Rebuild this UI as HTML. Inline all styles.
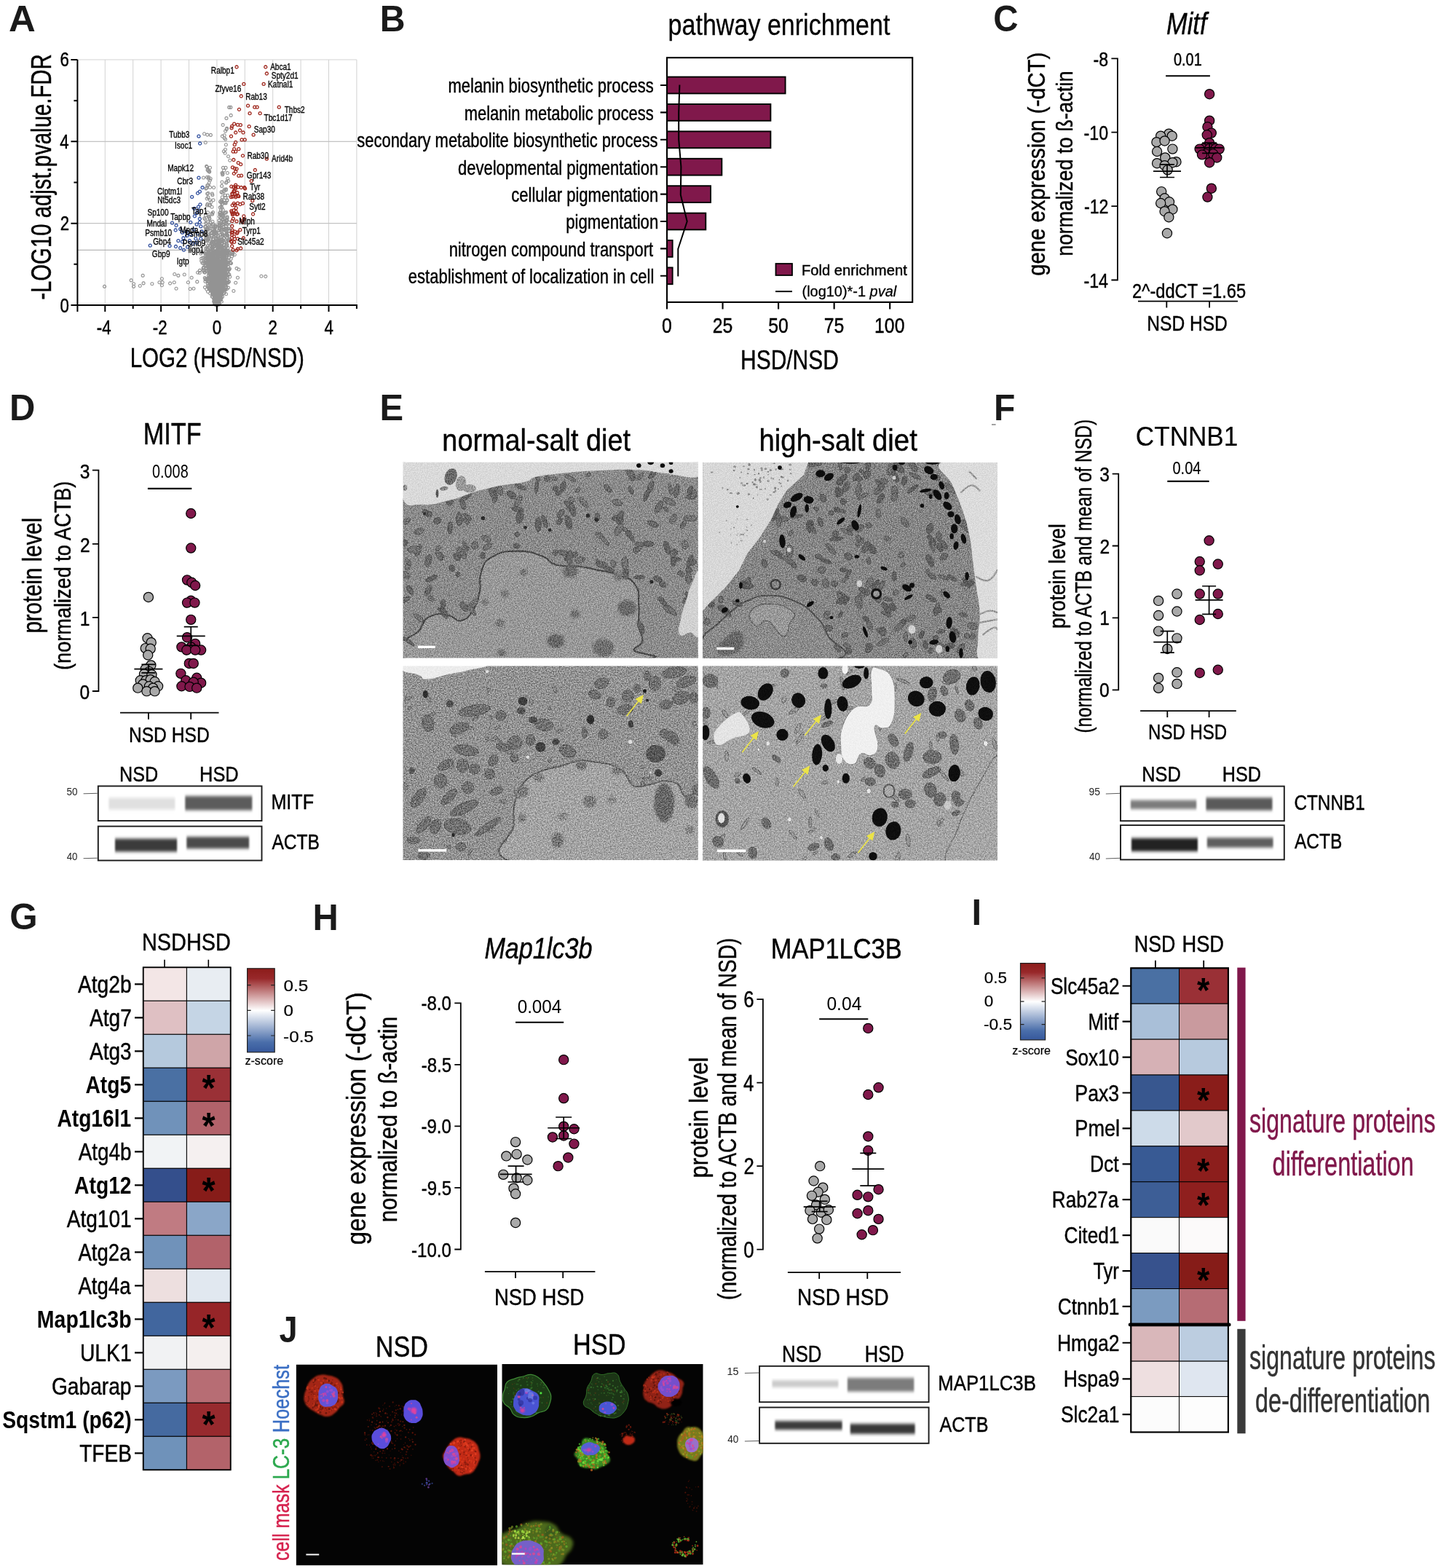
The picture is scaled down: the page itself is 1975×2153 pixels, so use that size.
<!DOCTYPE html>
<html lang="en"><head><meta charset="utf-8"><title>Figure</title>
<style>
html,body{margin:0;padding:0;background:#fff}
svg{display:block}
text{font-family:"Liberation Sans",sans-serif}
</style></head><body>
<svg width="1975" height="2153" viewBox="0 0 1975 2153">
<defs>



<filter id="bl" x="-10%" y="-30%" width="120%" height="160%"><feGaussianBlur stdDeviation="1.2 2.3"/></filter>
<clipPath id="ce1"><rect x="553.5" y="634.7" width="405.3" height="268.9"/></clipPath>
<clipPath id="ce2"><rect x="965.1" y="634.9" width="404.9" height="269"/></clipPath>
<clipPath id="ce3"><rect x="553.5" y="914.4" width="405.3" height="266.5"/></clipPath>
<clipPath id="ce4"><rect x="965.1" y="914.4" width="404.9" height="267.1"/></clipPath>
<filter id="emn1" x="0" y="0" width="100%" height="100%" color-interpolation-filters="sRGB"><feTurbulence type="fractalNoise" baseFrequency="0.7" numOctaves="3" seed="3"/><feColorMatrix type="matrix" values="0.75 0 0 0 0.12  0.75 0 0 0 0.12  0.75 0 0 0 0.12  0 0 0 0 1"/></filter>
<filter id="emn2" x="0" y="0" width="100%" height="100%" color-interpolation-filters="sRGB"><feTurbulence type="fractalNoise" baseFrequency="0.7" numOctaves="3" seed="4"/><feColorMatrix type="matrix" values="0.75 0 0 0 0.12  0.75 0 0 0 0.12  0.75 0 0 0 0.12  0 0 0 0 1"/></filter>
<filter id="emn3" x="0" y="0" width="100%" height="100%" color-interpolation-filters="sRGB"><feTurbulence type="fractalNoise" baseFrequency="0.6" numOctaves="3" seed="5"/><feColorMatrix type="matrix" values="0.85 0 0 0 0.08  0.85 0 0 0 0.08  0.85 0 0 0 0.08  0 0 0 0 1"/></filter>
<filter id="emn4" x="0" y="0" width="100%" height="100%" color-interpolation-filters="sRGB"><feTurbulence type="fractalNoise" baseFrequency="0.6" numOctaves="3" seed="6"/><feColorMatrix type="matrix" values="0.8 0 0 0 0.1  0.8 0 0 0 0.1  0.8 0 0 0 0.1  0 0 0 0 1"/></filter>
<filter id="b6" x="-30%" y="-30%" width="160%" height="160%"><feGaussianBlur stdDeviation="7"/></filter>

<linearGradient id="zg" x1="0" y1="0" x2="0" y2="1"><stop offset="0" stop-color="#8c1c1a"/><stop offset=".12" stop-color="#98282a"/><stop offset=".5" stop-color="#ffffff"/><stop offset=".88" stop-color="#4a6eaa"/><stop offset="1" stop-color="#36589c"/></linearGradient>


<clipPath id="cj1"><rect x="406.6" y="1873.5" width="276.4" height="276.1"/></clipPath>
<clipPath id="cj2"><rect x="689.3" y="1872.9" width="276.4" height="275.7"/></clipPath>
<filter id="jb2" x="-30%" y="-30%" width="160%" height="160%"><feGaussianBlur stdDeviation="2"/></filter>
<filter id="jb4" x="-30%" y="-30%" width="160%" height="160%"><feGaussianBlur stdDeviation="5"/></filter>
<filter id="jb8" x="-30%" y="-30%" width="160%" height="160%"><feGaussianBlur stdDeviation="12"/></filter>
</defs>
<rect width="1975" height="2153" fill="#fff"/>
<g id="pA">
<path d="M144.3 81.98V419M182.7 81.98V419M221.1 81.98V419M259.5 81.98V419M297.9 81.98V419M336.3 81.98V419M374.7 81.98V419M413.1 81.98V419M451.5 81.98V419M489.9 81.98V419M105.9 306.66H489.9M105.9 194.32H489.9M105.9 81.98H489.9" stroke="#d2d2d2" stroke-width="1" fill="none"/>
<path d="M105.9 343.3H489.9" stroke="#a6a6a6" stroke-width="1" fill="none"/>
<path d="M105.9 306.66H489.9 M105.9 194.32H489.9" stroke="#c0c0c0" stroke-width="1" fill="none"/>
<path d="M298.4 421a2 2 0 1 1 .1 0m0.1 0a2 2 0 1 1 .1 0m-0.1 0a2 2 0 1 1 .1 0m-1.5 -0.1a2 2 0 1 1 .1 0m1.2 0a2 2 0 1 1 .1 0m-0.2 0a2 2 0 1 1 .1 0m0.3 0a2 2 0 1 1 .1 0m-2.1 0a2 2 0 1 1 .1 0m0.8 0a2 2 0 1 1 .1 0m-1.3 0a2 2 0 1 1 .1 0m1 0a2 2 0 1 1 .1 0m0.2 -0.1a2 2 0 1 1 .1 0m-0.6 0a2 2 0 1 1 .1 0m2 0a2 2 0 1 1 .1 0m-1 -0.1a2 2 0 1 1 .1 0m-1.3 0a2 2 0 1 1 .1 0m1.4 0a2 2 0 1 1 .1 0m-1.1 0a2 2 0 1 1 .1 0m-0.2 0a2 2 0 1 1 .1 0m1.4 0a2 2 0 1 1 .1 0m-0.6 0a2 2 0 1 1 .1 0m-0.8 -0.1a2 2 0 1 1 .1 0m-1.3 0a2 2 0 1 1 .1 0m2.2 0a2 2 0 1 1 .1 0m-0.2 0a2 2 0 1 1 .1 0m0.1 0a2 2 0 1 1 .1 0m-1 0a2 2 0 1 1 .1 0m0.7 0a2 2 0 1 1 .1 0m-1.1 0a2 2 0 1 1 .1 0m1.1 0a2 2 0 1 1 .1 0m-2.4 0a2 2 0 1 1 .1 0m0.6 0a2 2 0 1 1 .1 0m1.1 -0.1a2 2 0 1 1 .1 0m-0.5 0a2 2 0 1 1 .1 0m0.4 0a2 2 0 1 1 .1 0m0.3 0a2 2 0 1 1 .1 0m0 -0.1a2 2 0 1 1 .1 0m-0.6 0a2 2 0 1 1 .1 0m0 0a2 2 0 1 1 .1 0m-1.9 0a2 2 0 1 1 .1 0m0.4 0a2 2 0 1 1 .1 0m0.1 0a2 2 0 1 1 .1 0m1 0a2 2 0 1 1 .1 0m-2.3 0a2 2 0 1 1 .1 0m0.8 0a2 2 0 1 1 .1 0m0.7 -0.1a2 2 0 1 1 .1 0m-1.1 0a2 2 0 1 1 .1 0m0.5 0a2 2 0 1 1 .1 0m-1.6 0a2 2 0 1 1 .1 0m0.8 0a2 2 0 1 1 .1 0m-0.7 0a2 2 0 1 1 .1 0m0.8 -0.1a2 2 0 1 1 .1 0m1 0a2 2 0 1 1 .1 0m-0.3 0a2 2 0 1 1 .1 0m0.2 0a2 2 0 1 1 .1 0m-0.7 0a2 2 0 1 1 .1 0m0.6 0a2 2 0 1 1 .1 0m-1.8 0a2 2 0 1 1 .1 0m-0.6 0a2 2 0 1 1 .1 0m2.5 -0.1a2 2 0 1 1 .1 0m-2.8 0a2 2 0 1 1 .1 0m1.4 0a2 2 0 1 1 .1 0m0.7 0a2 2 0 1 1 .1 0m-0.5 -0.1a2 2 0 1 1 .1 0m-0.5 0a2 2 0 1 1 .1 0m-2.5 -0.1a2 2 0 1 1 .1 0m2.2 0a2 2 0 1 1 .1 0m-1.1 -0.1a2 2 0 1 1 .1 0m4 0a2 2 0 1 1 .1 0m-4.1 0a2 2 0 1 1 .1 0m1.2 0a2 2 0 1 1 .1 0m0.3 0a2 2 0 1 1 .1 0m-1.4 0a2 2 0 1 1 .1 0m-0.3 -0.1a2 2 0 1 1 .1 0m1.3 0a2 2 0 1 1 .1 0m-1.8 0a2 2 0 1 1 .1 0m-0.2 0a2 2 0 1 1 .1 0m1 0a2 2 0 1 1 .1 0m-2.2 0a2 2 0 1 1 .1 0m0.9 0a2 2 0 1 1 .1 0m1.3 0a2 2 0 1 1 .1 0m0 -0.1a2 2 0 1 1 .1 0m-1.4 0a2 2 0 1 1 .1 0m1.3 0a2 2 0 1 1 .1 0m-0.3 0a2 2 0 1 1 .1 0m0.8 0a2 2 0 1 1 .1 0m-1.2 0a2 2 0 1 1 .1 0m-0.3 0a2 2 0 1 1 .1 0m-0.9 -0.1a2 2 0 1 1 .1 0m2.2 0a2 2 0 1 1 .1 0m-0.2 0a2 2 0 1 1 .1 0m-2.1 0a2 2 0 1 1 .1 0m0.4 0a2 2 0 1 1 .1 0m-2.2 0a2 2 0 1 1 .1 0m3.5 0a2 2 0 1 1 .1 0m-3 -0.1a2 2 0 1 1 .1 0m-0.3 0a2 2 0 1 1 .1 0m3.2 0a2 2 0 1 1 .1 0m-1.5 0a2 2 0 1 1 .1 0m-1.5 -0.1a2 2 0 1 1 .1 0m1.2 0a2 2 0 1 1 .1 0m0.5 0a2 2 0 1 1 .1 0m0 0a2 2 0 1 1 .1 0m-1.4 0a2 2 0 1 1 .1 0m-0.6 0a2 2 0 1 1 .1 0m0.7 0a2 2 0 1 1 .1 0m0.4 0a2 2 0 1 1 .1 0m-0.5 -0.1a2 2 0 1 1 .1 0m1.5 0a2 2 0 1 1 .1 0m-0.6 0a2 2 0 1 1 .1 0m0.2 0a2 2 0 1 1 .1 0m-1.8 0a2 2 0 1 1 .1 0m1.5 0a2 2 0 1 1 .1 0m-2 0a2 2 0 1 1 .1 0m-0.1 -0.1a2 2 0 1 1 .1 0m-1.1 0a2 2 0 1 1 .1 0m0 0a2 2 0 1 1 .1 0m1.2 0a2 2 0 1 1 .1 0m0.7 -0.1a2 2 0 1 1 .1 0m-1 0a2 2 0 1 1 .1 0m-0.8 0a2 2 0 1 1 .1 0m1.2 0a2 2 0 1 1 .1 0m-1 0a2 2 0 1 1 .1 0m1.5 0a2 2 0 1 1 .1 0m-0.5 -0.1a2 2 0 1 1 .1 0m-1.8 0a2 2 0 1 1 .1 0m1.7 0a2 2 0 1 1 .1 0m-2.1 -0.1a2 2 0 1 1 .1 0m-0.3 0a2 2 0 1 1 .1 0m-2 0a2 2 0 1 1 .1 0m4.2 0a2 2 0 1 1 .1 0m-2.5 -0.1a2 2 0 1 1 .1 0m2.8 0a2 2 0 1 1 .1 0m-2.5 0a2 2 0 1 1 .1 0m1.1 0a2 2 0 1 1 .1 0m2.3 0a2 2 0 1 1 .1 0m-3.2 0a2 2 0 1 1 .1 0m0.5 0a2 2 0 1 1 .1 0m-1.1 0a2 2 0 1 1 .1 0m1.1 -0.1a2 2 0 1 1 .1 0m-1.4 0a2 2 0 1 1 .1 0m0.9 0a2 2 0 1 1 .1 0m1.7 0a2 2 0 1 1 .1 0m-0.6 0a2 2 0 1 1 .1 0m-2.3 0a2 2 0 1 1 .1 0m0.8 0a2 2 0 1 1 .1 0m0.1 -0.1a2 2 0 1 1 .1 0m-1.5 0a2 2 0 1 1 .1 0m-0.1 0a2 2 0 1 1 .1 0m1.3 0a2 2 0 1 1 .1 0m1 0a2 2 0 1 1 .1 0m-1.8 0a2 2 0 1 1 .1 0m-0.6 0a2 2 0 1 1 .1 0m-0.6 0a2 2 0 1 1 .1 0m-2 0a2 2 0 1 1 .1 0m4.7 -0.1a2 2 0 1 1 .1 0m-2.4 0a2 2 0 1 1 .1 0m-0.9 -0.1a2 2 0 1 1 .1 0m1.5 0a2 2 0 1 1 .1 0m-1.9 0a2 2 0 1 1 .1 0m-2.3 0a2 2 0 1 1 .1 0m3 0a2 2 0 1 1 .1 0m-0.8 0a2 2 0 1 1 .1 0m1.3 0a2 2 0 1 1 .1 0m-0.6 0a2 2 0 1 1 .1 0m1.3 0a2 2 0 1 1 .1 0m1 0a2 2 0 1 1 .1 0m-0.1 -0.1a2 2 0 1 1 .1 0m-3.6 0a2 2 0 1 1 .1 0m1.1 0a2 2 0 1 1 .1 0m-0.7 0a2 2 0 1 1 .1 0m0.4 0a2 2 0 1 1 .1 0m0.8 0a2 2 0 1 1 .1 0m1.4 0a2 2 0 1 1 .1 0m-1.4 0a2 2 0 1 1 .1 0m1 0a2 2 0 1 1 .1 0m-0.3 -0.1a2 2 0 1 1 .1 0m-2.6 0a2 2 0 1 1 .1 0m1.4 0a2 2 0 1 1 .1 0m-0.8 -0.1a2 2 0 1 1 .1 0m-1.5 0a2 2 0 1 1 .1 0m2.7 0a2 2 0 1 1 .1 0m-0.8 0a2 2 0 1 1 .1 0m1.7 -0.1a2 2 0 1 1 .1 0m-3.7 0a2 2 0 1 1 .1 0m-0.2 -0.1a2 2 0 1 1 .1 0m0.2 0a2 2 0 1 1 .1 0m2.8 0a2 2 0 1 1 .1 0m-2.1 0a2 2 0 1 1 .1 0m-0.8 0a2 2 0 1 1 .1 0m-0.3 -0.1a2 2 0 1 1 .1 0m1.6 0a2 2 0 1 1 .1 0m1.2 0a2 2 0 1 1 .1 0m-1.6 0a2 2 0 1 1 .1 0m-0.1 0a2 2 0 1 1 .1 0m-1.8 0a2 2 0 1 1 .1 0m1.4 0a2 2 0 1 1 .1 0m0.4 -0.1a2 2 0 1 1 .1 0m-2.3 0a2 2 0 1 1 .1 0m1.6 -0.1a2 2 0 1 1 .1 0m1.3 0a2 2 0 1 1 .1 0m-0.9 -0.1a2 2 0 1 1 .1 0m-1.4 0a2 2 0 1 1 .1 0m-1 0a2 2 0 1 1 .1 0m1.5 0a2 2 0 1 1 .1 0m-2.1 0a2 2 0 1 1 .1 0m0.7 -0.1a2 2 0 1 1 .1 0m1.3 0a2 2 0 1 1 .1 0m-1.1 0a2 2 0 1 1 .1 0m2.5 0a2 2 0 1 1 .1 0m-0.6 0a2 2 0 1 1 .1 0m-0.2 0a2 2 0 1 1 .1 0m-2.5 -0.1a2 2 0 1 1 .1 0m2.4 0a2 2 0 1 1 .1 0m-1.7 0a2 2 0 1 1 .1 0m-1.6 0a2 2 0 1 1 .1 0m1.1 0a2 2 0 1 1 .1 0m2.3 0a2 2 0 1 1 .1 0m-0.7 -0.1a2 2 0 1 1 .1 0m-4.7 0a2 2 0 1 1 .1 0m3.7 -0.1a2 2 0 1 1 .1 0m0.7 0a2 2 0 1 1 .1 0m-0.5 0a2 2 0 1 1 .1 0m-2.9 0a2 2 0 1 1 .1 0m3.4 -0.1a2 2 0 1 1 .1 0m-2 0a2 2 0 1 1 .1 0m1.9 0a2 2 0 1 1 .1 0m-3.4 -0.1a2 2 0 1 1 .1 0m1.2 0a2 2 0 1 1 .1 0m1.4 0a2 2 0 1 1 .1 0m1.1 -0.1a2 2 0 1 1 .1 0m-2.3 0a2 2 0 1 1 .1 0m0 -0.1a2 2 0 1 1 .1 0m-2.4 0a2 2 0 1 1 .1 0m0.8 0a2 2 0 1 1 .1 0m-0.1 0a2 2 0 1 1 .1 0m0.9 0a2 2 0 1 1 .1 0m-1.3 -0.1a2 2 0 1 1 .1 0m2.9 0a2 2 0 1 1 .1 0m-1 0a2 2 0 1 1 .1 0m-2.8 0a2 2 0 1 1 .1 0m-0.1 0a2 2 0 1 1 .1 0m0.3 -0.1a2 2 0 1 1 .1 0m3.5 0a2 2 0 1 1 .1 0m-2.4 0a2 2 0 1 1 .1 0m-0.1 0a2 2 0 1 1 .1 0m0.9 0a2 2 0 1 1 .1 0m-0.2 0a2 2 0 1 1 .1 0m1.1 -0.1a2 2 0 1 1 .1 0m-2.7 0a2 2 0 1 1 .1 0m2.4 0a2 2 0 1 1 .1 0m0.2 0a2 2 0 1 1 .1 0m-3.1 0a2 2 0 1 1 .1 0m-1.4 0a2 2 0 1 1 .1 0m2.9 0a2 2 0 1 1 .1 0m-2.2 0a2 2 0 1 1 .1 0m3 0a2 2 0 1 1 .1 0m4.2 0a2 2 0 1 1 .1 0m-4.8 0a2 2 0 1 1 .1 0m-0.4 0a2 2 0 1 1 .1 0m-3.3 0a2 2 0 1 1 .1 0m1.2 -0.1a2 2 0 1 1 .1 0m2.4 0a2 2 0 1 1 .1 0m-2.2 0a2 2 0 1 1 .1 0m-3.8 0a2 2 0 1 1 .1 0m5.3 0a2 2 0 1 1 .1 0m0 0a2 2 0 1 1 .1 0m-3 -0.1a2 2 0 1 1 .1 0m0 0a2 2 0 1 1 .1 0m0.9 0a2 2 0 1 1 .1 0m2.1 0a2 2 0 1 1 .1 0m-4.1 0a2 2 0 1 1 .1 0m3.1 0a2 2 0 1 1 .1 0m-3.1 -0.1a2 2 0 1 1 .1 0m2.5 0a2 2 0 1 1 .1 0m-2.8 0a2 2 0 1 1 .1 0m2.6 0a2 2 0 1 1 .1 0m0.7 -0.1a2 2 0 1 1 .1 0m0.2 0a2 2 0 1 1 .1 0m-3.2 0a2 2 0 1 1 .1 0m2.4 0a2 2 0 1 1 .1 0m-0.8 0a2 2 0 1 1 .1 0m-0.6 0a2 2 0 1 1 .1 0m-0.8 0a2 2 0 1 1 .1 0m0.6 0a2 2 0 1 1 .1 0m-0.5 -0.1a2 2 0 1 1 .1 0m1.9 0a2 2 0 1 1 .1 0m-2.8 0a2 2 0 1 1 .1 0m2.3 -0.1a2 2 0 1 1 .1 0m-4.3 0a2 2 0 1 1 .1 0m-1.7 0a2 2 0 1 1 .1 0m4.1 0a2 2 0 1 1 .1 0m-0.6 0a2 2 0 1 1 .1 0m1.5 0a2 2 0 1 1 .1 0m0.9 -0.1a2 2 0 1 1 .1 0m1 0a2 2 0 1 1 .1 0m-4.5 -0.1a2 2 0 1 1 .1 0m3.1 0a2 2 0 1 1 .1 0m-0.8 0a2 2 0 1 1 .1 0m0.1 0a2 2 0 1 1 .1 0m-1.2 0a2 2 0 1 1 .1 0m1.1 0a2 2 0 1 1 .1 0m-3.4 0a2 2 0 1 1 .1 0m-0.2 -0.1a2 2 0 1 1 .1 0m3.7 0a2 2 0 1 1 .1 0m-3.6 -0.1a2 2 0 1 1 .1 0m-0.4 0a2 2 0 1 1 .1 0m3.1 -0.1a2 2 0 1 1 .1 0m-1.2 0a2 2 0 1 1 .1 0m2.5 0a2 2 0 1 1 .1 0m-2.4 0a2 2 0 1 1 .1 0m-1.1 0a2 2 0 1 1 .1 0m1 0a2 2 0 1 1 .1 0m0.5 -0.1a2 2 0 1 1 .1 0m-3.2 0a2 2 0 1 1 .1 0m-0.1 0a2 2 0 1 1 .1 0m2.1 0a2 2 0 1 1 .1 0m-0.7 -0.1a2 2 0 1 1 .1 0m0.7 0a2 2 0 1 1 .1 0m0.2 0a2 2 0 1 1 .1 0m-2.7 -0.1a2 2 0 1 1 .1 0m4.2 0a2 2 0 1 1 .1 0m-3.8 0a2 2 0 1 1 .1 0m-0.7 0a2 2 0 1 1 .1 0m0.1 0a2 2 0 1 1 .1 0m-0.8 0a2 2 0 1 1 .1 0m-1 0a2 2 0 1 1 .1 0m0.9 -0.1a2 2 0 1 1 .1 0m-0.5 0a2 2 0 1 1 .1 0m5.1 -0.1a2 2 0 1 1 .1 0m-2.5 0a2 2 0 1 1 .1 0m-0.7 0a2 2 0 1 1 .1 0m-0.7 0a2 2 0 1 1 .1 0m1.1 0a2 2 0 1 1 .1 0m-0.3 -0.1a2 2 0 1 1 .1 0m2.4 0a2 2 0 1 1 .1 0m-1.1 0a2 2 0 1 1 .1 0m-2 0a2 2 0 1 1 .1 0m-0.5 0a2 2 0 1 1 .1 0m2.5 -0.1a2 2 0 1 1 .1 0m-2.5 0a2 2 0 1 1 .1 0m4.4 0a2 2 0 1 1 .1 0m-1 0a2 2 0 1 1 .1 0m-2.1 0a2 2 0 1 1 .1 0m-4 0a2 2 0 1 1 .1 0m0.7 0a2 2 0 1 1 .1 0m-0.6 0a2 2 0 1 1 .1 0m5.6 -0.1a2 2 0 1 1 .1 0m-5.3 0a2 2 0 1 1 .1 0m2.3 -0.1a2 2 0 1 1 .1 0m1.1 0a2 2 0 1 1 .1 0m-0.4 0a2 2 0 1 1 .1 0m-3.1 0a2 2 0 1 1 .1 0m4.4 0a2 2 0 1 1 .1 0m-3.4 -0.1a2 2 0 1 1 .1 0m2 0a2 2 0 1 1 .1 0m1.3 0a2 2 0 1 1 .1 0m-4.7 0a2 2 0 1 1 .1 0m4.1 0a2 2 0 1 1 .1 0m-3.7 -0.1a2 2 0 1 1 .1 0m-0.4 0a2 2 0 1 1 .1 0m-1.3 0a2 2 0 1 1 .1 0m0.3 0a2 2 0 1 1 .1 0m4.8 -0.1a2 2 0 1 1 .1 0m-3.4 0a2 2 0 1 1 .1 0m-0.5 0a2 2 0 1 1 .1 0m6.2 0a2 2 0 1 1 .1 0m-6.8 0a2 2 0 1 1 .1 0m2.5 0a2 2 0 1 1 .1 0m-0.2 -0.1a2 2 0 1 1 .1 0m1.2 0a2 2 0 1 1 .1 0m0.3 0a2 2 0 1 1 .1 0m0.3 0a2 2 0 1 1 .1 0m-3.2 0a2 2 0 1 1 .1 0m0.2 0a2 2 0 1 1 .1 0m2 0a2 2 0 1 1 .1 0m-5.1 0a2 2 0 1 1 .1 0m2.4 0a2 2 0 1 1 .1 0m-2.5 -0.1a2 2 0 1 1 .1 0m4.6 0a2 2 0 1 1 .1 0m-3.3 0a2 2 0 1 1 .1 0m3.6 0a2 2 0 1 1 .1 0m-5 0a2 2 0 1 1 .1 0m3.2 0a2 2 0 1 1 .1 0m-1.6 -0.1a2 2 0 1 1 .1 0m-2.3 0a2 2 0 1 1 .1 0m3.5 -0.1a2 2 0 1 1 .1 0m0.8 -0.1a2 2 0 1 1 .1 0m-3.1 0a2 2 0 1 1 .1 0m2.2 0a2 2 0 1 1 .1 0m-0.2 0a2 2 0 1 1 .1 0m0.1 0a2 2 0 1 1 .1 0m-2.7 -0.1a2 2 0 1 1 .1 0m5.3 0a2 2 0 1 1 .1 0m-6.3 0a2 2 0 1 1 .1 0m4 0a2 2 0 1 1 .1 0m1.8 0a2 2 0 1 1 .1 0m-0.9 0a2 2 0 1 1 .1 0m-0.3 -0.1a2 2 0 1 1 .1 0m-5.2 0a2 2 0 1 1 .1 0m5.1 0a2 2 0 1 1 .1 0m-0.6 0a2 2 0 1 1 .1 0m-2.5 0a2 2 0 1 1 .1 0m-1.9 -0.1a2 2 0 1 1 .1 0m3.1 0a2 2 0 1 1 .1 0m-3.3 0a2 2 0 1 1 .1 0m4.7 0a2 2 0 1 1 .1 0m-0.1 0a2 2 0 1 1 .1 0m-1.7 0a2 2 0 1 1 .1 0m-1.1 0a2 2 0 1 1 .1 0m-2.4 -0.1a2 2 0 1 1 .1 0m3.1 0a2 2 0 1 1 .1 0m-4 0a2 2 0 1 1 .1 0m1.2 0a2 2 0 1 1 .1 0m4.8 0a2 2 0 1 1 .1 0m0 -0.1a2 2 0 1 1 .1 0m-0.2 0a2 2 0 1 1 .1 0m-6.4 0a2 2 0 1 1 .1 0m-0.4 0a2 2 0 1 1 .1 0m0.8 0a2 2 0 1 1 .1 0m1.6 0a2 2 0 1 1 .1 0m0.6 -0.1a2 2 0 1 1 .1 0m2.8 0a2 2 0 1 1 .1 0m-1.4 0a2 2 0 1 1 .1 0m-3.3 0a2 2 0 1 1 .1 0m-1.8 0a2 2 0 1 1 .1 0m0.7 -0.1a2 2 0 1 1 .1 0m3.1 0a2 2 0 1 1 .1 0m1.6 0a2 2 0 1 1 .1 0m0.1 -0.1a2 2 0 1 1 .1 0m-5.2 0a2 2 0 1 1 .1 0m2.8 0a2 2 0 1 1 .1 0m-1 0a2 2 0 1 1 .1 0m-0.6 0a2 2 0 1 1 .1 0m3 0a2 2 0 1 1 .1 0m-0.4 0a2 2 0 1 1 .1 0m-3.8 -0.1a2 2 0 1 1 .1 0m-0.2 0a2 2 0 1 1 .1 0m-0.8 -0.1a2 2 0 1 1 .1 0m0.4 0a2 2 0 1 1 .1 0m3.5 -0.1a2 2 0 1 1 .1 0m1.4 0a2 2 0 1 1 .1 0m-4.8 0a2 2 0 1 1 .1 0m0.8 -0.1a2 2 0 1 1 .1 0m1.6 0a2 2 0 1 1 .1 0m2.1 0a2 2 0 1 1 .1 0m-5.3 0a2 2 0 1 1 .1 0m-2.8 -0.1a2 2 0 1 1 .1 0m7 0a2 2 0 1 1 .1 0m-4 0a2 2 0 1 1 .1 0m-2.7 -0.1a2 2 0 1 1 .1 0m4.9 0a2 2 0 1 1 .1 0m-2.9 0a2 2 0 1 1 .1 0m1.1 -0.1a2 2 0 1 1 .1 0m3.8 0a2 2 0 1 1 .1 0m-3.2 0a2 2 0 1 1 .1 0m2.1 0a2 2 0 1 1 .1 0m-5.1 -0.1a2 2 0 1 1 .1 0m4.3 0a2 2 0 1 1 .1 0m-5.6 0a2 2 0 1 1 .1 0m0.7 0a2 2 0 1 1 .1 0m0.6 0a2 2 0 1 1 .1 0m1.6 0a2 2 0 1 1 .1 0m1 -0.1a2 2 0 1 1 .1 0m-0.1 0a2 2 0 1 1 .1 0m-2 0a2 2 0 1 1 .1 0m2.8 0a2 2 0 1 1 .1 0m-5.5 -0.1a2 2 0 1 1 .1 0m9.5 0a2 2 0 1 1 .1 0m-8.5 0a2 2 0 1 1 .1 0m1.5 0a2 2 0 1 1 .1 0m-0.4 0a2 2 0 1 1 .1 0m2 0a2 2 0 1 1 .1 0m-2.9 0a2 2 0 1 1 .1 0m1.4 0a2 2 0 1 1 .1 0m1.4 0a2 2 0 1 1 .1 0m-3.1 0a2 2 0 1 1 .1 0m1.8 -0.1a2 2 0 1 1 .1 0m0 0a2 2 0 1 1 .1 0m4.5 0a2 2 0 1 1 .1 0m0 0a2 2 0 1 1 .1 0m-3 -0.1a2 2 0 1 1 .1 0m-3.8 0a2 2 0 1 1 .1 0m1.2 0a2 2 0 1 1 .1 0m3.6 0a2 2 0 1 1 .1 0m-2.8 0a2 2 0 1 1 .1 0m-2.9 0a2 2 0 1 1 .1 0m1.2 -0.1a2 2 0 1 1 .1 0m0.6 0a2 2 0 1 1 .1 0m-2.1 0a2 2 0 1 1 .1 0m2.6 0a2 2 0 1 1 .1 0m3 -0.1a2 2 0 1 1 .1 0m-4.9 0a2 2 0 1 1 .1 0m7.4 0a2 2 0 1 1 .1 0m-5.1 0a2 2 0 1 1 .1 0m0.6 0a2 2 0 1 1 .1 0m-4.1 0a2 2 0 1 1 .1 0m2.2 0a2 2 0 1 1 .1 0m0.4 0a2 2 0 1 1 .1 0m2.4 0a2 2 0 1 1 .1 0m-1.2 -0.1a2 2 0 1 1 .1 0m-6.2 0a2 2 0 1 1 .1 0m3.9 0a2 2 0 1 1 .1 0m1 -0.1a2 2 0 1 1 .1 0m-4.2 0a2 2 0 1 1 .1 0m6.5 0a2 2 0 1 1 .1 0m-0.3 0a2 2 0 1 1 .1 0m0.6 -0.1a2 2 0 1 1 .1 0m-3.3 0a2 2 0 1 1 .1 0m0.2 0a2 2 0 1 1 .1 0m-1.4 0a2 2 0 1 1 .1 0m0.2 -0.1a2 2 0 1 1 .1 0m-0.1 0a2 2 0 1 1 .1 0m0.9 0a2 2 0 1 1 .1 0m0.3 0a2 2 0 1 1 .1 0m0.2 0a2 2 0 1 1 .1 0m-2.8 0a2 2 0 1 1 .1 0m1.5 -0.1a2 2 0 1 1 .1 0m-2.6 0a2 2 0 1 1 .1 0m2.4 0a2 2 0 1 1 .1 0m-0.8 0a2 2 0 1 1 .1 0m-3 -0.1a2 2 0 1 1 .1 0m7.2 -0.1a2 2 0 1 1 .1 0m-3.3 0a2 2 0 1 1 .1 0m-3.5 -0.1a2 2 0 1 1 .1 0m5.7 0a2 2 0 1 1 .1 0m-4.5 0a2 2 0 1 1 .1 0m4.2 -0.1a2 2 0 1 1 .1 0m1.9 0a2 2 0 1 1 .1 0m-7.4 0a2 2 0 1 1 .1 0m-1.8 0a2 2 0 1 1 .1 0m2.7 0a2 2 0 1 1 .1 0m-2.6 0a2 2 0 1 1 .1 0m6.6 0a2 2 0 1 1 .1 0m-5.2 0a2 2 0 1 1 .1 0m0.1 0a2 2 0 1 1 .1 0m2.1 0a2 2 0 1 1 .1 0m2 -0.1a2 2 0 1 1 .1 0m-3.5 0a2 2 0 1 1 .1 0m-2.6 0a2 2 0 1 1 .1 0m6.3 0a2 2 0 1 1 .1 0m-5.5 0a2 2 0 1 1 .1 0m4.1 0a2 2 0 1 1 .1 0m-0.2 0a2 2 0 1 1 .1 0m-0.3 0a2 2 0 1 1 .1 0m-1.1 0a2 2 0 1 1 .1 0m1.4 -0.1a2 2 0 1 1 .1 0m-2.6 0a2 2 0 1 1 .1 0m-1.7 0a2 2 0 1 1 .1 0m-0.7 0a2 2 0 1 1 .1 0m-1.2 -0.1a2 2 0 1 1 .1 0m7 0a2 2 0 1 1 .1 0m-2.1 0a2 2 0 1 1 .1 0m-3.2 0a2 2 0 1 1 .1 0m3.1 -0.1a2 2 0 1 1 .1 0m-4.6 0a2 2 0 1 1 .1 0m4.7 0a2 2 0 1 1 .1 0m-5.2 0a2 2 0 1 1 .1 0m6.8 0a2 2 0 1 1 .1 0m-10 0a2 2 0 1 1 .1 0m5 0a2 2 0 1 1 .1 0m-1.1 0a2 2 0 1 1 .1 0m4 0a2 2 0 1 1 .1 0m-3.2 0a2 2 0 1 1 .1 0m3.8 -0.1a2 2 0 1 1 .1 0m-2.1 0a2 2 0 1 1 .1 0m2.3 0a2 2 0 1 1 .1 0m-3 0a2 2 0 1 1 .1 0m0.4 0a2 2 0 1 1 .1 0m1.4 0a2 2 0 1 1 .1 0m-0.2 0a2 2 0 1 1 .1 0m1.9 -0.1a2 2 0 1 1 .1 0m-6.6 0a2 2 0 1 1 .1 0m2 0a2 2 0 1 1 .1 0m3.1 0a2 2 0 1 1 .1 0m-3.5 -0.1a2 2 0 1 1 .1 0m3.7 0a2 2 0 1 1 .1 0m-5.2 0a2 2 0 1 1 .1 0m2.3 0a2 2 0 1 1 .1 0m-1.3 -0.1a2 2 0 1 1 .1 0m-2.6 0a2 2 0 1 1 .1 0m-0.7 -0.1a2 2 0 1 1 .1 0m6.6 -0.1a2 2 0 1 1 .1 0m-1.4 0a2 2 0 1 1 .1 0m-1.9 0a2 2 0 1 1 .1 0m-2.5 0a2 2 0 1 1 .1 0m9.4 0a2 2 0 1 1 .1 0m-3.8 0a2 2 0 1 1 .1 0m0.5 0a2 2 0 1 1 .1 0m-2.6 -0.1a2 2 0 1 1 .1 0m-8.8 0a2 2 0 1 1 .1 0m7.6 0a2 2 0 1 1 .1 0m0.4 0a2 2 0 1 1 .1 0m-3.8 0a2 2 0 1 1 .1 0m1.4 0a2 2 0 1 1 .1 0m4.2 0a2 2 0 1 1 .1 0m-4 -0.1a2 2 0 1 1 .1 0m4.1 0a2 2 0 1 1 .1 0m-1 0a2 2 0 1 1 .1 0m-4.8 0a2 2 0 1 1 .1 0m4 0a2 2 0 1 1 .1 0m-2.9 0a2 2 0 1 1 .1 0m0.7 -0.1a2 2 0 1 1 .1 0m1.1 0a2 2 0 1 1 .1 0m-1.3 0a2 2 0 1 1 .1 0m0.5 0a2 2 0 1 1 .1 0m-3.9 0a2 2 0 1 1 .1 0m2 0a2 2 0 1 1 .1 0m-2.1 -0.1a2 2 0 1 1 .1 0m2.4 0a2 2 0 1 1 .1 0m1 0a2 2 0 1 1 .1 0m-4.1 0a2 2 0 1 1 .1 0m0.9 0a2 2 0 1 1 .1 0m2.6 -0.1a2 2 0 1 1 .1 0m-4 -0.1a2 2 0 1 1 .1 0m7.6 0a2 2 0 1 1 .1 0m-6.3 0a2 2 0 1 1 .1 0m-1 -0.1a2 2 0 1 1 .1 0m4.5 0a2 2 0 1 1 .1 0m1.4 0a2 2 0 1 1 .1 0m2 -0.1a2 2 0 1 1 .1 0m-9.2 0a2 2 0 1 1 .1 0m0.6 0a2 2 0 1 1 .1 0m-1.2 0a2 2 0 1 1 .1 0m2.6 0a2 2 0 1 1 .1 0m4.4 -0.1a2 2 0 1 1 .1 0m-6.5 0a2 2 0 1 1 .1 0m7 0a2 2 0 1 1 .1 0m-6.7 0a2 2 0 1 1 .1 0m6.8 0a2 2 0 1 1 .1 0m-2.2 -0.1a2 2 0 1 1 .1 0m-0.4 0a2 2 0 1 1 .1 0m-4.3 -0.1a2 2 0 1 1 .1 0m4.6 0a2 2 0 1 1 .1 0m-5.2 0a2 2 0 1 1 .1 0m0.2 0a2 2 0 1 1 .1 0m-1.1 -0.1a2 2 0 1 1 .1 0m4.4 0a2 2 0 1 1 .1 0m0.1 0a2 2 0 1 1 .1 0m-3.1 0a2 2 0 1 1 .1 0m-1.7 0a2 2 0 1 1 .1 0m4 0a2 2 0 1 1 .1 0m-2.1 -0.1a2 2 0 1 1 .1 0m3.7 0a2 2 0 1 1 .1 0m-2.8 -0.1a2 2 0 1 1 .1 0m1.2 0a2 2 0 1 1 .1 0m-1.1 0a2 2 0 1 1 .1 0m-4.1 0a2 2 0 1 1 .1 0m1.2 0a2 2 0 1 1 .1 0m5.7 -0.1a2 2 0 1 1 .1 0m-3.6 0a2 2 0 1 1 .1 0m2.9 0a2 2 0 1 1 .1 0m-0.1 -0.1a2 2 0 1 1 .1 0m-4.3 0a2 2 0 1 1 .1 0m5.8 0a2 2 0 1 1 .1 0m-0.8 -0.1a2 2 0 1 1 .1 0m-0.6 0a2 2 0 1 1 .1 0m-4.1 0a2 2 0 1 1 .1 0m4.3 0a2 2 0 1 1 .1 0m1 -0.1a2 2 0 1 1 .1 0m-6.1 0a2 2 0 1 1 .1 0m6 0a2 2 0 1 1 .1 0m-6.1 0a2 2 0 1 1 .1 0m4.4 0a2 2 0 1 1 .1 0m-3.4 -0.2a2 2 0 1 1 .1 0m-3.9 0a2 2 0 1 1 .1 0m2.9 0a2 2 0 1 1 .1 0m-1.7 -0.1a2 2 0 1 1 .1 0m-0.8 0a2 2 0 1 1 .1 0m4.7 0a2 2 0 1 1 .1 0m1.5 0a2 2 0 1 1 .1 0m-7.4 0a2 2 0 1 1 .1 0m1.1 0a2 2 0 1 1 .1 0m1.1 -0.1a2 2 0 1 1 .1 0m4.3 0a2 2 0 1 1 .1 0m0.3 -0.1a2 2 0 1 1 .1 0m-6.2 0a2 2 0 1 1 .1 0m9.3 0a2 2 0 1 1 .1 0m-4 0a2 2 0 1 1 .1 0m1.1 0a2 2 0 1 1 .1 0m-1.8 0a2 2 0 1 1 .1 0m-0.2 -0.1a2 2 0 1 1 .1 0m-3.1 0a2 2 0 1 1 .1 0m-2.5 0a2 2 0 1 1 .1 0m5 -0.1a2 2 0 1 1 .1 0m-5 0a2 2 0 1 1 .1 0m0.9 -0.1a2 2 0 1 1 .1 0m-1.7 0a2 2 0 1 1 .1 0m7.3 0a2 2 0 1 1 .1 0m-3.6 0a2 2 0 1 1 .1 0m-5.2 0a2 2 0 1 1 .1 0m6.4 -0.1a2 2 0 1 1 .1 0m-1.8 0a2 2 0 1 1 .1 0m-0.2 0a2 2 0 1 1 .1 0m-0.4 0a2 2 0 1 1 .1 0m3.4 -0.1a2 2 0 1 1 .1 0m-3.6 0a2 2 0 1 1 .1 0m2.4 0a2 2 0 1 1 .1 0m-4.3 0a2 2 0 1 1 .1 0m-1.2 0a2 2 0 1 1 .1 0m2.9 -0.1a2 2 0 1 1 .1 0m-2.2 0a2 2 0 1 1 .1 0m1.8 0a2 2 0 1 1 .1 0m-0.7 0a2 2 0 1 1 .1 0m-2.2 0a2 2 0 1 1 .1 0m2.1 0a2 2 0 1 1 .1 0m-1.4 -0.1a2 2 0 1 1 .1 0m0.6 0a2 2 0 1 1 .1 0m2.9 0a2 2 0 1 1 .1 0m4.7 0a2 2 0 1 1 .1 0m-0.2 0a2 2 0 1 1 .1 0m-3.7 0a2 2 0 1 1 .1 0m0.3 0a2 2 0 1 1 .1 0m-4.5 -0.1a2 2 0 1 1 .1 0m6.9 0a2 2 0 1 1 .1 0m0 0a2 2 0 1 1 .1 0m-4.9 -0.1a2 2 0 1 1 .1 0m-3 -0.1a2 2 0 1 1 .1 0m5.5 -0.1a2 2 0 1 1 .1 0m1.7 0a2 2 0 1 1 .1 0m0 0a2 2 0 1 1 .1 0m-3.4 0a2 2 0 1 1 .1 0m2.5 0a2 2 0 1 1 .1 0m-4.4 0a2 2 0 1 1 .1 0m3.7 0a2 2 0 1 1 .1 0m-0.6 0a2 2 0 1 1 .1 0m-4.1 0a2 2 0 1 1 .1 0m0.4 -0.1a2 2 0 1 1 .1 0m0.1 0a2 2 0 1 1 .1 0m3.3 -0.1a2 2 0 1 1 .1 0m-8.3 0a2 2 0 1 1 .1 0m-0.6 0a2 2 0 1 1 .1 0m17.6 -0.1a2 2 0 1 1 .1 0m-9 0a2 2 0 1 1 .1 0m-6.8 0a2 2 0 1 1 .1 0m5.4 0a2 2 0 1 1 .1 0m-1.4 -0.1a2 2 0 1 1 .1 0m-2.2 0a2 2 0 1 1 .1 0m-1.3 0a2 2 0 1 1 .1 0m4.2 0a2 2 0 1 1 .1 0m3.6 0a2 2 0 1 1 .1 0m-1.1 0a2 2 0 1 1 .1 0m-2.9 -0.1a2 2 0 1 1 .1 0m1.2 -0.1a2 2 0 1 1 .1 0m-2.1 0a2 2 0 1 1 .1 0m-2.9 0a2 2 0 1 1 .1 0m4.9 0a2 2 0 1 1 .1 0m-6.4 -0.1a2 2 0 1 1 .1 0m0.9 0a2 2 0 1 1 .1 0m0.4 0a2 2 0 1 1 .1 0m-5.3 0a2 2 0 1 1 .1 0m2.6 -0.1a2 2 0 1 1 .1 0m3.7 0a2 2 0 1 1 .1 0m6 0a2 2 0 1 1 .1 0m-5 0a2 2 0 1 1 .1 0m7.4 -0.1a2 2 0 1 1 .1 0m-4.2 0a2 2 0 1 1 .1 0m-5.1 0a2 2 0 1 1 .1 0m0.9 -0.1a2 2 0 1 1 .1 0m-3.4 0a2 2 0 1 1 .1 0m-6.7 0a2 2 0 1 1 .1 0m10.7 0a2 2 0 1 1 .1 0m1.8 -0.1a2 2 0 1 1 .1 0m1.5 -0.1a2 2 0 1 1 .1 0m-4.2 0a2 2 0 1 1 .1 0m1.7 0a2 2 0 1 1 .1 0m-8.4 0a2 2 0 1 1 .1 0m3.3 -0.1a2 2 0 1 1 .1 0m5.3 -0.1a2 2 0 1 1 .1 0m-0.2 0a2 2 0 1 1 .1 0m1.4 0a2 2 0 1 1 .1 0m-10.9 -0.1a2 2 0 1 1 .1 0m3.6 0a2 2 0 1 1 .1 0m1 0a2 2 0 1 1 .1 0m-1 0a2 2 0 1 1 .1 0m2.9 0a2 2 0 1 1 .1 0m-2.1 0a2 2 0 1 1 .1 0m-4.4 -0.1a2 2 0 1 1 .1 0m0.2 0a2 2 0 1 1 .1 0m2.6 0a2 2 0 1 1 .1 0m2 0a2 2 0 1 1 .1 0m-3.2 0a2 2 0 1 1 .1 0m4.6 0a2 2 0 1 1 .1 0m-4.2 0a2 2 0 1 1 .1 0m7.2 -0.1a2 2 0 1 1 .1 0m-2 0a2 2 0 1 1 .1 0m-1.7 -0.1a2 2 0 1 1 .1 0m2.1 0a2 2 0 1 1 .1 0m-7 0a2 2 0 1 1 .1 0m13.8 0a2 2 0 1 1 .1 0m-11.6 -0.1a2 2 0 1 1 .1 0m1 0a2 2 0 1 1 .1 0m-4.5 0a2 2 0 1 1 .1 0m4.3 0a2 2 0 1 1 .1 0m3.9 0a2 2 0 1 1 .1 0m-6 0a2 2 0 1 1 .1 0m0.6 -0.1a2 2 0 1 1 .1 0m-2.1 0a2 2 0 1 1 .1 0m0.6 -0.1a2 2 0 1 1 .1 0m6.6 0a2 2 0 1 1 .1 0m2.1 0a2 2 0 1 1 .1 0m-10.8 0a2 2 0 1 1 .1 0m4.9 -0.1a2 2 0 1 1 .1 0m4.9 0a2 2 0 1 1 .1 0m-10.6 0a2 2 0 1 1 .1 0m11.1 -0.1a2 2 0 1 1 .1 0m-4.9 0a2 2 0 1 1 .1 0m-1.4 -0.1a2 2 0 1 1 .1 0m-2.4 0a2 2 0 1 1 .1 0m5.2 0a2 2 0 1 1 .1 0m-2.2 0a2 2 0 1 1 .1 0m3.2 0a2 2 0 1 1 .1 0m2.2 -0.1a2 2 0 1 1 .1 0m-6.8 -0.1a2 2 0 1 1 .1 0m4.4 -0.1a2 2 0 1 1 .1 0m2.8 0a2 2 0 1 1 .1 0m-2.1 -0.1a2 2 0 1 1 .1 0m-8 0a2 2 0 1 1 .1 0m-0.4 0a2 2 0 1 1 .1 0m7.6 0a2 2 0 1 1 .1 0m-0.2 -0.1a2 2 0 1 1 .1 0m-0.4 0a2 2 0 1 1 .1 0m1.4 -0.1a2 2 0 1 1 .1 0m-8.6 0a2 2 0 1 1 .1 0m-1.1 0a2 2 0 1 1 .1 0m0.5 0a2 2 0 1 1 .1 0m0.8 -0.1a2 2 0 1 1 .1 0m7.1 0a2 2 0 1 1 .1 0m1.4 0a2 2 0 1 1 .1 0m-11.2 0a2 2 0 1 1 .1 0m7.2 0a2 2 0 1 1 .1 0m3.2 0a2 2 0 1 1 .1 0m-9.6 0a2 2 0 1 1 .1 0m0.6 0a2 2 0 1 1 .1 0m4.3 -0.1a2 2 0 1 1 .1 0m-0.9 0a2 2 0 1 1 .1 0m1.1 0a2 2 0 1 1 .1 0m-3.6 0a2 2 0 1 1 .1 0m-1.4 -0.1a2 2 0 1 1 .1 0m4.6 0a2 2 0 1 1 .1 0m-5.2 0a2 2 0 1 1 .1 0m-1.5 -0.1a2 2 0 1 1 .1 0m-0.3 0a2 2 0 1 1 .1 0m8.4 0a2 2 0 1 1 .1 0m1.2 0a2 2 0 1 1 .1 0m-4.6 -0.1a2 2 0 1 1 .1 0m-13 0a2 2 0 1 1 .1 0m10.9 0a2 2 0 1 1 .1 0m0.4 0a2 2 0 1 1 .1 0m-0.3 0a2 2 0 1 1 .1 0m4.8 0a2 2 0 1 1 .1 0m-3.4 -0.1a2 2 0 1 1 .1 0m-4 0a2 2 0 1 1 .1 0m0 0a2 2 0 1 1 .1 0m4.9 0a2 2 0 1 1 .1 0m-4.6 0a2 2 0 1 1 .1 0m5.7 0a2 2 0 1 1 .1 0m-7.9 0a2 2 0 1 1 .1 0m5.3 0a2 2 0 1 1 .1 0m4.1 0a2 2 0 1 1 .1 0m0.8 -0.1a2 2 0 1 1 .1 0m-1.1 0a2 2 0 1 1 .1 0m-2.5 0a2 2 0 1 1 .1 0m-9.5 0a2 2 0 1 1 .1 0m5.8 0a2 2 0 1 1 .1 0m-4.6 0a2 2 0 1 1 .1 0m11.7 -0.1a2 2 0 1 1 .1 0m-5.6 0a2 2 0 1 1 .1 0m4.7 0a2 2 0 1 1 .1 0m-0.1 0a2 2 0 1 1 .1 0m-9.3 -0.1a2 2 0 1 1 .1 0m3.8 0a2 2 0 1 1 .1 0m0.4 0a2 2 0 1 1 .1 0m5.2 0a2 2 0 1 1 .1 0m-11.9 0a2 2 0 1 1 .1 0m13.5 -0.1a2 2 0 1 1 .1 0m-3.4 0a2 2 0 1 1 .1 0m-5.8 -0.1a2 2 0 1 1 .1 0m-1.6 -0.1a2 2 0 1 1 .1 0m0 0a2 2 0 1 1 .1 0m1.8 0a2 2 0 1 1 .1 0m-2.9 0a2 2 0 1 1 .1 0m10.6 0a2 2 0 1 1 .1 0m-13.2 -0.1a2 2 0 1 1 .1 0m6.5 0a2 2 0 1 1 .1 0m2.9 0a2 2 0 1 1 .1 0m-4.7 -0.1a2 2 0 1 1 .1 0m1.1 0a2 2 0 1 1 .1 0m-5.2 0a2 2 0 1 1 .1 0m2 0a2 2 0 1 1 .1 0m0.6 -0.1a2 2 0 1 1 .1 0m4.8 0a2 2 0 1 1 .1 0m-7.6 0a2 2 0 1 1 .1 0m3.4 -0.1a2 2 0 1 1 .1 0m3.4 0a2 2 0 1 1 .1 0m-7.4 -0.1a2 2 0 1 1 .1 0m2.9 0a2 2 0 1 1 .1 0m5 0a2 2 0 1 1 .1 0m-7.1 0a2 2 0 1 1 .1 0m8.5 0a2 2 0 1 1 .1 0m0.4 -0.1a2 2 0 1 1 .1 0m-12.6 0a2 2 0 1 1 .1 0m3.2 -0.1a2 2 0 1 1 .1 0m3.2 0a2 2 0 1 1 .1 0m5.7 0a2 2 0 1 1 .1 0m-3.8 -0.1a2 2 0 1 1 .1 0m-2.2 -0.1a2 2 0 1 1 .1 0m2.8 0a2 2 0 1 1 .1 0m2.1 0a2 2 0 1 1 .1 0m-0.3 -0.1a2 2 0 1 1 .1 0m-9.9 0a2 2 0 1 1 .1 0m1.5 0a2 2 0 1 1 .1 0m5.5 0a2 2 0 1 1 .1 0m-5 0a2 2 0 1 1 .1 0m-0.9 0a2 2 0 1 1 .1 0m-0.5 -0.1a2 2 0 1 1 .1 0m4.3 0a2 2 0 1 1 .1 0m1.8 0a2 2 0 1 1 .1 0m-0.8 0a2 2 0 1 1 .1 0m-1.4 0a2 2 0 1 1 .1 0m-6.9 -0.1a2 2 0 1 1 .1 0m10.1 0a2 2 0 1 1 .1 0m-7.8 0a2 2 0 1 1 .1 0m9.8 -0.1a2 2 0 1 1 .1 0m0.6 0a2 2 0 1 1 .1 0m-4.2 0a2 2 0 1 1 .1 0m-5 0a2 2 0 1 1 .1 0m-2 -0.1a2 2 0 1 1 .1 0m4.5 0a2 2 0 1 1 .1 0m-1.8 0a2 2 0 1 1 .1 0m-5.5 -0.1a2 2 0 1 1 .1 0m13.9 0a2 2 0 1 1 .1 0m-1.8 0a2 2 0 1 1 .1 0m-11.5 -0.1a2 2 0 1 1 .1 0m13.5 0a2 2 0 1 1 .1 0m-12.7 0a2 2 0 1 1 .1 0m5.1 -0.1a2 2 0 1 1 .1 0m6.1 0a2 2 0 1 1 .1 0m-2.2 0a2 2 0 1 1 .1 0m-13.3 0a2 2 0 1 1 .1 0m20.9 0a2 2 0 1 1 .1 0m-11 -0.1a2 2 0 1 1 .1 0m-8.4 0a2 2 0 1 1 .1 0m6.3 0a2 2 0 1 1 .1 0m10 0a2 2 0 1 1 .1 0m0.1 0a2 2 0 1 1 .1 0m-6.1 -0.1a2 2 0 1 1 .1 0m3.4 0a2 2 0 1 1 .1 0m-7.3 0a2 2 0 1 1 .1 0m-7.5 -0.1a2 2 0 1 1 .1 0m10.6 0a2 2 0 1 1 .1 0m7.7 -0.1a2 2 0 1 1 .1 0m-16.6 0a2 2 0 1 1 .1 0m7.1 0a2 2 0 1 1 .1 0m-4.4 0a2 2 0 1 1 .1 0m-6.1 0a2 2 0 1 1 .1 0m5.2 0a2 2 0 1 1 .1 0m-2.2 -0.1a2 2 0 1 1 .1 0m8.2 0a2 2 0 1 1 .1 0m-1 -0.1a2 2 0 1 1 .1 0m-4.2 0a2 2 0 1 1 .1 0m7.9 0a2 2 0 1 1 .1 0m-9 0a2 2 0 1 1 .1 0m7.5 0a2 2 0 1 1 .1 0m-8 0a2 2 0 1 1 .1 0m0.5 0a2 2 0 1 1 .1 0m0.3 0a2 2 0 1 1 .1 0m3.6 0a2 2 0 1 1 .1 0m-6.1 0a2 2 0 1 1 .1 0m0.3 0a2 2 0 1 1 .1 0m1.4 -0.1a2 2 0 1 1 .1 0m6.5 0a2 2 0 1 1 .1 0m0.9 -0.1a2 2 0 1 1 .1 0m-1.7 0a2 2 0 1 1 .1 0m-5.5 0a2 2 0 1 1 .1 0m-11.7 0a2 2 0 1 1 .1 0m7.7 -0.1a2 2 0 1 1 .1 0m12.1 0a2 2 0 1 1 .1 0m0.4 0a2 2 0 1 1 .1 0m-4 0a2 2 0 1 1 .1 0m-0.2 0a2 2 0 1 1 .1 0m1.1 0a2 2 0 1 1 .1 0m-0.4 -0.1a2 2 0 1 1 .1 0m-3.8 0a2 2 0 1 1 .1 0m-1.8 -0.1a2 2 0 1 1 .1 0m1.5 0a2 2 0 1 1 .1 0m-1.2 -0.1a2 2 0 1 1 .1 0m0.5 0a2 2 0 1 1 .1 0m2 0a2 2 0 1 1 .1 0m-5.5 0a2 2 0 1 1 .1 0m10.1 0a2 2 0 1 1 .1 0m-7.1 0a2 2 0 1 1 .1 0m2.3 0a2 2 0 1 1 .1 0m-3 -0.1a2 2 0 1 1 .1 0m5.4 0a2 2 0 1 1 .1 0m-3.4 -0.1a2 2 0 1 1 .1 0m13 0a2 2 0 1 1 .1 0m-13.2 0a2 2 0 1 1 .1 0m2.9 0a2 2 0 1 1 .1 0m-10.2 -0.1a2 2 0 1 1 .1 0m1.4 0a2 2 0 1 1 .1 0m1.9 0a2 2 0 1 1 .1 0m11.8 0a2 2 0 1 1 .1 0m-3.1 0a2 2 0 1 1 .1 0m-2.3 -0.1a2 2 0 1 1 .1 0m-6.7 -0.1a2 2 0 1 1 .1 0m-2.8 0a2 2 0 1 1 .1 0m4.7 0a2 2 0 1 1 .1 0m-3.5 0a2 2 0 1 1 .1 0m11.1 -0.1a2 2 0 1 1 .1 0m-5.2 0a2 2 0 1 1 .1 0m-5.3 0a2 2 0 1 1 .1 0m-8 -0.1a2 2 0 1 1 .1 0m7.9 0a2 2 0 1 1 .1 0m8.2 -0.1a2 2 0 1 1 .1 0m-4.9 0a2 2 0 1 1 .1 0m-10.6 0a2 2 0 1 1 .1 0m3.5 -0.1a2 2 0 1 1 .1 0m5 0a2 2 0 1 1 .1 0m2.3 0a2 2 0 1 1 .1 0m-2.7 0a2 2 0 1 1 .1 0m0.5 0a2 2 0 1 1 .1 0m-1.3 0a2 2 0 1 1 .1 0m0.4 0a2 2 0 1 1 .1 0m9.1 -0.1a2 2 0 1 1 .1 0m-11.1 0a2 2 0 1 1 .1 0m6.9 0a2 2 0 1 1 .1 0m-0.2 -0.1a2 2 0 1 1 .1 0m-8.2 0a2 2 0 1 1 .1 0m6 0a2 2 0 1 1 .1 0m-4.1 0a2 2 0 1 1 .1 0m1.8 0a2 2 0 1 1 .1 0m1.6 0a2 2 0 1 1 .1 0m-4.6 -0.1a2 2 0 1 1 .1 0m5.5 0a2 2 0 1 1 .1 0m-4.2 0a2 2 0 1 1 .1 0m-1.4 0a2 2 0 1 1 .1 0m-3.1 0a2 2 0 1 1 .1 0m6.9 0a2 2 0 1 1 .1 0m-2.4 -0.1a2 2 0 1 1 .1 0m8.9 0a2 2 0 1 1 .1 0m-12.6 0a2 2 0 1 1 .1 0m-0.4 0a2 2 0 1 1 .1 0m3.2 0a2 2 0 1 1 .1 0m9.1 0a2 2 0 1 1 .1 0m-6.6 0a2 2 0 1 1 .1 0m5.8 -0.1a2 2 0 1 1 .1 0m-6.1 0a2 2 0 1 1 .1 0m-3.7 0a2 2 0 1 1 .1 0m9.7 0a2 2 0 1 1 .1 0m-5.1 0a2 2 0 1 1 .1 0m-7.3 -0.1a2 2 0 1 1 .1 0m5 0a2 2 0 1 1 .1 0m-2.2 0a2 2 0 1 1 .1 0m-3.3 0a2 2 0 1 1 .1 0m10.7 -0.1a2 2 0 1 1 .1 0m-5.9 -0.2a2 2 0 1 1 .1 0m-2.2 0a2 2 0 1 1 .1 0m-2.6 0a2 2 0 1 1 .1 0m-5.6 0a2 2 0 1 1 .1 0m12.9 0a2 2 0 1 1 .1 0m13.4 0a2 2 0 1 1 .1 0m-9 0a2 2 0 1 1 .1 0m-10.6 0a2 2 0 1 1 .1 0m7.9 -0.1a2 2 0 1 1 .1 0m3.7 0a2 2 0 1 1 .1 0m-12.3 -0.1a2 2 0 1 1 .1 0m1.9 -0.1a2 2 0 1 1 .1 0m0.4 0a2 2 0 1 1 .1 0m3.7 -0.1a2 2 0 1 1 .1 0m-18.7 -0.1a2 2 0 1 1 .1 0m21.8 -0.1a2 2 0 1 1 .1 0m-9.4 0a2 2 0 1 1 .1 0m10.4 -0.1a2 2 0 1 1 .1 0m-3.7 -0.1a2 2 0 1 1 .1 0m-4 -0.1a2 2 0 1 1 .1 0m4 0a2 2 0 1 1 .1 0m-5.8 0a2 2 0 1 1 .1 0m-2.2 0a2 2 0 1 1 .1 0m9.9 -0.1a2 2 0 1 1 .1 0m1.5 0a2 2 0 1 1 .1 0m-19.2 -0.1a2 2 0 1 1 .1 0m15.8 0a2 2 0 1 1 .1 0m-9.7 0a2 2 0 1 1 .1 0m4.5 0a2 2 0 1 1 .1 0m-2.8 0a2 2 0 1 1 .1 0m5.1 0a2 2 0 1 1 .1 0m-7.9 -0.1a2 2 0 1 1 .1 0m12.7 0a2 2 0 1 1 .1 0m-3.5 -0.1a2 2 0 1 1 .1 0m-3.6 -0.1a2 2 0 1 1 .1 0m6.6 0a2 2 0 1 1 .1 0m-4.8 -0.1a2 2 0 1 1 .1 0m-3.4 0a2 2 0 1 1 .1 0m9 -0.1a2 2 0 1 1 .1 0m-8.1 0a2 2 0 1 1 .1 0m3.6 -0.1a2 2 0 1 1 .1 0m-4.2 0a2 2 0 1 1 .1 0m0.4 0a2 2 0 1 1 .1 0m6.5 0a2 2 0 1 1 .1 0m-1 -0.1a2 2 0 1 1 .1 0m7.7 -0.1a2 2 0 1 1 .1 0m-20.4 0a2 2 0 1 1 .1 0m9.6 -0.1a2 2 0 1 1 .1 0m-2.4 0a2 2 0 1 1 .1 0m6.6 0a2 2 0 1 1 .1 0m-4.8 0a2 2 0 1 1 .1 0m-9.1 -0.1a2 2 0 1 1 .1 0m3.8 0a2 2 0 1 1 .1 0m-3.4 0a2 2 0 1 1 .1 0m0.7 -0.1a2 2 0 1 1 .1 0m-0.9 0a2 2 0 1 1 .1 0m15.2 0a2 2 0 1 1 .1 0m-8.7 0a2 2 0 1 1 .1 0m0.6 0a2 2 0 1 1 .1 0m-0.4 0a2 2 0 1 1 .1 0m-7.8 -0.1a2 2 0 1 1 .1 0m13.3 0a2 2 0 1 1 .1 0m-12 -0.1a2 2 0 1 1 .1 0m8.8 0a2 2 0 1 1 .1 0m-4.2 0a2 2 0 1 1 .1 0m8.4 0a2 2 0 1 1 .1 0m-8.5 0a2 2 0 1 1 .1 0m5.5 -0.1a2 2 0 1 1 .1 0m-2.1 0a2 2 0 1 1 .1 0m-3.4 -0.1a2 2 0 1 1 .1 0m3.7 0a2 2 0 1 1 .1 0m-10.8 -0.1a2 2 0 1 1 .1 0m8.1 0a2 2 0 1 1 .1 0m-5.4 0a2 2 0 1 1 .1 0m6.1 0a2 2 0 1 1 .1 0m-4.9 -0.1a2 2 0 1 1 .1 0m-0.3 0a2 2 0 1 1 .1 0m10.1 0a2 2 0 1 1 .1 0m-12.3 -0.1a2 2 0 1 1 .1 0m-2.1 0a2 2 0 1 1 .1 0m-5.1 0a2 2 0 1 1 .1 0m4.5 0a2 2 0 1 1 .1 0m13.3 -0.1a2 2 0 1 1 .1 0m-10.8 0a2 2 0 1 1 .1 0m0.4 0a2 2 0 1 1 .1 0m11.4 0a2 2 0 1 1 .1 0m0.2 -0.1a2 2 0 1 1 .1 0m-3.7 0a2 2 0 1 1 .1 0m-10.1 0a2 2 0 1 1 .1 0m3.6 -0.1a2 2 0 1 1 .1 0m-5.2 0a2 2 0 1 1 .1 0m6.9 0a2 2 0 1 1 .1 0m5.4 -0.1a2 2 0 1 1 .1 0m-5.2 0a2 2 0 1 1 .1 0m-3.8 0a2 2 0 1 1 .1 0m-4.1 -0.1a2 2 0 1 1 .1 0m12 0a2 2 0 1 1 .1 0m-3.7 0a2 2 0 1 1 .1 0m11.4 -0.1a2 2 0 1 1 .1 0m-13.5 0a2 2 0 1 1 .1 0m5.4 0a2 2 0 1 1 .1 0m-11.2 -0.1a2 2 0 1 1 .1 0m11.8 0a2 2 0 1 1 .1 0m-11.9 0a2 2 0 1 1 .1 0m13.8 0a2 2 0 1 1 .1 0m-5.9 0a2 2 0 1 1 .1 0m4.2 0a2 2 0 1 1 .1 0m-0.2 -0.1a2 2 0 1 1 .1 0m-1.5 0a2 2 0 1 1 .1 0m4.1 0a2 2 0 1 1 .1 0m-7.2 -0.1a2 2 0 1 1 .1 0m-3.7 0a2 2 0 1 1 .1 0m-0.9 0a2 2 0 1 1 .1 0m9.6 0a2 2 0 1 1 .1 0m-10.6 -0.1a2 2 0 1 1 .1 0m-1.6 0a2 2 0 1 1 .1 0m1.3 0a2 2 0 1 1 .1 0m15.1 0a2 2 0 1 1 .1 0m-10.1 0a2 2 0 1 1 .1 0m-1.3 0a2 2 0 1 1 .1 0m0.2 0a2 2 0 1 1 .1 0m-1.2 0a2 2 0 1 1 .1 0m4.9 0a2 2 0 1 1 .1 0m-4.7 0a2 2 0 1 1 .1 0m8 -0.1a2 2 0 1 1 .1 0m-11 0a2 2 0 1 1 .1 0m10.1 -0.1a2 2 0 1 1 .1 0m-3 -0.1a2 2 0 1 1 .1 0m1.9 0a2 2 0 1 1 .1 0m-7.2 0a2 2 0 1 1 .1 0m2.2 -0.1a2 2 0 1 1 .1 0m4.6 -0.1a2 2 0 1 1 .1 0m-9 -0.1a2 2 0 1 1 .1 0m-2.7 -0.1a2 2 0 1 1 .1 0m2.2 0a2 2 0 1 1 .1 0m9.6 0a2 2 0 1 1 .1 0m-4.5 0a2 2 0 1 1 .1 0m2.2 -0.1a2 2 0 1 1 .1 0m-9.8 0a2 2 0 1 1 .1 0m2.3 0a2 2 0 1 1 .1 0m1.4 0a2 2 0 1 1 .1 0m5.8 -0.1a2 2 0 1 1 .1 0m2.6 0a2 2 0 1 1 .1 0m-13.5 -0.2a2 2 0 1 1 .1 0m15.6 0a2 2 0 1 1 .1 0m-2.3 0a2 2 0 1 1 .1 0m2.3 0a2 2 0 1 1 .1 0m-10.9 0a2 2 0 1 1 .1 0m3.5 -0.1a2 2 0 1 1 .1 0m-3.4 0a2 2 0 1 1 .1 0m8.3 0a2 2 0 1 1 .1 0m-15.1 0a2 2 0 1 1 .1 0m0.9 0a2 2 0 1 1 .1 0m16.1 0a2 2 0 1 1 .1 0m-10.2 -0.1a2 2 0 1 1 .1 0m-1.2 0a2 2 0 1 1 .1 0m-2.3 0a2 2 0 1 1 .1 0m-5.9 0a2 2 0 1 1 .1 0m-3.1 0a2 2 0 1 1 .1 0m2.8 0a2 2 0 1 1 .1 0m13.8 0a2 2 0 1 1 .1 0m-9.2 -0.1a2 2 0 1 1 .1 0m-0.9 0a2 2 0 1 1 .1 0m2.5 0a2 2 0 1 1 .1 0m4 0a2 2 0 1 1 .1 0m6 -0.1a2 2 0 1 1 .1 0m-3.7 0a2 2 0 1 1 .1 0m-4.5 0a2 2 0 1 1 .1 0m4 0a2 2 0 1 1 .1 0m7.6 0a2 2 0 1 1 .1 0m-16.9 0a2 2 0 1 1 .1 0m-3.5 -0.1a2 2 0 1 1 .1 0m5.2 0a2 2 0 1 1 .1 0m3.1 0a2 2 0 1 1 .1 0m6.9 -0.1a2 2 0 1 1 .1 0m-16.6 0a2 2 0 1 1 .1 0m17.4 -0.1a2 2 0 1 1 .1 0m-12.2 -0.1a2 2 0 1 1 .1 0m3 0a2 2 0 1 1 .1 0m1.7 -0.1a2 2 0 1 1 .1 0m-3.9 0a2 2 0 1 1 .1 0m-0.5 0a2 2 0 1 1 .1 0m5.1 -0.1a2 2 0 1 1 .1 0m11.5 -0.1a2 2 0 1 1 .1 0m-17.7 0a2 2 0 1 1 .1 0m10.7 -0.1a2 2 0 1 1 .1 0m-9.9 0a2 2 0 1 1 .1 0m-3.2 0a2 2 0 1 1 .1 0m3.1 0a2 2 0 1 1 .1 0m3.2 -0.1a2 2 0 1 1 .1 0m0.9 0a2 2 0 1 1 .1 0m-0.6 0a2 2 0 1 1 .1 0m3.6 0a2 2 0 1 1 .1 0m-2.5 -0.2a2 2 0 1 1 .1 0m0.6 0a2 2 0 1 1 .1 0m3.8 -0.1a2 2 0 1 1 .1 0m2.5 -0.1a2 2 0 1 1 .1 0m-1.3 0a2 2 0 1 1 .1 0m-16.4 0a2 2 0 1 1 .1 0m17.1 -0.1a2 2 0 1 1 .1 0m-2.6 0a2 2 0 1 1 .1 0m2.5 0a2 2 0 1 1 .1 0m-9.7 -0.1a2 2 0 1 1 .1 0m16.7 0a2 2 0 1 1 .1 0m-13.1 0a2 2 0 1 1 .1 0m-8.6 -0.1a2 2 0 1 1 .1 0m3.4 0a2 2 0 1 1 .1 0m9.5 -0.1a2 2 0 1 1 .1 0m-8 0a2 2 0 1 1 .1 0m3.4 0a2 2 0 1 1 .1 0m-5.6 -0.1a2 2 0 1 1 .1 0m2.3 -0.1a2 2 0 1 1 .1 0m10 0a2 2 0 1 1 .1 0m-17.4 0a2 2 0 1 1 .1 0m0.1 -0.1a2 2 0 1 1 .1 0m9 0a2 2 0 1 1 .1 0m-1.8 0a2 2 0 1 1 .1 0m4.7 0a2 2 0 1 1 .1 0m0 0a2 2 0 1 1 .1 0m9.7 -0.1a2 2 0 1 1 .1 0m-5.4 0a2 2 0 1 1 .1 0m-16.3 0a2 2 0 1 1 .1 0m-0.2 -0.1a2 2 0 1 1 .1 0m4.1 0a2 2 0 1 1 .1 0m-2.3 0a2 2 0 1 1 .1 0m10.4 0a2 2 0 1 1 .1 0m-13.8 -0.1a2 2 0 1 1 .1 0m21.2 0a2 2 0 1 1 .1 0m-20.8 0a2 2 0 1 1 .1 0m11.1 0a2 2 0 1 1 .1 0m5.3 -0.1a2 2 0 1 1 .1 0m-10.1 0a2 2 0 1 1 .1 0m-2.8 -0.2a2 2 0 1 1 .1 0m6.9 0a2 2 0 1 1 .1 0m-9.5 -0.1a2 2 0 1 1 .1 0m5.7 -0.1a2 2 0 1 1 .1 0m16.6 0a2 2 0 1 1 .1 0m-22.5 0a2 2 0 1 1 .1 0m2.1 0a2 2 0 1 1 .1 0m-3.5 -0.1a2 2 0 1 1 .1 0m0.5 0a2 2 0 1 1 .1 0m1 0a2 2 0 1 1 .1 0m-0.6 0a2 2 0 1 1 .1 0m-5.8 -0.1a2 2 0 1 1 .1 0m1.5 0a2 2 0 1 1 .1 0m12.9 0a2 2 0 1 1 .1 0m-7.7 -0.1a2 2 0 1 1 .1 0m14.2 0a2 2 0 1 1 .1 0m0.1 0a2 2 0 1 1 .1 0m-12.7 0a2 2 0 1 1 .1 0m7.7 0a2 2 0 1 1 .1 0m-6 -0.1a2 2 0 1 1 .1 0m-2.2 0a2 2 0 1 1 .1 0m2.8 0a2 2 0 1 1 .1 0m0.7 -0.1a2 2 0 1 1 .1 0m-16.9 0a2 2 0 1 1 .1 0m4 0a2 2 0 1 1 .1 0m18.7 0a2 2 0 1 1 .1 0m1.4 0a2 2 0 1 1 .1 0m-13 -0.1a2 2 0 1 1 .1 0m-6.4 0a2 2 0 1 1 .1 0m19 0a2 2 0 1 1 .1 0m-6.7 0a2 2 0 1 1 .1 0m-1.4 -0.1a2 2 0 1 1 .1 0m-0.6 0a2 2 0 1 1 .1 0m1.7 -0.1a2 2 0 1 1 .1 0m-1.9 0a2 2 0 1 1 .1 0m5.6 0a2 2 0 1 1 .1 0m2.1 -0.1a2 2 0 1 1 .1 0m-4.5 0a2 2 0 1 1 .1 0m-10.8 -0.1a2 2 0 1 1 .1 0m3 0a2 2 0 1 1 .1 0m7.5 0a2 2 0 1 1 .1 0m-9.3 0a2 2 0 1 1 .1 0m11.7 -0.1a2 2 0 1 1 .1 0m-9.6 0a2 2 0 1 1 .1 0m-3 -0.1a2 2 0 1 1 .1 0m12.1 0a2 2 0 1 1 .1 0m-0.5 0a2 2 0 1 1 .1 0m-11 0a2 2 0 1 1 .1 0m2.7 0a2 2 0 1 1 .1 0m-4.7 0a2 2 0 1 1 .1 0m15.8 -0.1a2 2 0 1 1 .1 0m-13.7 0a2 2 0 1 1 .1 0m14.1 -0.1a2 2 0 1 1 .1 0m-2.4 0a2 2 0 1 1 .1 0m-6.6 0a2 2 0 1 1 .1 0m6.5 -0.1a2 2 0 1 1 .1 0m2.8 -0.1a2 2 0 1 1 .1 0m-16.5 0a2 2 0 1 1 .1 0m3.5 -0.1a2 2 0 1 1 .1 0m-2 0a2 2 0 1 1 .1 0m0.5 0a2 2 0 1 1 .1 0m2.9 0a2 2 0 1 1 .1 0m16 0a2 2 0 1 1 .1 0m-9.3 0a2 2 0 1 1 .1 0m-11.1 0a2 2 0 1 1 .1 0m-2.6 -0.1a2 2 0 1 1 .1 0m11 0a2 2 0 1 1 .1 0m-12 -0.1a2 2 0 1 1 .1 0m0.4 -0.1a2 2 0 1 1 .1 0m14.7 0a2 2 0 1 1 .1 0m-2.9 -0.1a2 2 0 1 1 .1 0m-0.9 0a2 2 0 1 1 .1 0m-5.9 0a2 2 0 1 1 .1 0m2.2 -0.1a2 2 0 1 1 .1 0m3.2 0a2 2 0 1 1 .1 0m-8.2 -0.1a2 2 0 1 1 .1 0m12.9 0a2 2 0 1 1 .1 0m-17.1 0a2 2 0 1 1 .1 0m22.9 -0.1a2 2 0 1 1 .1 0m-0.7 0a2 2 0 1 1 .1 0m-6 0a2 2 0 1 1 .1 0m-4.6 0a2 2 0 1 1 .1 0m-7.8 -0.1a2 2 0 1 1 .1 0m10 0a2 2 0 1 1 .1 0m-9.5 0a2 2 0 1 1 .1 0m-3.9 0a2 2 0 1 1 .1 0m-6.3 0a2 2 0 1 1 .1 0m8.3 0a2 2 0 1 1 .1 0m0.8 -0.1a2 2 0 1 1 .1 0m-3 0a2 2 0 1 1 .1 0m7.1 0a2 2 0 1 1 .1 0m0 0a2 2 0 1 1 .1 0m-4.3 -0.1a2 2 0 1 1 .1 0m-4.4 0a2 2 0 1 1 .1 0m16.1 0a2 2 0 1 1 .1 0m-6.2 0a2 2 0 1 1 .1 0m-3.4 -0.1a2 2 0 1 1 .1 0m2.2 0a2 2 0 1 1 .1 0m6.7 0a2 2 0 1 1 .1 0m-10.1 0a2 2 0 1 1 .1 0m-9.5 -0.1a2 2 0 1 1 .1 0m2.9 -0.1a2 2 0 1 1 .1 0m6.8 0a2 2 0 1 1 .1 0m-8.1 0a2 2 0 1 1 .1 0m13.1 -0.1a2 2 0 1 1 .1 0m4.2 -0.1a2 2 0 1 1 .1 0m-7.3 0a2 2 0 1 1 .1 0m0.4 0a2 2 0 1 1 .1 0m-4.5 -0.1a2 2 0 1 1 .1 0m4.3 -0.1a2 2 0 1 1 .1 0m-11.3 -0.1a2 2 0 1 1 .1 0m-5.1 0a2 2 0 1 1 .1 0m16 0a2 2 0 1 1 .1 0m-4.5 0a2 2 0 1 1 .1 0m4.6 -0.1a2 2 0 1 1 .1 0m-14.6 0a2 2 0 1 1 .1 0m22.9 -0.1a2 2 0 1 1 .1 0m-11.5 0a2 2 0 1 1 .1 0m-1 0a2 2 0 1 1 .1 0m8.9 0a2 2 0 1 1 .1 0m-9.9 -0.1a2 2 0 1 1 .1 0m2 -0.1a2 2 0 1 1 .1 0m1.4 0a2 2 0 1 1 .1 0m-8.1 0a2 2 0 1 1 .1 0m-0.4 0a2 2 0 1 1 .1 0m11.4 0a2 2 0 1 1 .1 0m-4 0a2 2 0 1 1 .1 0m12.9 -0.1a2 2 0 1 1 .1 0m-2.7 0a2 2 0 1 1 .1 0m-7.5 0a2 2 0 1 1 .1 0m-4.8 -0.1a2 2 0 1 1 .1 0m1.1 -0.1a2 2 0 1 1 .1 0m8.7 0a2 2 0 1 1 .1 0m0 0a2 2 0 1 1 .1 0m-15.9 0a2 2 0 1 1 .1 0m-2.8 -0.1a2 2 0 1 1 .1 0m5.6 -0.1a2 2 0 1 1 .1 0m-7.4 0a2 2 0 1 1 .1 0m16.7 -0.1a2 2 0 1 1 .1 0m-8 -0.1a2 2 0 1 1 .1 0m-1.8 0a2 2 0 1 1 .1 0m4.6 0a2 2 0 1 1 .1 0m-2.8 0a2 2 0 1 1 .1 0m4.6 -0.1a2 2 0 1 1 .1 0m2.3 -0.3a2 2 0 1 1 .1 0m1.3 0a2 2 0 1 1 .1 0m-14.7 0a2 2 0 1 1 .1 0m17.3 0a2 2 0 1 1 .1 0m-16.5 -0.1a2 2 0 1 1 .1 0m6.5 0a2 2 0 1 1 .1 0m11 0a2 2 0 1 1 .1 0m-10.6 -0.1a2 2 0 1 1 .1 0m-6.8 0a2 2 0 1 1 .1 0m-3 -0.1a2 2 0 1 1 .1 0m-5.5 0a2 2 0 1 1 .1 0m19.2 0a2 2 0 1 1 .1 0m-5.4 0a2 2 0 1 1 .1 0m6.7 -0.1a2 2 0 1 1 .1 0m-11.5 0a2 2 0 1 1 .1 0m-4.7 0a2 2 0 1 1 .1 0m21.2 -0.1a2 2 0 1 1 .1 0m-2.4 -0.1a2 2 0 1 1 .1 0m-8.9 -0.1a2 2 0 1 1 .1 0m0.1 -0.1a2 2 0 1 1 .1 0m8.6 -0.1a2 2 0 1 1 .1 0m6.8 0a2 2 0 1 1 .1 0m-12.9 0a2 2 0 1 1 .1 0m13.1 -0.1a2 2 0 1 1 .1 0m-11.2 0a2 2 0 1 1 .1 0m-12.7 0a2 2 0 1 1 .1 0m-1.4 -0.1a2 2 0 1 1 .1 0m5.8 0a2 2 0 1 1 .1 0m12.1 0a2 2 0 1 1 .1 0m-12.8 0a2 2 0 1 1 .1 0m-1.2 -0.1a2 2 0 1 1 .1 0m1.4 -0.1a2 2 0 1 1 .1 0m-0.8 -0.1a2 2 0 1 1 .1 0m5.8 -0.1a2 2 0 1 1 .1 0m1.6 0a2 2 0 1 1 .1 0m-2.8 0a2 2 0 1 1 .1 0m7.2 -0.1a2 2 0 1 1 .1 0m5.5 0a2 2 0 1 1 .1 0m-9.3 0a2 2 0 1 1 .1 0m-2.8 0a2 2 0 1 1 .1 0m6.4 -0.1a2 2 0 1 1 .1 0m10.7 -0.1a2 2 0 1 1 .1 0m-25.8 0a2 2 0 1 1 .1 0m13.8 -0.1a2 2 0 1 1 .1 0m-5 0a2 2 0 1 1 .1 0m-3.2 0a2 2 0 1 1 .1 0m7.8 -0.1a2 2 0 1 1 .1 0m-8.8 0a2 2 0 1 1 .1 0m-0.2 0a2 2 0 1 1 .1 0m1.4 -0.1a2 2 0 1 1 .1 0m-2.7 -0.1a2 2 0 1 1 .1 0m6.7 -0.1a2 2 0 1 1 .1 0m-9.3 0a2 2 0 1 1 .1 0m4 -0.1a2 2 0 1 1 .1 0m6.9 0a2 2 0 1 1 .1 0m-2 0a2 2 0 1 1 .1 0m5.8 -0.1a2 2 0 1 1 .1 0m-2.1 -0.1a2 2 0 1 1 .1 0m2 0a2 2 0 1 1 .1 0m-10.2 -0.1a2 2 0 1 1 .1 0m-1.8 -0.1a2 2 0 1 1 .1 0m12.3 -0.2a2 2 0 1 1 .1 0m-16.5 0a2 2 0 1 1 .1 0m12 -0.1a2 2 0 1 1 .1 0m-13.5 0a2 2 0 1 1 .1 0m3.4 0a2 2 0 1 1 .1 0m1.2 0a2 2 0 1 1 .1 0m3.9 0a2 2 0 1 1 .1 0m4 -0.1a2 2 0 1 1 .1 0m-8.8 0a2 2 0 1 1 .1 0m-4.8 -0.1a2 2 0 1 1 .1 0m0.5 0a2 2 0 1 1 .1 0m21.9 0a2 2 0 1 1 .1 0m-14.5 0a2 2 0 1 1 .1 0m4.2 -0.1a2 2 0 1 1 .1 0m-15.2 0a2 2 0 1 1 .1 0m8.9 -0.1a2 2 0 1 1 .1 0m8.2 0a2 2 0 1 1 .1 0m-11.9 0a2 2 0 1 1 .1 0m-1 0a2 2 0 1 1 .1 0m3.2 0a2 2 0 1 1 .1 0m-5.5 -0.1a2 2 0 1 1 .1 0m7.9 0a2 2 0 1 1 .1 0m12.1 -0.2a2 2 0 1 1 .1 0m0.2 0a2 2 0 1 1 .1 0m-23.3 0a2 2 0 1 1 .1 0m18 0a2 2 0 1 1 .1 0m-16.3 0a2 2 0 1 1 .1 0m3 0a2 2 0 1 1 .1 0m6.8 0a2 2 0 1 1 .1 0m-9.7 0a2 2 0 1 1 .1 0m10.3 0a2 2 0 1 1 .1 0m6.4 0a2 2 0 1 1 .1 0m-15.2 -0.1a2 2 0 1 1 .1 0m3.3 0a2 2 0 1 1 .1 0m10.8 0a2 2 0 1 1 .1 0m-14.8 -0.2a2 2 0 1 1 .1 0m12.2 0a2 2 0 1 1 .1 0m-12.8 0a2 2 0 1 1 .1 0m13.9 -0.1a2 2 0 1 1 .1 0m2.9 0a2 2 0 1 1 .1 0m-2.3 -0.1a2 2 0 1 1 .1 0m3.4 0a2 2 0 1 1 .1 0m-15.6 0a2 2 0 1 1 .1 0m16 -0.2a2 2 0 1 1 .1 0m-5.4 0a2 2 0 1 1 .1 0m-7.6 0a2 2 0 1 1 .1 0m-5.9 -0.1a2 2 0 1 1 .1 0m7.1 -0.1a2 2 0 1 1 .1 0m10.7 0a2 2 0 1 1 .1 0m-8.1 -0.1a2 2 0 1 1 .1 0m10.5 0a2 2 0 1 1 .1 0m4.2 0a2 2 0 1 1 .1 0m-18.8 -0.1a2 2 0 1 1 .1 0m12.9 0a2 2 0 1 1 .1 0m-6.7 0a2 2 0 1 1 .1 0m5.1 0a2 2 0 1 1 .1 0m-5.7 -0.1a2 2 0 1 1 .1 0m1.4 -0.1a2 2 0 1 1 .1 0m3.2 0a2 2 0 1 1 .1 0m-13.8 0a2 2 0 1 1 .1 0m-4.6 0a2 2 0 1 1 .1 0m11.2 0a2 2 0 1 1 .1 0m-6.3 0a2 2 0 1 1 .1 0m-1.8 -0.1a2 2 0 1 1 .1 0m-3.6 0a2 2 0 1 1 .1 0m9.2 0a2 2 0 1 1 .1 0m10 0a2 2 0 1 1 .1 0m-12.3 -0.1a2 2 0 1 1 .1 0m-4.1 -0.3a2 2 0 1 1 .1 0m-2.5 -0.1a2 2 0 1 1 .1 0m5.9 0a2 2 0 1 1 .1 0m-2.9 0a2 2 0 1 1 .1 0m5.4 -0.1a2 2 0 1 1 .1 0m-7.8 -0.2a2 2 0 1 1 .1 0m14.1 0a2 2 0 1 1 .1 0m-14.1 -0.1a2 2 0 1 1 .1 0m22.9 -0.1a2 2 0 1 1 .1 0m-14.2 0a2 2 0 1 1 .1 0m-0.4 0a2 2 0 1 1 .1 0m2.6 -0.1a2 2 0 1 1 .1 0m8 0a2 2 0 1 1 .1 0m-7.3 -0.1a2 2 0 1 1 .1 0m-1.5 0a2 2 0 1 1 .1 0m-9.8 -0.2a2 2 0 1 1 .1 0m-2 -0.1a2 2 0 1 1 .1 0m-3.2 -0.1a2 2 0 1 1 .1 0m20.1 0a2 2 0 1 1 .1 0m-5 0a2 2 0 1 1 .1 0m-1.6 0a2 2 0 1 1 .1 0m-5.1 0a2 2 0 1 1 .1 0m-8 -0.1a2 2 0 1 1 .1 0m22.2 0a2 2 0 1 1 .1 0m-10.5 -0.1a2 2 0 1 1 .1 0m-1 0a2 2 0 1 1 .1 0m-3.4 -0.1a2 2 0 1 1 .1 0m-3.2 0a2 2 0 1 1 .1 0m6 0a2 2 0 1 1 .1 0m-2.5 -0.1a2 2 0 1 1 .1 0m11.9 0a2 2 0 1 1 .1 0m-6.7 -0.1a2 2 0 1 1 .1 0m-14 0a2 2 0 1 1 .1 0m16.6 0a2 2 0 1 1 .1 0m-14.7 -0.1a2 2 0 1 1 .1 0m-15.4 0a2 2 0 1 1 .1 0m25.2 0a2 2 0 1 1 .1 0m-6.3 -0.2a2 2 0 1 1 .1 0m-6.5 0a2 2 0 1 1 .1 0m11.7 0a2 2 0 1 1 .1 0m-1.8 -0.1a2 2 0 1 1 .1 0m-15.9 0a2 2 0 1 1 .1 0m10.8 0a2 2 0 1 1 .1 0m10.8 0a2 2 0 1 1 .1 0m-3.9 0a2 2 0 1 1 .1 0m-6.2 0a2 2 0 1 1 .1 0m5 -0.1a2 2 0 1 1 .1 0m3 0a2 2 0 1 1 .1 0m2.2 0a2 2 0 1 1 .1 0m-7.4 0a2 2 0 1 1 .1 0m-2.4 0a2 2 0 1 1 .1 0m13.5 -0.2a2 2 0 1 1 .1 0m-10.5 0a2 2 0 1 1 .1 0m-6.1 0a2 2 0 1 1 .1 0m13.2 0a2 2 0 1 1 .1 0m-16.8 0a2 2 0 1 1 .1 0m-6.3 -0.1a2 2 0 1 1 .1 0m-1.3 0a2 2 0 1 1 .1 0m17.3 -0.1a2 2 0 1 1 .1 0m6 -0.1a2 2 0 1 1 .1 0m-0.3 -0.1a2 2 0 1 1 .1 0m-0.6 -0.1a2 2 0 1 1 .1 0m8.2 0a2 2 0 1 1 .1 0m-7.3 -0.1a2 2 0 1 1 .1 0m-15.4 0a2 2 0 1 1 .1 0m10.8 0a2 2 0 1 1 .1 0m-4.6 -0.1a2 2 0 1 1 .1 0m-7.4 -0.1a2 2 0 1 1 .1 0m20.4 0a2 2 0 1 1 .1 0m-15.5 -0.1a2 2 0 1 1 .1 0m0.7 -0.1a2 2 0 1 1 .1 0m11.1 0a2 2 0 1 1 .1 0m-6.4 -0.1a2 2 0 1 1 .1 0m-11 -0.2a2 2 0 1 1 .1 0m25 0a2 2 0 1 1 .1 0m-11.6 -0.3a2 2 0 1 1 .1 0m-3 0a2 2 0 1 1 .1 0m5.5 -0.1a2 2 0 1 1 .1 0m5.1 0a2 2 0 1 1 .1 0m-6.5 0a2 2 0 1 1 .1 0m5 0a2 2 0 1 1 .1 0m-15.5 -0.1a2 2 0 1 1 .1 0m9.4 -0.1a2 2 0 1 1 .1 0m-12.5 -0.1a2 2 0 1 1 .1 0m4.8 -0.2a2 2 0 1 1 .1 0m-14.1 -0.1a2 2 0 1 1 .1 0m20.8 0a2 2 0 1 1 .1 0m-2 -0.1a2 2 0 1 1 .1 0m-5.6 0a2 2 0 1 1 .1 0m-7.9 -0.1a2 2 0 1 1 .1 0m20.4 0a2 2 0 1 1 .1 0m-27.9 0a2 2 0 1 1 .1 0m14.1 -0.1a2 2 0 1 1 .1 0m4.1 0a2 2 0 1 1 .1 0m10 0a2 2 0 1 1 .1 0m-15.3 -0.1a2 2 0 1 1 .1 0m4.7 0a2 2 0 1 1 .1 0m-4.1 0a2 2 0 1 1 .1 0m8 0a2 2 0 1 1 .1 0m-17.8 -0.1a2 2 0 1 1 .1 0m12.7 0a2 2 0 1 1 .1 0m9.6 -0.1a2 2 0 1 1 .1 0m0.2 0a2 2 0 1 1 .1 0m-11.5 -0.1a2 2 0 1 1 .1 0m12.2 0a2 2 0 1 1 .1 0m-3.2 -0.1a2 2 0 1 1 .1 0m-4.3 -0.1a2 2 0 1 1 .1 0m-5.2 0a2 2 0 1 1 .1 0m-0.1 -0.1a2 2 0 1 1 .1 0m-2.2 -0.1a2 2 0 1 1 .1 0m-0.6 -0.2a2 2 0 1 1 .1 0m20.7 -0.1a2 2 0 1 1 .1 0m1.4 0a2 2 0 1 1 .1 0m-10.6 -0.1a2 2 0 1 1 .1 0m-10 0a2 2 0 1 1 .1 0m-1.6 -0.3a2 2 0 1 1 .1 0m3.2 0a2 2 0 1 1 .1 0m18 0a2 2 0 1 1 .1 0m-6.7 0a2 2 0 1 1 .1 0m-6.4 0a2 2 0 1 1 .1 0m-11.1 -0.2a2 2 0 1 1 .1 0m-1.9 -0.1a2 2 0 1 1 .1 0m15.5 -0.1a2 2 0 1 1 .1 0m1.1 -0.1a2 2 0 1 1 .1 0m-9.3 -0.1a2 2 0 1 1 .1 0m-7.2 0a2 2 0 1 1 .1 0m-6 -0.1a2 2 0 1 1 .1 0m11.5 0a2 2 0 1 1 .1 0m11.8 -0.1a2 2 0 1 1 .1 0m8.7 0a2 2 0 1 1 .1 0m-29.1 0a2 2 0 1 1 .1 0m24.7 0a2 2 0 1 1 .1 0m-2.9 0a2 2 0 1 1 .1 0m-13.4 0a2 2 0 1 1 .1 0m-5.8 0a2 2 0 1 1 .1 0m11.6 -0.1a2 2 0 1 1 .1 0m1.8 0a2 2 0 1 1 .1 0m-2.5 -0.1a2 2 0 1 1 .1 0m8.7 -0.1a2 2 0 1 1 .1 0m1.1 -0.1a2 2 0 1 1 .1 0m-3.8 0a2 2 0 1 1 .1 0m-5.2 -0.1a2 2 0 1 1 .1 0m-8.5 0a2 2 0 1 1 .1 0m3.9 -0.1a2 2 0 1 1 .1 0m8.6 -0.1a2 2 0 1 1 .1 0m-18.6 0a2 2 0 1 1 .1 0m-8.8 -0.1a2 2 0 1 1 .1 0m28.8 0a2 2 0 1 1 .1 0m-28.1 -0.1a2 2 0 1 1 .1 0m29.7 -0.1a2 2 0 1 1 .1 0m-26.4 0a2 2 0 1 1 .1 0m5.3 -0.1a2 2 0 1 1 .1 0m19.6 -0.1a2 2 0 1 1 .1 0m-2.3 0a2 2 0 1 1 .1 0m2.5 -0.1a2 2 0 1 1 .1 0m-9.3 0a2 2 0 1 1 .1 0m6.7 0a2 2 0 1 1 .1 0m-0.9 -0.1a2 2 0 1 1 .1 0m-1.2 -0.1a2 2 0 1 1 .1 0m5 0a2 2 0 1 1 .1 0m-0.7 -0.2a2 2 0 1 1 .1 0m-9.1 -0.1a2 2 0 1 1 .1 0m4.8 0a2 2 0 1 1 .1 0m-13.6 -0.1a2 2 0 1 1 .1 0m7.3 0a2 2 0 1 1 .1 0m-4.8 0a2 2 0 1 1 .1 0m13.5 0a2 2 0 1 1 .1 0m-5.8 0a2 2 0 1 1 .1 0m-3.4 -0.1a2 2 0 1 1 .1 0m-0.4 -0.1a2 2 0 1 1 .1 0m-2.6 0a2 2 0 1 1 .1 0m3.5 -0.1a2 2 0 1 1 .1 0m-12.8 0a2 2 0 1 1 .1 0m-7.1 0a2 2 0 1 1 .1 0m19.1 0a2 2 0 1 1 .1 0m-6.7 0a2 2 0 1 1 .1 0m7 0a2 2 0 1 1 .1 0m-12 -0.2a2 2 0 1 1 .1 0m10.4 0a2 2 0 1 1 .1 0m1.5 -0.1a2 2 0 1 1 .1 0m-12.1 -0.1a2 2 0 1 1 .1 0m25.5 -0.1a2 2 0 1 1 .1 0m-3.9 0a2 2 0 1 1 .1 0m4.1 0a2 2 0 1 1 .1 0m-28.3 -0.1a2 2 0 1 1 .1 0m4.9 0a2 2 0 1 1 .1 0m8.5 -0.1a2 2 0 1 1 .1 0m-4.7 -0.1a2 2 0 1 1 .1 0m9.8 -0.1a2 2 0 1 1 .1 0m-11.6 0a2 2 0 1 1 .1 0m-4.6 0a2 2 0 1 1 .1 0m-4 -0.1a2 2 0 1 1 .1 0m6.8 0a2 2 0 1 1 .1 0m5.2 0a2 2 0 1 1 .1 0m13.1 0a2 2 0 1 1 .1 0m-7.6 -0.1a2 2 0 1 1 .1 0m-12.9 0a2 2 0 1 1 .1 0m9.8 -0.1a2 2 0 1 1 .1 0m-12.7 -0.1a2 2 0 1 1 .1 0m-1.5 0a2 2 0 1 1 .1 0m18.5 -0.1a2 2 0 1 1 .1 0m-17.4 0a2 2 0 1 1 .1 0m9.5 0a2 2 0 1 1 .1 0m-7.4 -0.1a2 2 0 1 1 .1 0m19.5 -0.1a2 2 0 1 1 .1 0m-3.4 -0.1a2 2 0 1 1 .1 0m-9.5 0a2 2 0 1 1 .1 0m-3.2 0a2 2 0 1 1 .1 0m14.3 0a2 2 0 1 1 .1 0m-24.4 -0.1a2 2 0 1 1 .1 0m25 0a2 2 0 1 1 .1 0m-16.5 0a2 2 0 1 1 .1 0m13.5 -0.3a2 2 0 1 1 .1 0m0.2 0a2 2 0 1 1 .1 0m-17.5 0a2 2 0 1 1 .1 0m4.2 -0.2a2 2 0 1 1 .1 0m15.2 0a2 2 0 1 1 .1 0m-15 0a2 2 0 1 1 .1 0m17.6 0a2 2 0 1 1 .1 0m0.3 0a2 2 0 1 1 .1 0m-23.5 0a2 2 0 1 1 .1 0m14.4 -0.2a2 2 0 1 1 .1 0m-19.7 -0.1a2 2 0 1 1 .1 0m25.3 -0.1a2 2 0 1 1 .1 0m-11.7 0a2 2 0 1 1 .1 0m3.4 0a2 2 0 1 1 .1 0m-0.9 -0.1a2 2 0 1 1 .1 0m12.1 0a2 2 0 1 1 .1 0m-17.1 -0.1a2 2 0 1 1 .1 0m16.1 0a2 2 0 1 1 .1 0m-1.1 0a2 2 0 1 1 .1 0m-21.2 -0.1a2 2 0 1 1 .1 0m10.7 0a2 2 0 1 1 .1 0m-6.9 -0.1a2 2 0 1 1 .1 0m7.6 -0.1a2 2 0 1 1 .1 0m1.7 0a2 2 0 1 1 .1 0m-2.8 -0.1a2 2 0 1 1 .1 0m-1.9 -0.1a2 2 0 1 1 .1 0m-2.3 0a2 2 0 1 1 .1 0m-6.9 -0.1a2 2 0 1 1 .1 0m22.1 0a2 2 0 1 1 .1 0m-22.6 0a2 2 0 1 1 .1 0m5.9 -0.2a2 2 0 1 1 .1 0m3.3 0a2 2 0 1 1 .1 0m7.6 0a2 2 0 1 1 .1 0m-15.8 -0.1a2 2 0 1 1 .1 0m17 0a2 2 0 1 1 .1 0m6.6 -0.1a2 2 0 1 1 .1 0m-6.4 -0.1a2 2 0 1 1 .1 0m-17.6 0a2 2 0 1 1 .1 0m23.4 -0.2a2 2 0 1 1 .1 0m-6.9 0a2 2 0 1 1 .1 0m-16.8 -0.1a2 2 0 1 1 .1 0m17.8 -0.1a2 2 0 1 1 .1 0m-14.1 0a2 2 0 1 1 .1 0m6.8 0a2 2 0 1 1 .1 0m-9.6 -0.1a2 2 0 1 1 .1 0m10.5 0a2 2 0 1 1 .1 0m-13.9 0a2 2 0 1 1 .1 0m-0.5 -0.1a2 2 0 1 1 .1 0m14.2 -0.1a2 2 0 1 1 .1 0m-6.8 0a2 2 0 1 1 .1 0m-1.7 0a2 2 0 1 1 .1 0m-9.1 0a2 2 0 1 1 .1 0m20.3 -0.1a2 2 0 1 1 .1 0m5.1 0a2 2 0 1 1 .1 0m-5.2 -0.3a2 2 0 1 1 .1 0m6.5 0a2 2 0 1 1 .1 0m6.1 -0.1a2 2 0 1 1 .1 0m-38.2 0a2 2 0 1 1 .1 0m11 -0.2a2 2 0 1 1 .1 0m-4.2 0a2 2 0 1 1 .1 0m19.2 -0.1a2 2 0 1 1 .1 0m3.3 0a2 2 0 1 1 .1 0m-13.2 -0.2a2 2 0 1 1 .1 0m-12.6 0a2 2 0 1 1 .1 0m7.3 0a2 2 0 1 1 .1 0m3.2 -0.1a2 2 0 1 1 .1 0m4.4 0a2 2 0 1 1 .1 0m-21 0a2 2 0 1 1 .1 0m8 -0.2a2 2 0 1 1 .1 0m-3.2 0a2 2 0 1 1 .1 0m12.2 0a2 2 0 1 1 .1 0m-14 0a2 2 0 1 1 .1 0m24.8 -0.1a2 2 0 1 1 .1 0m6.4 0a2 2 0 1 1 .1 0m4.1 0a2 2 0 1 1 .1 0m-17.8 -0.1a2 2 0 1 1 .1 0m-8.4 0a2 2 0 1 1 .1 0m4.1 -0.1a2 2 0 1 1 .1 0m-3.9 0a2 2 0 1 1 .1 0m11.5 -0.1a2 2 0 1 1 .1 0m13.4 0a2 2 0 1 1 .1 0m-25.9 0a2 2 0 1 1 .1 0m0.3 0a2 2 0 1 1 .1 0m3.8 -0.2a2 2 0 1 1 .1 0m17 0a2 2 0 1 1 .1 0m-22.3 -0.1a2 2 0 1 1 .1 0m-5.7 -0.1a2 2 0 1 1 .1 0m10.5 0a2 2 0 1 1 .1 0m8.9 -0.2a2 2 0 1 1 .1 0m-15.5 -0.3a2 2 0 1 1 .1 0m3.6 -0.1a2 2 0 1 1 .1 0m-3.3 0a2 2 0 1 1 .1 0m16.2 -0.1a2 2 0 1 1 .1 0m2.1 0a2 2 0 1 1 .1 0m1.3 -0.1a2 2 0 1 1 .1 0m-12.2 -0.1a2 2 0 1 1 .1 0m14.3 0a2 2 0 1 1 .1 0m-24.9 0a2 2 0 1 1 .1 0m5.2 -0.1a2 2 0 1 1 .1 0m19.6 0a2 2 0 1 1 .1 0m-13.9 -0.1a2 2 0 1 1 .1 0m-10.5 -0.1a2 2 0 1 1 .1 0m-2.3 -0.1a2 2 0 1 1 .1 0m7.6 -0.2a2 2 0 1 1 .1 0m16.3 -0.2a2 2 0 1 1 .1 0m-32.3 0a2 2 0 1 1 .1 0m27.4 -0.1a2 2 0 1 1 .1 0m-21 -0.1a2 2 0 1 1 .1 0m8.8 -0.2a2 2 0 1 1 .1 0m20.3 -0.2a2 2 0 1 1 .1 0m-23.1 -0.1a2 2 0 1 1 .1 0m5.5 0a2 2 0 1 1 .1 0m15.2 0a2 2 0 1 1 .1 0m-4.7 0a2 2 0 1 1 .1 0m-11.2 -0.1a2 2 0 1 1 .1 0m2.6 0a2 2 0 1 1 .1 0m-15.8 0a2 2 0 1 1 .1 0m26.3 -0.1a2 2 0 1 1 .1 0m-0.5 -0.1a2 2 0 1 1 .1 0m-7.2 0a2 2 0 1 1 .1 0m-18.8 -0.1a2 2 0 1 1 .1 0m11.5 -0.1a2 2 0 1 1 .1 0m5.8 0a2 2 0 1 1 .1 0m-5.6 -0.1a2 2 0 1 1 .1 0m0.8 0a2 2 0 1 1 .1 0m10.9 -0.1a2 2 0 1 1 .1 0m-16.2 -0.1a2 2 0 1 1 .1 0m17.7 -0.2a2 2 0 1 1 .1 0m-7.5 0a2 2 0 1 1 .1 0m4.6 -0.1a2 2 0 1 1 .1 0m-9.8 0a2 2 0 1 1 .1 0m-13.4 -0.3a2 2 0 1 1 .1 0m5.9 0a2 2 0 1 1 .1 0m20.5 -0.1a2 2 0 1 1 .1 0m-22.8 0a2 2 0 1 1 .1 0m24.6 -0.1a2 2 0 1 1 .1 0m-8 -0.3a2 2 0 1 1 .1 0m-8.6 -0.1a2 2 0 1 1 .1 0m7 0a2 2 0 1 1 .1 0m-7.9 -0.1a2 2 0 1 1 .1 0m14.1 0a2 2 0 1 1 .1 0m9.5 -0.1a2 2 0 1 1 .1 0m-21.1 -0.1a2 2 0 1 1 .1 0m11.2 0a2 2 0 1 1 .1 0m-4 -0.1a2 2 0 1 1 .1 0m-13.4 0a2 2 0 1 1 .1 0m18.2 -0.1a2 2 0 1 1 .1 0m-7.3 0a2 2 0 1 1 .1 0m-24.9 -0.1a2 2 0 1 1 .1 0m17.1 -0.1a2 2 0 1 1 .1 0m8.7 0a2 2 0 1 1 .1 0m-8.3 -0.1a2 2 0 1 1 .1 0m-5.6 0a2 2 0 1 1 .1 0m5 -0.1a2 2 0 1 1 .1 0m-4.6 -0.1a2 2 0 1 1 .1 0m0.8 0a2 2 0 1 1 .1 0m-1.5 0a2 2 0 1 1 .1 0m-6.6 0a2 2 0 1 1 .1 0m16.1 -0.2a2 2 0 1 1 .1 0m-12.6 -0.1a2 2 0 1 1 .1 0m10.1 -0.1a2 2 0 1 1 .1 0m-18.1 -0.2a2 2 0 1 1 .1 0m18.3 0a2 2 0 1 1 .1 0m-16.2 0a2 2 0 1 1 .1 0m8.4 0a2 2 0 1 1 .1 0m-1.9 -0.2a2 2 0 1 1 .1 0m3.7 0a2 2 0 1 1 .1 0m-0.6 -0.2a2 2 0 1 1 .1 0m5.6 -0.1a2 2 0 1 1 .1 0m18.3 0a2 2 0 1 1 .1 0m-28.8 0a2 2 0 1 1 .1 0m19 0a2 2 0 1 1 .1 0m-17.8 0a2 2 0 1 1 .1 0m5.4 0a2 2 0 1 1 .1 0m-2.5 -0.1a2 2 0 1 1 .1 0m-1.9 0a2 2 0 1 1 .1 0m19.2 -0.2a2 2 0 1 1 .1 0m-20.9 -0.3a2 2 0 1 1 .1 0m4.1 -0.1a2 2 0 1 1 .1 0m15.5 0a2 2 0 1 1 .1 0m2 0a2 2 0 1 1 .1 0m-18.6 -0.2a2 2 0 1 1 .1 0m20.7 0a2 2 0 1 1 .1 0m-9.5 -0.1a2 2 0 1 1 .1 0m-2.7 0a2 2 0 1 1 .1 0m-17.7 -0.1a2 2 0 1 1 .1 0m24.2 -0.1a2 2 0 1 1 .1 0m12.3 -0.3a2 2 0 1 1 .1 0m-10.1 0a2 2 0 1 1 .1 0m-7.6 0a2 2 0 1 1 .1 0m-16.4 -0.2a2 2 0 1 1 .1 0m14.3 -0.1a2 2 0 1 1 .1 0m-10.2 -0.2a2 2 0 1 1 .1 0m15.9 -0.2a2 2 0 1 1 .1 0m-8.9 -0.2a2 2 0 1 1 .1 0m-5.5 -0.1a2 2 0 1 1 .1 0m19.9 -0.1a2 2 0 1 1 .1 0m-20 0a2 2 0 1 1 .1 0m1.5 0a2 2 0 1 1 .1 0m6.6 0a2 2 0 1 1 .1 0m-10.4 -0.1a2 2 0 1 1 .1 0m-2.7 0a2 2 0 1 1 .1 0m8.9 -0.1a2 2 0 1 1 .1 0m12.6 0a2 2 0 1 1 .1 0m-11.3 0a2 2 0 1 1 .1 0m14.9 -0.1a2 2 0 1 1 .1 0m-26.7 -0.1a2 2 0 1 1 .1 0m10.4 0a2 2 0 1 1 .1 0m8 -0.1a2 2 0 1 1 .1 0m-18.2 -0.1a2 2 0 1 1 .1 0m29.1 -0.2a2 2 0 1 1 .1 0m-25.5 -0.2a2 2 0 1 1 .1 0m1.7 -0.2a2 2 0 1 1 .1 0m-7.1 0a2 2 0 1 1 .1 0m25.4 0a2 2 0 1 1 .1 0m12.3 0a2 2 0 1 1 .1 0m-14.4 -0.1a2 2 0 1 1 .1 0m-4.7 0a2 2 0 1 1 .1 0m-18 -0.1a2 2 0 1 1 .1 0m28.7 0a2 2 0 1 1 .1 0m-16.4 -0.1a2 2 0 1 1 .1 0m-0.5 0a2 2 0 1 1 .1 0m-14.7 -0.1a2 2 0 1 1 .1 0m36.5 0a2 2 0 1 1 .1 0m-28.6 -0.1a2 2 0 1 1 .1 0m-5.3 0a2 2 0 1 1 .1 0m7.9 -0.2a2 2 0 1 1 .1 0m-0.2 0a2 2 0 1 1 .1 0m18.8 0a2 2 0 1 1 .1 0m-13.6 -0.1a2 2 0 1 1 .1 0m13.4 -0.2a2 2 0 1 1 .1 0m-26.3 -0.1a2 2 0 1 1 .1 0m24.5 0a2 2 0 1 1 .1 0m-35.4 -0.3a2 2 0 1 1 .1 0m6.8 0a2 2 0 1 1 .1 0m20.5 -0.1a2 2 0 1 1 .1 0m-18.6 0a2 2 0 1 1 .1 0m20.8 -0.2a2 2 0 1 1 .1 0m-2.6 0a2 2 0 1 1 .1 0m8.8 -0.1a2 2 0 1 1 .1 0m-3.8 -0.1a2 2 0 1 1 .1 0m-27 -0.1a2 2 0 1 1 .1 0m37.9 -0.1a2 2 0 1 1 .1 0m-31.6 -0.1a2 2 0 1 1 .1 0m26.6 -0.1a2 2 0 1 1 .1 0m-23.2 -0.1a2 2 0 1 1 .1 0m10.4 -0.2a2 2 0 1 1 .1 0m-8.1 -0.1a2 2 0 1 1 .1 0m6.4 0a2 2 0 1 1 .1 0m-15.1 -0.1a2 2 0 1 1 .1 0m16.7 0a2 2 0 1 1 .1 0m3.7 -0.2a2 2 0 1 1 .1 0m-29.2 0a2 2 0 1 1 .1 0m42.8 -0.1a2 2 0 1 1 .1 0m-32.8 -0.2a2 2 0 1 1 .1 0m5.2 0a2 2 0 1 1 .1 0m12.5 0a2 2 0 1 1 .1 0m-10.6 0a2 2 0 1 1 .1 0m3 -0.1a2 2 0 1 1 .1 0m20.5 -0.1a2 2 0 1 1 .1 0m-36.2 0a2 2 0 1 1 .1 0m-5.4 -0.2a2 2 0 1 1 .1 0m19.5 0a2 2 0 1 1 .1 0m9 -0.1a2 2 0 1 1 .1 0m6.6 -0.1a2 2 0 1 1 .1 0m-24 0a2 2 0 1 1 .1 0m9.7 -0.2a2 2 0 1 1 .1 0m-9.3 0a2 2 0 1 1 .1 0m-3.1 -0.1a2 2 0 1 1 .1 0m23.1 0a2 2 0 1 1 .1 0m-4.9 -0.1a2 2 0 1 1 .1 0m-14 -0.1a2 2 0 1 1 .1 0m11.6 -0.1a2 2 0 1 1 .1 0m-7.1 0a2 2 0 1 1 .1 0m4.5 0a2 2 0 1 1 .1 0m-2.7 -0.1a2 2 0 1 1 .1 0m-1.5 -0.1a2 2 0 1 1 .1 0m18 -0.1a2 2 0 1 1 .1 0m-27.7 -0.1a2 2 0 1 1 .1 0m4.1 -0.1a2 2 0 1 1 .1 0m-1.3 -0.1a2 2 0 1 1 .1 0m18.9 0a2 2 0 1 1 .1 0m-3 -0.3a2 2 0 1 1 .1 0m-15.7 -0.2a2 2 0 1 1 .1 0m21 0a2 2 0 1 1 .1 0m-2.3 -0.2a2 2 0 1 1 .1 0m4.1 -0.1a2 2 0 1 1 .1 0m-5.2 -0.1a2 2 0 1 1 .1 0m-10.6 0a2 2 0 1 1 .1 0m11.3 -0.3a2 2 0 1 1 .1 0m-1.8 -0.1a2 2 0 1 1 .1 0m-21.3 -0.8a2 2 0 1 1 .1 0m3.4 -0.2a2 2 0 1 1 .1 0m6.6 -0.3a2 2 0 1 1 .1 0m-11.6 0a2 2 0 1 1 .1 0m23.6 -0.5a2 2 0 1 1 .1 0m-25.7 -0.2a2 2 0 1 1 .1 0m9.8 -0.3a2 2 0 1 1 .1 0m2.4 0a2 2 0 1 1 .1 0m9.4 0a2 2 0 1 1 .1 0m-12.9 -0.1a2 2 0 1 1 .1 0m10.6 0a2 2 0 1 1 .1 0m-2.5 0a2 2 0 1 1 .1 0m-9 -0.3a2 2 0 1 1 .1 0m21.9 -0.1a2 2 0 1 1 .1 0m-20.7 -0.2a2 2 0 1 1 .1 0m6.2 -0.2a2 2 0 1 1 .1 0m6.5 -0.1a2 2 0 1 1 .1 0m1.4 0a2 2 0 1 1 .1 0m-2.4 -0.2a2 2 0 1 1 .1 0m-20.8 0a2 2 0 1 1 .1 0m16.2 -0.4a2 2 0 1 1 .1 0m-1.3 -0.2a2 2 0 1 1 .1 0m-5.8 -0.3a2 2 0 1 1 .1 0m-2.2 0a2 2 0 1 1 .1 0m2.6 -0.1a2 2 0 1 1 .1 0m10.3 0a2 2 0 1 1 .1 0m-11 -0.2a2 2 0 1 1 .1 0m7.1 -0.2a2 2 0 1 1 .1 0m3.8 -0.2a2 2 0 1 1 .1 0m-10.3 -0.1a2 2 0 1 1 .1 0m0 -0.2a2 2 0 1 1 .1 0m17.1 0a2 2 0 1 1 .1 0m-1.5 -0.2a2 2 0 1 1 .1 0m0.1 -0.1a2 2 0 1 1 .1 0m-25 -0.1a2 2 0 1 1 .1 0m18.8 -0.1a2 2 0 1 1 .1 0m-15.3 -0.1a2 2 0 1 1 .1 0m11.4 -0.1a2 2 0 1 1 .1 0m-12.6 -0.1a2 2 0 1 1 .1 0m14.7 -0.4a2 2 0 1 1 .1 0m-6.7 -0.1a2 2 0 1 1 .1 0m11.9 -0.2a2 2 0 1 1 .1 0m-6.4 -0.1a2 2 0 1 1 .1 0m-9.4 -0.1a2 2 0 1 1 .1 0m19 0a2 2 0 1 1 .1 0m-9.6 -0.1a2 2 0 1 1 .1 0m1.9 -0.6a2 2 0 1 1 .1 0m-14.1 -0.1a2 2 0 1 1 .1 0m7.4 -0.2a2 2 0 1 1 .1 0m2.7 -0.2a2 2 0 1 1 .1 0m-2.8 -0.1a2 2 0 1 1 .1 0m-15.1 -0.4a2 2 0 1 1 .1 0m28.1 -0.1a2 2 0 1 1 .1 0m-17.3 -0.1a2 2 0 1 1 .1 0m9.9 -0.1a2 2 0 1 1 .1 0m1.7 -0.1a2 2 0 1 1 .1 0m-11.1 0a2 2 0 1 1 .1 0m5 -0.1a2 2 0 1 1 .1 0m-6.4 -0.1a2 2 0 1 1 .1 0m6.8 0a2 2 0 1 1 .1 0m1.2 -0.1a2 2 0 1 1 .1 0m-5.2 0a2 2 0 1 1 .1 0m2.8 -0.5a2 2 0 1 1 .1 0m-7.2 -0.2a2 2 0 1 1 .1 0m3.7 -0.1a2 2 0 1 1 .1 0m-6 0a2 2 0 1 1 .1 0m17.6 -0.1a2 2 0 1 1 .1 0m-15.1 -0.3a2 2 0 1 1 .1 0m-2.5 -0.3a2 2 0 1 1 .1 0m4.7 -0.1a2 2 0 1 1 .1 0m7.1 -0.1a2 2 0 1 1 .1 0m-12 0a2 2 0 1 1 .1 0m8.8 -0.1a2 2 0 1 1 .1 0m-11.8 -0.2a2 2 0 1 1 .1 0m23.2 -0.1a2 2 0 1 1 .1 0m-15.5 0a2 2 0 1 1 .1 0m4.1 0a2 2 0 1 1 .1 0m1.7 -0.1a2 2 0 1 1 .1 0m4.7 -1.2a2 2 0 1 1 .1 0m-23.9 -0.2a2 2 0 1 1 .1 0m31.1 0a2 2 0 1 1 .1 0m-9.5 0a2 2 0 1 1 .1 0m-19.2 -0.3a2 2 0 1 1 .1 0m16.3 -0.1a2 2 0 1 1 .1 0m-17.3 -0.1a2 2 0 1 1 .1 0m27.9 -0.1a2 2 0 1 1 .1 0m-12.3 0a2 2 0 1 1 .1 0m-16.2 -0.1a2 2 0 1 1 .1 0m16.3 0a2 2 0 1 1 .1 0m13.9 -0.2a2 2 0 1 1 .1 0m-9.6 -0.2a2 2 0 1 1 .1 0m-12.2 -0.1a2 2 0 1 1 .1 0m3.9 -0.3a2 2 0 1 1 .1 0m1.9 0a2 2 0 1 1 .1 0m-7.2 -0.5a2 2 0 1 1 .1 0m12.2 0a2 2 0 1 1 .1 0m-7.3 -0.1a2 2 0 1 1 .1 0m16.9 -0.1a2 2 0 1 1 .1 0m-27.8 -0.1a2 2 0 1 1 .1 0m6.1 0a2 2 0 1 1 .1 0m-6.4 -0.3a2 2 0 1 1 .1 0m11.1 0a2 2 0 1 1 .1 0m-13.8 -0.1a2 2 0 1 1 .1 0m-1.7 -0.1a2 2 0 1 1 .1 0m29.9 -0.3a2 2 0 1 1 .1 0m-4.5 0a2 2 0 1 1 .1 0m-0.7 -0.1a2 2 0 1 1 .1 0m-23 0a2 2 0 1 1 .1 0m16.1 -0.1a2 2 0 1 1 .1 0m-4.3 -0.1a2 2 0 1 1 .1 0m6.3 -0.5a2 2 0 1 1 .1 0m-18.7 -0.1a2 2 0 1 1 .1 0m3 -0.4a2 2 0 1 1 .1 0m12.4 -0.8a2 2 0 1 1 .1 0m9.4 -0.5a2 2 0 1 1 .1 0m-19 -0.2a2 2 0 1 1 .1 0m-3.9 -0.1a2 2 0 1 1 .1 0m-1.9 -0.2a2 2 0 1 1 .1 0m-0.7 -0.1a2 2 0 1 1 .1 0m28.5 -0.3a2 2 0 1 1 .1 0m-13.4 -0.1a2 2 0 1 1 .1 0m-4.2 -0.1a2 2 0 1 1 .1 0m-4.7 -0.5a2 2 0 1 1 .1 0m20.7 0a2 2 0 1 1 .1 0m-4.4 -0.2a2 2 0 1 1 .1 0m-10.7 -0.4a2 2 0 1 1 .1 0m-3.3 0a2 2 0 1 1 .1 0m11.8 -0.1a2 2 0 1 1 .1 0m-2.7 -0.1a2 2 0 1 1 .1 0m-22.2 0a2 2 0 1 1 .1 0m4.3 -0.2a2 2 0 1 1 .1 0m25.9 -0.1a2 2 0 1 1 .1 0m-0.6 0a2 2 0 1 1 .1 0m-17.5 -0.4a2 2 0 1 1 .1 0m11.8 -0.4a2 2 0 1 1 .1 0m-10.6 -0.4a2 2 0 1 1 .1 0m16.5 -0.2a2 2 0 1 1 .1 0m-14.8 0a2 2 0 1 1 .1 0m-15.9 0a2 2 0 1 1 .1 0m9 -0.2a2 2 0 1 1 .1 0m-7.8 0a2 2 0 1 1 .1 0m11.5 -0.3a2 2 0 1 1 .1 0m-3.1 -0.1a2 2 0 1 1 .1 0m10 -0.5a2 2 0 1 1 .1 0m-10.5 -0.1a2 2 0 1 1 .1 0m2.8 -0.6a2 2 0 1 1 .1 0m2.2 0a2 2 0 1 1 .1 0m-7.1 -1a2 2 0 1 1 .1 0m26.1 -0.3a2 2 0 1 1 .1 0m-21.3 -0.4a2 2 0 1 1 .1 0m6.5 -0.1a2 2 0 1 1 .1 0m9.7 0a2 2 0 1 1 .1 0m-15.5 -0.2a2 2 0 1 1 .1 0m19.7 -0.1a2 2 0 1 1 .1 0m-9.8 -0.1a2 2 0 1 1 .1 0m3.9 -0.1a2 2 0 1 1 .1 0m-25.3 -0.3a2 2 0 1 1 .1 0m10.8 -0.1a2 2 0 1 1 .1 0m12.9 -0.1a2 2 0 1 1 .1 0m-3.8 -0.7a2 2 0 1 1 .1 0m-11.2 -0.1a2 2 0 1 1 .1 0m-10.1 -0.2a2 2 0 1 1 .1 0m18.8 -0.1a2 2 0 1 1 .1 0m9.8 0a2 2 0 1 1 .1 0m-3.9 -0.1a2 2 0 1 1 .1 0m-22.9 0a2 2 0 1 1 .1 0m22.9 -0.1a2 2 0 1 1 .1 0m-16.8 -0.1a2 2 0 1 1 .1 0m23.1 -0.1a2 2 0 1 1 .1 0m-1.3 -0.1a2 2 0 1 1 .1 0m-11.9 -0.1a2 2 0 1 1 .1 0m-15.7 -0.1a2 2 0 1 1 .1 0m18.3 -0.1a2 2 0 1 1 .1 0m-20.4 0a2 2 0 1 1 .1 0m25.5 -0.2a2 2 0 1 1 .1 0m-24.7 -0.6a2 2 0 1 1 .1 0m16 -0.1a2 2 0 1 1 .1 0m-5.6 -0.4a2 2 0 1 1 .1 0m11.3 -0.8a2 2 0 1 1 .1 0m-20.4 0a2 2 0 1 1 .1 0m16.5 -0.3a2 2 0 1 1 .1 0m-20.6 0a2 2 0 1 1 .1 0m-1.3 -0.1a2 2 0 1 1 .1 0m14.1 -0.3a2 2 0 1 1 .1 0m18.9 -0.4a2 2 0 1 1 .1 0m-25.1 -0.1a2 2 0 1 1 .1 0m20.3 -0.1a2 2 0 1 1 .1 0m-9.3 0a2 2 0 1 1 .1 0m-5.5 -0.1a2 2 0 1 1 .1 0m6.3 -0.1a2 2 0 1 1 .1 0m-5.7 0a2 2 0 1 1 .1 0m-1.1 -0.3a2 2 0 1 1 .1 0m8.4 -0.1a2 2 0 1 1 .1 0m-12.2 -0.4a2 2 0 1 1 .1 0m13.7 -0.4a2 2 0 1 1 .1 0m-17.3 0a2 2 0 1 1 .1 0m19 -0.7a2 2 0 1 1 .1 0m-2.2 -0.1a2 2 0 1 1 .1 0m-4.3 0a2 2 0 1 1 .1 0m10.3 -0.5a2 2 0 1 1 .1 0m-2.3 -0.3a2 2 0 1 1 .1 0m-16.7 0a2 2 0 1 1 .1 0m-9.6 -0.4a2 2 0 1 1 .1 0m19.7 -0.2a2 2 0 1 1 .1 0m6.4 -0.1a2 2 0 1 1 .1 0m-26.8 -0.5a2 2 0 1 1 .1 0m28 0a2 2 0 1 1 .1 0m-9.8 -0.4a2 2 0 1 1 .1 0m-12.7 -0.3a2 2 0 1 1 .1 0m18 -0.1a2 2 0 1 1 .1 0m7.7 -0.1a2 2 0 1 1 .1 0m-6.5 -0.4a2 2 0 1 1 .1 0m-22.2 -0.4a2 2 0 1 1 .1 0m5.8 -0.4a2 2 0 1 1 .1 0m15 -0.3a2 2 0 1 1 .1 0m-2.6 -0.2a2 2 0 1 1 .1 0m6.8 -0.8a2 2 0 1 1 .1 0m-10.7 0a2 2 0 1 1 .1 0m4.7 -0.8a2 2 0 1 1 .1 0m6 -0.4a2 2 0 1 1 .1 0m-1 0a2 2 0 1 1 .1 0m-29.2 -0.4a2 2 0 1 1 .1 0m27.5 -0.6a2 2 0 1 1 .1 0m-3.6 0a2 2 0 1 1 .1 0m-18.1 -0.1a2 2 0 1 1 .1 0m-7.3 -0.7a2 2 0 1 1 .1 0m31.3 -0.3a2 2 0 1 1 .1 0m-24.5 -0.1a2 2 0 1 1 .1 0m15.5 -0.7a2 2 0 1 1 .1 0m-16.8 -0.7a2 2 0 1 1 .1 0m25.4 -0.2a2 2 0 1 1 .1 0m-10.8 -0.4a2 2 0 1 1 .1 0m-14.1 -0.5a2 2 0 1 1 .1 0m19.5 -0.7a2 2 0 1 1 .1 0m-2 -0.1a2 2 0 1 1 .1 0m0.6 0a2 2 0 1 1 .1 0m-2.5 -0.3a2 2 0 1 1 .1 0m-21 -0.3a2 2 0 1 1 .1 0m22 -1a2 2 0 1 1 .1 0m-2.7 -0.1a2 2 0 1 1 .1 0m-10.4 -0.3a2 2 0 1 1 .1 0m13.5 -0.4a2 2 0 1 1 .1 0m-0.7 -0.4a2 2 0 1 1 .1 0m-13.7 -0.3a2 2 0 1 1 .1 0m10.6 -0.7a2 2 0 1 1 .1 0m7.7 -0.1a2 2 0 1 1 .1 0m-0.8 -0.1a2 2 0 1 1 .1 0m-23.5 -0.4a2 2 0 1 1 .1 0m7 -0.2a2 2 0 1 1 .1 0m10 0a2 2 0 1 1 .1 0m8 -0.1a2 2 0 1 1 .1 0m-7.6 -2.6a2 2 0 1 1 .1 0m-0.1 -0.2a2 2 0 1 1 .1 0m2.9 -0.5a2 2 0 1 1 .1 0m-1.4 -3a2 2 0 1 1 .1 0m-2.9 -0.4a2 2 0 1 1 .1 0m-11.2 -0.6a2 2 0 1 1 .1 0m12.6 -0.5a2 2 0 1 1 .1 0m-19.5 -1.7a2 2 0 1 1 .1 0m3 -0.1a2 2 0 1 1 .1 0m0 -0.1a2 2 0 1 1 .1 0m1 -0.3a2 2 0 1 1 .1 0m16.2 -1.1a2 2 0 1 1 .1 0m-20.1 0a2 2 0 1 1 .1 0m20.7 -0.7a2 2 0 1 1 .1 0m4.3 -0.8a2 2 0 1 1 .1 0m-1.5 -0.1a2 2 0 1 1 .1 0m-0.7 -0.5a2 2 0 1 1 .1 0m-4.3 -0.4a2 2 0 1 1 .1 0m-14.1 -0.7a2 2 0 1 1 .1 0m12.4 -0.1a2 2 0 1 1 .1 0m1.6 -0.3a2 2 0 1 1 .1 0m7.6 -1.3a2 2 0 1 1 .1 0m-7.9 -0.4a2 2 0 1 1 .1 0m4.4 -0.1a2 2 0 1 1 .1 0m-20.1 0a2 2 0 1 1 .1 0m4.3 -0.3a2 2 0 1 1 .1 0m18.8 -0.1a2 2 0 1 1 .1 0m-27.8 -1.9a2 2 0 1 1 .1 0m25.5 -1.2a2 2 0 1 1 .1 0m-24 -0.6a2 2 0 1 1 .1 0m19.3 -0.1a2 2 0 1 1 .1 0m7.3 -2.5a2 2 0 1 1 .1 0m-3.3 0a2 2 0 1 1 .1 0m-17.7 -0.6a2 2 0 1 1 .1 0m-7.3 -1.6a2 2 0 1 1 .1 0m6.6 -0.1a2 2 0 1 1 .1 0m-5.6 -0.7a2 2 0 1 1 .1 0m19.8 -0.3a2 2 0 1 1 .1 0m-1.8 -1.1a2 2 0 1 1 .1 0m0 -0.3a2 2 0 1 1 .1 0m3.4 -1.2a2 2 0 1 1 .1 0m2.6 -1.3a2 2 0 1 1 .1 0m-2.3 -0.8a2 2 0 1 1 .1 0m2.3 -0.6a2 2 0 1 1 .1 0m-26.6 -1.7a2 2 0 1 1 .1 0m4.3 -0.7a2 2 0 1 1 .1 0m16 -1.9a2 2 0 1 1 .1 0m-18.6 -1.3a2 2 0 1 1 .1 0m24.4 -2.9a2 2 0 1 1 .1 0m-5.7 -1.2a2 2 0 1 1 .1 0m6 -0.3a2 2 0 1 1 .1 0m2.5 -1.1a2 2 0 1 1 .1 0m-27.4 -3a2 2 0 1 1 .1 0m26.2 -0.4a2 2 0 1 1 .1 0m-23.6 0a2 2 0 1 1 .1 0m-4.8 -1.9a2 2 0 1 1 .1 0m21.1 -3.3a2 2 0 1 1 .1 0m0.3 -1.4a2 2 0 1 1 .1 0m-1.2 -1a2 2 0 1 1 .1 0m7.3 -0.1a2 2 0 1 1 .1 0m-24.8 -1.4a2 2 0 1 1 .1 0m-1 -0.6a2 2 0 1 1 .1 0m-1.1 -1a2 2 0 1 1 .1 0m21.8 -0.4a2 2 0 1 1 .1 0m-1.3 -3.7a2 2 0 1 1 .1 0m3.5 0a2 2 0 1 1 .1 0m-26.5 -2a2 2 0 1 1 .1 0m32 -8.1a2 2 0 1 1 .1 0m-2.3 -5.5a2 2 0 1 1 .1 0m-4.6 -4.5a2 2 0 1 1 .1 0m-1.8 -2.6a2 2 0 1 1 .1 0m2 -2.5a2 2 0 1 1 .1 0m0.8 -6.5a2 2 0 1 1 .1 0m-2.2 -8.9a2 2 0 1 1 .1 0m2.8 -12.2a2 2 0 1 1 .1 0m-167.7 215.8a2 2 0 1 1 .1 0m36.5 -8.5a2 2 0 1 1 .1 0m3.3 4.8a2 2 0 1 1 .1 0m-0.1 3.7a2 2 0 1 1 .1 0m8.6 -0.9a2 2 0 1 1 .1 0m3.8 -14.1a2 2 0 1 1 .1 0m0.8 10.5a2 2 0 1 1 .1 0m11.7 0.8a2 2 0 1 1 .1 0m10 -2a2 2 0 1 1 .1 0m3.3 -5a2 2 0 1 1 .1 0m0.7 5a2 2 0 1 1 .1 0m-0.9 4a2 2 0 1 1 .1 0m11.1 -2.6a2 2 0 1 1 .1 0m5.6 -1.4a2 2 0 1 1 .1 0m0.4 -11.2a2 2 0 1 1 .1 0m2.2 19.7a2 2 0 1 1 .1 0m2.7 -17.8a2 2 0 1 1 .1 0m8.3 -1.4a2 2 0 1 1 .1 0m5 10.7a2 2 0 1 1 .1 0m4.7 -6.4a2 2 0 1 1 .1 0m-2.1 15.4a2 2 0 1 1 .1 0m4.7 -0.5a2 2 0 1 1 .1 0m4.7 -9.3a2 2 0 1 1 .1 0m0.7 -12.7a2 2 0 1 1 .1 0m2.7 -2.8a2 2 0 1 1 .1 0m84.4 7.9a2 2 0 1 1 .1 0m5.8 0.3a2 2 0 1 1 .1 0m-39.8 -11a2 2 0 1 1 .1 0m2.7 1.4a2 2 0 1 1 .1 0m-1.5 11.3a2 2 0 1 1 .1 0m-2.9 7a2 2 0 1 1 .1 0m-2.9 11.2a2 2 0 1 1 .1 0m-6.3 -252.1a2 2 0 1 1 .1 0m2.1 0a2 2 0 1 1 .1 0m0.2 11a2 2 0 1 1 .1 0m-6.3 4a2 2 0 1 1 .1 0m-4.9 9.2a2 2 0 1 1 .1 0m5.3 4.8a2 2 0 1 1 .1 0m-31.1 7.3a2 2 0 1 1 .1 0m4.1 1.4a2 2 0 1 1 .1 0m4.5 0.3a2 2 0 1 1 .1 0m-7.2 10.4a2 2 0 1 1 .1 0m27.2 -15.7a2 2 0 1 1 .1 0m-1.5 5.6a2 2 0 1 1 .1 0m-2.9 1.4a2 2 0 1 1 .1 0m4.1 4.2a2 2 0 1 1 .1 0m-25.4 38a2 2 0 1 1 .1 0m4.1 0.9a2 2 0 1 1 .1 0m-3.5 3.3a2 2 0 1 1 .1 0m2.5 1.7a2 2 0 1 1 .1 0m-8.3 8.8a2 2 0 1 1 .1 0m6.9 -0.6a2 2 0 1 1 .1 0m1.9 4.2a2 2 0 1 1 .1 0m-1.5 3.7a2 2 0 1 1 .1 0m-2.4 3.3a2 2 0 1 1 .1 0m8.7 2.9a2 2 0 1 1 .1 0m-10.8 1.4a2 2 0 1 1 .1 0" fill="none" stroke="#939393" stroke-width="1.1"/>
<path d="M272.9 189.1a2 2 0 1 1 .1 0m1.6 9.9a2 2 0 1 1 .1 0m-1.8 47.2a2 2 0 1 1 .1 0m5 13.3a2 2 0 1 1 .1 0m-6.6 7.8a2 2 0 1 1 .1 0m2.7 -2.2a2 2 0 1 1 .1 0m-10.8 7.3a2 2 0 1 1 .1 0m11.2 10.4a2 2 0 1 1 .1 0m-2.6 3.4a2 2 0 1 1 .1 0m-5.8 2.2a2 2 0 1 1 .1 0m6.1 3.4a2 2 0 1 1 .1 0m-2.9 2.8a2 2 0 1 1 .1 0m-2.9 4.2a2 2 0 1 1 .1 0m6.9 3.7a2 2 0 1 1 .1 0m-38 5.6a2 2 0 1 1 .1 0m25.2 -0.8a2 2 0 1 1 .1 0m12.5 0a2 2 0 1 1 .1 0m-32.4 4.2a2 2 0 1 1 .1 0m28 -1.4a2 2 0 1 1 .1 0m5.5 2.8a2 2 0 1 1 .1 0m-28.2 3.7a2 2 0 1 1 .1 0m-6.6 1.4a2 2 0 1 1 .1 0m14.8 2a2 2 0 1 1 .1 0m-5.7 1.4a2 2 0 1 1 .1 0m6.1 4.2a2 2 0 1 1 .1 0m-4.9 3.4a2 2 0 1 1 .1 0m16.8 0.8a2 2 0 1 1 .1 0m6.9 0a2 2 0 1 1 .1 0m-31 2.8a2 2 0 1 1 .1 0m5.5 1.4a2 2 0 1 1 .1 0m-44.3 5.1a2 2 0 1 1 .1 0m26.7 0.5a2 2 0 1 1 .1 0m8.3 0.9a2 2 0 1 1 .1 0m6.1 2a2 2 0 1 1 .1 0m4.7 2.8a2 2 0 1 1 .1 0m5 -4.2a2 2 0 1 1 .1 0m4.1 -16.9a2 2 0 1 1 .1 0m4.1 -7.1a2 2 0 1 1 .1 0m5.5 5.7a2 2 0 1 1 .1 0m5.6 -2.8a2 2 0 1 1 .1 0m-17 12.6a2 2 0 1 1 .1 0m4.1 4.2a2 2 0 1 1 .1 0m5.5 -1.4a2 2 0 1 1 .1 0" fill="none" stroke="#3553a0" stroke-width="1.3"/>
<path d="M325 94a2 2 0 1 1 .1 0m39.6 0a2 2 0 1 1 .1 0m1.5 9a2 2 0 1 1 .1 0m-31.6 14.4a2 2 0 1 1 .1 0m27.2 0a2 2 0 1 1 .1 0m-31 16.6a2 2 0 1 1 .1 0m9.2 13.2a2 2 0 1 1 .1 0m9.1 2a2 2 0 1 1 .1 0m3.3 0a2 2 0 1 1 .1 0m30 0a2 2 0 1 1 .1 0m-54.9 3.1a2 2 0 1 1 .1 0m14.5 5.3a2 2 0 1 1 .1 0m14 0a2 2 0 1 1 .1 0m-35.6 14.6a2 2 0 1 1 .1 0m4.7 1.2a2 2 0 1 1 .1 0m3.8 0.2a2 2 0 1 1 .1 0m-11.9 1.7a2 2 0 1 1 .1 0m-0.6 2.6a2 2 0 1 1 .1 0m24 -2.3a2 2 0 1 1 .1 0m-12.7 5.4a2 2 0 1 1 .1 0m-6 3a2 2 0 1 1 .1 0m10.3 0a2 2 0 1 1 .1 0m14 3.1a2 2 0 1 1 .1 0m-30.8 2a2 2 0 1 1 .1 0m14.5 4.8a2 2 0 1 1 .1 0m4.1 0a2 2 0 1 1 .1 0m-12.7 3.4a2 2 0 1 1 .1 0m-1.5 3.3a2 2 0 1 1 .1 0m-0.7 6a2 2 0 1 1 .1 0m6.1 0a2 2 0 1 1 .1 0m-7.7 3.6a2 2 0 1 1 .1 0m3.3 0a2 2 0 1 1 .1 0m9.7 5.6a2 2 0 1 1 .1 0m32.8 4.3a2 2 0 1 1 .1 0m-45.6 1.4a2 2 0 1 1 .1 0m6.3 4.2a2 2 0 1 1 .1 0m3.3 2a2 2 0 1 1 .1 0m-11.3 4.2a2 2 0 1 1 .1 0m2.7 1.4a2 2 0 1 1 .1 0m2.7 0.6a2 2 0 1 1 .1 0m25.2 1.6a2 2 0 1 1 .1 0m-29.1 4.8a2 2 0 1 1 .1 0m2.2 -2.5a2 2 0 1 1 .1 0m4.1 5.6a2 2 0 1 1 .1 0m3.6 -0.3a2 2 0 1 1 .1 0m13.6 7.4a2 2 0 1 1 .1 0m-21.7 5.6a2 2 0 1 1 .1 0m-0.1 2.5a2 2 0 1 1 .1 0m3.3 0.3a2 2 0 1 1 .1 0m4.1 0.6a2 2 0 1 1 .1 0m4.4 0a2 2 0 1 1 .1 0m0.7 1.4a2 2 0 1 1 .1 0m-17.8 7a2 2 0 1 1 .1 0m6.9 -1.4a2 2 0 1 1 .1 0m-6.5 5.6a2 2 0 1 1 .1 0m8.3 -0.5a2 2 0 1 1 .1 0m18.8 6.1a2 2 0 1 1 .1 0m-20.4 3.4a2 2 0 1 1 .1 0m6.9 0a2 2 0 1 1 .1 0m-3.7 1.4a2 2 0 1 1 .1 0m17.6 13.5a2 2 0 1 1 .1 0m-21.2 0a2 2 0 1 1 .1 0m8.3 2.8a2 2 0 1 1 .1 0m-0.1 4.3a2 2 0 1 1 .1 0m-9.9 2.8a2 2 0 1 1 .1 0m8.3 1.4a2 2 0 1 1 .1 0m-3.7 10.4a2 2 0 1 1 .1 0m4.4 11.3a2 2 0 1 1 .1 0m-8 0.8a2 2 0 1 1 .1 0m4.1 13.2a2 2 0 1 1 .1 0m-5.7 2.8a2 2 0 1 1 .1 0m-3.7 -19.2a2 2 0 1 1 .1 0m-3.2 -32.9a2 2 0 1 1 .1 0m-0.6 -2a2 2 0 1 1 .1 0m-0.5 -19a2 2 0 1 1 .1 0m1.1 52a2 2 0 1 1 .1 0m13.5 -19a2 2 0 1 1 .1 0m-8.7 -32.9a2 2 0 1 1 .1 0m-5.6 61.6a2 2 0 1 1 .1 0m2.7 -43.5a2 2 0 1 1 .1 0m0.2 -9.5a2 2 0 1 1 .1 0m2.9 6.2a2 2 0 1 1 .1 0m-4.2 7.3a2 2 0 1 1 .1 0m6 26a2 2 0 1 1 .1 0m-7.4 -15.4a2 2 0 1 1 .1 0m3.4 -22.1a2 2 0 1 1 .1 0m-0.4 -18.2a2 2 0 1 1 .1 0m-3.5 47.3a2 2 0 1 1 .1 0m3 -48.6a2 2 0 1 1 .1 0m-2.8 5.1a2 2 0 1 1 .1 0m-0.7 59.5a2 2 0 1 1 .1 0m4.5 -67.3a2 2 0 1 1 .1 0m-3.6 59.7a2 2 0 1 1 .1 0m0.6 -18.5a2 2 0 1 1 .1 0m-0.5 -7a2 2 0 1 1 .1 0m2.8 0.1a2 2 0 1 1 .1 0m-1.9 -31a2 2 0 1 1 .1 0m2.9 6.5a2 2 0 1 1 .1 0m-6.6 62.3a2 2 0 1 1 .1 0m9.2 -62.7a2 2 0 1 1 .1 0m-7.6 26.2a2 2 0 1 1 .1 0m-0.2 -13a2 2 0 1 1 .1 0m6.2 12.6a2 2 0 1 1 .1 0m-0.2 26a2 2 0 1 1 .1 0m-4.9 -63.4a2 2 0 1 1 .1 0m-2.1 81a2 2 0 1 1 .1 0m2.9 -5.6a2 2 0 1 1 .1 0m-3.5 -12.8a2 2 0 1 1 .1 0m8.1 22.4a2 2 0 1 1 .1 0m-2.4 -51.3a2 2 0 1 1 .1 0m-5.1 25.5a2 2 0 1 1 .1 0m3.3 -49.4a2 2 0 1 1 .1 0m-4.8 -10.6a2 2 0 1 1 .1 0m4.7 61.9a2 2 0 1 1 .1 0m-2.7 25.1a2 2 0 1 1 .1 0m2.3 -15a2 2 0 1 1 .1 0" fill="none" stroke="#a02a20" stroke-width="1.3"/>
<path d="M106.4 82V419H490.9M106.4 419v9M144.3 419v9M182.7 419v5M221.1 419v9M259.5 419v5M297.9 419v9M336.3 419v5M374.7 419v9M413.1 419v5M451.5 419v9M489.9 419v5M106.4 419h-9M106.4 362.83h-5M106.4 306.66h-9M106.4 250.49h-5M106.4 194.32h-9M106.4 138.15h-5M106.4 81.98h-9" stroke="#000" stroke-width="2" fill="none"/>
<text transform="translate(132.73 458.8) scale(0.8077 1)" font-size="27.56" stroke="#000" stroke-width="0.45">-4</text>
<text transform="translate(209.75 458.8) scale(0.8077 1)" font-size="27.56" stroke="#000" stroke-width="0.45">-2</text>
<text transform="translate(291.67 458.8) scale(0.8077 1)" font-size="27.56" stroke="#000" stroke-width="0.45">0</text>
<text transform="translate(368.52 458.8) scale(0.8077 1)" font-size="27.56" stroke="#000" stroke-width="0.45">2</text>
<text transform="translate(445.43 458.8) scale(0.8077 1)" font-size="27.56" stroke="#000" stroke-width="0.45">4</text>
<text transform="translate(82.42 428.5) scale(0.8077 1)" font-size="27.56" stroke="#000" stroke-width="0.45">0</text>
<text transform="translate(82.76 316.16) scale(0.8077 1)" font-size="27.56" stroke="#000" stroke-width="0.45">2</text>
<text transform="translate(82.31 203.82) scale(0.8077 1)" font-size="27.56" stroke="#000" stroke-width="0.45">4</text>
<text transform="translate(82.54 91.48) scale(0.8077 1)" font-size="27.56" stroke="#000" stroke-width="0.45">6</text>
<text transform="translate(178.64 504.2) scale(0.8100 1)" font-size="36.4" stroke="#000" stroke-width="0.45">LOG2 (HSD/NSD)</text>
<text transform="translate(69.8 411.82) rotate(-90) scale(0.7426 1)" font-size="39.52" stroke="#000" stroke-width="0.45">-LOG10 adjst.pvalue.FDR</text>
<text transform="translate(289.87 101.25) scale(0.7692 1)" font-size="13.1" stroke="#000" stroke-width="0.35">Ralbp1</text>
<text transform="translate(371.15 96.47) scale(0.7692 1)" font-size="13.1" stroke="#000" stroke-width="0.35">Abca1</text>
<text transform="translate(372.67 108) scale(0.7692 1)" font-size="13.1" stroke="#000" stroke-width="0.35">Spty2d1</text>
<text transform="translate(368.09 119.82) scale(0.7692 1)" font-size="13.1" stroke="#000" stroke-width="0.35">Katnal1</text>
<text transform="translate(295.44 126.29) scale(0.7692 1)" font-size="13.1" stroke="#000" stroke-width="0.35">Zfyve16</text>
<text transform="translate(337.14 137.27) scale(0.7692 1)" font-size="13.1" stroke="#000" stroke-width="0.35">Rab13</text>
<text transform="translate(390.64 154.71) scale(0.7692 1)" font-size="13.1" stroke="#000" stroke-width="0.35">Thbs2</text>
<text transform="translate(362.51 165.97) scale(0.7692 1)" font-size="13.1" stroke="#000" stroke-width="0.35">Tbc1d17</text>
<text transform="translate(348.75 182.29) scale(0.7692 1)" font-size="13.1" stroke="#000" stroke-width="0.35">Sap30</text>
<text transform="translate(232.23 189.32) scale(0.7692 1)" font-size="13.1" stroke="#000" stroke-width="0.35">Tubb3</text>
<text transform="translate(239.97 204.23) scale(0.7692 1)" font-size="13.1" stroke="#000" stroke-width="0.35">Isoc1</text>
<text transform="translate(339.39 218.3) scale(0.7692 1)" font-size="13.1" stroke="#000" stroke-width="0.35">Rab30</text>
<text transform="translate(373.12 222.24) scale(0.7692 1)" font-size="13.1" stroke="#000" stroke-width="0.35">Arid4b</text>
<text transform="translate(230.22 235.18) scale(0.7692 1)" font-size="13.1" stroke="#000" stroke-width="0.35">Mapk12</text>
<text transform="translate(338.85 245.03) scale(0.7692 1)" font-size="13.1" stroke="#000" stroke-width="0.35">Gpr143</text>
<text transform="translate(243.18 253.19) scale(0.7692 1)" font-size="13.1" stroke="#000" stroke-width="0.35">Cbr3</text>
<text transform="translate(343.37 261.35) scale(0.7692 1)" font-size="13.1" stroke="#000" stroke-width="0.35">Tyr</text>
<text transform="translate(215.89 267.26) scale(0.7692 1)" font-size="13.1" stroke="#000" stroke-width="0.35">Clptm1l</text>
<text transform="translate(333.48 273.73) scale(0.7692 1)" font-size="13.1" stroke="#000" stroke-width="0.35">Rab38</text>
<text transform="translate(216.15 279.36) scale(0.7692 1)" font-size="13.1" stroke="#000" stroke-width="0.35">Nt5dc3</text>
<text transform="translate(342.28 287.8) scale(0.7692 1)" font-size="13.1" stroke="#000" stroke-width="0.35">Sytl2</text>
<text transform="translate(202.44 295.68) scale(0.7692 1)" font-size="13.1" stroke="#000" stroke-width="0.35">Sp100</text>
<text transform="translate(263.18 294.27) scale(0.7692 1)" font-size="13.1" stroke="#000" stroke-width="0.35">Tap1</text>
<text transform="translate(234.2 301.87) scale(0.7692 1)" font-size="13.1" stroke="#000" stroke-width="0.35">Tapbp</text>
<text transform="translate(328.14 307.5) scale(0.7692 1)" font-size="13.1" stroke="#000" stroke-width="0.35">Mlph</text>
<text transform="translate(201.52 311.15) scale(0.7692 1)" font-size="13.1" stroke="#000" stroke-width="0.35">Mndal</text>
<text transform="translate(332.68 321) scale(0.7692 1)" font-size="13.1" stroke="#000" stroke-width="0.35">Tyrp1</text>
<text transform="translate(247.1 319.6) scale(0.7692 1)" font-size="13.1" stroke="#000" stroke-width="0.35">Mnda</text>
<text transform="translate(199.27 324.38) scale(0.7692 1)" font-size="13.1" stroke="#000" stroke-width="0.35">Psmb10</text>
<text transform="translate(254.14 324.94) scale(0.7692 1)" font-size="13.1" stroke="#000" stroke-width="0.35">Psmb8</text>
<text transform="translate(210.26 335.63) scale(0.7692 1)" font-size="13.1" stroke="#000" stroke-width="0.35">Gbp4</text>
<text transform="translate(326.24 335.63) scale(0.7692 1)" font-size="13.1" stroke="#000" stroke-width="0.35">Slc45a2</text>
<text transform="translate(250.76 338.45) scale(0.7692 1)" font-size="13.1" stroke="#000" stroke-width="0.35">Psmb9</text>
<text transform="translate(258.26 346.89) scale(0.7692 1)" font-size="13.1" stroke="#000" stroke-width="0.35">Iigp1</text>
<text transform="translate(208.86 352.52) scale(0.7692 1)" font-size="13.1" stroke="#000" stroke-width="0.35">Gbp9</text>
<text transform="translate(242.78 363.21) scale(0.7692 1)" font-size="13.1" stroke="#000" stroke-width="0.35">Igtp</text>
<text transform="translate(12.03 43.4) scale(1.0132 1)" font-size="50.23" font-weight="700" fill="#1a1a1a">A</text>
</g>
<g id="pB">
<rect x="916" y="105.6" width="162.59" height="22.8" fill="#80184b" stroke="#000" stroke-width="1.9"/>
<text transform="translate(615.47 127.3) scale(0.7772 1)" font-size="28.29" stroke="#000" stroke-width="0.45">melanin biosynthetic process</text>
<rect x="916" y="143" width="142.38" height="22.8" fill="#80184b" stroke="#000" stroke-width="1.9"/>
<text transform="translate(637.67 164.7) scale(0.7766 1)" font-size="28.29" stroke="#000" stroke-width="0.45">melanin metabolic process</text>
<rect x="916" y="180.4" width="142.38" height="22.8" fill="#80184b" stroke="#000" stroke-width="1.9"/>
<text transform="translate(490.34 202.1) scale(0.7759 1)" font-size="28.29" stroke="#000" stroke-width="0.45">secondary metabolite biosynthetic process</text>
<rect x="916" y="217.8" width="75.33" height="22.8" fill="#80184b" stroke="#000" stroke-width="1.9"/>
<text transform="translate(629.02 239.5) scale(0.7780 1)" font-size="28.29" stroke="#000" stroke-width="0.45">developmental pigmentation</text>
<rect x="916" y="255.2" width="60.02" height="22.8" fill="#80184b" stroke="#000" stroke-width="1.9"/>
<text transform="translate(702.32 276.9) scale(0.7788 1)" font-size="28.29" stroke="#000" stroke-width="0.45">cellular pigmentation</text>
<rect x="916" y="292.6" width="53.28" height="22.8" fill="#80184b" stroke="#000" stroke-width="1.9"/>
<text transform="translate(777.26 314.3) scale(0.7847 1)" font-size="28.29" stroke="#000" stroke-width="0.45">pigmentation</text>
<rect x="916" y="330" width="7.65" height="22.8" fill="#80184b" stroke="#000" stroke-width="1.9"/>
<text transform="translate(616.67 351.7) scale(0.7757 1)" font-size="28.29" stroke="#000" stroke-width="0.45">nitrogen compound transport</text>
<rect x="916" y="367.4" width="7.65" height="22.8" fill="#80184b" stroke="#000" stroke-width="1.9"/>
<text transform="translate(560.82 389.1) scale(0.7782 1)" font-size="28.29" stroke="#000" stroke-width="0.45">establishment of localization in cell</text>
<path d="M933.4 116.5L932.2 154.3L932.2 191.7L935.4 229L934.8 267.6L943.7 304L931.3 341.7L931.3 379.4" stroke="#000" stroke-width="2" fill="none" stroke-linejoin="round"/>
<rect x="916" y="79.2" width="337.2" height="335.7" fill="none" stroke="#000" stroke-width="2.1"/>
<path d="M907 117h9M907 154.4h9M907 191.8h9M907 229.2h9M907 266.6h9M907 304h9M907 341.4h9M907 378.8h9M916 414.9v9.5M992.55 414.9v9.5M1069.1 414.9v9.5M1145.65 414.9v9.5M1222.2 414.9v9.5" stroke="#000" stroke-width="2.1" fill="none"/>
<text transform="translate(909.06 456.5) scale(0.8269 1)" font-size="29.95" stroke="#000" stroke-width="0.45">0</text>
<text transform="translate(978.68 456.5) scale(0.8269 1)" font-size="29.95" stroke="#000" stroke-width="0.45">25</text>
<text transform="translate(1055.29 456.5) scale(0.8269 1)" font-size="29.95" stroke="#000" stroke-width="0.45">50</text>
<text transform="translate(1131.78 456.5) scale(0.8269 1)" font-size="29.95" stroke="#000" stroke-width="0.45">75</text>
<text transform="translate(1201.09 456.5) scale(0.8269 1)" font-size="29.95" stroke="#000" stroke-width="0.45">100</text>
<text transform="translate(1017.1 507.2) scale(0.7998 1)" font-size="37.44" stroke="#000" stroke-width="0.45">HSD/NSD</text>
<text transform="translate(917.59 47.8) scale(0.8554 1)" font-size="39.83" stroke="#000" stroke-width="0.3">pathway enrichment</text>
<rect x="1065.5" y="362" width="22.5" height="16" fill="#80184b" stroke="#000" stroke-width="1.8"/>
<text transform="translate(1100.88 377.6) scale(0.9621 1)" font-size="21.01" stroke="#000" stroke-width="0.45">Fold enrichment</text>
<path d="M1065 400.2L1088 400.2" stroke="#000" stroke-width="1.9"/>
<text transform="translate(1101.5 407.2) scale(0.95 1)" font-size="21" stroke="#000" stroke-width=".3">(log10)*-1 <tspan font-style="italic">pval</tspan></text>
<text transform="translate(521.67 42.9) scale(0.9595 1)" font-size="50.23" font-weight="700" fill="#1a1a1a">B</text>
</g>
<g id="pC">
<g fill="#a9a9a9" stroke="#000" stroke-width="1.2"><circle cx="1605.33" cy="183.63" r="6.6"/><circle cx="1594.17" cy="186.68" r="6.6"/><circle cx="1609.72" cy="186.68" r="6.6"/><circle cx="1588.42" cy="195.13" r="6.6"/><circle cx="1599.58" cy="193.44" r="6.6"/><circle cx="1610.4" cy="204.6" r="6.6"/><circle cx="1589.09" cy="207.98" r="6.6"/><circle cx="1600.25" cy="216.44" r="6.6"/><circle cx="1615.47" cy="222.18" r="6.6"/><circle cx="1589.09" cy="224.21" r="6.6"/><circle cx="1610.4" cy="223.2" r="6.6"/><circle cx="1599.58" cy="227.26" r="6.6"/><circle cx="1603.64" cy="233.34" r="6.6"/><circle cx="1595.18" cy="263.1" r="6.6"/><circle cx="1599.58" cy="272.24" r="6.6"/><circle cx="1606" cy="277.31" r="6.6"/><circle cx="1594.17" cy="279" r="6.6"/><circle cx="1610.4" cy="287.45" r="6.6"/><circle cx="1599.58" cy="290.16" r="6.6"/><circle cx="1605.33" cy="298.28" r="6.6"/><circle cx="1602.96" cy="320.26" r="6.6"/></g>
<g fill="#80184b" stroke="#000" stroke-width="1.2"><circle cx="1661.13" cy="129.18" r="6.6"/><circle cx="1661.13" cy="165.71" r="6.6"/><circle cx="1658.42" cy="174.16" r="6.6"/><circle cx="1663.83" cy="182.62" r="6.6"/><circle cx="1657.74" cy="185.32" r="6.6"/><circle cx="1661.13" cy="196.14" r="6.6"/><circle cx="1652.67" cy="203.92" r="6.6"/><circle cx="1661.13" cy="203.92" r="6.6"/><circle cx="1669.58" cy="203.92" r="6.6"/><circle cx="1674.65" cy="204.6" r="6.6"/><circle cx="1647.6" cy="204.6" r="6.6"/><circle cx="1656.05" cy="211.36" r="6.6"/><circle cx="1666.2" cy="211.36" r="6.6"/><circle cx="1650.98" cy="212.38" r="6.6"/><circle cx="1671.27" cy="216.44" r="6.6"/><circle cx="1661.13" cy="223.2" r="6.6"/><circle cx="1663.83" cy="258.71" r="6.6"/><circle cx="1658.42" cy="270.54" r="6.6"/></g>
<path d="M1584 235.04H1622M1603 225.9V243.49M1593 225.9H1613 M1593 243.49H1613" stroke="#000" stroke-width="1.7" fill="none"/>
<path d="M1642.1 202.91H1680.1M1661.1 196.14V210.35M1651.1 196.14H1671.1 M1651.1 210.35H1671.1" stroke="#000" stroke-width="1.7" fill="none"/>
<path d="M1534.9 79.4V385.4M1534.9 80.3h-8.5M1534.9 181.7h-8.5M1534.9 283.1h-8.5M1534.9 384.5h-8.5" stroke="#000" stroke-width="1.8" fill="none"/>
<text transform="translate(1501.59 90.6) scale(0.8413 1)" font-size="27.56" stroke="#000" stroke-width="0.45">-8</text>
<text transform="translate(1488.61 192) scale(0.8413 1)" font-size="27.56" stroke="#000" stroke-width="0.45">-10</text>
<text transform="translate(1488.95 293.4) scale(0.8413 1)" font-size="27.56" stroke="#000" stroke-width="0.45">-12</text>
<text transform="translate(1488.49 394.8) scale(0.8413 1)" font-size="27.56" stroke="#000" stroke-width="0.45">-14</text>
<path d="M1563 413.6H1700M1602.3 413.6v9M1661.1 413.6v9" stroke="#000" stroke-width="1.8" fill="none"/>
<path d="M1601.1 104.2L1661.9 104.2" stroke="#000" stroke-width="2"/>
<text transform="translate(1612 90) scale(0.8071 1)" font-size="24.65" stroke="#000" stroke-width="0.45">0.01</text>
<text transform="translate(1602.07 47.3) scale(0.8100 1)" font-size="42.43" font-style="italic" stroke="#000" stroke-width="0.45">Mitf</text>
<text transform="translate(1555.12 408.5) scale(0.8302 1)" font-size="28.5" stroke="#000" stroke-width="0.45">2^-ddCT =1.65</text>
<text transform="translate(1575.33 453.8) scale(0.8560 1)" font-size="28.7" stroke="#000" stroke-width="0.45">NSD HSD</text>
<text transform="translate(1435.4 378.67) rotate(-90) scale(0.8648 1)" font-size="33.8" stroke="#000" stroke-width="0.45">gene expression (-dCT)</text>
<text transform="translate(1473.4 351.77) rotate(-90) scale(0.8565 1)" font-size="31.82" stroke="#000" stroke-width="0.45">normalized to ß-actin</text>
<text transform="translate(1364.3 42.9) scale(0.9452 1)" font-size="50.23" font-weight="700" fill="#1a1a1a">C</text>
</g>
<g id="pD">
<g fill="#a9a9a9" stroke="#000" stroke-width="1.2"><circle cx="203.89" cy="819.96" r="6.6"/><circle cx="202.5" cy="876.23" r="6.6"/><circle cx="207.71" cy="882.13" r="6.6"/><circle cx="199.72" cy="890.12" r="6.6"/><circle cx="206.67" cy="890.82" r="6.6"/><circle cx="203.2" cy="899.5" r="6.6"/><circle cx="207.36" cy="913.39" r="6.6"/><circle cx="199.72" cy="918.6" r="6.6"/><circle cx="204.93" cy="922.08" r="6.6"/><circle cx="197.99" cy="925.55" r="6.6"/><circle cx="208.41" cy="926.25" r="6.6"/><circle cx="192.78" cy="934.23" r="6.6"/><circle cx="200.42" cy="934.23" r="6.6"/><circle cx="206.67" cy="933.19" r="6.6"/><circle cx="212.57" cy="935.97" r="6.6"/><circle cx="196.25" cy="939.44" r="6.6"/><circle cx="204.93" cy="942.22" r="6.6"/><circle cx="217.09" cy="942.22" r="6.6"/><circle cx="189.3" cy="944.65" r="6.6"/><circle cx="210.14" cy="944.65" r="6.6"/><circle cx="201.46" cy="949.17" r="6.6"/><circle cx="212.57" cy="949.17" r="6.6"/></g>
<g fill="#80184b" stroke="#000" stroke-width="1.2"><circle cx="262.24" cy="704.99" r="6.6"/><circle cx="262.24" cy="752.57" r="6.6"/><circle cx="257.03" cy="796.34" r="6.6"/><circle cx="263.29" cy="799.81" r="6.6"/><circle cx="268.15" cy="803.98" r="6.6"/><circle cx="262.24" cy="824.82" r="6.6"/><circle cx="257.03" cy="827.6" r="6.6"/><circle cx="267.45" cy="827.6" r="6.6"/><circle cx="262.24" cy="850.87" r="6.6"/><circle cx="257.03" cy="875.19" r="6.6"/><circle cx="268.15" cy="883.87" r="6.6"/><circle cx="249.39" cy="888.38" r="6.6"/><circle cx="262.24" cy="888.38" r="6.6"/><circle cx="256.34" cy="892.55" r="6.6"/><circle cx="276.14" cy="892.55" r="6.6"/><circle cx="268.15" cy="892.55" r="6.6"/><circle cx="259.81" cy="910.96" r="6.6"/><circle cx="265.72" cy="910.96" r="6.6"/><circle cx="248.35" cy="924.86" r="6.6"/><circle cx="270.23" cy="930.76" r="6.6"/><circle cx="255.3" cy="934.23" r="6.6"/><circle cx="276.14" cy="937.71" r="6.6"/><circle cx="265.72" cy="936.67" r="6.6"/><circle cx="249.39" cy="942.22" r="6.6"/><circle cx="260.51" cy="942.92" r="6.6"/><circle cx="270.23" cy="944.65" r="6.6"/></g>
<path d="M184.39 918.6H223.39M203.89 912.35V923.81M194.39 912.35H213.39 M194.39 923.81H213.39" stroke="#000" stroke-width="1.7" fill="none"/>
<path d="M242.74 873.45H281.74M262.24 860.6V886.3M252.74 860.6H271.74 M252.74 886.3H271.74" stroke="#000" stroke-width="1.7" fill="none"/>
<path d="M135.4 644.8V949.9M135.4 949h-8.5M135.4 847.9h-8.5M135.4 746.8h-8.5M135.4 645.7h-8.5" stroke="#000" stroke-width="1.8" fill="none"/>
<text transform="translate(109.52 960) scale(0.8654 1)" font-size="28.39" stroke="#000" stroke-width="0.45">0</text>
<text transform="translate(109.77 858.9) scale(0.8654 1)" font-size="28.39" stroke="#000" stroke-width="0.45">1</text>
<text transform="translate(109.89 757.8) scale(0.8654 1)" font-size="28.39" stroke="#000" stroke-width="0.45">2</text>
<text transform="translate(109.65 656.7) scale(0.8654 1)" font-size="28.39" stroke="#000" stroke-width="0.45">3</text>
<path d="M165 978.7H300.5M203.9 978.7v9M262.2 978.7v9" stroke="#000" stroke-width="1.8" fill="none"/>
<path d="M202.9 670.9L263.3 670.9" stroke="#000" stroke-width="2.1"/>
<text transform="translate(209.11 655.8) scale(0.7643 1)" font-size="25.9">0.008</text>
<text transform="translate(196.66 610.4) scale(0.8044 1)" font-size="42.64" stroke="#000" stroke-width="0.45">MITF</text>
<text transform="translate(176.93 1018.6) scale(0.8454 1)" font-size="29.12" stroke="#000" stroke-width="0.45">NSD HSD</text>
<text transform="translate(57.2 869.62) rotate(-90) scale(0.8032 1)" font-size="36.71" stroke="#000" stroke-width="0.45">protein level</text>
<text transform="translate(97.4 919.93) rotate(-90) scale(0.8582 1)" font-size="31.62" stroke="#000" stroke-width="0.45">(normalized to ACTB)</text>
<rect x="149.4" y="1095.5" width="91" height="16" fill="#e0e0e0" filter="url(#bl)"/>
<rect x="254.3" y="1093" width="92" height="19.5" fill="#5c5c5c" filter="url(#bl)"/>
<rect x="158" y="1151.6" width="85.1" height="17.8" fill="#3a3a3a" filter="url(#bl)"/>
<rect x="256.3" y="1149" width="85.8" height="16.2" fill="#4c4c4c" filter="url(#bl)"/>
<rect x="134.8" y="1079.4" width="224.7" height="47.6" fill="none" stroke="#1a1a1a" stroke-width="1.9"/>
<rect x="134.8" y="1134.6" width="224.7" height="46.9" fill="none" stroke="#1a1a1a" stroke-width="1.9"/>
<text transform="translate(163.98 1073.2) scale(0.8650 1)" font-size="29.12" stroke="#000" stroke-width="0.45">NSD</text>
<text transform="translate(274.07 1073.2) scale(0.8719 1)" font-size="29.12" stroke="#000" stroke-width="0.45">HSD</text>
<text transform="translate(372.39 1111.4) scale(0.8640 1)" font-size="29.12" stroke="#000" stroke-width="0.45">MITF</text>
<text transform="translate(373.4 1165.9) scale(0.8444 1)" font-size="29.12" stroke="#000" stroke-width="0.45">ACTB</text>
<text transform="translate(91.46 1092.3) scale(0.8970 1)" font-size="15.08" fill="#222">50</text>
<text transform="translate(91.73 1180.9) scale(0.8800 1)" font-size="15.08" fill="#222">40</text>
<path d="M114.6 1089.8L133.7 1089.3" stroke="#333" stroke-width="0.8"/>
<path d="M114.6 1178.7L133.7 1178.2" stroke="#333" stroke-width="0.8"/>
<text transform="translate(13.02 577.4) scale(0.9743 1)" font-size="50.23" font-weight="700" fill="#1a1a1a">D</text>
</g>
<g id="pE">
<g clip-path="url(#ce1)"><rect x="553.5" y="634.7" width="405.3" height="268.9" fill="#8c8c8c"/><g transform="translate(540 580) scale(0.23268)"><path d="M100 1400C-211 1355 127 1285 160 1220C193 1155 187 1160 230 1140C273 1120 287 1132 330 1140C373 1148 365 1178 400 1170C435 1162 442 1153 470 1110C498 1067 497 1058 510 1000C523 942 500 933 520 880C540 827 535 820 590 790C645 760 667 760 740 760C813 760 825 770 880 790C935 810 905 825 960 840C1015 855 1040 842 1100 850C1160 858 1142 857 1200 870C1258 883 1272 877 1330 900C1388 923 1400 915 1430 960C1460 1005 1445 1020 1450 1080C1455 1140 1445 1147 1450 1200C1455 1253 1478 1255 1470 1290C1462 1325 1438 1312 1420 1340C1402 1368 1731 1385 1400 1400C1069 1415 411 1445 100 1400Z" fill="#999999" stroke="#484848" stroke-width="9"/><ellipse cx="1045" cy="880" rx="45" ry="38" fill="#6c6c6c" filter="url(#b6)"/><ellipse cx="1380" cy="1095" rx="55" ry="47" fill="#6a6a6a" filter="url(#b6)"/><ellipse cx="960" cy="1290" rx="50" ry="42" fill="#666" filter="url(#b6)"/><ellipse cx="1240" cy="1330" rx="62" ry="53" fill="#707070" filter="url(#b6)"/><ellipse cx="770" cy="885" rx="24" ry="20" fill="#747474" filter="url(#b6)"/><ellipse cx="660" cy="1010" rx="24" ry="20" fill="#747474" filter="url(#b6)"/><ellipse cx="1075" cy="1130" rx="28" ry="24" fill="#707070" filter="url(#b6)"/><ellipse cx="630" cy="1185" rx="28" ry="24" fill="#777" filter="url(#b6)"/><ellipse cx="540" cy="1060" rx="22" ry="19" fill="#777" filter="url(#b6)"/><ellipse cx="1330" cy="910" rx="30" ry="26" fill="#777" filter="url(#b6)"/><ellipse cx="640" cy="1360" rx="25" ry="21" fill="#6e6e6e" filter="url(#b6)"/><ellipse cx="1668" cy="808" rx="30" ry="12" transform="rotate(1 1668 808)" fill="#606060" stroke="#4a4a4a" stroke-width="3.5" opacity="0.9"/><ellipse cx="384" cy="787" rx="29" ry="19" transform="rotate(-64 384 787)" fill="#606060" stroke="#4a4a4a" stroke-width="3.5" opacity="0.9"/><ellipse cx="1739" cy="1013" rx="18" ry="10" transform="rotate(21 1739 1013)" fill="#606060" stroke="#4a4a4a" stroke-width="3.5" opacity="0.9"/><ellipse cx="1590" cy="954" rx="23" ry="16" transform="rotate(50 1590 954)" fill="#686868" stroke="#4a4a4a" stroke-width="3.5" opacity="0.9"/><ellipse cx="856" cy="603" rx="42" ry="18" transform="rotate(90 856 603)" fill="#606060" stroke="#4a4a4a" stroke-width="3.5" opacity="0.9"/><ellipse cx="952" cy="332" rx="17" ry="11" transform="rotate(11 952 332)" fill="#727272" stroke="#4a4a4a" stroke-width="3.5" opacity="0.9"/><ellipse cx="1534" cy="301" rx="39" ry="15" transform="rotate(-52 1534 301)" fill="#606060" stroke="#4a4a4a" stroke-width="3.5" opacity="0.9"/><ellipse cx="752" cy="380" rx="36" ry="13" transform="rotate(23 752 380)" fill="#686868" stroke="#4a4a4a" stroke-width="3.5" opacity="0.9"/><ellipse cx="294" cy="1071" rx="27" ry="15" transform="rotate(-88 294 1071)" fill="#606060" stroke="#4a4a4a" stroke-width="3.5" opacity="0.9"/><ellipse cx="1033" cy="788" rx="34" ry="11" transform="rotate(-56 1033 788)" fill="#606060" stroke="#4a4a4a" stroke-width="3.5" opacity="0.9"/><ellipse cx="728" cy="730" rx="14" ry="19" transform="rotate(88 728 730)" fill="#606060" stroke="#4a4a4a" stroke-width="3.5" opacity="0.9"/><ellipse cx="427" cy="730" rx="32" ry="11" transform="rotate(64 427 730)" fill="#686868" stroke="#4a4a4a" stroke-width="3.5" opacity="0.9"/><ellipse cx="431" cy="582" rx="23" ry="13" transform="rotate(49 431 582)" fill="#686868" stroke="#4a4a4a" stroke-width="3.5" opacity="0.9"/><ellipse cx="189" cy="528" rx="14" ry="14" transform="rotate(25 189 528)" fill="#606060" stroke="#4a4a4a" stroke-width="3.5" opacity="0.9"/><ellipse cx="1568" cy="499" rx="39" ry="18" transform="rotate(-62 1568 499)" fill="#686868" stroke="#4a4a4a" stroke-width="3.5" opacity="0.9"/><ellipse cx="1322" cy="473" rx="30" ry="17" transform="rotate(23 1322 473)" fill="#727272" stroke="#4a4a4a" stroke-width="3.5" opacity="0.9"/><ellipse cx="1595" cy="958" rx="17" ry="10" transform="rotate(-14 1595 958)" fill="#727272" stroke="#4a4a4a" stroke-width="3.5" opacity="0.9"/><ellipse cx="475" cy="1068" rx="37" ry="16" transform="rotate(-44 475 1068)" fill="#727272" stroke="#4a4a4a" stroke-width="3.5" opacity="0.9"/><ellipse cx="1760" cy="438" rx="32" ry="16" transform="rotate(-4 1760 438)" fill="#686868" stroke="#4a4a4a" stroke-width="3.5" opacity="0.9"/><ellipse cx="528" cy="786" rx="19" ry="14" transform="rotate(-79 528 786)" fill="#606060" stroke="#4a4a4a" stroke-width="3.5" opacity="0.9"/><ellipse cx="1753" cy="400" rx="27" ry="13" transform="rotate(-65 1753 400)" fill="#606060" stroke="#4a4a4a" stroke-width="3.5" opacity="0.9"/><ellipse cx="91" cy="1292" rx="41" ry="10" transform="rotate(36 91 1292)" fill="#606060" stroke="#4a4a4a" stroke-width="3.5" opacity="0.9"/><ellipse cx="601" cy="449" rx="27" ry="14" transform="rotate(-77 601 449)" fill="#686868" stroke="#4a4a4a" stroke-width="3.5" opacity="0.9"/><ellipse cx="1626" cy="1103" rx="36" ry="19" transform="rotate(37 1626 1103)" fill="#727272" stroke="#4a4a4a" stroke-width="3.5" opacity="0.9"/><ellipse cx="208" cy="816" rx="38" ry="19" transform="rotate(-76 208 816)" fill="#686868" stroke="#4a4a4a" stroke-width="3.5" opacity="0.9"/><ellipse cx="1562" cy="924" rx="25" ry="16" transform="rotate(22 1562 924)" fill="#606060" stroke="#4a4a4a" stroke-width="3.5" opacity="0.9"/><ellipse cx="261" cy="580" rx="23" ry="19" transform="rotate(-15 261 580)" fill="#606060" stroke="#4a4a4a" stroke-width="3.5" opacity="0.9"/><ellipse cx="1071" cy="780" rx="16" ry="18" transform="rotate(61 1071 780)" fill="#686868" stroke="#4a4a4a" stroke-width="3.5" opacity="0.9"/><ellipse cx="600" cy="396" rx="41" ry="11" transform="rotate(-86 600 396)" fill="#606060" stroke="#4a4a4a" stroke-width="3.5" opacity="0.9"/><ellipse cx="1209" cy="830" rx="24" ry="11" transform="rotate(71 1209 830)" fill="#606060" stroke="#4a4a4a" stroke-width="3.5" opacity="0.9"/><ellipse cx="412" cy="485" rx="32" ry="14" transform="rotate(73 412 485)" fill="#686868" stroke="#4a4a4a" stroke-width="3.5" opacity="0.9"/><ellipse cx="405" cy="770" rx="40" ry="19" transform="rotate(55 405 770)" fill="#727272" stroke="#4a4a4a" stroke-width="3.5" opacity="0.9"/><ellipse cx="425" cy="447" rx="39" ry="10" transform="rotate(-27 425 447)" fill="#686868" stroke="#4a4a4a" stroke-width="3.5" opacity="0.9"/><ellipse cx="1713" cy="602" rx="27" ry="13" transform="rotate(-60 1713 602)" fill="#686868" stroke="#4a4a4a" stroke-width="3.5" opacity="0.9"/><ellipse cx="1506" cy="717" rx="33" ry="17" transform="rotate(4 1506 717)" fill="#606060" stroke="#4a4a4a" stroke-width="3.5" opacity="0.9"/><ellipse cx="847" cy="381" rx="38" ry="10" transform="rotate(-84 847 381)" fill="#606060" stroke="#4a4a4a" stroke-width="3.5" opacity="0.9"/><ellipse cx="549" cy="686" rx="30" ry="16" transform="rotate(27 549 686)" fill="#727272" stroke="#4a4a4a" stroke-width="3.5" opacity="0.9"/><ellipse cx="851" cy="327" rx="21" ry="11" transform="rotate(59 851 327)" fill="#686868" stroke="#4a4a4a" stroke-width="3.5" opacity="0.9"/><ellipse cx="1772" cy="426" rx="29" ry="16" transform="rotate(-70 1772 426)" fill="#727272" stroke="#4a4a4a" stroke-width="3.5" opacity="0.9"/><ellipse cx="1728" cy="1046" rx="27" ry="12" transform="rotate(-54 1728 1046)" fill="#686868" stroke="#4a4a4a" stroke-width="3.5" opacity="0.9"/><ellipse cx="1374" cy="883" rx="20" ry="18" transform="rotate(-83 1374 883)" fill="#606060" stroke="#4a4a4a" stroke-width="3.5" opacity="0.9"/><ellipse cx="1273" cy="867" rx="35" ry="14" transform="rotate(21 1273 867)" fill="#606060" stroke="#4a4a4a" stroke-width="3.5" opacity="0.9"/><ellipse cx="1637" cy="395" rx="34" ry="11" transform="rotate(78 1637 395)" fill="#727272" stroke="#4a4a4a" stroke-width="3.5" opacity="0.9"/><ellipse cx="72" cy="900" rx="28" ry="18" transform="rotate(27 72 900)" fill="#727272" stroke="#4a4a4a" stroke-width="3.5" opacity="0.9"/><ellipse cx="417" cy="1087" rx="32" ry="17" transform="rotate(57 417 1087)" fill="#686868" stroke="#4a4a4a" stroke-width="3.5" opacity="0.9"/><ellipse cx="482" cy="725" rx="23" ry="20" transform="rotate(-74 482 725)" fill="#727272" stroke="#4a4a4a" stroke-width="3.5" opacity="0.9"/><ellipse cx="87" cy="850" rx="24" ry="14" transform="rotate(-83 87 850)" fill="#727272" stroke="#4a4a4a" stroke-width="3.5" opacity="0.9"/><ellipse cx="908" cy="331" rx="16" ry="18" transform="rotate(56 908 331)" fill="#686868" stroke="#4a4a4a" stroke-width="3.5" opacity="0.9"/><ellipse cx="1654" cy="813" rx="39" ry="15" transform="rotate(90 1654 813)" fill="#606060" stroke="#4a4a4a" stroke-width="3.5" opacity="0.9"/><ellipse cx="210" cy="541" rx="22" ry="17" transform="rotate(5 210 541)" fill="#606060" stroke="#4a4a4a" stroke-width="3.5" opacity="0.9"/><ellipse cx="346" cy="860" rx="21" ry="17" transform="rotate(73 346 860)" fill="#606060" stroke="#4a4a4a" stroke-width="3.5" opacity="0.9"/><ellipse cx="1745" cy="871" rx="20" ry="15" transform="rotate(13 1745 871)" fill="#606060" stroke="#4a4a4a" stroke-width="3.5" opacity="0.9"/><ellipse cx="69" cy="711" rx="15" ry="19" transform="rotate(7 69 711)" fill="#606060" stroke="#4a4a4a" stroke-width="3.5" opacity="0.9"/><ellipse cx="1454" cy="914" rx="33" ry="11" transform="rotate(-2 1454 914)" fill="#606060" stroke="#4a4a4a" stroke-width="3.5" opacity="0.9"/><ellipse cx="1453" cy="741" rx="28" ry="13" transform="rotate(-46 1453 741)" fill="#727272" stroke="#4a4a4a" stroke-width="3.5" opacity="0.9"/><ellipse cx="973" cy="418" rx="15" ry="13" transform="rotate(-14 973 418)" fill="#606060" stroke="#4a4a4a" stroke-width="3.5" opacity="0.9"/><ellipse cx="1416" cy="325" rx="20" ry="17" transform="rotate(-55 1416 325)" fill="#727272" stroke="#4a4a4a" stroke-width="3.5" opacity="0.9"/><ellipse cx="1319" cy="566" rx="28" ry="16" transform="rotate(0 1319 566)" fill="#606060" stroke="#4a4a4a" stroke-width="3.5" opacity="0.9"/><ellipse cx="100" cy="990" rx="31" ry="15" transform="rotate(59 100 990)" fill="#606060" stroke="#4a4a4a" stroke-width="3.5" opacity="0.9"/><ellipse cx="989" cy="538" rx="29" ry="16" transform="rotate(-51 989 538)" fill="#686868" stroke="#4a4a4a" stroke-width="3.5" opacity="0.9"/><ellipse cx="465" cy="1107" rx="39" ry="13" transform="rotate(56 465 1107)" fill="#727272" stroke="#4a4a4a" stroke-width="3.5" opacity="0.9"/><ellipse cx="1610" cy="512" rx="19" ry="11" transform="rotate(50 1610 512)" fill="#686868" stroke="#4a4a4a" stroke-width="3.5" opacity="0.9"/><ellipse cx="1698" cy="892" rx="20" ry="16" transform="rotate(37 1698 892)" fill="#686868" stroke="#4a4a4a" stroke-width="3.5" opacity="0.9"/><ellipse cx="227" cy="921" rx="37" ry="14" transform="rotate(-26 227 921)" fill="#606060" stroke="#4a4a4a" stroke-width="3.5" opacity="0.9"/><ellipse cx="1050" cy="460" rx="20" ry="18" transform="rotate(-57 1050 460)" fill="#727272" stroke="#4a4a4a" stroke-width="3.5" opacity="0.9"/><ellipse cx="1673" cy="404" rx="41" ry="15" transform="rotate(-79 1673 404)" fill="#686868" stroke="#4a4a4a" stroke-width="3.5" opacity="0.9"/><ellipse cx="957" cy="769" rx="14" ry="17" transform="rotate(18 957 769)" fill="#686868" stroke="#4a4a4a" stroke-width="3.5" opacity="0.9"/><ellipse cx="375" cy="795" rx="25" ry="12" transform="rotate(43 375 795)" fill="#686868" stroke="#4a4a4a" stroke-width="3.5" opacity="0.9"/><ellipse cx="623" cy="392" rx="39" ry="19" transform="rotate(62 623 392)" fill="#727272" stroke="#4a4a4a" stroke-width="3.5" opacity="0.9"/><ellipse cx="1051" cy="508" rx="24" ry="18" transform="rotate(15 1051 508)" fill="#727272" stroke="#4a4a4a" stroke-width="3.5" opacity="0.9"/><ellipse cx="1646" cy="1111" rx="37" ry="14" transform="rotate(50 1646 1111)" fill="#727272" stroke="#4a4a4a" stroke-width="3.5" opacity="0.9"/><ellipse cx="1591" cy="1057" rx="35" ry="14" transform="rotate(48 1591 1057)" fill="#606060" stroke="#4a4a4a" stroke-width="3.5" opacity="0.9"/><ellipse cx="585" cy="410" rx="42" ry="19" transform="rotate(70 585 410)" fill="#686868" stroke="#4a4a4a" stroke-width="3.5" opacity="0.9"/><ellipse cx="1219" cy="668" rx="30" ry="15" transform="rotate(29 1219 668)" fill="#727272" stroke="#4a4a4a" stroke-width="3.5" opacity="0.9"/><ellipse cx="431" cy="430" rx="30" ry="11" transform="rotate(-19 431 430)" fill="#686868" stroke="#4a4a4a" stroke-width="3.5" opacity="0.9"/><ellipse cx="1346" cy="580" rx="15" ry="12" transform="rotate(-18 1346 580)" fill="#727272" stroke="#4a4a4a" stroke-width="3.5" opacity="0.9"/><ellipse cx="79" cy="582" rx="24" ry="15" transform="rotate(-40 79 582)" fill="#727272" stroke="#4a4a4a" stroke-width="3.5" opacity="0.9"/><ellipse cx="1743" cy="919" rx="32" ry="18" transform="rotate(89 1743 919)" fill="#686868" stroke="#4a4a4a" stroke-width="3.5" opacity="0.9"/><ellipse cx="1722" cy="721" rx="25" ry="20" transform="rotate(79 1722 721)" fill="#727272" stroke="#4a4a4a" stroke-width="3.5" opacity="0.9"/><ellipse cx="555" cy="734" rx="29" ry="15" transform="rotate(-34 555 734)" fill="#727272" stroke="#4a4a4a" stroke-width="3.5" opacity="0.9"/><ellipse cx="1036" cy="609" rx="22" ry="10" transform="rotate(39 1036 609)" fill="#686868" stroke="#4a4a4a" stroke-width="3.5" opacity="0.9"/><ellipse cx="152" cy="644" rx="30" ry="17" transform="rotate(-18 152 644)" fill="#727272" stroke="#4a4a4a" stroke-width="3.5" opacity="0.9"/><ellipse cx="1753" cy="566" rx="40" ry="17" transform="rotate(4 1753 566)" fill="#727272" stroke="#4a4a4a" stroke-width="3.5" opacity="0.9"/><ellipse cx="148" cy="755" rx="38" ry="14" transform="rotate(-69 148 755)" fill="#686868" stroke="#4a4a4a" stroke-width="3.5" opacity="0.9"/><ellipse cx="276" cy="783" rx="27" ry="13" transform="rotate(30 276 783)" fill="#606060" stroke="#4a4a4a" stroke-width="3.5" opacity="0.9"/><ellipse cx="1247" cy="697" rx="37" ry="11" transform="rotate(44 1247 697)" fill="#727272" stroke="#4a4a4a" stroke-width="3.5" opacity="0.9"/><ellipse cx="1338" cy="560" rx="39" ry="18" transform="rotate(-70 1338 560)" fill="#606060" stroke="#4a4a4a" stroke-width="3.5" opacity="0.9"/><ellipse cx="1533" cy="599" rx="34" ry="17" transform="rotate(20 1533 599)" fill="#686868" stroke="#4a4a4a" stroke-width="3.5" opacity="0.9"/><ellipse cx="390" cy="571" rx="40" ry="19" transform="rotate(86 390 571)" fill="#686868" stroke="#4a4a4a" stroke-width="3.5" opacity="0.9"/><ellipse cx="1153" cy="310" rx="15" ry="10" transform="rotate(-43 1153 310)" fill="#686868" stroke="#4a4a4a" stroke-width="3.5" opacity="0.9"/><ellipse cx="1002" cy="379" rx="33" ry="16" transform="rotate(-74 1002 379)" fill="#606060" stroke="#4a4a4a" stroke-width="3.5" opacity="0.9"/><ellipse cx="1768" cy="828" rx="23" ry="15" transform="rotate(-26 1768 828)" fill="#686868" stroke="#4a4a4a" stroke-width="3.5" opacity="0.9"/><ellipse cx="1519" cy="381" rx="37" ry="16" transform="rotate(-68 1519 381)" fill="#686868" stroke="#4a4a4a" stroke-width="3.5" opacity="0.9"/><ellipse cx="739" cy="464" rx="37" ry="16" transform="rotate(-62 739 464)" fill="#727272" stroke="#4a4a4a" stroke-width="3.5" opacity="0.9"/><ellipse cx="1662" cy="766" rx="17" ry="19" transform="rotate(-24 1662 766)" fill="#686868" stroke="#4a4a4a" stroke-width="3.5" opacity="0.9"/><ellipse cx="1006" cy="771" rx="37" ry="15" transform="rotate(12 1006 771)" fill="#686868" stroke="#4a4a4a" stroke-width="3.5" opacity="0.9"/><ellipse cx="192" cy="532" rx="16" ry="13" transform="rotate(29 192 532)" fill="#606060" stroke="#4a4a4a" stroke-width="3.5" opacity="0.9"/><ellipse cx="1390" cy="657" rx="20" ry="17" transform="rotate(69 1390 657)" fill="#727272" stroke="#4a4a4a" stroke-width="3.5" opacity="0.9"/><ellipse cx="698" cy="428" rx="30" ry="19" transform="rotate(38 698 428)" fill="#606060" stroke="#4a4a4a" stroke-width="3.5" opacity="0.9"/><ellipse cx="1649" cy="777" rx="23" ry="13" transform="rotate(55 1649 777)" fill="#727272" stroke="#4a4a4a" stroke-width="3.5" opacity="0.9"/><ellipse cx="958" cy="392" rx="15" ry="17" transform="rotate(59 958 392)" fill="#606060" stroke="#4a4a4a" stroke-width="3.5" opacity="0.9"/><ellipse cx="734" cy="513" rx="36" ry="15" transform="rotate(11 734 513)" fill="#606060" stroke="#4a4a4a" stroke-width="3.5" opacity="0.9"/><ellipse cx="1039" cy="492" rx="39" ry="13" transform="rotate(47 1039 492)" fill="#686868" stroke="#4a4a4a" stroke-width="3.5" opacity="0.9"/><ellipse cx="336" cy="623" rx="38" ry="14" transform="rotate(-86 336 623)" fill="#606060" stroke="#4a4a4a" stroke-width="3.5" opacity="0.9"/><ellipse cx="207" cy="991" rx="35" ry="16" transform="rotate(-64 207 991)" fill="#686868" stroke="#4a4a4a" stroke-width="3.5" opacity="0.9"/><ellipse cx="1299" cy="833" rx="23" ry="15" transform="rotate(73 1299 833)" fill="#727272" stroke="#4a4a4a" stroke-width="3.5" opacity="0.9"/><ellipse cx="1230" cy="838" rx="34" ry="17" transform="rotate(7 1230 838)" fill="#686868" stroke="#4a4a4a" stroke-width="3.5" opacity="0.9"/><ellipse cx="1462" cy="1209" rx="41" ry="16" transform="rotate(70 1462 1209)" fill="#606060" stroke="#4a4a4a" stroke-width="3.5" opacity="0.9"/><ellipse cx="1653" cy="568" rx="32" ry="17" transform="rotate(-61 1653 568)" fill="#727272" stroke="#4a4a4a" stroke-width="3.5" opacity="0.9"/><ellipse cx="416" cy="763" rx="41" ry="11" transform="rotate(-37 416 763)" fill="#727272" stroke="#4a4a4a" stroke-width="3.5" opacity="0.9"/><ellipse cx="1332" cy="631" rx="40" ry="19" transform="rotate(-62 1332 631)" fill="#727272" stroke="#4a4a4a" stroke-width="3.5" opacity="0.9"/><ellipse cx="90" cy="824" rx="23" ry="12" transform="rotate(54 90 824)" fill="#727272" stroke="#4a4a4a" stroke-width="3.5" opacity="0.9"/><ellipse cx="438" cy="557" rx="31" ry="12" transform="rotate(39 438 557)" fill="#686868" stroke="#4a4a4a" stroke-width="3.5" opacity="0.9"/><ellipse cx="1616" cy="739" rx="40" ry="16" transform="rotate(74 1616 739)" fill="#606060" stroke="#4a4a4a" stroke-width="3.5" opacity="0.9"/><ellipse cx="894" cy="584" rx="40" ry="13" transform="rotate(70 894 584)" fill="#606060" stroke="#4a4a4a" stroke-width="3.5" opacity="0.9"/><ellipse cx="1403" cy="401" rx="25" ry="12" transform="rotate(65 1403 401)" fill="#686868" stroke="#4a4a4a" stroke-width="3.5" opacity="0.9"/><ellipse cx="1454" cy="720" rx="28" ry="13" transform="rotate(5 1454 720)" fill="#686868" stroke="#4a4a4a" stroke-width="3.5" opacity="0.9"/><ellipse cx="1204" cy="559" rx="27" ry="14" transform="rotate(-88 1204 559)" fill="#686868" stroke="#4a4a4a" stroke-width="3.5" opacity="0.9"/><ellipse cx="334" cy="471" rx="21" ry="19" transform="rotate(-32 334 471)" fill="#606060" stroke="#4a4a4a" stroke-width="3.5" opacity="0.9"/><ellipse cx="288" cy="1108" rx="28" ry="11" transform="rotate(22 288 1108)" fill="#606060" stroke="#4a4a4a" stroke-width="3.5" opacity="0.9"/><ellipse cx="1400" cy="301" rx="38" ry="18" transform="rotate(58 1400 301)" fill="#686868" stroke="#4a4a4a" stroke-width="3.5" opacity="0.9"/><ellipse cx="1267" cy="390" rx="29" ry="15" transform="rotate(45 1267 390)" fill="#686868" stroke="#4a4a4a" stroke-width="3.5" opacity="0.9"/><ellipse cx="1433" cy="754" rx="17" ry="18" transform="rotate(75 1433 754)" fill="#686868" stroke="#4a4a4a" stroke-width="3.5" opacity="0.9"/><ellipse cx="125" cy="750" rx="41" ry="20" transform="rotate(-1 125 750)" fill="#727272" stroke="#4a4a4a" stroke-width="3.5" opacity="0.9"/><ellipse cx="601" cy="383" rx="27" ry="17" transform="rotate(-35 601 383)" fill="#727272" stroke="#4a4a4a" stroke-width="3.5" opacity="0.9"/><ellipse cx="272" cy="785" rx="34" ry="15" transform="rotate(65 272 785)" fill="#727272" stroke="#4a4a4a" stroke-width="3.5" opacity="0.9"/><ellipse cx="1042" cy="799" rx="42" ry="18" transform="rotate(-88 1042 799)" fill="#686868" stroke="#4a4a4a" stroke-width="3.5" opacity="0.9"/><ellipse cx="1629" cy="466" rx="40" ry="17" transform="rotate(23 1629 466)" fill="#727272" stroke="#4a4a4a" stroke-width="3.5" opacity="0.9"/><ellipse cx="1374" cy="906" rx="19" ry="14" transform="rotate(-74 1374 906)" fill="#686868" stroke="#4a4a4a" stroke-width="3.5" opacity="0.9"/><ellipse cx="224" cy="1039" rx="19" ry="14" transform="rotate(37 224 1039)" fill="#727272" stroke="#4a4a4a" stroke-width="3.5" opacity="0.9"/><ellipse cx="1091" cy="398" rx="18" ry="11" transform="rotate(-49 1091 398)" fill="#727272" stroke="#4a4a4a" stroke-width="3.5" opacity="0.9"/><ellipse cx="1402" cy="672" rx="40" ry="11" transform="rotate(58 1402 672)" fill="#686868" stroke="#4a4a4a" stroke-width="3.5" opacity="0.9"/><ellipse cx="732" cy="661" rx="14" ry="14" transform="rotate(-16 732 661)" fill="#606060" stroke="#4a4a4a" stroke-width="3.5" opacity="0.9"/><ellipse cx="982" cy="584" rx="23" ry="14" transform="rotate(-56 982 584)" fill="#606060" stroke="#4a4a4a" stroke-width="3.5" opacity="0.9"/><ellipse cx="1124" cy="473" rx="39" ry="15" transform="rotate(48 1124 473)" fill="#727272" stroke="#4a4a4a" stroke-width="3.5" opacity="0.9"/><ellipse cx="1059" cy="516" rx="42" ry="17" transform="rotate(78 1059 516)" fill="#686868" stroke="#4a4a4a" stroke-width="3.5" opacity="0.9"/><ellipse cx="1047" cy="329" rx="36" ry="11" transform="rotate(29 1047 329)" fill="#727272" stroke="#4a4a4a" stroke-width="3.5" opacity="0.9"/><ellipse cx="1035" cy="588" rx="42" ry="18" transform="rotate(74 1035 588)" fill="#606060" stroke="#4a4a4a" stroke-width="3.5" opacity="0.9"/><ellipse cx="67" cy="1047" rx="35" ry="14" transform="rotate(-25 67 1047)" fill="#686868" stroke="#4a4a4a" stroke-width="3.5" opacity="0.9"/><ellipse cx="383" cy="897" rx="15" ry="12" transform="rotate(-76 383 897)" fill="#606060" stroke="#4a4a4a" stroke-width="3.5" opacity="0.9"/><ellipse cx="301" cy="1124" rx="39" ry="16" transform="rotate(63 301 1124)" fill="#606060" stroke="#4a4a4a" stroke-width="3.5" opacity="0.9"/><ellipse cx="1459" cy="318" rx="27" ry="11" transform="rotate(-54 1459 318)" fill="#727272" stroke="#4a4a4a" stroke-width="3.5" opacity="0.9"/><ellipse cx="266" cy="742" rx="18" ry="12" transform="rotate(-29 266 742)" fill="#727272" stroke="#4a4a4a" stroke-width="3.5" opacity="0.9"/><ellipse cx="153" cy="1155" rx="36" ry="14" transform="rotate(40 153 1155)" fill="#727272" stroke="#4a4a4a" stroke-width="3.5" opacity="0.9"/><ellipse cx="1104" cy="812" rx="31" ry="17" transform="rotate(-16 1104 812)" fill="#727272" stroke="#4a4a4a" stroke-width="3.5" opacity="0.9"/><ellipse cx="1368" cy="830" rx="37" ry="19" transform="rotate(89 1368 830)" fill="#727272" stroke="#4a4a4a" stroke-width="3.5" opacity="0.9"/><ellipse cx="1496" cy="428" rx="40" ry="13" transform="rotate(-69 1496 428)" fill="#606060" stroke="#4a4a4a" stroke-width="3.5" opacity="0.9"/><ellipse cx="1368" cy="632" rx="16" ry="11" transform="rotate(17 1368 632)" fill="#727272" stroke="#4a4a4a" stroke-width="3.5" opacity="0.9"/><ellipse cx="1752" cy="819" rx="39" ry="15" transform="rotate(-71 1752 819)" fill="#606060" stroke="#4a4a4a" stroke-width="3.5" opacity="0.9"/><ellipse cx="748" cy="557" rx="40" ry="20" transform="rotate(-78 748 557)" fill="#606060" stroke="#4a4a4a" stroke-width="3.5" opacity="0.9"/><path d="M58 235C495 181 1363 214 1800 235C2237 256 1850 304 1800 320C1750 336 1690 310 1600 300C1510 290 1540 284 1440 280C1340 276 1310 280 1200 285C1090 290 1088 291 1000 300C912 309 905 307 850 320C795 333 830 337 780 350C730 363 705 360 650 370C595 380 603 380 560 390C517 400 538 392 480 410C422 428 408 441 330 460C252 479 238 488 170 485C102 482 86 513 58 450C30 387 -379 289 58 235Z" fill="#dadada"/><path d="M1810 900C1797 832 1780 922 1760 960C1740 998 1745 1002 1730 1050C1715 1098 1710 1100 1700 1150C1690 1200 1677 1227 1690 1250C1703 1273 1720 1245 1750 1240C1780 1235 1795 1315 1810 1230C1825 1145 1823 968 1810 900Z" fill="#d2d2d2"/><ellipse cx="340" cy="320" rx="35" ry="50" transform="rotate(20 340 320)" fill="#6a6a6a"/><ellipse cx="300" cy="390" rx="25" ry="12" transform="rotate(-10 300 390)" fill="#888"/><ellipse cx="400" cy="360" rx="30" ry="45" transform="rotate(10 400 360)" fill="#999"/><ellipse cx="450" cy="390" rx="40" ry="25" fill="#999"/><ellipse cx="260" cy="420" rx="8" ry="25" fill="#555"/><ellipse cx="70" cy="385" rx="12" ry="18" fill="#888"/><ellipse cx="1520" cy="232" rx="20" ry="18" fill="#0c0c0c"/><ellipse cx="1590" cy="255" rx="14" ry="13" fill="#0c0c0c"/><ellipse cx="1640" cy="288" rx="13" ry="12" fill="#0c0c0c"/><ellipse cx="1640" cy="238" rx="12" ry="11" fill="#0c0c0c"/><ellipse cx="1450" cy="255" rx="14" ry="13" fill="#0c0c0c"/><ellipse cx="1525" cy="940" rx="11" ry="11" fill="#2a2a2a"/><ellipse cx="185" cy="540" rx="8" ry="8" fill="#2a2a2a"/><ellipse cx="530" cy="565" rx="12" ry="12" fill="#2a2a2a"/><ellipse cx="1200" cy="575" rx="12" ry="12" fill="#2a2a2a"/><ellipse cx="925" cy="635" rx="10" ry="10" fill="#2a2a2a"/><ellipse cx="1150" cy="550" rx="12" ry="12" fill="#2a2a2a"/><ellipse cx="780" cy="620" rx="10" ry="10" fill="#2a2a2a"/></g><rect x="553.5" y="634.7" width="405.3" height="268.9" filter="url(#emn1)" style="mix-blend-mode:overlay"/><g transform="translate(540 580) scale(0.23268)"><rect x="145" y="1318" width="103" height="14" fill="#fff"/></g></g>
<g clip-path="url(#ce2)"><rect x="965.1" y="634.9" width="404.9" height="269" fill="#878787"/><g transform="translate(950 620) scale(0.23268)"><path d="M60 1110C83 1057 102 1065 150 1020C198 975 205 965 250 930C295 895 280 900 330 880C380 860 382 850 450 850C518 850 532 852 600 880C668 908 670 910 720 960C770 1010 772 1012 800 1080C828 1148 1015 1192 830 1230C645 1268 253 1260 60 1230C-133 1200 37 1163 60 1110Z" fill="#8c8c8c" stroke="#525252" stroke-width="9"/><path d="M200 1100C233 1070 255 1047 280 1060C305 1073 315 1115 300 1150C285 1185 258 1192 220 1200C182 1208 155 1205 150 1180C145 1155 167 1130 200 1100Z" fill="#686868" filter="url(#b6)"/><path d="M350 940C375 907 417 897 480 900C543 903 575 922 600 950C625 978 595 975 580 1010C565 1045 573 1093 540 1090C507 1087 490 1015 450 1000C410 985 405 1045 380 1030C355 1015 325 973 350 940Z" fill="#9a9a9a" stroke="#666" stroke-width="6"/><ellipse cx="1149" cy="922" rx="40" ry="17" transform="rotate(53 1149 922)" fill="#5c5c5c" stroke="#4a4a4a" stroke-width="3.5" opacity="0.9"/><ellipse cx="881" cy="350" rx="30" ry="10" transform="rotate(8 881 350)" fill="#646464" stroke="#4a4a4a" stroke-width="3.5" opacity="0.9"/><ellipse cx="775" cy="275" rx="25" ry="18" transform="rotate(66 775 275)" fill="#646464" stroke="#4a4a4a" stroke-width="3.5" opacity="0.9"/><ellipse cx="306" cy="778" rx="14" ry="19" transform="rotate(-67 306 778)" fill="#646464" stroke="#4a4a4a" stroke-width="3.5" opacity="0.9"/><ellipse cx="1411" cy="1174" rx="19" ry="13" transform="rotate(-60 1411 1174)" fill="#646464" stroke="#4a4a4a" stroke-width="3.5" opacity="0.9"/><ellipse cx="1003" cy="848" rx="40" ry="17" transform="rotate(-53 1003 848)" fill="#6e6e6e" stroke="#4a4a4a" stroke-width="3.5" opacity="0.9"/><ellipse cx="585" cy="482" rx="18" ry="11" transform="rotate(-60 585 482)" fill="#6e6e6e" stroke="#4a4a4a" stroke-width="3.5" opacity="0.9"/><ellipse cx="1487" cy="742" rx="34" ry="11" transform="rotate(17 1487 742)" fill="#6e6e6e" stroke="#4a4a4a" stroke-width="3.5" opacity="0.9"/><ellipse cx="1489" cy="620" rx="27" ry="17" transform="rotate(-33 1489 620)" fill="#646464" stroke="#4a4a4a" stroke-width="3.5" opacity="0.9"/><ellipse cx="768" cy="699" rx="25" ry="18" transform="rotate(-15 768 699)" fill="#6e6e6e" stroke="#4a4a4a" stroke-width="3.5" opacity="0.9"/><ellipse cx="1380" cy="1139" rx="24" ry="14" transform="rotate(80 1380 1139)" fill="#5c5c5c" stroke="#4a4a4a" stroke-width="3.5" opacity="0.9"/><ellipse cx="502" cy="600" rx="36" ry="14" transform="rotate(16 502 600)" fill="#6e6e6e" stroke="#4a4a4a" stroke-width="3.5" opacity="0.9"/><ellipse cx="1128" cy="1125" rx="40" ry="15" transform="rotate(-29 1128 1125)" fill="#6e6e6e" stroke="#4a4a4a" stroke-width="3.5" opacity="0.9"/><ellipse cx="1259" cy="419" rx="32" ry="17" transform="rotate(54 1259 419)" fill="#6e6e6e" stroke="#4a4a4a" stroke-width="3.5" opacity="0.9"/><ellipse cx="993" cy="534" rx="31" ry="18" transform="rotate(-47 993 534)" fill="#6e6e6e" stroke="#4a4a4a" stroke-width="3.5" opacity="0.9"/><ellipse cx="1198" cy="233" rx="32" ry="18" transform="rotate(86 1198 233)" fill="#6e6e6e" stroke="#4a4a4a" stroke-width="3.5" opacity="0.9"/><ellipse cx="1524" cy="216" rx="41" ry="16" transform="rotate(42 1524 216)" fill="#6e6e6e" stroke="#4a4a4a" stroke-width="3.5" opacity="0.9"/><ellipse cx="578" cy="588" rx="38" ry="20" transform="rotate(90 578 588)" fill="#6e6e6e" stroke="#4a4a4a" stroke-width="3.5" opacity="0.9"/><ellipse cx="618" cy="382" rx="39" ry="11" transform="rotate(-5 618 382)" fill="#5c5c5c" stroke="#4a4a4a" stroke-width="3.5" opacity="0.9"/><ellipse cx="934" cy="456" rx="22" ry="18" transform="rotate(-74 934 456)" fill="#5c5c5c" stroke="#4a4a4a" stroke-width="3.5" opacity="0.9"/><ellipse cx="1413" cy="867" rx="35" ry="14" transform="rotate(30 1413 867)" fill="#5c5c5c" stroke="#4a4a4a" stroke-width="3.5" opacity="0.9"/><ellipse cx="1228" cy="1030" rx="41" ry="17" transform="rotate(-42 1228 1030)" fill="#6e6e6e" stroke="#4a4a4a" stroke-width="3.5" opacity="0.9"/><ellipse cx="1195" cy="736" rx="29" ry="13" transform="rotate(-88 1195 736)" fill="#5c5c5c" stroke="#4a4a4a" stroke-width="3.5" opacity="0.9"/><ellipse cx="541" cy="399" rx="33" ry="14" transform="rotate(0 541 399)" fill="#6e6e6e" stroke="#4a4a4a" stroke-width="3.5" opacity="0.9"/><ellipse cx="1186" cy="917" rx="24" ry="18" transform="rotate(59 1186 917)" fill="#5c5c5c" stroke="#4a4a4a" stroke-width="3.5" opacity="0.9"/><ellipse cx="848" cy="486" rx="18" ry="20" transform="rotate(-30 848 486)" fill="#646464" stroke="#4a4a4a" stroke-width="3.5" opacity="0.9"/><ellipse cx="1521" cy="1148" rx="33" ry="17" transform="rotate(-4 1521 1148)" fill="#5c5c5c" stroke="#4a4a4a" stroke-width="3.5" opacity="0.9"/><ellipse cx="790" cy="777" rx="28" ry="19" transform="rotate(79 790 777)" fill="#6e6e6e" stroke="#4a4a4a" stroke-width="3.5" opacity="0.9"/><ellipse cx="1150" cy="960" rx="34" ry="10" transform="rotate(25 1150 960)" fill="#646464" stroke="#4a4a4a" stroke-width="3.5" opacity="0.9"/><ellipse cx="1085" cy="786" rx="35" ry="12" transform="rotate(-57 1085 786)" fill="#5c5c5c" stroke="#4a4a4a" stroke-width="3.5" opacity="0.9"/><ellipse cx="727" cy="772" rx="21" ry="19" transform="rotate(16 727 772)" fill="#646464" stroke="#4a4a4a" stroke-width="3.5" opacity="0.9"/><ellipse cx="1554" cy="1066" rx="29" ry="20" transform="rotate(34 1554 1066)" fill="#5c5c5c" stroke="#4a4a4a" stroke-width="3.5" opacity="0.9"/><ellipse cx="1133" cy="175" rx="24" ry="16" transform="rotate(8 1133 175)" fill="#6e6e6e" stroke="#4a4a4a" stroke-width="3.5" opacity="0.9"/><ellipse cx="1489" cy="549" rx="32" ry="14" transform="rotate(56 1489 549)" fill="#646464" stroke="#4a4a4a" stroke-width="3.5" opacity="0.9"/><ellipse cx="895" cy="295" rx="17" ry="18" transform="rotate(-66 895 295)" fill="#5c5c5c" stroke="#4a4a4a" stroke-width="3.5" opacity="0.9"/><ellipse cx="1050" cy="776" rx="32" ry="19" transform="rotate(-65 1050 776)" fill="#6e6e6e" stroke="#4a4a4a" stroke-width="3.5" opacity="0.9"/><ellipse cx="924" cy="619" rx="25" ry="19" transform="rotate(37 924 619)" fill="#646464" stroke="#4a4a4a" stroke-width="3.5" opacity="0.9"/><ellipse cx="1102" cy="365" rx="28" ry="14" transform="rotate(87 1102 365)" fill="#6e6e6e" stroke="#4a4a4a" stroke-width="3.5" opacity="0.9"/><ellipse cx="748" cy="620" rx="21" ry="15" transform="rotate(11 748 620)" fill="#646464" stroke="#4a4a4a" stroke-width="3.5" opacity="0.9"/><ellipse cx="492" cy="374" rx="42" ry="13" transform="rotate(-62 492 374)" fill="#5c5c5c" stroke="#4a4a4a" stroke-width="3.5" opacity="0.9"/><ellipse cx="1567" cy="1082" rx="14" ry="11" transform="rotate(71 1567 1082)" fill="#6e6e6e" stroke="#4a4a4a" stroke-width="3.5" opacity="0.9"/><ellipse cx="993" cy="453" rx="29" ry="15" transform="rotate(-37 993 453)" fill="#6e6e6e" stroke="#4a4a4a" stroke-width="3.5" opacity="0.9"/><ellipse cx="1251" cy="1004" rx="14" ry="16" transform="rotate(-66 1251 1004)" fill="#5c5c5c" stroke="#4a4a4a" stroke-width="3.5" opacity="0.9"/><ellipse cx="1660" cy="1091" rx="14" ry="18" transform="rotate(8 1660 1091)" fill="#6e6e6e" stroke="#4a4a4a" stroke-width="3.5" opacity="0.9"/><ellipse cx="1100" cy="861" rx="32" ry="19" transform="rotate(82 1100 861)" fill="#6e6e6e" stroke="#4a4a4a" stroke-width="3.5" opacity="0.9"/><ellipse cx="893" cy="853" rx="39" ry="15" transform="rotate(40 893 853)" fill="#646464" stroke="#4a4a4a" stroke-width="3.5" opacity="0.9"/><ellipse cx="1420" cy="737" rx="27" ry="13" transform="rotate(27 1420 737)" fill="#646464" stroke="#4a4a4a" stroke-width="3.5" opacity="0.9"/><ellipse cx="897" cy="699" rx="23" ry="12" transform="rotate(0 897 699)" fill="#5c5c5c" stroke="#4a4a4a" stroke-width="3.5" opacity="0.9"/><ellipse cx="1007" cy="121" rx="21" ry="11" transform="rotate(42 1007 121)" fill="#646464" stroke="#4a4a4a" stroke-width="3.5" opacity="0.9"/><ellipse cx="1220" cy="95" rx="41" ry="20" transform="rotate(40 1220 95)" fill="#5c5c5c" stroke="#4a4a4a" stroke-width="3.5" opacity="0.9"/><ellipse cx="912" cy="207" rx="31" ry="18" transform="rotate(-68 912 207)" fill="#646464" stroke="#4a4a4a" stroke-width="3.5" opacity="0.9"/><ellipse cx="1305" cy="220" rx="40" ry="11" transform="rotate(-37 1305 220)" fill="#5c5c5c" stroke="#4a4a4a" stroke-width="3.5" opacity="0.9"/><ellipse cx="1032" cy="828" rx="22" ry="16" transform="rotate(44 1032 828)" fill="#646464" stroke="#4a4a4a" stroke-width="3.5" opacity="0.9"/><ellipse cx="1357" cy="1080" rx="26" ry="13" transform="rotate(-66 1357 1080)" fill="#5c5c5c" stroke="#4a4a4a" stroke-width="3.5" opacity="0.9"/><ellipse cx="917" cy="473" rx="40" ry="11" transform="rotate(28 917 473)" fill="#6e6e6e" stroke="#4a4a4a" stroke-width="3.5" opacity="0.9"/><ellipse cx="328" cy="794" rx="39" ry="16" transform="rotate(1 328 794)" fill="#5c5c5c" stroke="#4a4a4a" stroke-width="3.5" opacity="0.9"/><ellipse cx="1471" cy="1062" rx="25" ry="11" transform="rotate(-8 1471 1062)" fill="#646464" stroke="#4a4a4a" stroke-width="3.5" opacity="0.9"/><ellipse cx="1205" cy="163" rx="17" ry="11" transform="rotate(30 1205 163)" fill="#5c5c5c" stroke="#4a4a4a" stroke-width="3.5" opacity="0.9"/><ellipse cx="854" cy="515" rx="41" ry="11" transform="rotate(-7 854 515)" fill="#5c5c5c" stroke="#4a4a4a" stroke-width="3.5" opacity="0.9"/><ellipse cx="116" cy="902" rx="18" ry="20" transform="rotate(-80 116 902)" fill="#5c5c5c" stroke="#4a4a4a" stroke-width="3.5" opacity="0.9"/><ellipse cx="1447" cy="931" rx="40" ry="15" transform="rotate(-75 1447 931)" fill="#646464" stroke="#4a4a4a" stroke-width="3.5" opacity="0.9"/><ellipse cx="308" cy="787" rx="21" ry="13" transform="rotate(-26 308 787)" fill="#5c5c5c" stroke="#4a4a4a" stroke-width="3.5" opacity="0.9"/><ellipse cx="1292" cy="984" rx="34" ry="14" transform="rotate(-22 1292 984)" fill="#6e6e6e" stroke="#4a4a4a" stroke-width="3.5" opacity="0.9"/><ellipse cx="1465" cy="566" rx="28" ry="16" transform="rotate(63 1465 566)" fill="#5c5c5c" stroke="#4a4a4a" stroke-width="3.5" opacity="0.9"/><ellipse cx="918" cy="1147" rx="24" ry="14" transform="rotate(29 918 1147)" fill="#6e6e6e" stroke="#4a4a4a" stroke-width="3.5" opacity="0.9"/><ellipse cx="1613" cy="780" rx="27" ry="11" transform="rotate(-13 1613 780)" fill="#646464" stroke="#4a4a4a" stroke-width="3.5" opacity="0.9"/><ellipse cx="1202" cy="147" rx="38" ry="15" transform="rotate(66 1202 147)" fill="#5c5c5c" stroke="#4a4a4a" stroke-width="3.5" opacity="0.9"/><ellipse cx="507" cy="385" rx="22" ry="12" transform="rotate(-61 507 385)" fill="#6e6e6e" stroke="#4a4a4a" stroke-width="3.5" opacity="0.9"/><ellipse cx="1625" cy="463" rx="23" ry="11" transform="rotate(45 1625 463)" fill="#646464" stroke="#4a4a4a" stroke-width="3.5" opacity="0.9"/><ellipse cx="1237" cy="610" rx="17" ry="17" transform="rotate(80 1237 610)" fill="#6e6e6e" stroke="#4a4a4a" stroke-width="3.5" opacity="0.9"/><ellipse cx="855" cy="342" rx="15" ry="17" transform="rotate(89 855 342)" fill="#5c5c5c" stroke="#4a4a4a" stroke-width="3.5" opacity="0.9"/><ellipse cx="699" cy="425" rx="22" ry="17" transform="rotate(-6 699 425)" fill="#5c5c5c" stroke="#4a4a4a" stroke-width="3.5" opacity="0.9"/><ellipse cx="879" cy="961" rx="20" ry="10" transform="rotate(-58 879 961)" fill="#5c5c5c" stroke="#4a4a4a" stroke-width="3.5" opacity="0.9"/><ellipse cx="1421" cy="539" rx="29" ry="20" transform="rotate(-82 1421 539)" fill="#5c5c5c" stroke="#4a4a4a" stroke-width="3.5" opacity="0.9"/><ellipse cx="1048" cy="1150" rx="21" ry="18" transform="rotate(39 1048 1150)" fill="#646464" stroke="#4a4a4a" stroke-width="3.5" opacity="0.9"/><ellipse cx="756" cy="134" rx="25" ry="13" transform="rotate(-44 756 134)" fill="#646464" stroke="#4a4a4a" stroke-width="3.5" opacity="0.9"/><ellipse cx="1588" cy="1162" rx="33" ry="16" transform="rotate(-55 1588 1162)" fill="#646464" stroke="#4a4a4a" stroke-width="3.5" opacity="0.9"/><ellipse cx="989" cy="162" rx="17" ry="15" transform="rotate(-34 989 162)" fill="#646464" stroke="#4a4a4a" stroke-width="3.5" opacity="0.9"/><ellipse cx="1106" cy="1055" rx="14" ry="15" transform="rotate(-51 1106 1055)" fill="#6e6e6e" stroke="#4a4a4a" stroke-width="3.5" opacity="0.9"/><ellipse cx="801" cy="952" rx="18" ry="10" transform="rotate(4 801 952)" fill="#6e6e6e" stroke="#4a4a4a" stroke-width="3.5" opacity="0.9"/><ellipse cx="1263" cy="1095" rx="30" ry="11" transform="rotate(90 1263 1095)" fill="#6e6e6e" stroke="#4a4a4a" stroke-width="3.5" opacity="0.9"/><ellipse cx="217" cy="957" rx="23" ry="11" transform="rotate(57 217 957)" fill="#646464" stroke="#4a4a4a" stroke-width="3.5" opacity="0.9"/><ellipse cx="886" cy="870" rx="41" ry="17" transform="rotate(54 886 870)" fill="#6e6e6e" stroke="#4a4a4a" stroke-width="3.5" opacity="0.9"/><ellipse cx="172" cy="874" rx="20" ry="13" transform="rotate(-81 172 874)" fill="#6e6e6e" stroke="#4a4a4a" stroke-width="3.5" opacity="0.9"/><ellipse cx="1404" cy="504" rx="14" ry="13" transform="rotate(48 1404 504)" fill="#646464" stroke="#4a4a4a" stroke-width="3.5" opacity="0.9"/><ellipse cx="1065" cy="576" rx="32" ry="20" transform="rotate(57 1065 576)" fill="#5c5c5c" stroke="#4a4a4a" stroke-width="3.5" opacity="0.9"/><ellipse cx="1043" cy="436" rx="18" ry="15" transform="rotate(-35 1043 436)" fill="#6e6e6e" stroke="#4a4a4a" stroke-width="3.5" opacity="0.9"/><ellipse cx="1394" cy="709" rx="15" ry="11" transform="rotate(-85 1394 709)" fill="#6e6e6e" stroke="#4a4a4a" stroke-width="3.5" opacity="0.9"/><ellipse cx="824" cy="363" rx="14" ry="15" transform="rotate(81 824 363)" fill="#646464" stroke="#4a4a4a" stroke-width="3.5" opacity="0.9"/><ellipse cx="696" cy="447" rx="30" ry="18" transform="rotate(-88 696 447)" fill="#5c5c5c" stroke="#4a4a4a" stroke-width="3.5" opacity="0.9"/><ellipse cx="1119" cy="793" rx="35" ry="14" transform="rotate(-64 1119 793)" fill="#6e6e6e" stroke="#4a4a4a" stroke-width="3.5" opacity="0.9"/><ellipse cx="820" cy="575" rx="40" ry="15" transform="rotate(48 820 575)" fill="#6e6e6e" stroke="#4a4a4a" stroke-width="3.5" opacity="0.9"/><ellipse cx="1102" cy="185" rx="26" ry="11" transform="rotate(57 1102 185)" fill="#646464" stroke="#4a4a4a" stroke-width="3.5" opacity="0.9"/><ellipse cx="904" cy="1083" rx="20" ry="13" transform="rotate(-19 904 1083)" fill="#646464" stroke="#4a4a4a" stroke-width="3.5" opacity="0.9"/><ellipse cx="593" cy="661" rx="36" ry="14" transform="rotate(48 593 661)" fill="#646464" stroke="#4a4a4a" stroke-width="3.5" opacity="0.9"/><ellipse cx="1482" cy="831" rx="16" ry="15" transform="rotate(74 1482 831)" fill="#6e6e6e" stroke="#4a4a4a" stroke-width="3.5" opacity="0.9"/><ellipse cx="918" cy="109" rx="17" ry="17" transform="rotate(-59 918 109)" fill="#646464" stroke="#4a4a4a" stroke-width="3.5" opacity="0.9"/><ellipse cx="1451" cy="937" rx="27" ry="15" transform="rotate(-4 1451 937)" fill="#646464" stroke="#4a4a4a" stroke-width="3.5" opacity="0.9"/><ellipse cx="1458" cy="500" rx="28" ry="16" transform="rotate(-88 1458 500)" fill="#646464" stroke="#4a4a4a" stroke-width="3.5" opacity="0.9"/><ellipse cx="1480" cy="91" rx="31" ry="15" transform="rotate(32 1480 91)" fill="#5c5c5c" stroke="#4a4a4a" stroke-width="3.5" opacity="0.9"/><ellipse cx="893" cy="877" rx="42" ry="18" transform="rotate(-18 893 877)" fill="#5c5c5c" stroke="#4a4a4a" stroke-width="3.5" opacity="0.9"/><ellipse cx="1035" cy="136" rx="26" ry="20" transform="rotate(-64 1035 136)" fill="#646464" stroke="#4a4a4a" stroke-width="3.5" opacity="0.9"/><ellipse cx="1247" cy="668" rx="16" ry="11" transform="rotate(-39 1247 668)" fill="#6e6e6e" stroke="#4a4a4a" stroke-width="3.5" opacity="0.9"/><ellipse cx="1128" cy="1062" rx="26" ry="20" transform="rotate(79 1128 1062)" fill="#646464" stroke="#4a4a4a" stroke-width="3.5" opacity="0.9"/><ellipse cx="190" cy="935" rx="41" ry="19" transform="rotate(31 190 935)" fill="#5c5c5c" stroke="#4a4a4a" stroke-width="3.5" opacity="0.9"/><ellipse cx="1459" cy="1142" rx="30" ry="15" transform="rotate(19 1459 1142)" fill="#646464" stroke="#4a4a4a" stroke-width="3.5" opacity="0.9"/><ellipse cx="750" cy="68" rx="19" ry="17" transform="rotate(-20 750 68)" fill="#646464" stroke="#4a4a4a" stroke-width="3.5" opacity="0.9"/><ellipse cx="1649" cy="774" rx="17" ry="17" transform="rotate(-20 1649 774)" fill="#5c5c5c" stroke="#4a4a4a" stroke-width="3.5" opacity="0.9"/><ellipse cx="1263" cy="1201" rx="17" ry="13" transform="rotate(-45 1263 1201)" fill="#6e6e6e" stroke="#4a4a4a" stroke-width="3.5" opacity="0.9"/><ellipse cx="1452" cy="155" rx="16" ry="14" transform="rotate(81 1452 155)" fill="#646464" stroke="#4a4a4a" stroke-width="3.5" opacity="0.9"/><ellipse cx="1050" cy="1024" rx="34" ry="14" transform="rotate(68 1050 1024)" fill="#6e6e6e" stroke="#4a4a4a" stroke-width="3.5" opacity="0.9"/><ellipse cx="906" cy="754" rx="26" ry="11" transform="rotate(-46 906 754)" fill="#6e6e6e" stroke="#4a4a4a" stroke-width="3.5" opacity="0.9"/><ellipse cx="1115" cy="277" rx="31" ry="16" transform="rotate(-56 1115 277)" fill="#5c5c5c" stroke="#4a4a4a" stroke-width="3.5" opacity="0.9"/><ellipse cx="969" cy="149" rx="27" ry="14" transform="rotate(-56 969 149)" fill="#646464" stroke="#4a4a4a" stroke-width="3.5" opacity="0.9"/><ellipse cx="1620" cy="776" rx="38" ry="10" transform="rotate(54 1620 776)" fill="#5c5c5c" stroke="#4a4a4a" stroke-width="3.5" opacity="0.9"/><ellipse cx="329" cy="776" rx="35" ry="17" transform="rotate(-71 329 776)" fill="#646464" stroke="#4a4a4a" stroke-width="3.5" opacity="0.9"/><ellipse cx="1306" cy="1132" rx="32" ry="20" transform="rotate(82 1306 1132)" fill="#646464" stroke="#4a4a4a" stroke-width="3.5" opacity="0.9"/><ellipse cx="876" cy="71" rx="41" ry="11" transform="rotate(86 876 71)" fill="#646464" stroke="#4a4a4a" stroke-width="3.5" opacity="0.9"/><ellipse cx="927" cy="1177" rx="16" ry="18" transform="rotate(80 927 1177)" fill="#5c5c5c" stroke="#4a4a4a" stroke-width="3.5" opacity="0.9"/><ellipse cx="1304" cy="83" rx="42" ry="18" transform="rotate(56 1304 83)" fill="#646464" stroke="#4a4a4a" stroke-width="3.5" opacity="0.9"/><ellipse cx="571" cy="641" rx="36" ry="16" transform="rotate(35 571 641)" fill="#6e6e6e" stroke="#4a4a4a" stroke-width="3.5" opacity="0.9"/><ellipse cx="1028" cy="564" rx="38" ry="19" transform="rotate(-58 1028 564)" fill="#646464" stroke="#4a4a4a" stroke-width="3.5" opacity="0.9"/><ellipse cx="1476" cy="71" rx="24" ry="10" transform="rotate(48 1476 71)" fill="#6e6e6e" stroke="#4a4a4a" stroke-width="3.5" opacity="0.9"/><ellipse cx="1043" cy="1170" rx="16" ry="20" transform="rotate(66 1043 1170)" fill="#646464" stroke="#4a4a4a" stroke-width="3.5" opacity="0.9"/><ellipse cx="886" cy="164" rx="41" ry="17" transform="rotate(-40 886 164)" fill="#5c5c5c" stroke="#4a4a4a" stroke-width="3.5" opacity="0.9"/><ellipse cx="1406" cy="643" rx="40" ry="17" transform="rotate(65 1406 643)" fill="#5c5c5c" stroke="#4a4a4a" stroke-width="3.5" opacity="0.9"/><ellipse cx="1171" cy="107" rx="36" ry="14" transform="rotate(-86 1171 107)" fill="#6e6e6e" stroke="#4a4a4a" stroke-width="3.5" opacity="0.9"/><ellipse cx="1424" cy="553" rx="42" ry="12" transform="rotate(85 1424 553)" fill="#6e6e6e" stroke="#4a4a4a" stroke-width="3.5" opacity="0.9"/><ellipse cx="697" cy="68" rx="36" ry="18" transform="rotate(24 697 68)" fill="#646464" stroke="#4a4a4a" stroke-width="3.5" opacity="0.9"/><ellipse cx="1626" cy="1088" rx="15" ry="18" transform="rotate(-55 1626 1088)" fill="#6e6e6e" stroke="#4a4a4a" stroke-width="3.5" opacity="0.9"/><ellipse cx="1107" cy="222" rx="40" ry="19" transform="rotate(-47 1107 222)" fill="#646464" stroke="#4a4a4a" stroke-width="3.5" opacity="0.9"/><ellipse cx="90" cy="1003" rx="18" ry="17" transform="rotate(-75 90 1003)" fill="#6e6e6e" stroke="#4a4a4a" stroke-width="3.5" opacity="0.9"/><ellipse cx="1414" cy="241" rx="41" ry="17" transform="rotate(3 1414 241)" fill="#646464" stroke="#4a4a4a" stroke-width="3.5" opacity="0.9"/><ellipse cx="760" cy="416" rx="29" ry="14" transform="rotate(73 760 416)" fill="#646464" stroke="#4a4a4a" stroke-width="3.5" opacity="0.9"/><ellipse cx="735" cy="339" rx="16" ry="10" transform="rotate(30 735 339)" fill="#646464" stroke="#4a4a4a" stroke-width="3.5" opacity="0.9"/><ellipse cx="794" cy="647" rx="36" ry="11" transform="rotate(20 794 647)" fill="#5c5c5c" stroke="#4a4a4a" stroke-width="3.5" opacity="0.9"/><ellipse cx="1603" cy="962" rx="26" ry="11" transform="rotate(10 1603 962)" fill="#646464" stroke="#4a4a4a" stroke-width="3.5" opacity="0.9"/><ellipse cx="987" cy="889" rx="41" ry="20" transform="rotate(79 987 889)" fill="#6e6e6e" stroke="#4a4a4a" stroke-width="3.5" opacity="0.9"/><ellipse cx="1538" cy="747" rx="32" ry="11" transform="rotate(33 1538 747)" fill="#646464" stroke="#4a4a4a" stroke-width="3.5" opacity="0.9"/><ellipse cx="985" cy="514" rx="22" ry="16" transform="rotate(76 985 514)" fill="#6e6e6e" stroke="#4a4a4a" stroke-width="3.5" opacity="0.9"/><ellipse cx="925" cy="719" rx="27" ry="11" transform="rotate(-53 925 719)" fill="#646464" stroke="#4a4a4a" stroke-width="3.5" opacity="0.9"/><ellipse cx="716" cy="459" rx="28" ry="11" transform="rotate(57 716 459)" fill="#646464" stroke="#4a4a4a" stroke-width="3.5" opacity="0.9"/><ellipse cx="1154" cy="514" rx="21" ry="13" transform="rotate(23 1154 514)" fill="#6e6e6e" stroke="#4a4a4a" stroke-width="3.5" opacity="0.9"/><ellipse cx="1657" cy="1031" rx="30" ry="19" transform="rotate(17 1657 1031)" fill="#6e6e6e" stroke="#4a4a4a" stroke-width="3.5" opacity="0.9"/><ellipse cx="1042" cy="76" rx="37" ry="15" transform="rotate(-82 1042 76)" fill="#5c5c5c" stroke="#4a4a4a" stroke-width="3.5" opacity="0.9"/><ellipse cx="269" cy="898" rx="31" ry="12" transform="rotate(20 269 898)" fill="#5c5c5c" stroke="#4a4a4a" stroke-width="3.5" opacity="0.9"/><ellipse cx="1255" cy="172" rx="27" ry="16" transform="rotate(-78 1255 172)" fill="#5c5c5c" stroke="#4a4a4a" stroke-width="3.5" opacity="0.9"/><ellipse cx="1319" cy="145" rx="38" ry="11" transform="rotate(26 1319 145)" fill="#6e6e6e" stroke="#4a4a4a" stroke-width="3.5" opacity="0.9"/><ellipse cx="515" cy="410" rx="35" ry="15" transform="rotate(-90 515 410)" fill="#6e6e6e" stroke="#4a4a4a" stroke-width="3.5" opacity="0.9"/><ellipse cx="875" cy="245" rx="21" ry="19" transform="rotate(-51 875 245)" fill="#646464" stroke="#4a4a4a" stroke-width="3.5" opacity="0.9"/><ellipse cx="861" cy="238" rx="32" ry="14" transform="rotate(89 861 238)" fill="#5c5c5c" stroke="#4a4a4a" stroke-width="3.5" opacity="0.9"/><ellipse cx="1197" cy="267" rx="28" ry="17" transform="rotate(-65 1197 267)" fill="#6e6e6e" stroke="#4a4a4a" stroke-width="3.5" opacity="0.9"/><ellipse cx="1045" cy="646" rx="20" ry="12" transform="rotate(81 1045 646)" fill="#646464" stroke="#4a4a4a" stroke-width="3.5" opacity="0.9"/><ellipse cx="795" cy="971" rx="22" ry="11" transform="rotate(60 795 971)" fill="#6e6e6e" stroke="#4a4a4a" stroke-width="3.5" opacity="0.9"/><ellipse cx="805" cy="1042" rx="28" ry="17" transform="rotate(3 805 1042)" fill="#646464" stroke="#4a4a4a" stroke-width="3.5" opacity="0.9"/><ellipse cx="1405" cy="454" rx="32" ry="18" transform="rotate(-71 1405 454)" fill="#5c5c5c" stroke="#4a4a4a" stroke-width="3.5" opacity="0.9"/><ellipse cx="1010" cy="264" rx="35" ry="11" transform="rotate(-30 1010 264)" fill="#6e6e6e" stroke="#4a4a4a" stroke-width="3.5" opacity="0.9"/><ellipse cx="1601" cy="425" rx="23" ry="20" transform="rotate(-37 1601 425)" fill="#6e6e6e" stroke="#4a4a4a" stroke-width="3.5" opacity="0.9"/><ellipse cx="1441" cy="1100" rx="17" ry="14" transform="rotate(1 1441 1100)" fill="#646464" stroke="#4a4a4a" stroke-width="3.5" opacity="0.9"/><ellipse cx="1007" cy="818" rx="23" ry="14" transform="rotate(33 1007 818)" fill="#646464" stroke="#4a4a4a" stroke-width="3.5" opacity="0.9"/><ellipse cx="876" cy="184" rx="17" ry="15" transform="rotate(48 876 184)" fill="#646464" stroke="#4a4a4a" stroke-width="3.5" opacity="0.9"/><ellipse cx="1204" cy="832" rx="17" ry="13" transform="rotate(-21 1204 832)" fill="#6e6e6e" stroke="#4a4a4a" stroke-width="3.5" opacity="0.9"/><ellipse cx="429" cy="659" rx="25" ry="16" transform="rotate(75 429 659)" fill="#646464" stroke="#4a4a4a" stroke-width="3.5" opacity="0.9"/><ellipse cx="985" cy="226" rx="40" ry="15" transform="rotate(-80 985 226)" fill="#6e6e6e" stroke="#4a4a4a" stroke-width="3.5" opacity="0.9"/><ellipse cx="1027" cy="987" rx="21" ry="12" transform="rotate(24 1027 987)" fill="#5c5c5c" stroke="#4a4a4a" stroke-width="3.5" opacity="0.9"/><ellipse cx="511" cy="608" rx="31" ry="11" transform="rotate(47 511 608)" fill="#646464" stroke="#4a4a4a" stroke-width="3.5" opacity="0.9"/><ellipse cx="860" cy="1162" rx="26" ry="12" transform="rotate(48 860 1162)" fill="#646464" stroke="#4a4a4a" stroke-width="3.5" opacity="0.9"/><ellipse cx="842" cy="781" rx="19" ry="17" transform="rotate(64 842 781)" fill="#646464" stroke="#4a4a4a" stroke-width="3.5" opacity="0.9"/><ellipse cx="1157" cy="871" rx="30" ry="12" transform="rotate(8 1157 871)" fill="#646464" stroke="#4a4a4a" stroke-width="3.5" opacity="0.9"/><ellipse cx="650" cy="748" rx="28" ry="19" transform="rotate(25 650 748)" fill="#5c5c5c" stroke="#4a4a4a" stroke-width="3.5" opacity="0.9"/><path d="M65 60L690 60L660 140L560 230L510 310L470 400L400 510L330 600L280 700L200 800L100 900L65 940Z" fill="#d8d8d8"/><path d="M1480 60C1548 25 1727 -233 1810 60C1893 353 1838 937 1810 1230C1782 1523 1730 1263 1700 1230C1670 1197 1690 1170 1690 1100C1690 1030 1703 1025 1700 950C1697 875 1690 875 1680 800C1670 725 1670 725 1660 650C1650 575 1655 575 1640 500C1625 425 1625 425 1600 350C1575 275 1570 273 1540 200C1510 127 1412 95 1480 60Z" fill="#dcdcdc"/><ellipse cx="407" cy="223" rx="8" ry="4" fill="#8a8a8a"/><ellipse cx="312" cy="200" rx="9" ry="4" fill="#8a8a8a"/><ellipse cx="307" cy="87" rx="7" ry="3" fill="#8a8a8a"/><ellipse cx="536" cy="152" rx="8" ry="6" fill="#8a8a8a"/><ellipse cx="212" cy="225" rx="7" ry="5" fill="#8a8a8a"/><ellipse cx="412" cy="99" rx="7" ry="6" fill="#8a8a8a"/><ellipse cx="452" cy="136" rx="6" ry="3" fill="#8a8a8a"/><ellipse cx="487" cy="70" rx="8" ry="3" fill="#8a8a8a"/><ellipse cx="285" cy="155" rx="4" ry="4" fill="#8a8a8a"/><ellipse cx="448" cy="282" rx="7" ry="5" fill="#8a8a8a"/><ellipse cx="372" cy="136" rx="5" ry="3" fill="#8a8a8a"/><ellipse cx="335" cy="104" rx="7" ry="6" fill="#8a8a8a"/><ellipse cx="328" cy="190" rx="7" ry="5" fill="#8a8a8a"/><ellipse cx="250" cy="112" rx="6" ry="6" fill="#8a8a8a"/><ellipse cx="524" cy="188" rx="8" ry="4" fill="#8a8a8a"/><ellipse cx="451" cy="174" rx="8" ry="4" fill="#8a8a8a"/><ellipse cx="295" cy="187" rx="8" ry="5" fill="#8a8a8a"/><ellipse cx="401" cy="168" rx="8" ry="7" fill="#8a8a8a"/><ellipse cx="254" cy="90" rx="7" ry="7" fill="#8a8a8a"/><ellipse cx="537" cy="103" rx="3" ry="7" fill="#8a8a8a"/><ellipse cx="517" cy="167" rx="3" ry="5" fill="#8a8a8a"/><ellipse cx="531" cy="204" rx="4" ry="4" fill="#8a8a8a"/><ellipse cx="568" cy="171" rx="5" ry="7" fill="#8a8a8a"/><ellipse cx="370" cy="193" rx="9" ry="7" fill="#8a8a8a"/><ellipse cx="396" cy="131" rx="5" ry="5" fill="#8a8a8a"/><ellipse cx="405" cy="178" rx="6" ry="7" fill="#8a8a8a"/><ellipse cx="340" cy="77" rx="8" ry="8" fill="#8a8a8a"/><ellipse cx="466" cy="110" rx="7" ry="6" fill="#8a8a8a"/><ellipse cx="582" cy="106" rx="6" ry="4" fill="#8a8a8a"/><ellipse cx="384" cy="210" rx="7" ry="7" fill="#8a8a8a"/><ellipse cx="487" cy="239" rx="8" ry="5" fill="#8a8a8a"/><ellipse cx="383" cy="195" rx="5" ry="3" fill="#8a8a8a"/><ellipse cx="511" cy="221" rx="4" ry="3" fill="#8a8a8a"/><ellipse cx="119" cy="123" rx="8" ry="5" fill="#8a8a8a"/><ellipse cx="477" cy="159" rx="4" ry="3" fill="#8a8a8a"/><ellipse cx="436" cy="102" rx="8" ry="5" fill="#8a8a8a"/><ellipse cx="585" cy="130" rx="6" ry="4" fill="#8a8a8a"/><ellipse cx="305" cy="199" rx="8" ry="4" fill="#8a8a8a"/><ellipse cx="364" cy="276" rx="3" ry="6" fill="#8a8a8a"/><ellipse cx="466" cy="257" rx="7" ry="3" fill="#8a8a8a"/><ellipse cx="414" cy="109" rx="5" ry="7" fill="#8a8a8a"/><ellipse cx="450" cy="119" rx="7" ry="4" fill="#8a8a8a"/><ellipse cx="376" cy="167" rx="7" ry="8" fill="#8a8a8a"/><ellipse cx="405" cy="157" rx="6" ry="5" fill="#8a8a8a"/><ellipse cx="360" cy="182" rx="5" ry="5" fill="#8a8a8a"/><ellipse cx="434" cy="220" rx="4" ry="5" fill="#8a8a8a"/><ellipse cx="528" cy="149" rx="4" ry="5" fill="#8a8a8a"/><ellipse cx="482" cy="161" rx="5" ry="4" fill="#8a8a8a"/><ellipse cx="370" cy="109" rx="4" ry="7" fill="#8a8a8a"/><ellipse cx="337" cy="251" rx="6" ry="7" fill="#8a8a8a"/><ellipse cx="517" cy="185" rx="5" ry="4" fill="#8a8a8a"/><ellipse cx="497" cy="106" rx="5" ry="6" fill="#8a8a8a"/><ellipse cx="526" cy="106" rx="6" ry="6" fill="#8a8a8a"/><ellipse cx="331" cy="130" rx="6" ry="4" fill="#8a8a8a"/><ellipse cx="182" cy="216" rx="5" ry="5" fill="#8a8a8a"/><ellipse cx="292" cy="122" rx="4" ry="5" fill="#8a8a8a"/><ellipse cx="426" cy="153" rx="4" ry="7" fill="#8a8a8a"/><ellipse cx="470" cy="157" rx="3" ry="6" fill="#8a8a8a"/><ellipse cx="389" cy="256" rx="3" ry="5" fill="#8a8a8a"/><ellipse cx="492" cy="216" rx="7" ry="6" fill="#8a8a8a"/><ellipse cx="581" cy="78" rx="7" ry="7" fill="#8a8a8a"/><ellipse cx="495" cy="231" rx="5" ry="6" fill="#8a8a8a"/><ellipse cx="274" cy="246" rx="9" ry="8" fill="#8a8a8a"/><ellipse cx="232" cy="245" rx="9" ry="4" fill="#8a8a8a"/><ellipse cx="269" cy="399" rx="4" ry="3" fill="#999"/><ellipse cx="294" cy="526" rx="7" ry="4" fill="#999"/><ellipse cx="268" cy="549" rx="4" ry="4" fill="#999"/><ellipse cx="231" cy="492" rx="2" ry="5" fill="#999"/><ellipse cx="250" cy="449" rx="4" ry="4" fill="#999"/><ellipse cx="163" cy="478" rx="6" ry="3" fill="#999"/><ellipse cx="234" cy="538" rx="3" ry="6" fill="#999"/><ellipse cx="326" cy="497" rx="3" ry="4" fill="#999"/><ellipse cx="304" cy="490" rx="7" ry="5" fill="#999"/><ellipse cx="280" cy="534" rx="2" ry="2" fill="#999"/><ellipse cx="321" cy="615" rx="4" ry="3" fill="#999"/><ellipse cx="292" cy="490" rx="7" ry="5" fill="#999"/><ellipse cx="353" cy="434" rx="6" ry="3" fill="#999"/><ellipse cx="289" cy="515" rx="2" ry="3" fill="#999"/><ellipse cx="259" cy="423" rx="2" ry="3" fill="#999"/><ellipse cx="327" cy="401" rx="6" ry="5" fill="#999"/><ellipse cx="324" cy="446" rx="4" ry="4" fill="#999"/><ellipse cx="267" cy="493" rx="3" ry="4" fill="#999"/><ellipse cx="285" cy="494" rx="3" ry="3" fill="#999"/><ellipse cx="326" cy="465" rx="6" ry="5" fill="#999"/><ellipse cx="233" cy="456" rx="4" ry="3" fill="#999"/><ellipse cx="205" cy="407" rx="6" ry="3" fill="#999"/><ellipse cx="274" cy="485" rx="5" ry="3" fill="#999"/><ellipse cx="312" cy="481" rx="3" ry="3" fill="#999"/><ellipse cx="236" cy="423" rx="3" ry="5" fill="#999"/><path d="M1590 240C1605 230 1622 203 1650 200C1678 197 1687 222 1700 230" fill="none" stroke="#9a9a9a" stroke-width="10" stroke-linecap="round"/><path d="M1680 740C1698 745 1719 770 1750 760C1781 750 1791 715 1805 700" fill="none" stroke="#9a9a9a" stroke-width="10" stroke-linecap="round"/><path d="M1700 960C1715 955 1734 943 1760 940C1786 937 1794 947 1805 950" fill="none" stroke="#9a9a9a" stroke-width="10" stroke-linecap="round"/><path d="M1720 1080C1735 1070 1759 1048 1780 1040C1801 1032 1799 1047 1805 1050" fill="none" stroke="#9a9a9a" stroke-width="10" stroke-linecap="round"/><path d="M1640 120L1680 160" fill="none" stroke="#9a9a9a" stroke-width="10" stroke-linecap="round"/><path d="M1700 1010L1805 990" fill="none" stroke="#9a9a9a" stroke-width="10" stroke-linecap="round"/><ellipse cx="760" cy="130" rx="28" ry="22" fill="#0d0d0d"/><ellipse cx="810" cy="150" rx="30" ry="20" transform="rotate(-30 810 150)" fill="#0d0d0d"/><ellipse cx="620" cy="270" rx="40" ry="20" transform="rotate(-30 620 270)" fill="#0d0d0d"/><ellipse cx="690" cy="285" rx="30" ry="22" transform="rotate(10 690 285)" fill="#0d0d0d"/><ellipse cx="565" cy="315" rx="25" ry="18" transform="rotate(-20 565 315)" fill="#0d0d0d"/><ellipse cx="600" cy="355" rx="18" ry="35" transform="rotate(15 600 355)" fill="#0d0d0d"/><ellipse cx="680" cy="335" rx="12" ry="25" fill="#0d0d0d"/><ellipse cx="535" cy="530" rx="18" ry="40" transform="rotate(-5 535 530)" fill="#0d0d0d"/><ellipse cx="965" cy="435" rx="20" ry="32" transform="rotate(-25 965 435)" fill="#0d0d0d"/><ellipse cx="880" cy="410" rx="30" ry="12" transform="rotate(-40 880 410)" fill="#0d0d0d"/><ellipse cx="990" cy="350" rx="10" ry="40" transform="rotate(10 990 350)" fill="#0d0d0d"/><ellipse cx="1400" cy="110" rx="30" ry="22" transform="rotate(30 1400 110)" fill="#0d0d0d"/><ellipse cx="1430" cy="150" rx="22" ry="18" fill="#0d0d0d"/><ellipse cx="1380" cy="230" rx="35" ry="10" transform="rotate(-10 1380 230)" fill="#0d0d0d"/><ellipse cx="1450" cy="255" rx="20" ry="35" transform="rotate(-35 1450 255)" fill="#0d0d0d"/><ellipse cx="1475" cy="200" rx="15" ry="25" transform="rotate(-20 1475 200)" fill="#0d0d0d"/><ellipse cx="1505" cy="260" rx="15" ry="22" fill="#0d0d0d"/><ellipse cx="1510" cy="320" rx="30" ry="20" transform="rotate(40 1510 320)" fill="#0d0d0d"/><ellipse cx="1530" cy="370" rx="20" ry="18" fill="#0d0d0d"/><ellipse cx="1570" cy="400" rx="18" ry="30" transform="rotate(-15 1570 400)" fill="#0d0d0d"/><ellipse cx="1550" cy="455" rx="20" ry="28" fill="#0d0d0d"/><ellipse cx="1605" cy="515" rx="15" ry="30" transform="rotate(-15 1605 515)" fill="#0d0d0d"/><ellipse cx="1560" cy="555" rx="15" ry="25" transform="rotate(10 1560 555)" fill="#0d0d0d"/><ellipse cx="1535" cy="500" rx="12" ry="18" fill="#0d0d0d"/><ellipse cx="1625" cy="735" rx="12" ry="25" fill="#0d0d0d"/><ellipse cx="1270" cy="805" rx="30" ry="18" transform="rotate(30 1270 805)" fill="#0d0d0d"/><ellipse cx="1300" cy="790" rx="15" ry="15" fill="#0d0d0d"/><ellipse cx="1280" cy="860" rx="28" ry="10" transform="rotate(-30 1280 860)" fill="#0d0d0d"/><ellipse cx="1505" cy="845" rx="25" ry="15" transform="rotate(45 1505 845)" fill="#0d0d0d"/><ellipse cx="1135" cy="690" rx="20" ry="10" transform="rotate(20 1135 690)" fill="#0d0d0d"/><ellipse cx="975" cy="620" rx="14" ry="10" fill="#0d0d0d"/><ellipse cx="1520" cy="1010" rx="18" ry="35" transform="rotate(5 1520 1010)" fill="#0d0d0d"/><ellipse cx="1540" cy="1095" rx="20" ry="35" transform="rotate(-10 1540 1095)" fill="#0d0d0d"/><ellipse cx="1430" cy="1125" rx="28" ry="14" transform="rotate(-10 1430 1125)" fill="#0d0d0d"/><ellipse cx="1510" cy="1165" rx="12" ry="18" fill="#0d0d0d"/><ellipse cx="1590" cy="1190" rx="12" ry="30" fill="#0d0d0d"/><ellipse cx="1290" cy="1125" rx="12" ry="12" fill="#0d0d0d"/><ellipse cx="1025" cy="1065" rx="10" ry="35" transform="rotate(-20 1025 1065)" fill="#0d0d0d"/><ellipse cx="700" cy="900" rx="25" ry="12" transform="rotate(-35 700 900)" fill="#0d0d0d"/><ellipse cx="290" cy="790" rx="10" ry="20" fill="#0d0d0d"/><ellipse cx="195" cy="935" rx="20" ry="14" transform="rotate(-30 195 935)" fill="#0d0d0d"/><ellipse cx="270" cy="880" rx="12" ry="10" fill="#0d0d0d"/><ellipse cx="650" cy="625" rx="25" ry="12" transform="rotate(40 650 625)" fill="#0d0d0d"/><ellipse cx="520" cy="95" rx="12" ry="12" fill="#0d0d0d"/><ellipse cx="270" cy="325" rx="8" ry="8" fill="#0d0d0d"/><ellipse cx="825" cy="980" rx="10" ry="10" fill="#0d0d0d"/><ellipse cx="1240" cy="60" rx="20" ry="20" fill="#0d0d0d"/><ellipse cx="1200" cy="95" rx="14" ry="18" fill="#0d0d0d"/><ellipse cx="940" cy="60" rx="60" ry="12" fill="#0d0d0d"/><ellipse cx="1420" cy="65" rx="40" ry="12" fill="#0d0d0d"/><ellipse cx="1360" cy="320" rx="12" ry="12" fill="#0d0d0d"/><ellipse cx="1410" cy="265" rx="10" ry="14" fill="#0d0d0d"/><ellipse cx="1090" cy="840" rx="26" ry="26" fill="#9a9a9a" stroke="#151515" stroke-width="14"/><ellipse cx="495" cy="785" rx="28" ry="28" fill="#888" stroke="#3a3a3a" stroke-width="10"/><ellipse cx="1300" cy="1050" rx="22" ry="26" fill="#d0d0d0"/><ellipse cx="990" cy="780" rx="16" ry="19" fill="#d0d0d0"/><ellipse cx="1460" cy="1165" rx="20" ry="24" fill="#d0d0d0"/><ellipse cx="575" cy="580" rx="12" ry="14" fill="#d0d0d0"/><ellipse cx="430" cy="530" rx="8" ry="10" fill="#d0d0d0"/><ellipse cx="1195" cy="155" rx="10" ry="12" fill="#d0d0d0"/></g><rect x="965.1" y="634.9" width="404.9" height="269" filter="url(#emn2)" style="mix-blend-mode:overlay"/><g transform="translate(950 620) scale(0.23268)"><rect x="148" y="1155" width="102" height="15" fill="#fff"/></g></g>
<g clip-path="url(#ce3)"><rect x="553.5" y="914.4" width="405.3" height="266.5" fill="#919191"/><g transform="translate(540 900) scale(0.23268)"><path d="M725 1220C505 1176 713 1074 712 1000C711 926 708 902 722 850C736 798 748 774 780 740C812 706 836 698 880 680C924 662 956 662 1000 650C1044 638 1060 624 1100 620C1140 616 1160 624 1200 630C1240 636 1266 636 1300 650C1334 664 1346 676 1370 700C1394 724 1390 758 1420 770C1450 782 1484 766 1520 760C1556 754 1568 740 1600 740C1632 740 1656 742 1680 760C1704 778 1694 812 1720 830C1746 848 1792 772 1810 850C1828 928 2028 1146 1810 1220C1592 1294 945 1264 725 1220Z" fill="#a2a2a2" stroke="#5e5e5e" stroke-width="9"/><ellipse cx="1600" cy="870" rx="60" ry="115" fill="#666" filter="url(#b6)"/><ellipse cx="1160" cy="860" rx="38" ry="38" fill="#777" filter="url(#b6)"/><ellipse cx="970" cy="1090" rx="35" ry="45" fill="#727272" filter="url(#b6)"/><ellipse cx="770" cy="800" rx="30" ry="35" fill="#777" filter="url(#b6)"/><ellipse cx="1110" cy="650" rx="35" ry="25" fill="#707070" filter="url(#b6)"/><ellipse cx="1760" cy="860" rx="40" ry="40" fill="#6e6e6e" filter="url(#b6)"/><ellipse cx="1000" cy="950" rx="30" ry="25" fill="#888" filter="url(#b6)"/><ellipse cx="1290" cy="850" rx="25" ry="22" fill="#848484" filter="url(#b6)"/><ellipse cx="1320" cy="680" rx="30" ry="25" fill="#777" filter="url(#b6)"/><ellipse cx="760" cy="960" rx="25" ry="25" fill="#7c7c7c" filter="url(#b6)"/><ellipse cx="1750" cy="1030" rx="25" ry="25" fill="#808080" filter="url(#b6)"/><ellipse cx="860" cy="720" rx="30" ry="25" fill="#7a7a7a" filter="url(#b6)"/><ellipse cx="205" cy="400" rx="35" ry="50" transform="rotate(-10 205 400)" fill="#6c6c6c" stroke="#4e4e4e" stroke-width="3.5" opacity=".9"/><ellipse cx="480" cy="325" rx="95" ry="32" transform="rotate(-10 480 325)" fill="#6c6c6c" stroke="#4e4e4e" stroke-width="3.5" opacity=".9"/><ellipse cx="390" cy="430" rx="60" ry="30" transform="rotate(-20 390 430)" fill="#6c6c6c" stroke="#4e4e4e" stroke-width="3.5" opacity=".9"/><ellipse cx="635" cy="355" rx="32" ry="30" fill="#6c6c6c" stroke="#4e4e4e" stroke-width="3.5" opacity=".9"/><ellipse cx="720" cy="515" rx="42" ry="40" fill="#6c6c6c" stroke="#4e4e4e" stroke-width="3.5" opacity=".9"/><ellipse cx="890" cy="410" rx="55" ry="35" transform="rotate(10 890 410)" fill="#6c6c6c" stroke="#4e4e4e" stroke-width="3.5" opacity=".9"/><ellipse cx="1030" cy="565" rx="50" ry="35" transform="rotate(25 1030 565)" fill="#6c6c6c" stroke="#4e4e4e" stroke-width="3.5" opacity=".9"/><ellipse cx="430" cy="560" rx="75" ry="30" transform="rotate(10 430 560)" fill="#6c6c6c" stroke="#4e4e4e" stroke-width="3.5" opacity=".9"/><ellipse cx="410" cy="650" rx="35" ry="40" fill="#6c6c6c" stroke="#4e4e4e" stroke-width="3.5" opacity=".9"/><ellipse cx="480" cy="670" rx="32" ry="30" fill="#6c6c6c" stroke="#4e4e4e" stroke-width="3.5" opacity=".9"/><ellipse cx="570" cy="700" rx="30" ry="30" fill="#6c6c6c" stroke="#4e4e4e" stroke-width="3.5" opacity=".9"/><ellipse cx="280" cy="740" rx="38" ry="42" fill="#6c6c6c" stroke="#4e4e4e" stroke-width="3.5" opacity=".9"/><ellipse cx="440" cy="780" rx="35" ry="35" fill="#6c6c6c" stroke="#4e4e4e" stroke-width="3.5" opacity=".9"/><ellipse cx="330" cy="835" rx="62" ry="25" transform="rotate(-45 330 835)" fill="#6c6c6c" stroke="#4e4e4e" stroke-width="3.5" opacity=".9"/><ellipse cx="150" cy="840" rx="65" ry="30" transform="rotate(-55 150 840)" fill="#6c6c6c" stroke="#4e4e4e" stroke-width="3.5" opacity=".9"/><ellipse cx="1385" cy="240" rx="35" ry="35" fill="#6c6c6c" stroke="#4e4e4e" stroke-width="3.5" opacity=".9"/><ellipse cx="1190" cy="230" rx="38" ry="25" transform="rotate(20 1190 230)" fill="#6c6c6c" stroke="#4e4e4e" stroke-width="3.5" opacity=".9"/><ellipse cx="1230" cy="165" rx="42" ry="30" transform="rotate(-20 1230 165)" fill="#6c6c6c" stroke="#4e4e4e" stroke-width="3.5" opacity=".9"/><ellipse cx="1545" cy="165" rx="36" ry="42" fill="#6c6c6c" stroke="#4e4e4e" stroke-width="3.5" opacity=".9"/><ellipse cx="1660" cy="100" rx="75" ry="30" transform="rotate(-10 1660 100)" fill="#6c6c6c" stroke="#4e4e4e" stroke-width="3.5" opacity=".9"/><ellipse cx="1700" cy="250" rx="52" ry="36" transform="rotate(-20 1700 250)" fill="#6c6c6c" stroke="#4e4e4e" stroke-width="3.5" opacity=".9"/><ellipse cx="1775" cy="250" rx="25" ry="32" fill="#6c6c6c" stroke="#4e4e4e" stroke-width="3.5" opacity=".9"/><ellipse cx="1370" cy="320" rx="48" ry="30" transform="rotate(-10 1370 320)" fill="#6c6c6c" stroke="#4e4e4e" stroke-width="3.5" opacity=".9"/><ellipse cx="1285" cy="275" rx="25" ry="30" fill="#6c6c6c" stroke="#4e4e4e" stroke-width="3.5" opacity=".9"/><ellipse cx="1240" cy="465" rx="28" ry="28" fill="#6c6c6c" stroke="#4e4e4e" stroke-width="3.5" opacity=".9"/><ellipse cx="1130" cy="455" rx="16" ry="32" fill="#6c6c6c" stroke="#4e4e4e" stroke-width="3.5" opacity=".9"/><ellipse cx="810" cy="500" rx="26" ry="32" transform="rotate(10 810 500)" fill="#6c6c6c" stroke="#4e4e4e" stroke-width="3.5" opacity=".9"/><ellipse cx="715" cy="605" rx="25" ry="25" fill="#6c6c6c" stroke="#4e4e4e" stroke-width="3.5" opacity=".9"/><ellipse cx="1730" cy="155" rx="60" ry="30" transform="rotate(-20 1730 155)" fill="#6c6c6c" stroke="#4e4e4e" stroke-width="3.5" opacity=".9"/><ellipse cx="1440" cy="195" rx="20" ry="25" fill="#6c6c6c" stroke="#4e4e4e" stroke-width="3.5" opacity=".9"/><ellipse cx="1610" cy="290" rx="40" ry="25" transform="rotate(-10 1610 290)" fill="#6c6c6c" stroke="#4e4e4e" stroke-width="3.5" opacity=".9"/><ellipse cx="310" cy="645" rx="50" ry="25" transform="rotate(-30 310 645)" fill="#6c6c6c" stroke="#4e4e4e" stroke-width="3.5" opacity=".9"/><ellipse cx="650" cy="540" rx="45" ry="22" transform="rotate(10 650 540)" fill="#6c6c6c" stroke="#4e4e4e" stroke-width="3.5" opacity=".9"/><ellipse cx="590" cy="620" rx="25" ry="35" transform="rotate(30 590 620)" fill="#6c6c6c" stroke="#4e4e4e" stroke-width="3.5" opacity=".9"/><ellipse cx="180" cy="1000" rx="60" ry="25" transform="rotate(-50 180 1000)" fill="#6c6c6c" stroke="#4e4e4e" stroke-width="3.5" opacity=".9"/><ellipse cx="250" cy="1010" rx="30" ry="45" transform="rotate(20 250 1010)" fill="#6c6c6c" stroke="#4e4e4e" stroke-width="3.5" opacity=".9"/><ellipse cx="420" cy="900" rx="90" ry="30" transform="rotate(-25 420 900)" fill="#6c6c6c" stroke="#4e4e4e" stroke-width="3.5" opacity=".9"/><ellipse cx="380" cy="1010" rx="80" ry="45" transform="rotate(10 380 1010)" fill="#6c6c6c" stroke="#4e4e4e" stroke-width="3.5" opacity=".9"/><ellipse cx="560" cy="1010" rx="90" ry="20" transform="rotate(-35 560 1010)" fill="#6c6c6c" stroke="#4e4e4e" stroke-width="3.5" opacity=".9"/><ellipse cx="1790" cy="790" rx="25" ry="30" fill="#6c6c6c" stroke="#4e4e4e" stroke-width="3.5" opacity=".9"/><ellipse cx="1500" cy="120" rx="20" ry="30" fill="#6c6c6c" stroke="#4e4e4e" stroke-width="3.5" opacity=".9"/><ellipse cx="1640" cy="480" rx="45" ry="30" transform="rotate(30 1640 480)" fill="#6c6c6c" stroke="#4e4e4e" stroke-width="3.5" opacity=".9"/><ellipse cx="1600" cy="460" rx="25" ry="25" fill="#6c6c6c" stroke="#4e4e4e" stroke-width="3.5" opacity=".9"/><ellipse cx="120" cy="1090" rx="40" ry="20" fill="#6c6c6c" stroke="#4e4e4e" stroke-width="3.5" opacity=".9"/><ellipse cx="180" cy="1180" rx="35" ry="25" fill="#6c6c6c" stroke="#4e4e4e" stroke-width="3.5" opacity=".9"/><ellipse cx="400" cy="1130" rx="30" ry="25" fill="#6c6c6c" stroke="#4e4e4e" stroke-width="3.5" opacity=".9"/><ellipse cx="610" cy="800" rx="40" ry="20" transform="rotate(-20 610 800)" fill="#6c6c6c" stroke="#4e4e4e" stroke-width="3.5" opacity=".9"/><ellipse cx="454" cy="1159" rx="24" ry="7" transform="rotate(-67 454 1159)" fill="#7a7a7a" stroke="#4a4a4a" stroke-width="3.5" opacity="0.7"/><ellipse cx="1472" cy="657" rx="11" ry="9" transform="rotate(-18 1472 657)" fill="#808080" stroke="#4a4a4a" stroke-width="3.5" opacity="0.7"/><ellipse cx="921" cy="311" rx="12" ry="7" transform="rotate(59 921 311)" fill="#7a7a7a" stroke="#4a4a4a" stroke-width="3.5" opacity="0.7"/><ellipse cx="229" cy="996" rx="27" ry="7" transform="rotate(-20 229 996)" fill="#7a7a7a" stroke="#4a4a4a" stroke-width="3.5" opacity="0.7"/><ellipse cx="649" cy="860" rx="23" ry="11" transform="rotate(0 649 860)" fill="#7a7a7a" stroke="#4a4a4a" stroke-width="3.5" opacity="0.7"/><ellipse cx="125" cy="872" rx="27" ry="9" transform="rotate(-63 125 872)" fill="#808080" stroke="#4a4a4a" stroke-width="3.5" opacity="0.7"/><ellipse cx="557" cy="492" rx="13" ry="11" transform="rotate(68 557 492)" fill="#7a7a7a" stroke="#4a4a4a" stroke-width="3.5" opacity="0.7"/><ellipse cx="985" cy="445" rx="23" ry="9" transform="rotate(-26 985 445)" fill="#7a7a7a" stroke="#4a4a4a" stroke-width="3.5" opacity="0.7"/><ellipse cx="597" cy="491" rx="23" ry="11" transform="rotate(-39 597 491)" fill="#7a7a7a" stroke="#4a4a4a" stroke-width="3.5" opacity="0.7"/><ellipse cx="659" cy="1099" rx="14" ry="6" transform="rotate(-37 659 1099)" fill="#808080" stroke="#4a4a4a" stroke-width="3.5" opacity="0.7"/><ellipse cx="1611" cy="293" rx="13" ry="10" transform="rotate(-19 1611 293)" fill="#7a7a7a" stroke="#4a4a4a" stroke-width="3.5" opacity="0.7"/><ellipse cx="411" cy="943" rx="10" ry="11" transform="rotate(-36 411 943)" fill="#808080" stroke="#4a4a4a" stroke-width="3.5" opacity="0.7"/><ellipse cx="1515" cy="726" rx="13" ry="9" transform="rotate(73 1515 726)" fill="#808080" stroke="#4a4a4a" stroke-width="3.5" opacity="0.7"/><ellipse cx="562" cy="205" rx="12" ry="9" transform="rotate(-75 562 205)" fill="#808080" stroke="#4a4a4a" stroke-width="3.5" opacity="0.7"/><ellipse cx="327" cy="1130" rx="13" ry="10" transform="rotate(-2 327 1130)" fill="#7a7a7a" stroke="#4a4a4a" stroke-width="3.5" opacity="0.7"/><ellipse cx="89" cy="254" rx="21" ry="10" transform="rotate(-20 89 254)" fill="#808080" stroke="#4a4a4a" stroke-width="3.5" opacity="0.7"/><ellipse cx="626" cy="503" rx="20" ry="6" transform="rotate(26 626 503)" fill="#7a7a7a" stroke="#4a4a4a" stroke-width="3.5" opacity="0.7"/><ellipse cx="359" cy="471" rx="12" ry="7" transform="rotate(-12 359 471)" fill="#7a7a7a" stroke="#4a4a4a" stroke-width="3.5" opacity="0.7"/><ellipse cx="925" cy="621" rx="12" ry="9" transform="rotate(-62 925 621)" fill="#808080" stroke="#4a4a4a" stroke-width="3.5" opacity="0.7"/><ellipse cx="955" cy="199" rx="21" ry="11" transform="rotate(77 955 199)" fill="#808080" stroke="#4a4a4a" stroke-width="3.5" opacity="0.7"/><ellipse cx="452" cy="317" rx="12" ry="10" transform="rotate(-10 452 317)" fill="#7a7a7a" stroke="#4a4a4a" stroke-width="3.5" opacity="0.7"/><ellipse cx="1486" cy="726" rx="16" ry="8" transform="rotate(0 1486 726)" fill="#7a7a7a" stroke="#4a4a4a" stroke-width="3.5" opacity="0.7"/><ellipse cx="72" cy="774" rx="25" ry="12" transform="rotate(74 72 774)" fill="#808080" stroke="#4a4a4a" stroke-width="3.5" opacity="0.7"/><ellipse cx="449" cy="426" rx="30" ry="8" transform="rotate(9 449 426)" fill="#808080" stroke="#4a4a4a" stroke-width="3.5" opacity="0.7"/><ellipse cx="575" cy="1030" rx="17" ry="12" transform="rotate(-55 575 1030)" fill="#808080" stroke="#4a4a4a" stroke-width="3.5" opacity="0.7"/><ellipse cx="417" cy="537" rx="28" ry="9" transform="rotate(-21 417 537)" fill="#808080" stroke="#4a4a4a" stroke-width="3.5" opacity="0.7"/><ellipse cx="690" cy="570" rx="21" ry="11" transform="rotate(-2 690 570)" fill="#808080" stroke="#4a4a4a" stroke-width="3.5" opacity="0.7"/><ellipse cx="344" cy="648" rx="30" ry="11" transform="rotate(66 344 648)" fill="#808080" stroke="#4a4a4a" stroke-width="3.5" opacity="0.7"/><ellipse cx="1777" cy="402" rx="15" ry="12" transform="rotate(59 1777 402)" fill="#808080" stroke="#4a4a4a" stroke-width="3.5" opacity="0.7"/><ellipse cx="485" cy="370" rx="20" ry="9" transform="rotate(-45 485 370)" fill="#7a7a7a" stroke="#4a4a4a" stroke-width="3.5" opacity="0.7"/><ellipse cx="1475" cy="756" rx="17" ry="11" transform="rotate(59 1475 756)" fill="#7a7a7a" stroke="#4a4a4a" stroke-width="3.5" opacity="0.7"/><ellipse cx="735" cy="820" rx="30" ry="12" transform="rotate(50 735 820)" fill="#7a7a7a" stroke="#4a4a4a" stroke-width="3.5" opacity="0.7"/><ellipse cx="98" cy="310" rx="12" ry="9" transform="rotate(-42 98 310)" fill="#808080" stroke="#4a4a4a" stroke-width="3.5" opacity="0.7"/><ellipse cx="1670" cy="202" rx="27" ry="10" transform="rotate(19 1670 202)" fill="#808080" stroke="#4a4a4a" stroke-width="3.5" opacity="0.7"/><ellipse cx="206" cy="251" rx="30" ry="6" transform="rotate(55 206 251)" fill="#7a7a7a" stroke="#4a4a4a" stroke-width="3.5" opacity="0.7"/><ellipse cx="616" cy="426" rx="17" ry="9" transform="rotate(-26 616 426)" fill="#7a7a7a" stroke="#4a4a4a" stroke-width="3.5" opacity="0.7"/><ellipse cx="816" cy="273" rx="13" ry="10" transform="rotate(71 816 273)" fill="#7a7a7a" stroke="#4a4a4a" stroke-width="3.5" opacity="0.7"/><ellipse cx="234" cy="345" rx="14" ry="10" transform="rotate(-37 234 345)" fill="#7a7a7a" stroke="#4a4a4a" stroke-width="3.5" opacity="0.7"/><ellipse cx="1705" cy="163" rx="14" ry="7" transform="rotate(52 1705 163)" fill="#808080" stroke="#4a4a4a" stroke-width="3.5" opacity="0.7"/><ellipse cx="574" cy="366" rx="12" ry="10" transform="rotate(0 574 366)" fill="#7a7a7a" stroke="#4a4a4a" stroke-width="3.5" opacity="0.7"/><ellipse cx="765" cy="270" rx="27" ry="26" fill="#3c3c3c"/><ellipse cx="755" cy="327" rx="26" ry="20" fill="#505050"/><ellipse cx="1165" cy="378" rx="22" ry="28" fill="#2e2e2e"/><ellipse cx="1550" cy="580" rx="58" ry="52" fill="#555"/><ellipse cx="870" cy="540" rx="30" ry="30" fill="#404040"/><ellipse cx="190" cy="228" rx="16" ry="22" fill="#2c2c2c"/><ellipse cx="335" cy="285" rx="22" ry="22" fill="#505050"/><ellipse cx="1565" cy="693" rx="22" ry="22" fill="#3e3e3e"/><ellipse cx="1403" cy="405" rx="16" ry="22" fill="#404040"/><ellipse cx="825" cy="380" rx="26" ry="20" fill="#4c4c4c"/><ellipse cx="1485" cy="210" rx="11" ry="11" fill="#1c1c1c"/><ellipse cx="1500" cy="265" rx="8" ry="8" fill="#222"/><ellipse cx="960" cy="510" rx="22" ry="18" fill="#444"/><ellipse cx="1660" cy="500" rx="30" ry="30" fill="#666"/><ellipse cx="110" cy="680" rx="18" ry="18" fill="#555"/><ellipse cx="355" cy="1060" rx="10" ry="10" fill="#222"/><ellipse cx="1400" cy="510" rx="12" ry="12" fill="#ddd"/><ellipse cx="795" cy="600" rx="10" ry="10" fill="#ddd"/><ellipse cx="555" cy="95" rx="10" ry="10" fill="#ddd"/><ellipse cx="1520" cy="690" rx="6" ry="6" fill="#ddd"/><path d="M58 55C174 46 427 46 520 55C613 64 478 76 430 90C382 104 388 97 330 110C272 123 245 139 200 140C155 141 186 128 150 115C114 102 81 105 58 90C35 75 -58 64 58 55Z" fill="#ececec"/></g><rect x="553.5" y="914.4" width="405.3" height="266.5" filter="url(#emn3)" style="mix-blend-mode:overlay"/><g transform="translate(540 900) scale(0.23268)"><rect x="148" y="1143" width="167" height="15" fill="#fff"/><path d="M1380.74 360.18L1449.66 273.34L1464.93 285.46L1478 232L1428.9 256.87L1444.18 268.99L1375.26 355.82Z" fill="#ebe347"/></g></g>
<g clip-path="url(#ce4)"><rect x="965.1" y="914.4" width="404.9" height="267.1" fill="#a4a4a4"/><g transform="translate(950 900) scale(0.23268)"><path d="M1815 610C1798 539 1729 706 1700 750C1671 794 1641 855 1620 900C1599 945 1577 1002 1560 1050C1543 1098 1467 1194 1505 1220C1543 1246 1768 1312 1815 1220C1862 1128 1832 681 1815 610Z" fill="#a6a6a6" stroke="#7a7a7a" stroke-width="7"/><ellipse cx="476" cy="180" rx="20" ry="6" transform="rotate(-19 476 180)" fill="#8c8c8c" stroke="#4a4a4a" stroke-width="3.5" opacity="0.8"/><ellipse cx="1021" cy="394" rx="17" ry="9" transform="rotate(88 1021 394)" fill="#8c8c8c" stroke="#4a4a4a" stroke-width="3.5" opacity="0.8"/><ellipse cx="546" cy="260" rx="21" ry="12" transform="rotate(-71 546 260)" fill="#989898" stroke="#4a4a4a" stroke-width="3.5" opacity="0.8"/><ellipse cx="1469" cy="981" rx="24" ry="10" transform="rotate(-55 1469 981)" fill="#989898" stroke="#4a4a4a" stroke-width="3.5" opacity="0.8"/><ellipse cx="713" cy="1032" rx="27" ry="7" transform="rotate(-29 713 1032)" fill="#929292" stroke="#4a4a4a" stroke-width="3.5" opacity="0.8"/><ellipse cx="889" cy="165" rx="41" ry="9" transform="rotate(78 889 165)" fill="#8c8c8c" stroke="#4a4a4a" stroke-width="3.5" opacity="0.8"/><ellipse cx="78" cy="397" rx="24" ry="11" transform="rotate(37 78 397)" fill="#929292" stroke="#4a4a4a" stroke-width="3.5" opacity="0.8"/><ellipse cx="785" cy="750" rx="20" ry="8" transform="rotate(-12 785 750)" fill="#929292" stroke="#4a4a4a" stroke-width="3.5" opacity="0.8"/><ellipse cx="206" cy="593" rx="31" ry="10" transform="rotate(90 206 593)" fill="#989898" stroke="#4a4a4a" stroke-width="3.5" opacity="0.8"/><ellipse cx="662" cy="1207" rx="27" ry="7" transform="rotate(-55 662 1207)" fill="#989898" stroke="#4a4a4a" stroke-width="3.5" opacity="0.8"/><ellipse cx="833" cy="273" rx="33" ry="10" transform="rotate(-12 833 273)" fill="#929292" stroke="#4a4a4a" stroke-width="3.5" opacity="0.8"/><ellipse cx="1639" cy="178" rx="22" ry="11" transform="rotate(-79 1639 178)" fill="#989898" stroke="#4a4a4a" stroke-width="3.5" opacity="0.8"/><ellipse cx="1565" cy="202" rx="24" ry="6" transform="rotate(78 1565 202)" fill="#8c8c8c" stroke="#4a4a4a" stroke-width="3.5" opacity="0.8"/><ellipse cx="1278" cy="1091" rx="37" ry="12" transform="rotate(82 1278 1091)" fill="#929292" stroke="#4a4a4a" stroke-width="3.5" opacity="0.8"/><ellipse cx="627" cy="431" rx="35" ry="11" transform="rotate(-62 627 431)" fill="#989898" stroke="#4a4a4a" stroke-width="3.5" opacity="0.8"/><ellipse cx="1248" cy="151" rx="42" ry="8" transform="rotate(21 1248 151)" fill="#8c8c8c" stroke="#4a4a4a" stroke-width="3.5" opacity="0.8"/><ellipse cx="729" cy="1166" rx="15" ry="6" transform="rotate(-30 729 1166)" fill="#929292" stroke="#4a4a4a" stroke-width="3.5" opacity="0.8"/><ellipse cx="700" cy="985" rx="32" ry="9" transform="rotate(89 700 985)" fill="#929292" stroke="#4a4a4a" stroke-width="3.5" opacity="0.8"/><ellipse cx="803" cy="301" rx="17" ry="7" transform="rotate(-79 803 301)" fill="#989898" stroke="#4a4a4a" stroke-width="3.5" opacity="0.8"/><ellipse cx="1015" cy="731" rx="16" ry="11" transform="rotate(-32 1015 731)" fill="#8c8c8c" stroke="#4a4a4a" stroke-width="3.5" opacity="0.8"/><ellipse cx="1411" cy="532" rx="29" ry="7" transform="rotate(88 1411 532)" fill="#8c8c8c" stroke="#4a4a4a" stroke-width="3.5" opacity="0.8"/><ellipse cx="921" cy="313" rx="34" ry="9" transform="rotate(-10 921 313)" fill="#929292" stroke="#4a4a4a" stroke-width="3.5" opacity="0.8"/><ellipse cx="933" cy="98" rx="22" ry="7" transform="rotate(-44 933 98)" fill="#929292" stroke="#4a4a4a" stroke-width="3.5" opacity="0.8"/><ellipse cx="791" cy="362" rx="42" ry="8" transform="rotate(-31 791 362)" fill="#929292" stroke="#4a4a4a" stroke-width="3.5" opacity="0.8"/><ellipse cx="1789" cy="525" rx="35" ry="11" transform="rotate(72 1789 525)" fill="#989898" stroke="#4a4a4a" stroke-width="3.5" opacity="0.8"/><ellipse cx="135" cy="507" rx="43" ry="9" transform="rotate(-13 135 507)" fill="#929292" stroke="#4a4a4a" stroke-width="3.5" opacity="0.8"/><ellipse cx="651" cy="816" rx="34" ry="11" transform="rotate(54 651 816)" fill="#989898" stroke="#4a4a4a" stroke-width="3.5" opacity="0.8"/><ellipse cx="440" cy="982" rx="25" ry="8" transform="rotate(54 440 982)" fill="#8c8c8c" stroke="#4a4a4a" stroke-width="3.5" opacity="0.8"/><ellipse cx="194" cy="1177" rx="35" ry="6" transform="rotate(83 194 1177)" fill="#989898" stroke="#4a4a4a" stroke-width="3.5" opacity="0.8"/><ellipse cx="287" cy="1174" rx="17" ry="7" transform="rotate(30 287 1174)" fill="#989898" stroke="#4a4a4a" stroke-width="3.5" opacity="0.8"/><ellipse cx="873" cy="604" rx="27" ry="11" transform="rotate(-17 873 604)" fill="#929292" stroke="#4a4a4a" stroke-width="3.5" opacity="0.8"/><ellipse cx="1670" cy="77" rx="18" ry="11" transform="rotate(68 1670 77)" fill="#8c8c8c" stroke="#4a4a4a" stroke-width="3.5" opacity="0.8"/><ellipse cx="1593" cy="694" rx="21" ry="10" transform="rotate(68 1593 694)" fill="#8c8c8c" stroke="#4a4a4a" stroke-width="3.5" opacity="0.8"/><ellipse cx="1489" cy="708" rx="42" ry="9" transform="rotate(51 1489 708)" fill="#929292" stroke="#4a4a4a" stroke-width="3.5" opacity="0.8"/><ellipse cx="124" cy="744" rx="41" ry="10" transform="rotate(-2 124 744)" fill="#929292" stroke="#4a4a4a" stroke-width="3.5" opacity="0.8"/><ellipse cx="137" cy="153" rx="42" ry="8" transform="rotate(68 137 153)" fill="#8c8c8c" stroke="#4a4a4a" stroke-width="3.5" opacity="0.8"/><ellipse cx="1505" cy="160" rx="26" ry="11" transform="rotate(8 1505 160)" fill="#8c8c8c" stroke="#4a4a4a" stroke-width="3.5" opacity="0.8"/><ellipse cx="741" cy="933" rx="27" ry="6" transform="rotate(64 741 933)" fill="#989898" stroke="#4a4a4a" stroke-width="3.5" opacity="0.8"/><ellipse cx="1454" cy="482" rx="27" ry="10" transform="rotate(90 1454 482)" fill="#8c8c8c" stroke="#4a4a4a" stroke-width="3.5" opacity="0.8"/><ellipse cx="181" cy="1074" rx="24" ry="11" transform="rotate(-55 181 1074)" fill="#8c8c8c" stroke="#4a4a4a" stroke-width="3.5" opacity="0.8"/><ellipse cx="271" cy="703" rx="20" ry="10" transform="rotate(-23 271 703)" fill="#8c8c8c" stroke="#4a4a4a" stroke-width="3.5" opacity="0.8"/><ellipse cx="925" cy="451" rx="42" ry="10" transform="rotate(8 925 451)" fill="#929292" stroke="#4a4a4a" stroke-width="3.5" opacity="0.8"/><ellipse cx="1193" cy="201" rx="39" ry="10" transform="rotate(-70 1193 201)" fill="#989898" stroke="#4a4a4a" stroke-width="3.5" opacity="0.8"/><ellipse cx="197" cy="344" rx="26" ry="11" transform="rotate(63 197 344)" fill="#989898" stroke="#4a4a4a" stroke-width="3.5" opacity="0.8"/><ellipse cx="68" cy="123" rx="31" ry="11" transform="rotate(73 68 123)" fill="#989898" stroke="#4a4a4a" stroke-width="3.5" opacity="0.8"/><ellipse cx="597" cy="1058" rx="33" ry="9" transform="rotate(52 597 1058)" fill="#929292" stroke="#4a4a4a" stroke-width="3.5" opacity="0.8"/><ellipse cx="503" cy="747" rx="25" ry="9" transform="rotate(87 503 747)" fill="#989898" stroke="#4a4a4a" stroke-width="3.5" opacity="0.8"/><ellipse cx="315" cy="991" rx="42" ry="8" transform="rotate(-58 315 991)" fill="#989898" stroke="#4a4a4a" stroke-width="3.5" opacity="0.8"/><ellipse cx="1446" cy="837" rx="17" ry="10" transform="rotate(69 1446 837)" fill="#929292" stroke="#4a4a4a" stroke-width="3.5" opacity="0.8"/><ellipse cx="639" cy="489" rx="41" ry="10" transform="rotate(-59 639 489)" fill="#989898" stroke="#4a4a4a" stroke-width="3.5" opacity="0.8"/><ellipse cx="1459" cy="989" rx="20" ry="10" transform="rotate(82 1459 989)" fill="#8c8c8c" stroke="#4a4a4a" stroke-width="3.5" opacity="0.8"/><ellipse cx="1215" cy="1201" rx="43" ry="12" transform="rotate(-76 1215 1201)" fill="#929292" stroke="#4a4a4a" stroke-width="3.5" opacity="0.8"/><ellipse cx="1199" cy="837" rx="34" ry="11" transform="rotate(44 1199 837)" fill="#8c8c8c" stroke="#4a4a4a" stroke-width="3.5" opacity="0.8"/><ellipse cx="1549" cy="852" rx="22" ry="9" transform="rotate(69 1549 852)" fill="#929292" stroke="#4a4a4a" stroke-width="3.5" opacity="0.8"/><ellipse cx="604" cy="326" rx="34" ry="12" transform="rotate(-31 604 326)" fill="#8c8c8c" stroke="#4a4a4a" stroke-width="3.5" opacity="0.8"/><ellipse cx="946" cy="1175" rx="28" ry="10" transform="rotate(-34 946 1175)" fill="#8c8c8c" stroke="#4a4a4a" stroke-width="3.5" opacity="0.8"/><ellipse cx="385" cy="682" rx="33" ry="8" transform="rotate(35 385 682)" fill="#8c8c8c" stroke="#4a4a4a" stroke-width="3.5" opacity="0.8"/><ellipse cx="1149" cy="241" rx="44" ry="12" transform="rotate(-78 1149 241)" fill="#8c8c8c" stroke="#4a4a4a" stroke-width="3.5" opacity="0.8"/><ellipse cx="1116" cy="420" rx="23" ry="7" transform="rotate(-74 1116 420)" fill="#8c8c8c" stroke="#4a4a4a" stroke-width="3.5" opacity="0.8"/><ellipse cx="324" cy="336" rx="43" ry="7" transform="rotate(-36 324 336)" fill="#989898" stroke="#4a4a4a" stroke-width="3.5" opacity="0.8"/><path d="M1060 90C1069 62 1073 66 1100 75C1127 84 1157 84 1180 130C1203 176 1200 219 1200 280C1200 341 1196 366 1180 400C1164 434 1153 425 1130 430C1107 435 1087 395 1080 420C1073 445 1105 502 1100 540C1095 578 1083 581 1060 590C1037 599 1023 569 1000 580C977 591 983 631 960 640C937 649 918 643 900 620C882 597 882 585 880 540C878 495 872 472 890 420C908 368 924 339 960 310C996 281 1027 315 1050 290C1073 265 1058 245 1060 200C1062 155 1051 118 1060 90Z" fill="#f0f0f0" stroke="#8a8a8a" stroke-width="4"/><path d="M250 345C278 331 282 329 300 350C318 371 352 422 340 450C328 478 276 474 240 490C204 506 182 532 160 530C138 528 130 502 130 480C130 458 136 447 160 420C184 393 222 359 250 345Z" fill="#e4e4e4"/><ellipse cx="905" cy="80" rx="18" ry="30" fill="#f4f4f4"/><ellipse cx="870" cy="610" rx="20" ry="30" fill="#e8e8e8"/><ellipse cx="115" cy="720" rx="32" ry="72" transform="rotate(-30 115 720)" fill="#686868" stroke="#505050" stroke-width="3" opacity=".92"/><ellipse cx="1535" cy="125" rx="52" ry="40" transform="rotate(-20 1535 125)" fill="#686868" stroke="#505050" stroke-width="3" opacity=".92"/><ellipse cx="1420" cy="230" rx="25" ry="45" transform="rotate(10 1420 230)" fill="#686868" stroke="#505050" stroke-width="3" opacity=".92"/><ellipse cx="1490" cy="210" rx="20" ry="30" transform="rotate(-20 1490 210)" fill="#686868" stroke="#505050" stroke-width="3" opacity=".92"/><ellipse cx="1585" cy="355" rx="30" ry="40" transform="rotate(-20 1585 355)" fill="#686868" stroke="#505050" stroke-width="3" opacity=".92"/><ellipse cx="1640" cy="295" rx="25" ry="35" transform="rotate(-20 1640 295)" fill="#686868" stroke="#505050" stroke-width="3" opacity=".92"/><ellipse cx="1690" cy="400" rx="25" ry="35" transform="rotate(-20 1690 400)" fill="#686868" stroke="#505050" stroke-width="3" opacity=".92"/><ellipse cx="1550" cy="525" rx="25" ry="60" transform="rotate(-5 1550 525)" fill="#686868" stroke="#505050" stroke-width="3" opacity=".92"/><ellipse cx="1420" cy="600" rx="55" ry="40" fill="#686868" stroke="#505050" stroke-width="3" opacity=".92"/><ellipse cx="1415" cy="690" rx="58" ry="25" transform="rotate(-25 1415 690)" fill="#686868" stroke="#505050" stroke-width="3" opacity=".92"/><ellipse cx="1410" cy="795" rx="35" ry="45" transform="rotate(-20 1410 795)" fill="#686868" stroke="#505050" stroke-width="3" opacity=".92"/><ellipse cx="1465" cy="850" rx="35" ry="40" transform="rotate(20 1465 850)" fill="#686868" stroke="#505050" stroke-width="3" opacity=".92"/><ellipse cx="1260" cy="820" rx="40" ry="30" fill="#686868" stroke="#505050" stroke-width="3" opacity=".92"/><ellipse cx="1290" cy="875" rx="30" ry="25" fill="#686868" stroke="#505050" stroke-width="3" opacity=".92"/><ellipse cx="1185" cy="620" rx="40" ry="50" transform="rotate(-20 1185 620)" fill="#686868" stroke="#505050" stroke-width="3" opacity=".92"/><ellipse cx="1110" cy="680" rx="30" ry="40" transform="rotate(-20 1110 680)" fill="#686868" stroke="#505050" stroke-width="3" opacity=".92"/><ellipse cx="1050" cy="635" rx="35" ry="30" transform="rotate(30 1050 635)" fill="#686868" stroke="#505050" stroke-width="3" opacity=".92"/><ellipse cx="1055" cy="745" rx="30" ry="25" fill="#686868" stroke="#505050" stroke-width="3" opacity=".92"/><ellipse cx="1280" cy="570" rx="25" ry="60" transform="rotate(15 1280 570)" fill="#686868" stroke="#505050" stroke-width="3" opacity=".92"/><ellipse cx="1190" cy="500" rx="25" ry="40" transform="rotate(-30 1190 500)" fill="#686868" stroke="#505050" stroke-width="3" opacity=".92"/><ellipse cx="550" cy="105" rx="25" ry="25" fill="#686868" stroke="#505050" stroke-width="3" opacity=".92"/><ellipse cx="155" cy="1100" rx="30" ry="35" transform="rotate(-40 155 1100)" fill="#686868" stroke="#505050" stroke-width="3" opacity=".92"/><ellipse cx="360" cy="1165" rx="25" ry="35" fill="#686868" stroke="#505050" stroke-width="3" opacity=".92"/><ellipse cx="810" cy="1115" rx="25" ry="40" transform="rotate(-20 810 1115)" fill="#686868" stroke="#505050" stroke-width="3" opacity=".92"/><ellipse cx="720" cy="1130" rx="35" ry="20" transform="rotate(-20 720 1130)" fill="#686868" stroke="#505050" stroke-width="3" opacity=".92"/><ellipse cx="440" cy="990" rx="25" ry="35" transform="rotate(-30 440 990)" fill="#686868" stroke="#505050" stroke-width="3" opacity=".92"/><ellipse cx="110" cy="150" rx="45" ry="40" fill="#686868" stroke="#505050" stroke-width="3" opacity=".92"/><ellipse cx="85" cy="340" rx="25" ry="35" fill="#686868" stroke="#505050" stroke-width="3" opacity=".92"/><ellipse cx="1560" cy="830" rx="25" ry="30" fill="#686868" stroke="#505050" stroke-width="3" opacity=".92"/><ellipse cx="1580" cy="870" rx="28" ry="18" transform="rotate(-20 1580 870)" fill="#686868" stroke="#505050" stroke-width="3" opacity=".92"/><ellipse cx="1480" cy="470" rx="25" ry="20" fill="#686868" stroke="#505050" stroke-width="3" opacity=".92"/><ellipse cx="1200" cy="880" rx="22" ry="18" fill="#686868" stroke="#505050" stroke-width="3" opacity=".92"/><ellipse cx="270" cy="740" rx="15" ry="15" fill="#686868" stroke="#505050" stroke-width="3" opacity=".92"/><ellipse cx="500" cy="610" rx="30" ry="15" transform="rotate(40 500 610)" fill="#686868" stroke="#505050" stroke-width="3" opacity=".92"/><ellipse cx="780" cy="180" rx="20" ry="12" fill="#686868" stroke="#505050" stroke-width="3" opacity=".92"/><ellipse cx="800" cy="405" rx="35" ry="15" transform="rotate(-20 800 405)" fill="#686868" stroke="#505050" stroke-width="3" opacity=".92"/><ellipse cx="30" cy="230" rx="30" ry="30" fill="#686868" stroke="#505050" stroke-width="3" opacity=".92"/><ellipse cx="850" cy="1190" rx="25" ry="20" fill="#686868" stroke="#505050" stroke-width="3" opacity=".92"/><ellipse cx="1560" cy="930" rx="25" ry="15" transform="rotate(-20 1560 930)" fill="#686868" stroke="#505050" stroke-width="3" opacity=".92"/><ellipse cx="1165" cy="800" rx="32" ry="38" fill="#aaa" stroke="#555" stroke-width="9"/><ellipse cx="1510" cy="885" rx="22" ry="25" fill="#c8c8c8"/><ellipse cx="1735" cy="520" rx="14" ry="17" fill="#e8e8e8" stroke="#777" stroke-width="3"/><ellipse cx="450" cy="520" rx="12" ry="14" fill="#e8e8e8" stroke="#777" stroke-width="3"/><ellipse cx="578" cy="968" rx="12" ry="14" fill="#e8e8e8" stroke="#777" stroke-width="3"/><ellipse cx="1045" cy="800" rx="13" ry="16" fill="#e8e8e8" stroke="#777" stroke-width="3"/><ellipse cx="765" cy="1075" rx="10" ry="12" fill="#e8e8e8" stroke="#777" stroke-width="3"/><ellipse cx="395" cy="555" rx="8" ry="10" fill="#e8e8e8" stroke="#777" stroke-width="3"/><ellipse cx="865" cy="745" rx="10" ry="12" fill="#e8e8e8" stroke="#777" stroke-width="3"/><ellipse cx="435" cy="215" rx="40" ry="55" transform="rotate(35 435 215)" fill="#0e0e0e"/><ellipse cx="345" cy="280" rx="55" ry="40" transform="rotate(10 345 280)" fill="#0e0e0e"/><ellipse cx="420" cy="380" rx="70" ry="45" transform="rotate(20 420 380)" fill="#0e0e0e"/><ellipse cx="630" cy="265" rx="40" ry="45" transform="rotate(-20 630 265)" fill="#0e0e0e"/><ellipse cx="535" cy="468" rx="35" ry="35" fill="#0e0e0e"/><ellipse cx="80" cy="455" rx="25" ry="45" fill="#0e0e0e"/><ellipse cx="805" cy="315" rx="22" ry="60" fill="#0e0e0e"/><ellipse cx="775" cy="105" rx="30" ry="35" fill="#0e0e0e"/><ellipse cx="890" cy="285" rx="32" ry="45" transform="rotate(-10 890 285)" fill="#0e0e0e"/><ellipse cx="945" cy="155" rx="60" ry="35" transform="rotate(-25 945 155)" fill="#0e0e0e"/><ellipse cx="1030" cy="105" rx="15" ry="35" fill="#0e0e0e"/><ellipse cx="805" cy="518" rx="35" ry="55" transform="rotate(-30 805 518)" fill="#0e0e0e"/><ellipse cx="740" cy="585" rx="30" ry="62" transform="rotate(5 740 585)" fill="#0e0e0e"/><ellipse cx="790" cy="665" rx="18" ry="20" fill="#0e0e0e"/><ellipse cx="910" cy="725" rx="22" ry="30" fill="#0e0e0e"/><ellipse cx="325" cy="725" rx="22" ry="30" transform="rotate(-20 325 725)" fill="#0e0e0e"/><ellipse cx="1325" cy="255" rx="50" ry="45" transform="rotate(30 1325 255)" fill="#0e0e0e"/><ellipse cx="1385" cy="160" rx="40" ry="35" fill="#0e0e0e"/><ellipse cx="1450" cy="315" rx="50" ry="45" fill="#0e0e0e"/><ellipse cx="1660" cy="180" rx="40" ry="55" transform="rotate(10 1660 180)" fill="#0e0e0e"/><ellipse cx="1750" cy="155" rx="45" ry="65" transform="rotate(-10 1750 155)" fill="#0e0e0e"/><ellipse cx="1735" cy="345" rx="45" ry="40" transform="rotate(20 1735 345)" fill="#0e0e0e"/><ellipse cx="1550" cy="695" rx="35" ry="50" transform="rotate(5 1550 695)" fill="#0e0e0e"/><ellipse cx="1110" cy="955" rx="45" ry="55" transform="rotate(10 1110 955)" fill="#0e0e0e"/><ellipse cx="1190" cy="1035" rx="45" ry="55" transform="rotate(10 1190 1035)" fill="#0e0e0e"/><ellipse cx="1070" cy="1185" rx="25" ry="25" fill="#0e0e0e"/><ellipse cx="990" cy="65" rx="30" ry="12" fill="#0e0e0e"/><ellipse cx="180" cy="965" rx="40" ry="50" fill="#555"/><ellipse cx="175" cy="960" rx="20" ry="30" fill="#e0e0e0"/></g><rect x="965.1" y="914.4" width="404.9" height="267.1" filter="url(#emn4)" style="mix-blend-mode:overlay"/><g transform="translate(950 900) scale(0.23268)"><rect x="150" y="1145" width="170" height="15" fill="#fff"/><path d="M300.77 574.15L367.11 488.65L382.52 500.6L395 447L346.18 472.4L361.58 484.36L295.23 569.85Z" fill="#ebe347"/><path d="M670.74 474.18L736.62 391.32L751.89 403.45L765 350L715.88 374.82L731.14 386.96L665.26 469.82Z" fill="#ebe347"/><path d="M602.75 777.16L669.91 691.51L685.25 703.54L698 650L649.05 675.16L664.4 687.19L597.25 772.84Z" fill="#ebe347"/><path d="M1260.76 464.16L1326.95 379.54L1342.31 391.55L1355 338L1306.08 363.21L1321.44 375.23L1255.24 459.84Z" fill="#ebe347"/><path d="M984.75 1167.16L1051.91 1081.51L1067.25 1093.54L1080 1040L1031.05 1065.16L1046.4 1077.19L979.25 1162.84Z" fill="#ebe347"/></g></g>
<text transform="translate(607.34 619.1) scale(0.8875 1)" font-size="42.64" stroke="#000" stroke-width="0.45">normal-salt diet</text>
<text transform="translate(1042.52 619.1) scale(0.8991 1)" font-size="42.64" stroke="#000" stroke-width="0.45">high-salt diet</text>
<text transform="translate(521.62 577.1) scale(0.9725 1)" font-size="50.23" font-weight="700" fill="#1a1a1a">E</text>
<text transform="translate(1364.98 577.3) scale(0.9623 1)" font-size="49.92" font-weight="700" fill="#1a1a1a">F</text>
<path d="M1362 583L1367.6 583" stroke="#444" stroke-width="1"/>
</g>
<g id="pF">
<g fill="#a9a9a9" stroke="#000" stroke-width="1.2"><circle cx="1591.1" cy="824.92" r="6.6"/><circle cx="1616.47" cy="815.54" r="6.6"/><circle cx="1591.1" cy="845.07" r="6.6"/><circle cx="1616.47" cy="839.51" r="6.6"/><circle cx="1591.1" cy="866.62" r="6.6"/><circle cx="1616.47" cy="876.34" r="6.6"/><circle cx="1603.27" cy="890.94" r="6.6"/><circle cx="1616.47" cy="923.25" r="6.6"/><circle cx="1591.1" cy="930.9" r="6.6"/><circle cx="1616.47" cy="938.89" r="6.6"/><circle cx="1591.1" cy="944.79" r="6.6"/></g>
<g fill="#80184b" stroke="#000" stroke-width="1.2"><circle cx="1660.6" cy="742.22" r="6.6"/><circle cx="1647.74" cy="771.06" r="6.6"/><circle cx="1672.76" cy="774.54" r="6.6"/><circle cx="1647.74" cy="783.22" r="6.6"/><circle cx="1647.74" cy="815.54" r="6.6"/><circle cx="1672.76" cy="815.54" r="6.6"/><circle cx="1672.76" cy="842.99" r="6.6"/><circle cx="1647.74" cy="850.98" r="6.6"/><circle cx="1672.76" cy="919.78" r="6.6"/><circle cx="1647.74" cy="923.95" r="6.6"/></g>
<path d="M1584.27 881.56H1622.27M1603.27 866.62V896.15M1593.77 866.62H1612.77 M1593.77 896.15H1612.77" stroke="#000" stroke-width="1.7" fill="none"/>
<path d="M1641.6 823.88H1679.6M1660.6 804.77V843.34M1651.1 804.77H1670.1 M1651.1 843.34H1670.1" stroke="#000" stroke-width="1.7" fill="none"/>
<path d="M1536.2 649.7V948.2M1536.2 947.3h-8.5M1536.2 848.4h-8.5M1536.2 749.5h-8.5M1536.2 650.6h-8.5" stroke="#000" stroke-width="1.8" fill="none"/>
<text transform="translate(1510.02 957.3) scale(0.8654 1)" font-size="28.39" stroke="#000" stroke-width="0.45">0</text>
<text transform="translate(1510.27 858.4) scale(0.8654 1)" font-size="28.39" stroke="#000" stroke-width="0.45">1</text>
<text transform="translate(1510.39 759.5) scale(0.8654 1)" font-size="28.39" stroke="#000" stroke-width="0.45">2</text>
<text transform="translate(1510.15 660.6) scale(0.8654 1)" font-size="28.39" stroke="#000" stroke-width="0.45">3</text>
<path d="M1566.1 976.1H1697.8M1603.3 976.1v9M1660.6 976.1v9" stroke="#000" stroke-width="1.8" fill="none"/>
<path d="M1603.3 660.9L1660.6 660.9" stroke="#000" stroke-width="2.1"/>
<text transform="translate(1610.5 650.5) scale(0.8183 1)" font-size="24.44" stroke="#000" stroke-width="0.15">0.04</text>
<text transform="translate(1559.84 612.3) scale(0.9516 1)" font-size="36.92" stroke="#000" stroke-width="0.2">CTNNB1</text>
<text transform="translate(1577.08 1015.3) scale(0.8257 1)" font-size="29.12" stroke="#000" stroke-width="0.45">NSD HSD</text>
<text transform="translate(1462.8 863.03) rotate(-90) scale(0.8700 1)" font-size="30.68" stroke="#000" stroke-width="0.45">protein level</text>
<text transform="translate(1499.3 1006.55) rotate(-90) scale(0.7689 1)" font-size="31.51" stroke="#000" stroke-width="0.45">(normalized to ACTB and mean of NSD)</text>
<rect x="1552.88" y="1098.72" width="90.34" height="12.16" fill="#7c7c7c" filter="url(#bl)"/>
<rect x="1656.43" y="1095.25" width="91.04" height="17.37" fill="#5a5a5a" filter="url(#bl)"/>
<rect x="1553.93" y="1150.84" width="91.04" height="18.07" fill="#222" filter="url(#bl)"/>
<rect x="1657.82" y="1150.15" width="90.69" height="13.55" fill="#5e5e5e" filter="url(#bl)"/>
<rect x="1539" y="1079.6" width="224.8" height="47.6" fill="none" stroke="#1a1a1a" stroke-width="1.9"/>
<rect x="1539" y="1133.1" width="224.8" height="47.3" fill="none" stroke="#1a1a1a" stroke-width="1.9"/>
<text transform="translate(1568.27 1073.4) scale(0.8702 1)" font-size="29.12" stroke="#000" stroke-width="0.45">NSD</text>
<text transform="translate(1678.78 1073.4) scale(0.8650 1)" font-size="29.12" stroke="#000" stroke-width="0.45">HSD</text>
<text transform="translate(1777.48 1111.6) scale(0.8346 1)" font-size="29.12" stroke="#000" stroke-width="0.45">CTNNB1</text>
<text transform="translate(1778 1165.4) scale(0.8405 1)" font-size="29.12" stroke="#000" stroke-width="0.45">ACTB</text>
<text transform="translate(1495.57 1092.47) scale(0.9251 1)" font-size="15.08" fill="#222">95</text>
<text transform="translate(1495.93 1181.07) scale(0.8988 1)" font-size="15.08" fill="#222">40</text>
<path d="M1518.83 1090.03L1538.29 1089.34" stroke="#333" stroke-width="0.8"/>
<path d="M1518.83 1178.99L1538.29 1178.29" stroke="#333" stroke-width="0.8"/>
</g>
<g id="pG">
<rect x="196.7" y="1328.3" width="59.7" height="46" fill="#f3e6e6" stroke="#000" stroke-width="1"/>
<rect x="256.4" y="1328.3" width="60.3" height="46" fill="#e8edf2" stroke="#000" stroke-width="1"/>
<rect x="196.7" y="1374.3" width="59.7" height="46" fill="#dfc0c3" stroke="#000" stroke-width="1"/>
<rect x="256.4" y="1374.3" width="60.3" height="46" fill="#c5d5e5" stroke="#000" stroke-width="1"/>
<rect x="196.7" y="1420.3" width="59.7" height="46" fill="#b5c9dd" stroke="#000" stroke-width="1"/>
<rect x="256.4" y="1420.3" width="60.3" height="46" fill="#cfa5a8" stroke="#000" stroke-width="1"/>
<rect x="196.7" y="1466.3" width="59.7" height="46" fill="#4a70a3" stroke="#000" stroke-width="1"/>
<rect x="256.4" y="1466.3" width="60.3" height="46" fill="#9a3036" stroke="#000" stroke-width="1"/>
<rect x="196.7" y="1512.3" width="59.7" height="46" fill="#7092ba" stroke="#000" stroke-width="1"/>
<rect x="256.4" y="1512.3" width="60.3" height="46" fill="#b2626a" stroke="#000" stroke-width="1"/>
<rect x="196.7" y="1558.3" width="59.7" height="46" fill="#f1f3f5" stroke="#000" stroke-width="1"/>
<rect x="256.4" y="1558.3" width="60.3" height="46" fill="#f5f0f0" stroke="#000" stroke-width="1"/>
<rect x="196.7" y="1604.3" width="59.7" height="46" fill="#344f8c" stroke="#000" stroke-width="1"/>
<rect x="256.4" y="1604.3" width="60.3" height="46" fill="#871c19" stroke="#000" stroke-width="1"/>
<rect x="196.7" y="1650.3" width="59.7" height="46" fill="#c07b82" stroke="#000" stroke-width="1"/>
<rect x="256.4" y="1650.3" width="60.3" height="46" fill="#8aa6c8" stroke="#000" stroke-width="1"/>
<rect x="196.7" y="1696.3" width="59.7" height="46" fill="#7092ba" stroke="#000" stroke-width="1"/>
<rect x="256.4" y="1696.3" width="60.3" height="46" fill="#b2626a" stroke="#000" stroke-width="1"/>
<rect x="196.7" y="1742.3" width="59.7" height="46" fill="#eddfdf" stroke="#000" stroke-width="1"/>
<rect x="256.4" y="1742.3" width="60.3" height="46" fill="#e1e8f0" stroke="#000" stroke-width="1"/>
<rect x="196.7" y="1788.3" width="59.7" height="46" fill="#41669e" stroke="#000" stroke-width="1"/>
<rect x="256.4" y="1788.3" width="60.3" height="46" fill="#962528" stroke="#000" stroke-width="1"/>
<rect x="196.7" y="1834.3" width="59.7" height="46" fill="#f1f2f3" stroke="#000" stroke-width="1"/>
<rect x="256.4" y="1834.3" width="60.3" height="46" fill="#f4efee" stroke="#000" stroke-width="1"/>
<rect x="196.7" y="1880.3" width="59.7" height="46" fill="#7b9ac0" stroke="#000" stroke-width="1"/>
<rect x="256.4" y="1880.3" width="60.3" height="46" fill="#b76d74" stroke="#000" stroke-width="1"/>
<rect x="196.7" y="1926.3" width="59.7" height="46" fill="#456aa0" stroke="#000" stroke-width="1"/>
<rect x="256.4" y="1926.3" width="60.3" height="46" fill="#972a2e" stroke="#000" stroke-width="1"/>
<rect x="196.7" y="1972.3" width="59.7" height="46" fill="#6f92ba" stroke="#000" stroke-width="1"/>
<rect x="256.4" y="1972.3" width="60.3" height="46" fill="#b3636a" stroke="#000" stroke-width="1"/>
<rect x="196.7" y="1328.3" width="120" height="690" fill="none" stroke="#000" stroke-width="1.8"/>
<text transform="translate(107 1362.9) scale(0.8465 1)" font-size="33.28" stroke="#000" stroke-width="0.45">Atg2b</text>
<text transform="translate(123.1 1408.9) scale(0.8437 1)" font-size="33.28" stroke="#000" stroke-width="0.45">Atg7</text>
<text transform="translate(123.1 1454.9) scale(0.8396 1)" font-size="33.28" stroke="#000" stroke-width="0.45">Atg3</text>
<text transform="translate(117.39 1500.9) scale(0.8488 1)" font-size="33.28" font-weight="700">Atg5</text>
<text transform="translate(277.42 1512.03) scale(0.9135 1)" font-size="50.96" font-weight="700">*</text>
<text transform="translate(78.5 1546.9) scale(0.8457 1)" font-size="33.28" font-weight="700">Atg16l1</text>
<text transform="translate(277.42 1563.53) scale(0.9135 1)" font-size="50.96" font-weight="700">*</text>
<text transform="translate(107.8 1592.9) scale(0.8371 1)" font-size="33.28" stroke="#000" stroke-width="0.45">Atg4b</text>
<text transform="translate(102.09 1638.9) scale(0.8493 1)" font-size="33.28" font-weight="700">Atg12</text>
<text transform="translate(277.42 1652.53) scale(0.9135 1)" font-size="50.96" font-weight="700">*</text>
<text transform="translate(91.7 1684.9) scale(0.8433 1)" font-size="33.28" stroke="#000" stroke-width="0.45">Atg101</text>
<text transform="translate(107.5 1730.9) scale(0.8278 1)" font-size="33.28" stroke="#000" stroke-width="0.45">Atg2a</text>
<text transform="translate(107.5 1776.9) scale(0.8278 1)" font-size="33.28" stroke="#000" stroke-width="0.45">Atg4a</text>
<text transform="translate(50.85 1822.9) scale(0.8555 1)" font-size="33.28" font-weight="700">Map1lc3b</text>
<text transform="translate(277.42 1841.03) scale(0.9135 1)" font-size="50.96" font-weight="700">*</text>
<text transform="translate(109.88 1868.9) scale(0.8509 1)" font-size="33.28" stroke="#000" stroke-width="0.45">ULK1</text>
<text transform="translate(70.89 1914.9) scale(0.8469 1)" font-size="33.28" stroke="#000" stroke-width="0.45">Gabarap</text>
<text transform="translate(3.25 1960.9) scale(0.8496 1)" font-size="33.28" font-weight="700">Sqstm1 (p62)</text>
<text transform="translate(277.42 1974.03) scale(0.9135 1)" font-size="50.96" font-weight="700">*</text>
<text transform="translate(109.24 2006.9) scale(0.8416 1)" font-size="33.28" stroke="#000" stroke-width="0.45">TFEB</text>
<path d="M185 1351.3H196.7M185 1397.3H196.7M185 1443.3H196.7M185 1489.3H196.7M185 1535.3H196.7M185 1581.3H196.7M185 1627.3H196.7M185 1673.3H196.7M185 1719.3H196.7M185 1765.3H196.7M185 1811.3H196.7M185 1857.3H196.7M185 1903.3H196.7M185 1949.3H196.7M185 1995.3H196.7" stroke="#000" stroke-width="2.2" fill="none"/>
<path d="M226 1317.8V1328.3M286.3 1317.8V1328.3" stroke="#000" stroke-width="1.6" fill="none"/>
<text transform="translate(194.99 1304.5) scale(0.8728 1)" font-size="33.07" stroke="#000" stroke-width="0.45">NSDHSD</text>
<rect x="339.6" y="1329.8" width="37.6" height="115" fill="url(#zg)" stroke="#222" stroke-width="1.2"/>
<path d="M339.6 1352.6h5 M377.2 1352.6h-5M339.6 1387.3h5 M377.2 1387.3h-5M339.6 1422h5 M377.2 1422h-5" stroke="#222" stroke-width="1.2" fill="none"/>
<text transform="translate(389.43 1361) scale(1.1115 1)" font-size="21.84" stroke="#000" stroke-width="0.2">0.5</text>
<text transform="translate(389.43 1395.1) scale(1.1065 1)" font-size="21.84" stroke="#000" stroke-width="0.2">0</text>
<text transform="translate(389.11 1430.7) scale(1.1090 1)" font-size="21.84" stroke="#000" stroke-width="0.2">-0.5</text>
<text transform="translate(336.46 1461.8) scale(0.9683 1)" font-size="16.64" stroke="#000" stroke-width="0.2">z-score</text>
<text transform="translate(13.33 1276.1) scale(0.9821 1)" font-size="50.23" font-weight="700" fill="#1a1a1a">G</text>
</g>
<g id="pH">
<g fill="#a9a9a9" stroke="#000" stroke-width="1.2"><circle cx="708.08" cy="1568.08" r="6.6"/><circle cx="695.36" cy="1587.41" r="6.6"/><circle cx="709.6" cy="1584.86" r="6.6"/><circle cx="724.35" cy="1592.49" r="6.6"/><circle cx="691.29" cy="1612.84" r="6.6"/><circle cx="709.6" cy="1617.42" r="6.6"/><circle cx="724.35" cy="1620.47" r="6.6"/><circle cx="705.53" cy="1631.66" r="6.6"/><circle cx="708.08" cy="1639.29" r="6.6"/><circle cx="708.08" cy="1678.96" r="6.6"/></g>
<g fill="#80184b" stroke="#000" stroke-width="1.2"><circle cx="774.2" cy="1455.16" r="6.6"/><circle cx="774.2" cy="1508.06" r="6.6"/><circle cx="774.2" cy="1546.71" r="6.6"/><circle cx="758.94" cy="1561.46" r="6.6"/><circle cx="788.44" cy="1550.27" r="6.6"/><circle cx="788.44" cy="1570.62" r="6.6"/><circle cx="774.2" cy="1559.43" r="6.6"/><circle cx="780.31" cy="1589.44" r="6.6"/><circle cx="766.57" cy="1601.14" r="6.6"/></g>
<path d="M686.59 1612.33H730.59M708.59 1601.14V1623.01M697.59 1601.14H719.59 M697.59 1623.01H719.59" stroke="#000" stroke-width="1.7" fill="none"/>
<path d="M752.2 1548.75H796.2M774.2 1534V1563.5M763.2 1534H785.2 M763.2 1563.5H785.2" stroke="#000" stroke-width="1.7" fill="none"/>
<path d="M632.8 1376.4V1716.4M632.8 1377.3h-8.5M632.8 1461.85h-8.5M632.8 1546.4h-8.5M632.8 1630.95h-8.5M632.8 1715.5h-8.5" stroke="#000" stroke-width="1.8" fill="none"/>
<text transform="translate(578.52 1387.3) scale(0.8462 1)" font-size="28.39" stroke="#000" stroke-width="0.45">-8.0</text>
<text transform="translate(578.64 1471.85) scale(0.8462 1)" font-size="28.39" stroke="#000" stroke-width="0.45">-8.5</text>
<text transform="translate(578.52 1556.4) scale(0.8462 1)" font-size="28.39" stroke="#000" stroke-width="0.45">-9.0</text>
<text transform="translate(578.64 1640.95) scale(0.8462 1)" font-size="28.39" stroke="#000" stroke-width="0.45">-9.5</text>
<text transform="translate(565.07 1725.5) scale(0.8462 1)" font-size="28.39" stroke="#000" stroke-width="0.45">-10.0</text>
<path d="M665.9 1746.1H817.4M708 1746.1v9M773.2 1746.1v9" stroke="#000" stroke-width="1.8" fill="none"/>
<path d="M708 1403.8L774.2 1403.8" stroke="#000" stroke-width="2.1"/>
<text transform="translate(710.63 1391.1) scale(0.9338 1)" font-size="26">0.004</text>
<text transform="translate(665.38 1316.3) scale(0.8420 1)" font-size="40.56" font-style="italic" stroke="#000" stroke-width="0.45">Map1lc3b</text>
<text transform="translate(678.9 1791.9) scale(0.8515 1)" font-size="32.24" stroke="#000" stroke-width="0.45">NSD HSD</text>
<text transform="translate(502 1709.32) rotate(-90) scale(0.9071 1)" font-size="36.4" stroke="#000" stroke-width="0.45">gene expression (-dCT)</text>
<text transform="translate(545.3 1678.37) rotate(-90) scale(0.8822 1)" font-size="34.32" stroke="#000" stroke-width="0.45">normalized to ß-actin</text>
<g fill="#a9a9a9" stroke="#000" stroke-width="1.2"><circle cx="1126.19" cy="1601.14" r="6.6"/><circle cx="1117.54" cy="1621.49" r="6.6"/><circle cx="1130.25" cy="1630.64" r="6.6"/><circle cx="1123.64" cy="1636.74" r="6.6"/><circle cx="1114.99" cy="1641.83" r="6.6"/><circle cx="1132.8" cy="1646.92" r="6.6"/><circle cx="1121.1" cy="1654.55" r="6.6"/><circle cx="1112.45" cy="1662.18" r="6.6"/><circle cx="1127.71" cy="1664.72" r="6.6"/><circle cx="1137.88" cy="1661.16" r="6.6"/><circle cx="1116.01" cy="1673.88" r="6.6"/><circle cx="1135.34" cy="1674.89" r="6.6"/><circle cx="1125.17" cy="1687.61" r="6.6"/><circle cx="1122.62" cy="1700.33" r="6.6"/></g>
<g fill="#80184b" stroke="#000" stroke-width="1.2"><circle cx="1192.31" cy="1411.92" r="6.6"/><circle cx="1206.55" cy="1493.31" r="6.6"/><circle cx="1192.31" cy="1502.97" r="6.6"/><circle cx="1192.31" cy="1560.45" r="6.6"/><circle cx="1192.31" cy="1579.78" r="6.6"/><circle cx="1177.56" cy="1640.81" r="6.6"/><circle cx="1206.55" cy="1633.18" r="6.6"/><circle cx="1192.31" cy="1643.36" r="6.6"/><circle cx="1177.56" cy="1666.25" r="6.6"/><circle cx="1192.31" cy="1662.18" r="6.6"/><circle cx="1206.55" cy="1673.88" r="6.6"/><circle cx="1198.92" cy="1689.14" r="6.6"/><circle cx="1183.66" cy="1695.24" r="6.6"/></g>
<path d="M1103.68 1657.09H1147.68M1125.68 1649.46V1663.7M1114.68 1649.46H1136.68 M1114.68 1663.7H1136.68" stroke="#000" stroke-width="1.7" fill="none"/>
<path d="M1170.31 1605.21H1214.31M1192.31 1583.34V1628.1M1181.31 1583.34H1203.31 M1181.31 1628.1H1203.31" stroke="#000" stroke-width="1.7" fill="none"/>
<path d="M1047.9 1371.32V1716.5M1047.9 1715.6h-8.5M1047.9 1601.14h-8.5M1047.9 1486.68h-8.5M1047.9 1372.22h-8.5" stroke="#000" stroke-width="1.8" fill="none"/>
<text transform="translate(1021.18 1726.6) scale(0.8269 1)" font-size="31.2" stroke="#000" stroke-width="0.45">0</text>
<text transform="translate(1021.57 1612.14) scale(0.8269 1)" font-size="31.2" stroke="#000" stroke-width="0.45">2</text>
<text transform="translate(1021.05 1497.68) scale(0.8269 1)" font-size="31.2" stroke="#000" stroke-width="0.45">4</text>
<text transform="translate(1021.31 1383.22) scale(0.8269 1)" font-size="31.2" stroke="#000" stroke-width="0.45">6</text>
<path d="M1081.9 1747.1H1237.1M1125.2 1747.1v9M1191.3 1747.1v9" stroke="#000" stroke-width="1.8" fill="none"/>
<path d="M1125.2 1399.2L1192.3 1399.2" stroke="#000" stroke-width="2.1"/>
<text transform="translate(1135.41 1386.5) scale(0.9477 1)" font-size="26">0.04</text>
<text transform="translate(1058.84 1316.3) scale(0.8716 1)" font-size="39.52" stroke="#000" stroke-width="0.45">MAP1LC3B</text>
<text transform="translate(1094.97 1791.9) scale(0.8657 1)" font-size="32.24" stroke="#000" stroke-width="0.45">NSD HSD</text>
<text transform="translate(971.5 1617.4) rotate(-90) scale(0.8699 1)" font-size="35.36" stroke="#000" stroke-width="0.45">protein level</text>
<text transform="translate(1010.7 1784.88) rotate(-90) scale(0.7907 1)" font-size="35.36" stroke="#000" stroke-width="0.45">(normalized to ACTB and mean of NSD)</text>
<rect x="1060.52" y="1895.32" width="90.91" height="9.35" fill="#cacaca" filter="url(#bl)"/>
<rect x="1163.9" y="1891.95" width="91.43" height="18.7" fill="#7c7c7c" filter="url(#bl)"/>
<rect x="1064.42" y="1951.17" width="92.21" height="11.95" fill="#3a3a3a" filter="url(#bl)"/>
<rect x="1167.79" y="1955.06" width="88.83" height="13.77" fill="#383838" filter="url(#bl)"/>
<rect x="1043.1" y="1875.8" width="232.5" height="49.4" fill="none" stroke="#1a1a1a" stroke-width="1.9"/>
<rect x="1043.1" y="1932.5" width="232.5" height="49.3" fill="none" stroke="#1a1a1a" stroke-width="1.9"/>
<text transform="translate(1074.04 1869.6) scale(0.8267 1)" font-size="31.2" stroke="#000" stroke-width="0.45">NSD</text>
<text transform="translate(1187.86 1869.6) scale(0.8170 1)" font-size="31.2" stroke="#000" stroke-width="0.45">HSD</text>
<text transform="translate(1288.34 1909.1) scale(0.8538 1)" font-size="30.16" stroke="#000" stroke-width="0.45">MAP1LC3B</text>
<text transform="translate(1290.4 1965.7) scale(0.8330 1)" font-size="30.16" stroke="#000" stroke-width="0.45">ACTB</text>
<text transform="translate(998.42 1888.3) scale(0.9530 1)" font-size="15.08" fill="#222">15</text>
<text transform="translate(999.23 1980.5) scale(0.8988 1)" font-size="15.08" fill="#222">40</text>
<path d="M1022.86 1885.45L1043.12 1884.94" stroke="#333" stroke-width="0.8"/>
<path d="M1022.86 1978.96L1043.12 1978.44" stroke="#333" stroke-width="0.8"/>
<text transform="translate(429.43 1276.8) scale(0.9881 1)" font-size="49.4" font-weight="700" fill="#1a1a1a">H</text>
</g>
<g id="pI">
<rect x="1553.3" y="1329.3" width="66.2" height="48.91" fill="#4a70a3" stroke="#000" stroke-width="1"/>
<rect x="1619.5" y="1329.3" width="67.4" height="48.91" fill="#9a3036" stroke="#000" stroke-width="1"/>
<rect x="1553.3" y="1378.21" width="66.2" height="48.91" fill="#a9bfd8" stroke="#000" stroke-width="1"/>
<rect x="1619.5" y="1378.21" width="67.4" height="48.91" fill="#c99a9e" stroke="#000" stroke-width="1"/>
<rect x="1553.3" y="1427.12" width="66.2" height="48.91" fill="#d6b1b5" stroke="#000" stroke-width="1"/>
<rect x="1619.5" y="1427.12" width="67.4" height="48.91" fill="#b7cade" stroke="#000" stroke-width="1"/>
<rect x="1553.3" y="1476.03" width="66.2" height="48.91" fill="#38578f" stroke="#000" stroke-width="1"/>
<rect x="1619.5" y="1476.03" width="67.4" height="48.91" fill="#8a1d1a" stroke="#000" stroke-width="1"/>
<rect x="1553.3" y="1524.94" width="66.2" height="48.91" fill="#cddbe9" stroke="#000" stroke-width="1"/>
<rect x="1619.5" y="1524.94" width="67.4" height="48.91" fill="#e2c9cb" stroke="#000" stroke-width="1"/>
<rect x="1553.3" y="1573.85" width="66.2" height="48.91" fill="#385a94" stroke="#000" stroke-width="1"/>
<rect x="1619.5" y="1573.85" width="67.4" height="48.91" fill="#8c1e1c" stroke="#000" stroke-width="1"/>
<rect x="1553.3" y="1622.76" width="66.2" height="48.91" fill="#3d5e96" stroke="#000" stroke-width="1"/>
<rect x="1619.5" y="1622.76" width="67.4" height="48.91" fill="#8f1f1e" stroke="#000" stroke-width="1"/>
<rect x="1553.3" y="1671.67" width="66.2" height="48.91" fill="#fafafa" stroke="#000" stroke-width="1"/>
<rect x="1619.5" y="1671.67" width="67.4" height="48.91" fill="#fcfafa" stroke="#000" stroke-width="1"/>
<rect x="1553.3" y="1720.58" width="66.2" height="48.91" fill="#37528d" stroke="#000" stroke-width="1"/>
<rect x="1619.5" y="1720.58" width="67.4" height="48.91" fill="#861c18" stroke="#000" stroke-width="1"/>
<rect x="1553.3" y="1769.49" width="66.2" height="48.91" fill="#7b9bc0" stroke="#000" stroke-width="1"/>
<rect x="1619.5" y="1769.49" width="67.4" height="48.91" fill="#b66c74" stroke="#000" stroke-width="1"/>
<rect x="1553.3" y="1818.4" width="66.2" height="50.7" fill="#d9b7ba" stroke="#000" stroke-width="1"/>
<rect x="1619.5" y="1818.4" width="67.4" height="50.7" fill="#bccde0" stroke="#000" stroke-width="1"/>
<rect x="1553.3" y="1869.1" width="66.2" height="48.5" fill="#eedfe0" stroke="#000" stroke-width="1"/>
<rect x="1619.5" y="1869.1" width="67.4" height="48.5" fill="#dfe6f0" stroke="#000" stroke-width="1"/>
<rect x="1553.3" y="1917.6" width="66.2" height="48.9" fill="#fcfcfc" stroke="#000" stroke-width="1"/>
<rect x="1619.5" y="1917.6" width="67.4" height="48.9" fill="#fdfdfd" stroke="#000" stroke-width="1"/>
<rect x="1553.3" y="1329.3" width="133.6" height="637.2" fill="none" stroke="#000" stroke-width="2.2"/>
<text transform="translate(1442.92 1364.86) scale(0.8471 1)" font-size="30.89" stroke="#000" stroke-width="0.45">Slc45a2</text>
<text transform="translate(1643.99 1376.44) scale(0.9135 1)" font-size="48.88" font-weight="700">*</text>
<text transform="translate(1494.43 1413.76) scale(0.8373 1)" font-size="30.89" stroke="#000" stroke-width="0.45">Mitf</text>
<text transform="translate(1463.13 1462.67) scale(0.8449 1)" font-size="30.89" stroke="#000" stroke-width="0.45">Sox10</text>
<text transform="translate(1476.36 1511.59) scale(0.8648 1)" font-size="30.89" stroke="#000" stroke-width="0.45">Pax3</text>
<text transform="translate(1643.99 1526.67) scale(0.9135 1)" font-size="48.88" font-weight="700">*</text>
<text transform="translate(1476.33 1560.49) scale(0.8770 1)" font-size="30.89" stroke="#000" stroke-width="0.45">Pmel</text>
<text transform="translate(1496.89 1609.4) scale(0.8541 1)" font-size="30.89" stroke="#000" stroke-width="0.45">Dct</text>
<text transform="translate(1643.99 1624.49) scale(0.9135 1)" font-size="48.88" font-weight="700">*</text>
<text transform="translate(1444.81 1658.32) scale(0.8453 1)" font-size="30.89" stroke="#000" stroke-width="0.45">Rab27a</text>
<text transform="translate(1643.99 1670.6) scale(0.9135 1)" font-size="48.88" font-weight="700">*</text>
<text transform="translate(1461.59 1707.22) scale(0.8490 1)" font-size="30.89" stroke="#000" stroke-width="0.45">Cited1</text>
<text transform="translate(1501.39 1756.13) scale(0.8226 1)" font-size="30.89" stroke="#000" stroke-width="0.45">Tyr</text>
<text transform="translate(1643.99 1773.72) scale(0.9135 1)" font-size="48.88" font-weight="700">*</text>
<text transform="translate(1452.69 1805.04) scale(0.8502 1)" font-size="30.89" stroke="#000" stroke-width="0.45">Ctnnb1</text>
<text transform="translate(1451.88 1854.85) scale(0.8598 1)" font-size="30.89" stroke="#000" stroke-width="0.45">Hmga2</text>
<text transform="translate(1460.78 1904.45) scale(0.8583 1)" font-size="30.89" stroke="#000" stroke-width="0.45">Hspa9</text>
<text transform="translate(1457.02 1953.15) scale(0.8517 1)" font-size="30.89" stroke="#000" stroke-width="0.45">Slc2a1</text>
<path d="M1541.6 1353.76H1553.3M1541.6 1402.66H1553.3M1541.6 1451.57H1553.3M1541.6 1500.49H1553.3M1541.6 1549.39H1553.3M1541.6 1598.3H1553.3M1541.6 1647.22H1553.3M1541.6 1696.12H1553.3M1541.6 1745.03H1553.3M1541.6 1793.94H1553.3M1541.6 1843.75H1553.3M1541.6 1893.35H1553.3M1541.6 1942.05H1553.3" stroke="#000" stroke-width="2.2" fill="none"/>
<path d="M1552 1818.9L1688.3 1818.9" stroke="#000" stroke-width="4.6" stroke-linecap="round"/>
<path d="M1586.9 1318.7V1329.3M1653.2 1318.7V1329.3" stroke="#000" stroke-width="1.8" fill="none"/>
<text transform="translate(1557.86 1306.6) scale(0.8313 1)" font-size="32.24" stroke="#000" stroke-width="0.45">NSD</text>
<text transform="translate(1623.42 1306.6) scale(0.8469 1)" font-size="32.24" stroke="#000" stroke-width="0.45">HSD</text>
<rect x="1401.5" y="1322.6" width="34.1" height="105.3" fill="url(#zg)" stroke="#222" stroke-width="1.2"/>
<path d="M1401.5 1342.8h5 M1435.6 1342.8h-5M1401.5 1375.1h5 M1435.6 1375.1h-5M1401.5 1406.6h5 M1435.6 1406.6h-5" stroke="#222" stroke-width="1.2" fill="none"/>
<text transform="translate(1351.7 1349.9) scale(1.0527 1)" font-size="21.32" stroke="#000" stroke-width="0.2">0.5</text>
<text transform="translate(1351.7 1381.8) scale(1.0553 1)" font-size="21.32" stroke="#000" stroke-width="0.2">0</text>
<text transform="translate(1350.88 1413.7) scale(1.0672 1)" font-size="21.32" stroke="#000" stroke-width="0.2">-0.5</text>
<text transform="translate(1390.26 1448.4) scale(0.9683 1)" font-size="16.64" stroke="#000" stroke-width="0.2">z-score</text>
<rect x="1699.3" y="1328.6" width="11.3" height="485.2" fill="#80184b"/>
<rect x="1699.3" y="1824.8" width="11.3" height="143.5" fill="#3a3a3a"/>
<text transform="translate(1716.04 1554.8) scale(0.6870 1)" font-size="46.8" fill="#80184b" stroke="#80184b" stroke-width="0.45">signature proteins</text>
<text transform="translate(1747.6 1614) scale(0.6930 1)" font-size="46.8" fill="#80184b" stroke="#80184b" stroke-width="0.45">differentiation</text>
<text transform="translate(1716.04 1880.4) scale(0.6870 1)" font-size="46.8" fill="#333" stroke="#333" stroke-width="0.45">signature proteins</text>
<text transform="translate(1723.91 1938.9) scale(0.6916 1)" font-size="46.8" fill="#333" stroke="#333" stroke-width="0.45">de-differentiation</text>
<text transform="translate(1334.52 1270.1) scale(0.9748 1)" font-size="50.23" font-weight="700" fill="#1a1a1a">I</text>
</g>
<g id="pJ">
<g clip-path="url(#cj1)"><rect x="406.6" y="1873.5" width="276.4" height="276.1" fill="#040404"/><g transform="translate(370 1800) scale(0.17857)" style="mix-blend-mode:normal"><path d="M1015 1146h0m108 -118h0m-140 -73h0m-93 -72h0m149 -78h0m-147 -17h0m146 91h0m-206 75h0m-13 108h0m32 -288h0m-15 352h0m4 -236h0m124 242h0m84 -161h0m-141 89h0m196 -53h0m-246 -55h0m-60 72h0m140 -100h0m-28 -105h0m97 -66h0m-272 185h0m56 -83h0m228 207h0m-167 -205h0m83 22h0m-101 159h0m205 11h0m-193 -166h0m178 183h0" stroke="#a02410" stroke-width="13" stroke-linecap="round" fill="none" opacity="0.6"/><path d="M838 976h0m64 -48h0m-95 -33h0m-19 222h0m218 39h0m19 -12h0m-159 -17h0m42 -212h0m103 70h0m-155 -99h0m31 208h0m-107 -47h0m268 86h0m-83 -103h0m-26 -19h0m1 150h0m24 -16h0m23 -276h0m-33 312h0m-23 -380h0m32 370h0m-71 -237h0m56 -104h0m-149 302h0m205 57h0m-125 -157h0m93 -151h0m-1 68h0m-174 165h0m187 47h0m-133 -80h0m256 -185h0m-59 264h0" stroke="#5a1006" stroke-width="10" stroke-linecap="round" fill="none" opacity="0.6"/><path d="M989 1133h0m-164 -29h0m207 50h0m-37 -288h0m-228 86h0m143 -33h0m-125 143h0m224 26h0m-191 -307h0m-61 172h0m50 -153h0m161 111h0m51 -179h0m-165 173h0m237 205h0m-291 -286h0m54 255h0m-79 -161h0m275 136h0m-111 -38h0m83 111h0m-140 -233h0m20 -47h0m-42 -34h0m-43 93h0m124 98h0m-16 -117h0m-51 136h0m100 -188h0m-37 165h0m-82 152h0m100 41h0m-71 -477h0m99 267h0m10 150h0m23 -333h0m7 126h0m-184 234h0m61 -410h0m89 50h0" stroke="#7a1808" stroke-width="7" stroke-linecap="round" fill="none" opacity="0.6"/><path d="M956 839h0m-44 357h0m8 -88h0m87 71h0m14 -66h0m-155 -133h0m20 98h0m212 -229h0m-215 308h0m47 -81h0m24 61h0m-126 -125h0m137 -279h0m74 26h0m-229 109h0m236 -114h0m-173 -29h0m-84 406h0m243 -104h0m-12 -235h0m-280 189h0m322 -131h0m-207 -40h0m-54 168h0m278 -163h0m-67 141h0m-244 -123h0" stroke="#5a1006" stroke-width="7" stroke-linecap="round" fill="none" opacity="0.6"/><path d="M862 961h0m-48 -60h0m28 224h0m245 -316h0m15 128h0m-366 56h0m33 -150h0m310 201h0m-77 -120h0m-253 106h0m306 -118h0m-155 218h0m-73 -286h0m259 193h0m-183 -61h0m85 -218h0m-116 10h0m208 226h0m-116 41h0m-1 -252h0m-3 105h0" stroke="#7a1808" stroke-width="10" stroke-linecap="round" fill="none" opacity="0.6"/><path d="M788 1016h0m239 -164h0m-210 107h0m148 98h0m114 -145h0m-35 -89h0m-222 49h0m145 -69h0m-54 56h0m77 -21h0m-115 237h0m2 -168h0m-6 -53h0m94 -36h0m-45 121h0m-3 257h0m-84 -104h0m-13 -127h0m211 -227h0m-65 199h0m-176 -143h0m55 6h0m166 121h0m-21 244h0m-187 -380h0m61 112h0m9 -12h0m-113 5h0" stroke="#a02410" stroke-width="10" stroke-linecap="round" fill="none" opacity="0.6"/><path d="M844 971h0m44 -263h0m83 292h0m-223 -15h0m46 -163h0m51 39h0m33 -105h0m193 226h0m-176 -199h0m50 279h0m-192 -222h0m292 174h0m-276 17h0m104 122h0m38 -197h0m-119 54h0m232 -121h0m-28 187h0m-178 73h0m158 -424h0m-71 66h0m23 158h0m-144 -72h0m319 187h0m-298 20h0" stroke="#a02410" stroke-width="7" stroke-linecap="round" fill="none" opacity="0.6"/><path d="M847 753h0m-34 359h0m114 103h0m-3 -481h0m-41 208h0m-148 10h0m89 -143h0m43 390h0m136 -325h0m-122 50h0m67 95h0m-155 -99h0m173 264h0m-172 -365h0m238 354h0m-35 -293h0m-127 214h0m194 37h0m35 -142h0m-268 157h0m197 -376h0m-94 361h0m96 -1h0m40 -195h0m-247 109h0m156 -124h0m-115 19h0m-35 -43h0m-5 -104h0m117 61h0m110 251h0" stroke="#5a1006" stroke-width="13" stroke-linecap="round" fill="none" opacity="0.6"/><path d="M1070 1046h0m-242 -150h0m-45 213h0m44 -178h0m51 91h0m-98 87h0m196 -321h0m-19 418h0m103 -169h0m-64 -309h0m-154 19h0m279 204h0m-20 -13h0m-46 146h0m-203 -157h0m96 -87h0m-57 126h0m118 -117h0m-36 -85h0m66 136h0m-89 -197h0m-153 301h0m266 61h0m-116 -289h0m-60 211h0" stroke="#7a1808" stroke-width="13" stroke-linecap="round" fill="none" opacity="0.6"/><path d="M565 650C567 676 582 680 575 704C569 727 557 724 539 745C521 765 525 770 503 786C481 803 478 809 450 812C422 815 419 808 392 798C366 789 368 787 345 773C322 760 321 762 302 744C284 726 280 725 272 701C263 678 265 675 268 650C271 625 275 626 283 603C292 579 288 577 301 556C315 534 316 532 339 516C361 500 363 498 391 493C418 488 420 490 449 495C478 499 480 497 505 510C530 523 533 525 548 548C564 570 562 574 566 600C570 625 563 624 565 650Z" fill="#a42812" filter="url(#jb4)"/><path d="M398 624h0m160 78h0m-83 -103h0m-32 -32h0m115 102h0m-130 -16h0m-49 -123h0m-6 129h0m-20 8h0m193 -77h0m-21 148h0m-97 -47h0m17 -15h0m-151 -91h0m218 33h0" stroke="#d83818" stroke-width="17" stroke-linecap="round" fill="none" opacity="0.6"/><path d="M424 722h0m12 63h0m-89 -249h0m7 178h0m97 -147h0m78 63h0m-72 -93h0m-65 154h0m43 -170h0m57 142h0m-100 73h0m133 -42h0m-111 -94h0m46 153h0m13 -22h0m-134 -3h0m84 -42h0m-31 94h0m16 -34h0m-43 -20h0m58 -209h0m-70 11h0m2 197h0" stroke="#4a1008" stroke-width="17" stroke-linecap="round" fill="none" opacity="0.6"/><path d="M356 706h0m112 60h0m-55 0h0m-34 -33h0m-25 -155h0m121 5h0m52 -8h0m27 28h0m-111 -11h0m-62 41h0m-74 102h0m67 -117h0m62 62h0m32 -56h0m-89 0h0" stroke="#d83818" stroke-width="9" stroke-linecap="round" fill="none" opacity="0.6"/><path d="M334 745h0m148 -138h0m76 29h0m-132 45h0m-87 -131h0m114 23h0m-154 126h0m217 -76h0m-14 -17h0m-16 73h0" stroke="#4a1008" stroke-width="13" stroke-linecap="round" fill="none" opacity="0.6"/><path d="M538 668h0m-250 -73h0m56 121h0m205 -112h0m-103 -67h0m-65 203h0m131 19h0m-12 -35h0m-125 56h0m-83 -181h0m273 27h0m-53 72h0m-161 -122h0m96 129h0m73 -41h0m-114 44h0m159 -80h0m-86 131h0" stroke="#e04020" stroke-width="13" stroke-linecap="round" fill="none" opacity="0.6"/><path d="M362 767h0m174 -179h0m-80 24h0m-164 105h0m157 -121h0m-102 84h0m-7 -147h0m204 142h0m-215 -82h0m28 168h0m57 -225h0" stroke="#d83818" stroke-width="13" stroke-linecap="round" fill="none" opacity="0.6"/><path d="M336 715h0m141 44h0m9 -228h0m-151 102h0m9 26h0m134 107h0m-177 -101h0m140 96h0m50 -61h0m-186 -70h0m155 148h0m16 -230h0m-169 80h0m16 15h0m88 64h0m104 -155h0m-144 166h0m3 -200h0m-8 249h0m131 -108h0m43 -70h0m-192 14h0m31 -7h0" stroke="#6a140a" stroke-width="9" stroke-linecap="round" fill="none" opacity="0.6"/><path d="M278 658h0m251 8h0m-115 63h0m84 1h0m-131 -124h0m2 -18h0m7 164h0m-33 -42h0m47 -87h0m108 113h0m-104 -185h0m-54 -9h0m70 117h0m-68 6h0m101 -6h0m35 -5h0m-42 -31h0m75 71h0m-59 -29h0m-149 40h0m96 -97h0m33 -44h0m99 121h0m-227 10h0m183 -107h0" stroke="#e04020" stroke-width="9" stroke-linecap="round" fill="none" opacity="0.6"/><path d="M428 633h0m102 51h0m-161 8h0m134 44h0m-176 -115h0m17 25h0m124 66h0m-77 43h0m112 -183h0m-180 51h0m158 -68h0" stroke="#6a140a" stroke-width="17" stroke-linecap="round" fill="none" opacity="0.6"/><path d="M370 758h0m-18 -143h0m126 17h0m40 -75h0m-14 198h0m-103 -201h0m2 84h0m33 -65h0m-24 138h0m47 16h0m-78 3h0m-35 -79h0m119 63h0m-9 -59h0m-118 72h0m42 -112h0" stroke="#e04020" stroke-width="17" stroke-linecap="round" fill="none" opacity="0.6"/><path d="M470 562h0m-51 57h0m-29 58h0m-33 25h0m-65 12h0m-10 -10h0m138 -103h0m66 100h0m-27 -43h0m-45 -95h0m2 -9h0m45 178h0m39 -120h0m-168 66h0" stroke="#4a1008" stroke-width="9" stroke-linecap="round" fill="none" opacity="0.6"/><path d="M301 660h0m44 -90h0m143 176h0m-15 -184h0m-169 114h0m222 22h0m-216 -93h0m123 143h0m-50 -95h0m-36 84h0m31 27h0m137 -58h0m-139 -64h0m138 38h0m-214 10h0m218 52h0m-31 -81h0m-28 42h0m-57 55h0" stroke="#6a140a" stroke-width="13" stroke-linecap="round" fill="none" opacity="0.6"/><path d="M527 650C527 674 528 677 519 697C509 717 505 718 488 728C471 738 469 736 450 737C431 738 427 741 410 731C393 721 391 717 383 696C374 676 377 673 377 650C378 627 376 626 384 605C393 585 394 580 410 569C427 557 431 557 450 559C469 561 469 565 486 576C503 587 508 584 519 603C529 622 527 626 527 650Z" fill="#6452d6" filter="url(#jb2)"/><path d="M447 620h0m31 -9h0m-33 96h0" stroke="#9a50d0" stroke-width="23" stroke-linecap="round" fill="none" opacity="0.8"/><path d="M496 654h0m-52 35h0m46 -49h0" stroke="#e04890" stroke-width="23" stroke-linecap="round" fill="none" opacity="0.8"/><path d="M498 628h0m-84 10h0m22 -53h0" stroke="#e04890" stroke-width="17" stroke-linecap="round" fill="none" opacity="0.8"/><path d="M472 660h0m-34 -10h0" stroke="#c040b0" stroke-width="11" stroke-linecap="round" fill="none" opacity="0.8"/><path d="M496 623h0m-96 43h0m64 -78h0m3 22h0" stroke="#9a50d0" stroke-width="17" stroke-linecap="round" fill="none" opacity="0.8"/><path d="M430 643h0m-11 7h0m60 -17h0" stroke="#9a50d0" stroke-width="11" stroke-linecap="round" fill="none" opacity="0.8"/><path d="M416 689h0m12 -52h0" stroke="#c040b0" stroke-width="23" stroke-linecap="round" fill="none" opacity="0.8"/><path d="M398 642h0m17 12h0" stroke="#e04890" stroke-width="11" stroke-linecap="round" fill="none" opacity="0.8"/><path d="M1621 1120C1620 1143 1616 1143 1607 1166C1599 1188 1600 1188 1587 1208C1573 1228 1574 1234 1554 1246C1533 1258 1530 1252 1505 1257C1479 1262 1477 1272 1454 1267C1431 1261 1432 1249 1413 1234C1394 1218 1392 1222 1378 1204C1364 1187 1368 1185 1358 1164C1347 1143 1337 1142 1335 1120C1334 1098 1342 1096 1353 1074C1364 1053 1364 1054 1378 1035C1391 1016 1389 1013 1408 998C1428 982 1430 978 1454 973C1478 969 1480 974 1505 979C1531 983 1533 980 1555 992C1578 1003 1580 1005 1595 1025C1609 1045 1606 1049 1612 1073C1619 1096 1622 1097 1621 1120Z" fill="#c22c16" filter="url(#jb4)"/><path d="M1502 1232h0m-47 -9h0m20 -92h0m-74 71h0m165 -97h0m-151 0h0m64 56h0m-2 76h0m-78 -166h0m132 -30h0m-131 145h0m64 -101h0m35 -81h0m-57 169h0m133 10h0m-138 -113h0m-53 -17h0m30 109h0m-1 33h0m33 -17h0m33 60h0m-53 -169h0" stroke="#f04828" stroke-width="9" stroke-linecap="round" fill="none" opacity="0.6"/><path d="M1552 1154h0m-4 7h0m-33 -69h0m-17 -71h0m64 91h0m-111 -111h0m92 209h0m33 -7h0m-15 -133h0m-45 126h0m-125 3h0m94 -40h0m52 48h0m-5 -96h0m41 17h0m-108 19h0m112 12h0" stroke="#e03c1c" stroke-width="17" stroke-linecap="round" fill="none" opacity="0.6"/><path d="M1424 1058h0m-3 133h0m141 -170h0m-109 102h0m-58 -13h0m-8 -23h0m135 134h0m-86 16h0m105 -69h0m-74 -61h0m-45 1h0m75 -3h0m-1 78h0m-43 -168h0m42 85h0m48 59h0m-57 67h0m-94 -70h0m87 56h0m104 -64h0" stroke="#8a1c0c" stroke-width="9" stroke-linecap="round" fill="none" opacity="0.6"/><path d="M1527 1209h0m-62 -208h0m58 128h0m9 -110h0m13 -5h0m-73 1h0m-80 34h0m137 97h0m-100 -142h0m-55 91h0m131 125h0m-83 -148h0m88 126h0m-85 -56h0" stroke="#8a1c0c" stroke-width="13" stroke-linecap="round" fill="none" opacity="0.6"/><path d="M1372 1090h0m15 95h0m25 -78h0m51 -74h0m-29 110h0m23 67h0m128 -132h0m-200 35h0m86 -78h0m80 74h0m-51 -110h0m-93 95h0m100 -51h0m81 118h0m-83 5h0m21 16h0" stroke="#6a140a" stroke-width="17" stroke-linecap="round" fill="none" opacity="0.6"/><path d="M1564 1028h0m22 72h0m-191 -78h0m70 156h0m17 21h0m76 -125h0m-150 109h0m168 -14h0m-61 -145h0m-66 -19h0m-94 113h0m167 -84h0m-66 22h0m120 -2h0m-216 25h0m91 42h0m-68 -49h0m129 143h0m32 17h0m-123 -219h0m131 212h0m-48 -233h0" stroke="#f04828" stroke-width="17" stroke-linecap="round" fill="none" opacity="0.6"/><path d="M1489 1000h0m49 150h0m-51 49h0m-5 -123h0m-12 -63h0m19 -12h0m75 55h0m-4 59h0m-57 -40h0m-84 -54h0m88 -7h0m-130 55h0m151 -13h0m-31 -23h0" stroke="#f04828" stroke-width="13" stroke-linecap="round" fill="none" opacity="0.6"/><path d="M1459 1164h0m81 -90h0m-68 166h0m32 -166h0m78 56h0m-105 58h0m63 -123h0m-56 180h0m-109 -113h0m180 -87h0m-86 57h0m46 7h0m-55 67h0m12 -162h0m110 158h0m-199 30h0m114 -115h0m12 95h0m-110 34h0m96 -210h0m-82 208h0" stroke="#6a140a" stroke-width="13" stroke-linecap="round" fill="none" opacity="0.6"/><path d="M1496 1223h0m0 16h0m10 -169h0m59 -14h0m-50 46h0m0 21h0m-48 9h0m27 7h0m48 -61h0m-78 -45h0m-89 37h0m214 2h0m-155 119h0m-2 -121h0m160 74h0m-149 60h0m62 -137h0m-138 54h0" stroke="#e03c1c" stroke-width="13" stroke-linecap="round" fill="none" opacity="0.6"/><path d="M1489 1194h0m90 9h0m-46 -126h0m-150 -3h0m77 -8h0m34 170h0m57 -123h0m-45 41h0m-109 -26h0m188 -48h0m-163 6h0" stroke="#6a140a" stroke-width="9" stroke-linecap="round" fill="none" opacity="0.6"/><path d="M1464 1218h0m116 -127h0m-18 117h0m-121 -55h0m36 -47h0m37 -94h0m-58 33h0m-86 126h0m154 -3h0m-108 -103h0m-7 -49h0m60 19h0m127 129h0m-83 -120h0m-106 181h0" stroke="#e03c1c" stroke-width="9" stroke-linecap="round" fill="none" opacity="0.6"/><path d="M1436 1172h0m-65 15h0m100 30h0m3 -222h0m25 240h0m-142 -85h0m70 -93h0m66 159h0m-96 -125h0m120 82h0" stroke="#8a1c0c" stroke-width="17" stroke-linecap="round" fill="none" opacity="0.6"/><path d="M1459 1122C1460 1143 1464 1149 1457 1167C1450 1185 1445 1184 1431 1194C1417 1203 1416 1205 1402 1205C1388 1204 1387 1201 1374 1192C1360 1183 1356 1185 1347 1167C1339 1150 1339 1144 1341 1122C1342 1100 1344 1100 1352 1081C1360 1061 1359 1057 1371 1045C1384 1034 1387 1035 1402 1036C1417 1037 1420 1037 1432 1048C1444 1059 1444 1063 1451 1082C1458 1100 1458 1101 1459 1122Z" fill="#8050cc" filter="url(#jb2)"/><path d="M1439 1136h0m-33 25h0m0 -90h0m20 92h0" stroke="#e04890" stroke-width="23" stroke-linecap="round" fill="none" opacity="0.8"/><path d="M1421 1098h0m-9 2h0m18 13h0m-39 -33h0m28 30h0" stroke="#e04890" stroke-width="17" stroke-linecap="round" fill="none" opacity="0.8"/><path d="M1374 1142h0m58 25h0" stroke="#c040b0" stroke-width="17" stroke-linecap="round" fill="none" opacity="0.8"/><path d="M1432 1165h0m-67 -10h0m55 -18h0m-27 11h0" stroke="#9a50d0" stroke-width="11" stroke-linecap="round" fill="none" opacity="0.8"/><path d="M1404 1117h0" stroke="#9a50d0" stroke-width="17" stroke-linecap="round" fill="none" opacity="0.8"/><path d="M1416 1163h0m-49 -74h0m13 4h0m-6 52h0" stroke="#e04890" stroke-width="11" stroke-linecap="round" fill="none" opacity="0.8"/><path d="M1406 1172h0m-1 -97h0" stroke="#c040b0" stroke-width="23" stroke-linecap="round" fill="none" opacity="0.8"/><path d="M1440 1097h0m-81 35h0" stroke="#9a50d0" stroke-width="23" stroke-linecap="round" fill="none" opacity="0.8"/><path d="M1431 1112h0m-12 1h0" stroke="#c040b0" stroke-width="11" stroke-linecap="round" fill="none" opacity="0.8"/><path d="M1179 775C1180 796 1182 800 1173 819C1164 839 1162 842 1145 853C1128 864 1125 863 1105 862C1085 862 1083 862 1066 851C1050 840 1047 837 1038 819C1030 800 1033 797 1033 775C1033 753 1030 751 1038 731C1046 711 1048 708 1065 696C1082 685 1085 685 1105 685C1125 685 1129 685 1145 697C1161 709 1159 714 1168 734C1176 754 1178 754 1179 775Z" fill="#5a4edc" filter="url(#jb2)"/><path d="M1092 712h0" stroke="#e04890" stroke-width="11" stroke-linecap="round" fill="none" opacity="0.8"/><path d="M1091 837h0m-7 -85h0m-5 12h0m24 14h0" stroke="#c040b0" stroke-width="11" stroke-linecap="round" fill="none" opacity="0.8"/><path d="M1132 819h0" stroke="#e04890" stroke-width="17" stroke-linecap="round" fill="none" opacity="0.8"/><path d="M1073 753h0" stroke="#c040b0" stroke-width="23" stroke-linecap="round" fill="none" opacity="0.8"/><path d="M1119 784h0" stroke="#e04890" stroke-width="23" stroke-linecap="round" fill="none" opacity="0.8"/><ellipse cx="1110" cy="765" rx="22" ry="22" fill="#e040a0" filter="url(#jb4)"/><path d="M936 978C936 997 932 998 923 1016C914 1033 915 1037 900 1048C884 1059 880 1061 862 1060C844 1058 843 1053 827 1042C812 1031 811 1032 801 1016C791 999 789 998 787 978C786 958 787 954 797 938C806 921 810 922 827 912C843 903 844 900 862 900C880 900 882 902 898 912C913 922 915 923 924 940C934 956 936 959 936 978Z" fill="#5a4edc" filter="url(#jb2)"/><path d="M883 940h0" stroke="#c040b0" stroke-width="23" stroke-linecap="round" fill="none" opacity="0.8"/><path d="M857 968h0" stroke="#e04890" stroke-width="17" stroke-linecap="round" fill="none" opacity="0.8"/><path d="M901 1003h0" stroke="#9a50d0" stroke-width="23" stroke-linecap="round" fill="none" opacity="0.8"/><path d="M902 988h0" stroke="#e04890" stroke-width="23" stroke-linecap="round" fill="none" opacity="0.8"/><path d="M837 1025h0" stroke="#9a50d0" stroke-width="11" stroke-linecap="round" fill="none" opacity="0.8"/><path d="M906 993h0m-14 -41h0" stroke="#9a50d0" stroke-width="17" stroke-linecap="round" fill="none" opacity="0.8"/><path d="M866 978h0" stroke="#e04890" stroke-width="11" stroke-linecap="round" fill="none" opacity="0.8"/><ellipse cx="880" cy="955" rx="16" ry="16" fill="#e8409a" filter="url(#jb4)"/><path d="M1223 1356h0m-15 -65h0" stroke="#7040a0" stroke-width="15" stroke-linecap="round" fill="none" opacity="0.8"/><path d="M1209 1337h0" stroke="#7040a0" stroke-width="9" stroke-linecap="round" fill="none" opacity="0.8"/><path d="M1231 1331h0m-17 3h0" stroke="#3a4a9a" stroke-width="9" stroke-linecap="round" fill="none" opacity="0.8"/><path d="M1210 1323h0" stroke="#5050c0" stroke-width="15" stroke-linecap="round" fill="none" opacity="0.8"/><path d="M1227 1308h0m-16 -6h0" stroke="#5050c0" stroke-width="12" stroke-linecap="round" fill="none" opacity="0.8"/><path d="M1235 1331h0m-42 11h0m-18 -11h0m77 -5h0" stroke="#3a4a9a" stroke-width="12" stroke-linecap="round" fill="none" opacity="0.8"/><path d="M1227 1338h0" stroke="#7040a0" stroke-width="12" stroke-linecap="round" fill="none" opacity="0.8"/><path d="M1210 1321h0" stroke="#3a4a9a" stroke-width="15" stroke-linecap="round" fill="none" opacity="0.8"/></g><g transform="translate(370 1800) scale(0.17857)"><rect x="282" y="1868" width="100" height="11" fill="#fff"/></g></g>
<g clip-path="url(#cj2)"><rect x="689.3" y="1872.9" width="276.4" height="275.7" fill="#040404"/><g transform="translate(680 1800) scale(0.17857)" style="mix-blend-mode:normal"><path d="M430 655C432 681 430 683 421 709C411 736 415 742 393 761C371 779 361 770 332 783C303 796 308 803 278 812C247 821 244 823 211 820C178 817 171 818 147 800C122 782 134 771 114 748C95 726 83 733 69 710C55 686 57 682 59 655C60 628 65 629 74 602C82 575 73 567 93 546C113 526 123 531 153 520C184 509 182 512 214 504C245 496 248 486 279 489C311 492 314 499 338 517C363 535 361 538 379 559C397 581 397 580 409 604C422 628 427 629 430 655Z" fill="#1c3a16" stroke="#3f8a35" stroke-width="7" filter="url(#jb2)"/><path d="M206 656h0m-17 28h0m-39 -32h0m9 -19h0m62 65h0m19 -183h0m-37 180h0m195 13h0" stroke="#5a3a18" stroke-width="13" stroke-linecap="round" fill="none" opacity="0.6"/><path d="M177 538h0m100 9h0m-49 109h0m6 134h0m22 -277h0m-103 143h0m131 -103h0m-7 45h0m-83 182h0m79 -161h0m20 81h0m-76 -185h0m44 230h0m100 -38h0m-200 61h0m94 -65h0" stroke="#3f8a35" stroke-width="10" stroke-linecap="round" fill="none" opacity="0.6"/><path d="M113 614h0m64 165h0m66 -232h0m85 135h0m-32 -4h0m-46 -155h0m83 187h0m-141 -109h0m31 69h0m20 10h0m-51 33h0m79 -48h0m35 -20h0m-124 98h0" stroke="#2f6a28" stroke-width="7" stroke-linecap="round" fill="none" opacity="0.6"/><path d="M245 604h0m-69 -40h0m104 131h0m88 -106h0m-17 78h0m59 -6h0m-157 42h0m37 -167h0m-157 201h0m94 44h0m54 -218h0m-113 163h0m-1 51h0m121 -262h0m-18 80h0m-3 77h0m-147 46h0m128 -148h0m101 -3h0m-71 5h0m-6 31h0" stroke="#2f6a28" stroke-width="10" stroke-linecap="round" fill="none" opacity="0.6"/><path d="M149 648h0m35 -119h0m186 136h0m-118 34h0m80 -4h0m-187 -12h0m134 -128h0m-5 160h0m-60 61h0m144 -223h0m-225 11h0m10 31h0m200 105h0m-127 30h0m-21 -122h0m63 66h0" stroke="#5a3a18" stroke-width="10" stroke-linecap="round" fill="none" opacity="0.6"/><path d="M198 574h0m-11 -46h0m-49 149h0m165 16h0m31 -73h0m-241 -30h0m186 37h0m-154 72h0m157 -108h0m-73 192h0m108 0h0m-131 -97h0m-32 -30h0m84 -26h0" stroke="#3f8a35" stroke-width="13" stroke-linecap="round" fill="none" opacity="0.6"/><path d="M250 568h0m-69 212h0m-1 -179h0m65 -57h0m79 18h0m-36 81h0m-146 -5h0m-17 63h0m40 -89h0m190 -60h0m-212 75h0m23 -63h0m208 7h0m-92 121h0" stroke="#2f6a28" stroke-width="13" stroke-linecap="round" fill="none" opacity="0.6"/><path d="M378 590h0m-275 46h0m225 -59h0m-85 158h0m27 -122h0m-42 51h0" stroke="#3f8a35" stroke-width="7" stroke-linecap="round" fill="none" opacity="0.6"/><path d="M269 660h0m-18 84h0m-3 -134h0m130 119h0m-94 -208h0m-132 82h0m-2 -45h0m62 -34h0m112 77h0m-72 -84h0m1 91h0" stroke="#5a3a18" stroke-width="7" stroke-linecap="round" fill="none" opacity="0.6"/><path d="M337 700C336 727 340 729 329 752C318 775 314 779 292 792C270 805 265 804 240 803C215 802 213 800 190 788C168 775 163 775 151 753C138 731 139 726 141 700C142 674 144 673 156 650C168 627 167 622 188 609C209 595 215 594 240 596C265 597 265 602 288 615C311 628 319 625 332 646C344 667 338 673 337 700Z" fill="#4a52d2" filter="url(#jb2)"/><path d="M183 660h0" stroke="#e04890" stroke-width="23" stroke-linecap="round" fill="none" opacity="0.8"/><path d="M194 744h0" stroke="#9a50d0" stroke-width="11" stroke-linecap="round" fill="none" opacity="0.8"/><path d="M288 648h0" stroke="#e04890" stroke-width="17" stroke-linecap="round" fill="none" opacity="0.8"/><path d="M198 742h0" stroke="#e04890" stroke-width="11" stroke-linecap="round" fill="none" opacity="0.8"/><path d="M224 744h0" stroke="#c040b0" stroke-width="11" stroke-linecap="round" fill="none" opacity="0.8"/><path d="M241 627h0" stroke="#c040b0" stroke-width="23" stroke-linecap="round" fill="none" opacity="0.8"/><path d="M194 725h0m-11 -45h0m68 -8h0" stroke="#2a2a90" stroke-width="22" stroke-linecap="round" fill="none" opacity="0.6"/><path d="M275 644h0m-3 19h0" stroke="#7a8ae8" stroke-width="42" stroke-linecap="round" fill="none" opacity="0.6"/><path d="M203 631h0m2 -12h0m-7 88h0" stroke="#2a2a90" stroke-width="42" stroke-linecap="round" fill="none" opacity="0.6"/><path d="M261 614h0m32 95h0" stroke="#7a8ae8" stroke-width="22" stroke-linecap="round" fill="none" opacity="0.6"/><path d="M309 669h0m-124 -31h0m84 48h0" stroke="#2a2a90" stroke-width="32" stroke-linecap="round" fill="none" opacity="0.6"/><path d="M243 613h0" stroke="#7a8ae8" stroke-width="32" stroke-linecap="round" fill="none" opacity="0.6"/><ellipse cx="210" cy="765" rx="18" ry="18" fill="#d040a0" filter="url(#jb4)"/><ellipse cx="352" cy="632" rx="9" ry="9" fill="#50e040"/><path d="M1023 650C1030 681 1028 685 1020 717C1011 749 1010 753 990 778C969 803 966 806 938 817C910 828 906 823 878 821C849 819 850 816 824 809C799 801 799 803 776 790C753 777 756 776 733 757C709 739 689 744 681 717C673 690 693 681 700 650C707 619 699 620 708 593C716 567 722 572 735 545C749 518 740 499 763 485C785 471 795 491 824 490C853 489 849 481 877 480C906 479 916 468 937 485C959 502 949 520 963 547C976 574 977 568 992 594C1007 619 1016 619 1023 650Z" fill="#1c3616" stroke="#357a2c" stroke-width="5" filter="url(#jb2)"/><path d="M749 570h0m223 -6h0m-119 39h0m68 41h0m12 -116h0m-150 6h0m142 198h0m9 -109h0m-142 98h0m6 -78h0m-81 70h0m156 -65h0" stroke="#2f6a28" stroke-width="7" stroke-linecap="round" fill="none" opacity="0.6"/><path d="M908 769h0m17 -177h0m-20 145h0m0 45h0m-167 -195h0m106 221h0m119 -181h0m5 28h0m-72 103h0m-80 -174h0m76 23h0m-123 71h0m113 -114h0" stroke="#4a9a3a" stroke-width="13" stroke-linecap="round" fill="none" opacity="0.6"/><path d="M821 763h0m-1 -203h0m-23 -15h0m131 162h0m-51 -96h0m-123 64h0m181 -70h0m-72 -7h0m122 78h0m-84 92h0m-125 -1h0m139 8h0m-99 -193h0" stroke="#4a9a3a" stroke-width="7" stroke-linecap="round" fill="none" opacity="0.6"/><path d="M760 688h0m110 25h0m-2 -167h0m114 158h0m-200 -184h0m-65 92h0m200 6h0m-146 14h0m-51 -26h0m184 3h0m-129 -49h0" stroke="#5a3a18" stroke-width="13" stroke-linecap="round" fill="none" opacity="0.6"/><path d="M720 593h0m36 -3h0m112 39h0m-151 1h0m10 52h0m172 2h0m-94 26h0m163 -134h0m-51 216h0m31 -34h0m-23 -27h0m-112 5h0" stroke="#2f6a28" stroke-width="13" stroke-linecap="round" fill="none" opacity="0.6"/><path d="M845 591h0m15 -8h0m16 136h0m-87 -203h0m183 100h0m-81 156h0m-37 -199h0m52 3h0m1 -39h0m-27 266h0m94 -177h0m-163 182h0m135 -80h0" stroke="#3f8a35" stroke-width="13" stroke-linecap="round" fill="none" opacity="0.6"/><path d="M990 674h0m-78 -29h0m-71 -140h0m-49 101h0m-82 78h0m116 -122h0m-8 70h0m-11 155h0m-56 -16h0m-13 -64h0m199 43h0m-80 -99h0m136 -35h0m-6 98h0m-256 -78h0m31 10h0m29 -63h0m85 8h0m-133 -30h0m-13 70h0m164 4h0m-35 -41h0m-134 -18h0" stroke="#2f6a28" stroke-width="10" stroke-linecap="round" fill="none" opacity="0.6"/><path d="M973 656h0m-138 89h0m-83 -71h0m85 13h0m34 83h0m-35 33h0m46 -56h0m-84 -101h0m65 45h0m63 95h0m-107 -244h0m40 109h0m-63 32h0m-17 37h0m-75 -81h0" stroke="#5a3a18" stroke-width="7" stroke-linecap="round" fill="none" opacity="0.6"/><path d="M897 628h0m96 14h0m-55 -21h0m20 141h0m-152 -238h0m-60 193h0m246 -112h0m0 74h0m-66 55h0m-52 -3h0" stroke="#3f8a35" stroke-width="7" stroke-linecap="round" fill="none" opacity="0.6"/><path d="M921 701h0m-44 -94h0m-38 25h0m2 112h0m27 -146h0m-82 -18h0m142 205h0m-70 -253h0m78 82h0m-104 171h0m39 16h0m11 -169h0" stroke="#4a9a3a" stroke-width="10" stroke-linecap="round" fill="none" opacity="0.6"/><path d="M908 638h0m33 -29h0m-35 56h0m11 123h0m26 -205h0m-171 154h0m28 -28h0m-2 95h0" stroke="#3f8a35" stroke-width="10" stroke-linecap="round" fill="none" opacity="0.6"/><path d="M990 693h0m-155 -125h0m2 8h0m-77 173h0m-23 -103h0m98 -34h0m-36 97h0m74 -144h0" stroke="#5a3a18" stroke-width="10" stroke-linecap="round" fill="none" opacity="0.6"/><path d="M935 747C934 760 930 761 921 771C911 782 911 782 897 789C883 795 881 797 865 796C849 796 849 794 834 788C819 782 814 783 805 773C797 763 799 760 799 747C800 734 799 732 807 722C815 711 817 710 832 704C847 698 849 697 865 697C881 697 883 698 898 704C912 710 915 710 924 721C933 732 935 734 935 747Z" fill="#4a56d4" filter="url(#jb2)"/><path d="M899 720h0" stroke="#9a50d0" stroke-width="23" stroke-linecap="round" fill="none" opacity="0.8"/><path d="M829 753h0" stroke="#e04890" stroke-width="17" stroke-linecap="round" fill="none" opacity="0.8"/><path d="M912 745h0" stroke="#c040b0" stroke-width="17" stroke-linecap="round" fill="none" opacity="0.8"/><path d="M845 780h0" stroke="#9a50d0" stroke-width="17" stroke-linecap="round" fill="none" opacity="0.8"/><path d="M913 751h0" stroke="#c040b0" stroke-width="11" stroke-linecap="round" fill="none" opacity="0.8"/><path d="M852 713h0" stroke="#9a50d0" stroke-width="11" stroke-linecap="round" fill="none" opacity="0.8"/><path d="M1442 600C1438 625 1443 625 1433 647C1423 669 1420 668 1404 686C1387 704 1388 703 1366 719C1345 735 1345 743 1319 750C1293 756 1287 754 1262 745C1236 736 1241 727 1217 714C1193 701 1186 710 1167 693C1147 677 1146 673 1140 649C1134 626 1140 624 1143 600C1145 576 1140 575 1149 554C1158 533 1164 535 1180 517C1196 498 1193 495 1213 480C1234 465 1236 459 1262 456C1288 452 1290 459 1316 466C1342 473 1343 471 1365 483C1386 495 1381 499 1403 515C1424 531 1440 526 1449 548C1459 569 1446 575 1442 600Z" fill="#902212" filter="url(#jb4)"/><path d="M1435 705C1434 714 1436 716 1429 722C1422 729 1419 729 1407 732C1396 735 1394 736 1382 733C1370 731 1367 731 1359 724C1351 716 1350 714 1350 705C1350 696 1353 695 1360 687C1368 679 1369 676 1381 674C1393 672 1395 674 1407 678C1420 681 1423 680 1430 687C1437 694 1435 696 1435 705Z" fill="#040404" filter="url(#jb4)"/><path d="M1232 637h0m28 -95h0m-22 -57h0m104 150h0m-109 30h0m-14 3h0m-14 -9h0m-5 -39h0m17 -30h0m52 -9h0m9 123h0m96 -162h0m-183 60h0m181 -94h0m43 110h0" stroke="#4a1008" stroke-width="12" stroke-linecap="round" fill="none" opacity="0.6"/><path d="M1310 685h0m-117 -53h0m129 -112h0m41 169h0m-103 -123h0m-33 55h0m152 -7h0m2 24h0m-153 -156h0m37 185h0m68 -190h0m38 192h0m-92 -23h0m-40 -17h0m-52 35h0m109 -94h0m-64 68h0m12 -33h0m156 42h0m-132 -109h0m-109 83h0" stroke="#c03018" stroke-width="9" stroke-linecap="round" fill="none" opacity="0.6"/><path d="M1250 486h0m-9 150h0m-55 -12h0m-12 -37h0m188 -57h0m-141 73h0m151 -69h0m-113 -60h0m-103 127h0m131 -87h0m-61 29h0m-63 30h0m216 73h0m-114 -140h0m135 130h0" stroke="#4a1008" stroke-width="9" stroke-linecap="round" fill="none" opacity="0.6"/><path d="M1198 660h0m31 -47h0m95 -95h0m-100 -12h0m56 88h0m97 -75h0m-167 -8h0m150 121h0m0 -25h0m39 -43h0m-197 -31h0m144 100h0m-52 27h0m-144 -61h0m156 -60h0" stroke="#d83c20" stroke-width="15" stroke-linecap="round" fill="none" opacity="0.6"/><path d="M1216 599h0m84 -80h0m-101 27h0m77 53h0m72 81h0m4 -130h0m-79 153h0m-46 -45h0m-11 -141h0m34 81h0m-17 -39h0m-35 32h0m-38 54h0m212 -130h0m-83 160h0m85 -60h0" stroke="#d83c20" stroke-width="9" stroke-linecap="round" fill="none" opacity="0.6"/><path d="M1360 565h0m-101 147h0m83 -10h0m-72 -117h0m-12 -64h0m60 -8h0m-54 155h0m87 9h0m9 15h0m-55 -106h0m-59 57h0m-89 -20h0" stroke="#5a120a" stroke-width="15" stroke-linecap="round" fill="none" opacity="0.6"/><path d="M1347 615h0m-129 10h0m29 -5h0m-49 -16h0m143 -69h0m-134 -21h0m107 34h0m-95 -41h0m-61 69h0m98 113h0m90 -106h0m-72 102h0m-36 -152h0m-40 147h0m172 -62h0m-19 -91h0m-101 97h0m-96 -7h0m159 -64h0" stroke="#d83c20" stroke-width="12" stroke-linecap="round" fill="none" opacity="0.6"/><path d="M1233 664h0m-82 -64h0m75 -27h0m140 94h0m-121 -82h0m123 -47h0m-96 158h0m-45 -10h0m66 -40h0m107 1h0m-180 -95h0m16 -64h0m-47 116h0m137 -120h0m-154 143h0" stroke="#4a1008" stroke-width="15" stroke-linecap="round" fill="none" opacity="0.6"/><path d="M1278 593h0m-21 -32h0m-37 -62h0m117 51h0m-85 -32h0m-34 9h0m157 57h0m5 65h0m-41 -81h0m-74 -96h0m-15 47h0m68 50h0" stroke="#5a120a" stroke-width="12" stroke-linecap="round" fill="none" opacity="0.6"/><path d="M1316 565h0m-107 -62h0m104 117h0m-114 -24h0m31 -60h0m53 69h0m-139 4h0m142 10h0m-75 9h0m114 -156h0m-143 40h0m228 60h0m-187 51h0m114 -83h0m-11 -22h0m-42 6h0m58 -10h0m28 172h0m-45 -12h0m-106 -7h0" stroke="#c03018" stroke-width="12" stroke-linecap="round" fill="none" opacity="0.6"/><path d="M1262 571h0m67 130h0m57 -64h0m-118 -64h0m94 90h0m-41 -25h0m20 -51h0m7 62h0m-105 -151h0m-51 139h0m94 -86h0m-96 104h0m15 -1h0m54 -63h0m-90 36h0m4 -98h0m221 73h0m-190 8h0m77 52h0" stroke="#5a120a" stroke-width="9" stroke-linecap="round" fill="none" opacity="0.6"/><path d="M1146 571h0m205 52h0m-29 -27h0m-24 -111h0m-64 147h0m42 -141h0m11 178h0m-117 -143h0m204 138h0m-31 -172h0m-125 5h0m108 33h0m-76 167h0m147 -97h0m3 -69h0m-69 165h0m-42 -169h0m-19 49h0m14 82h0m69 -124h0m-209 40h0" stroke="#c03018" stroke-width="15" stroke-linecap="round" fill="none" opacity="0.6"/><path d="M1420 578C1420 598 1421 600 1411 617C1402 635 1400 638 1382 648C1363 659 1360 661 1338 661C1316 661 1313 660 1294 649C1275 638 1274 636 1264 618C1253 600 1252 598 1252 578C1253 558 1256 557 1267 540C1278 522 1277 519 1295 508C1312 497 1316 498 1338 498C1360 497 1365 495 1383 505C1402 515 1403 520 1412 538C1421 557 1420 558 1420 578Z" fill="#7450cc" filter="url(#jb2)"/><path d="M1288 606h0m90 -30h0m-33 -38h0" stroke="#9a50d0" stroke-width="23" stroke-linecap="round" fill="none" opacity="0.8"/><path d="M1295 546h0m48 -26h0m-17 36h0" stroke="#c040b0" stroke-width="23" stroke-linecap="round" fill="none" opacity="0.8"/><path d="M1385 578h0m-38 43h0m-24 -20h0m6 -82h0m19 55h0m-33 -36h0" stroke="#e04890" stroke-width="11" stroke-linecap="round" fill="none" opacity="0.8"/><path d="M1304 544h0m-27 53h0m1 -12h0" stroke="#9a50d0" stroke-width="17" stroke-linecap="round" fill="none" opacity="0.8"/><path d="M1377 589h0m22 -1h0" stroke="#e04890" stroke-width="23" stroke-linecap="round" fill="none" opacity="0.8"/><path d="M1368 599h0m-43 2h0m-26 -61h0m91 58h0m-67 21h0" stroke="#c040b0" stroke-width="11" stroke-linecap="round" fill="none" opacity="0.8"/><path d="M1339 602h0m-20 -65h0" stroke="#c040b0" stroke-width="17" stroke-linecap="round" fill="none" opacity="0.8"/><path d="M1295 559h0m3 11h0" stroke="#e04890" stroke-width="17" stroke-linecap="round" fill="none" opacity="0.8"/><path d="M1373 818h0m-29 13h0m21 35h0m-71 -16h0m39 22h0m31 -45h0" stroke="#8a2010" stroke-width="7" stroke-linecap="round" fill="none" opacity="0.7"/><path d="M1347 845h0m52 -35h0m-24 -20h0m-70 21h0m0 41h0m48 -41h0" stroke="#5a1408" stroke-width="13" stroke-linecap="round" fill="none" opacity="0.7"/><path d="M1435 821h0m-28 16h0m-16 -12h0m-1 19h0m7 7h0m-46 -12h0m8 -46h0" stroke="#3a5a20" stroke-width="13" stroke-linecap="round" fill="none" opacity="0.7"/><path d="M1306 812h0m98 -17h0m8 68h0" stroke="#a03018" stroke-width="7" stroke-linecap="round" fill="none" opacity="0.7"/><path d="M1390 870h0m-35 -66h0m78 15h0m-16 38h0m17 -4h0m-17 -45h0m-51 1h0m-38 -10h0m46 21h0m-60 23h0m59 12h0" stroke="#5a1408" stroke-width="7" stroke-linecap="round" fill="none" opacity="0.7"/><path d="M1378 816h0m36 -17h0m-75 57h0m7 -14h0m59 -10h0m20 0h0" stroke="#5a1408" stroke-width="10" stroke-linecap="round" fill="none" opacity="0.7"/><path d="M1371 876h0m-49 -58h0m64 11h0m-39 -29h0m11 77h0m-29 -79h0m101 11h0" stroke="#3a5a20" stroke-width="7" stroke-linecap="round" fill="none" opacity="0.7"/><path d="M1324 803h0m25 28h0m8 -5h0m-47 -1h0m69 -31h0m29 66h0m-34 -69h0m-31 46h0m48 38h0m18 -65h0" stroke="#3a5a20" stroke-width="10" stroke-linecap="round" fill="none" opacity="0.7"/><path d="M1387 858h0m34 -20h0m-66 2h0" stroke="#8a2010" stroke-width="10" stroke-linecap="round" fill="none" opacity="0.7"/><path d="M1322 791h0m83 8h0m-51 22h0m41 39h0" stroke="#a03018" stroke-width="13" stroke-linecap="round" fill="none" opacity="0.7"/><path d="M1310 820h0m22 -23h0m85 31h0" stroke="#a03018" stroke-width="10" stroke-linecap="round" fill="none" opacity="0.7"/><path d="M1412 801h0m-46 50h0m-64 5h0m-10 1h0" stroke="#8a2010" stroke-width="13" stroke-linecap="round" fill="none" opacity="0.7"/><path d="M993 937h0m-16 5h0m19 59h0m79 -66h0m-35 13h0m-17 75h0m-10 -140h0" stroke="#5a1408" stroke-width="13" stroke-linecap="round" fill="none" opacity="0.7"/><path d="M997 1003h0m61 -57h0m-75 66h0m-11 -15h0m83 -71h0" stroke="#8a2010" stroke-width="7" stroke-linecap="round" fill="none" opacity="0.7"/><path d="M1028 912h0m-26 95h0m-24 -47h0m79 36h0m-15 -104h0m-53 91h0m61 -11h0m-68 -27h0m47 -67h0m-12 140h0m1 -35h0m-41 -37h0" stroke="#8a2010" stroke-width="13" stroke-linecap="round" fill="none" opacity="0.7"/><path d="M1016 993h0m35 -36h0m-45 -21h0m46 16h0m-20 57h0m5 17h0m32 -94h0m-25 -35h0m-31 74h0" stroke="#5a1408" stroke-width="10" stroke-linecap="round" fill="none" opacity="0.7"/><path d="M1032 972h0m-26 1h0m52 -10h0m-44 -74h0m-4 7h0m0 53h0m26 33h0" stroke="#8a2010" stroke-width="10" stroke-linecap="round" fill="none" opacity="0.7"/><path d="M1053 930h0m-90 22h0m36 -20h0m41 1h0m-68 34h0m33 -78h0m26 126h0m15 -3h0m3 -89h0m-10 -21h0" stroke="#5a1408" stroke-width="7" stroke-linecap="round" fill="none" opacity="0.7"/><path d="M1074 995C1073 1006 1071 1008 1062 1016C1053 1024 1051 1024 1039 1028C1026 1031 1023 1032 1011 1028C999 1025 999 1022 991 1014C984 1006 982 1005 982 995C982 985 984 985 991 976C998 966 998 961 1010 958C1021 955 1023 962 1038 965C1052 968 1057 964 1067 972C1076 979 1075 984 1074 995Z" fill="#c02c18" filter="url(#jb4)"/><path d="M1613 1020C1613 1047 1618 1050 1611 1073C1603 1096 1596 1092 1582 1111C1567 1130 1570 1140 1552 1149C1534 1158 1530 1153 1510 1148C1490 1144 1492 1141 1474 1132C1456 1123 1453 1127 1438 1112C1422 1097 1421 1095 1411 1072C1402 1049 1401 1046 1401 1020C1401 994 1401 990 1411 968C1421 946 1426 949 1441 932C1455 914 1453 906 1470 897C1487 888 1490 895 1510 894C1530 893 1531 888 1551 895C1570 902 1572 904 1587 922C1602 940 1604 942 1611 967C1617 991 1613 993 1613 1020Z" fill="#7a7a1e" filter="url(#jb4)"/><path d="M1512 917h0m-50 158h0m2 -40h0m93 15h0m-40 -84h0m-23 -28h0m39 -34h0m-46 140h0m-28 57h0m13 -179h0m129 121h0" stroke="#b85a20" stroke-width="9" stroke-linecap="round" fill="none" opacity="0.7"/><path d="M1426 1000h0m102 -35h0m67 61h0m-146 33h0m44 -142h0m99 97h0m-156 -63h0m39 157h0m-27 -7h0m41 -192h0m36 67h0m-108 48h0m79 -61h0m-1 -16h0m54 80h0m20 53h0m-92 -153h0" stroke="#a0a028" stroke-width="17" stroke-linecap="round" fill="none" opacity="0.7"/><path d="M1572 1038h0m19 -75h0m-29 41h0m-42 6h0m12 58h0m58 -106h0m-63 -26h0m62 81h0m-35 41h0m-82 -79h0m66 81h0m-20 56h0m61 -18h0m-10 -161h0m-33 -31h0m64 141h0m-138 41h0m25 -52h0" stroke="#c08020" stroke-width="13" stroke-linecap="round" fill="none" opacity="0.7"/><path d="M1516 907h0m-43 68h0m68 94h0m42 -16h0m-58 3h0m53 -89h0m-64 124h0m34 14h0m-79 -43h0m29 -122h0m8 152h0m-58 -58h0m126 -92h0" stroke="#a0a028" stroke-width="13" stroke-linecap="round" fill="none" opacity="0.7"/><path d="M1565 1068h0m13 32h0m-29 -95h0m-85 14h0m48 -31h0m-30 43h0m-2 -35h0m53 118h0m-18 7h0m-28 -144h0m18 7h0m24 -67h0m-29 197h0" stroke="#5a9a28" stroke-width="17" stroke-linecap="round" fill="none" opacity="0.7"/><path d="M1469 966h0m76 142h0m0 -86h0m-122 10h0m67 -99h0m55 6h0m37 98h0m-148 -80h0m135 7h0m19 123h0m-62 -13h0" stroke="#c08020" stroke-width="9" stroke-linecap="round" fill="none" opacity="0.7"/><path d="M1595 972h0m-156 71h0m71 -131h0m-36 212h0m56 -156h0m36 36h0m-74 -59h0m43 23h0m-17 49h0m-72 34h0m103 20h0" stroke="#c08020" stroke-width="17" stroke-linecap="round" fill="none" opacity="0.7"/><path d="M1519 905h0m-55 161h0m-31 -72h0m167 23h0m-63 103h0m-122 -106h0m78 -57h0m-49 21h0m156 77h0m-94 -55h0m-40 -42h0m66 -46h0m-72 34h0m-12 14h0m155 63h0" stroke="#b85a20" stroke-width="17" stroke-linecap="round" fill="none" opacity="0.7"/><path d="M1480 1092h0m17 -162h0m-3 25h0m87 34h0m1 108h0m12 -65h0m-140 -94h0m5 94h0m67 -119h0m-30 82h0m19 31h0m39 19h0" stroke="#a0a028" stroke-width="9" stroke-linecap="round" fill="none" opacity="0.7"/><path d="M1505 1131h0m60 -88h0m-52 -143h0m-50 102h0m100 -12h0m-34 45h0m40 -14h0m-13 -11h0m-71 101h0m-50 -43h0" stroke="#5a9a28" stroke-width="13" stroke-linecap="round" fill="none" opacity="0.7"/><path d="M1552 1107h0m-63 -110h0m-29 -69h0m31 143h0m-62 -18h0m134 -46h0m-9 20h0m-55 -89h0m-31 53h0" stroke="#b85a20" stroke-width="13" stroke-linecap="round" fill="none" opacity="0.7"/><path d="M1540 938h0m-37 13h0m-77 68h0m109 92h0m-102 -85h0m127 -86h0m24 139h0m-142 -37h0m24 46h0m-21 -64h0" stroke="#5a9a28" stroke-width="9" stroke-linecap="round" fill="none" opacity="0.7"/><path d="M1565 1030C1565 1044 1564 1046 1558 1059C1552 1071 1551 1074 1539 1081C1528 1088 1526 1086 1512 1086C1498 1086 1495 1089 1484 1081C1474 1074 1475 1069 1470 1056C1464 1044 1463 1044 1462 1030C1462 1016 1461 1014 1468 1002C1474 991 1476 991 1487 984C1498 977 1499 977 1512 976C1525 975 1527 975 1538 981C1550 987 1552 989 1559 1001C1565 1013 1565 1016 1565 1030Z" fill="#9a70c8" filter="url(#jb2)"/><path d="M1498 1041h0m8 -31h0" stroke="#9a50d0" stroke-width="17" stroke-linecap="round" fill="none" opacity="0.8"/><path d="M1525 1059h0m-22 -63h0m17 39h0m-42 -18h0" stroke="#e04890" stroke-width="17" stroke-linecap="round" fill="none" opacity="0.8"/><path d="M1507 994h0" stroke="#c040b0" stroke-width="11" stroke-linecap="round" fill="none" opacity="0.8"/><path d="M1505 1061h0m18 -19h0" stroke="#e04890" stroke-width="11" stroke-linecap="round" fill="none" opacity="0.8"/><path d="M1531 1052h0" stroke="#9a50d0" stroke-width="11" stroke-linecap="round" fill="none" opacity="0.8"/><path d="M1504 1060h0" stroke="#c040b0" stroke-width="17" stroke-linecap="round" fill="none" opacity="0.8"/><path d="M1511 992h0" stroke="#e04890" stroke-width="23" stroke-linecap="round" fill="none" opacity="0.8"/><path d="M1496 1022h0" stroke="#c040b0" stroke-width="23" stroke-linecap="round" fill="none" opacity="0.8"/><path d="M1508 1061h0" stroke="#9a50d0" stroke-width="23" stroke-linecap="round" fill="none" opacity="0.8"/><path d="M865 1100C873 1121 888 1126 885 1147C882 1168 871 1169 853 1183C834 1196 831 1192 811 1201C790 1209 792 1216 772 1218C751 1219 752 1211 730 1208C709 1205 707 1213 686 1206C665 1200 659 1200 646 1184C633 1167 644 1161 635 1140C625 1119 606 1119 609 1100C611 1081 631 1081 644 1063C657 1045 653 1049 662 1029C671 1009 663 996 680 984C697 972 706 978 728 982C750 985 749 992 769 998C789 1004 790 997 807 1005C824 1013 826 1015 837 1030C848 1045 844 1047 851 1065C858 1082 856 1079 865 1100Z" fill="#3a8a24" filter="url(#jb4)"/><path d="M683 1051h0m7 -60h0m32 134h0m76 -53h0m-114 61h0m20 48h0m149 -85h0m-204 -73h0m33 87h0m113 -71h0m0 -55h0m-133 100h0m55 40h0m148 -40h0m-215 66h0m31 -75h0m170 -23h0m-154 6h0m107 66h0m-150 55h0m14 -55h0" stroke="#4ab02c" stroke-width="14" stroke-linecap="round" fill="none" opacity="0.8"/><path d="M807 1083h0m-158 27h0m222 20h0m-158 -68h0m-61 98h0m183 27h0m-165 -100h0m45 -52h0m93 109h0m-139 -26h0m58 68h0m-30 2h0m-27 -96h0m189 16h0m-36 -85h0m-131 150h0m67 -18h0m92 -26h0" stroke="#5ad030" stroke-width="14" stroke-linecap="round" fill="none" opacity="0.8"/><path d="M642 1073h0m203 83h0m-216 -89h0m157 -21h0m-77 29h0m79 -54h0m40 -13h0m-86 216h0m-9 -205h0m99 58h0m14 -46h0m-87 171h0m22 -95h0m-7 -70h0m-117 118h0m123 -25h0" stroke="#c06020" stroke-width="19" stroke-linecap="round" fill="none" opacity="0.8"/><path d="M789 1204h0m-105 -117h0m19 50h0m82 -131h0m49 81h0m-115 -58h0m79 114h0m-24 -57h0m-97 106h0m151 -59h0m-30 -58h0m-140 66h0m110 -67h0" stroke="#7ae040" stroke-width="14" stroke-linecap="round" fill="none" opacity="0.8"/><path d="M671 1113h0m11 50h0m-35 -96h0m206 9h0m-36 68h0m54 -19h0m-202 -15h0m-2 -47h0m61 27h0m7 55h0m-79 -101h0m37 114h0m124 -18h0m25 -116h0m-183 163h0m83 15h0" stroke="#5ad030" stroke-width="19" stroke-linecap="round" fill="none" opacity="0.8"/><path d="M790 1155h0m-149 -92h0m77 53h0m-77 -62h0m13 23h0m183 88h0m-28 -21h0m5 -57h0m-66 81h0m9 -2h0m67 -89h0m-4 68h0m17 23h0m-160 -79h0m2 78h0m165 -50h0m-76 -68h0" stroke="#7ae040" stroke-width="19" stroke-linecap="round" fill="none" opacity="0.8"/><path d="M767 1154h0m-32 46h0m83 -152h0m-100 -38h0m59 160h0m87 -34h0m-80 -151h0m-107 204h0m23 -118h0m-26 25h0" stroke="#5ad030" stroke-width="9" stroke-linecap="round" fill="none" opacity="0.8"/><path d="M650 1095h0m26 40h0m114 37h0m-62 -29h0m-72 -10h0m76 44h0m97 -118h0m-81 16h0m99 54h0m-46 -10h0m31 38h0m6 -60h0m-197 -46h0m77 59h0m110 -38h0m-62 -42h0" stroke="#4ab02c" stroke-width="19" stroke-linecap="round" fill="none" opacity="0.8"/><path d="M819 1020h0m-22 45h0m-111 105h0m-47 -48h0m147 14h0m3 -129h0m-38 115h0m-53 58h0m32 -197h0m-74 145h0m55 5h0m38 -143h0m123 136h0m-115 -70h0m-39 -59h0m106 58h0" stroke="#7ae040" stroke-width="9" stroke-linecap="round" fill="none" opacity="0.8"/><path d="M643 1074h0m57 32h0m-33 -42h0m82 7h0m41 120h0m16 -177h0m-110 -14h0m-38 114h0m116 -135h0m-12 204h0m46 -124h0m-58 43h0m-37 77h0m96 -67h0m-130 82h0" stroke="#a08020" stroke-width="14" stroke-linecap="round" fill="none" opacity="0.8"/><path d="M742 1200h0m37 -96h0m-129 54h0m57 -58h0m-25 -13h0m6 79h0m57 -10h0m-88 -13h0m177 41h0m-129 -33h0m148 22h0m-124 -143h0m52 146h0m-156 -61h0m196 -36h0m-125 15h0m-68 -28h0m182 -13h0m60 60h0" stroke="#c06020" stroke-width="9" stroke-linecap="round" fill="none" opacity="0.8"/><path d="M754 1070h0m108 6h0m-187 -67h0m79 89h0m-57 -111h0m160 136h0m-132 -119h0m43 141h0m-21 -56h0m-103 74h0m-18 -94h0m72 130h0m84 -24h0m-37 19h0" stroke="#4ab02c" stroke-width="9" stroke-linecap="round" fill="none" opacity="0.8"/><path d="M840 1127h0m-147 59h0m-47 -43h0m68 -28h0m163 -27h0m-151 106h0m56 -209h0m70 184h0m-100 10h0m-128 -93h0m93 -22h0m10 -22h0m-2 161h0" stroke="#c06020" stroke-width="14" stroke-linecap="round" fill="none" opacity="0.8"/><path d="M783 998h0m41 25h0m-67 125h0m76 17h0m-131 -121h0m54 24h0m24 43h0m-122 -16h0m65 11h0m-8 84h0m128 -87h0m-202 54h0m92 -131h0m-51 68h0m-10 13h0m51 26h0" stroke="#a08020" stroke-width="19" stroke-linecap="round" fill="none" opacity="0.8"/><path d="M682 1199h0m68 -104h0m47 -48h0m-154 39h0m156 -21h0m-47 -90h0m-90 79h0m52 41h0m-5 -76h0m-33 112h0" stroke="#a08020" stroke-width="9" stroke-linecap="round" fill="none" opacity="0.8"/><path d="M805 1062C803 1075 801 1075 791 1086C781 1096 782 1098 767 1104C752 1110 750 1109 732 1109C714 1110 710 1112 695 1106C681 1100 681 1097 673 1086C664 1075 663 1074 662 1062C661 1050 661 1048 669 1037C677 1026 680 1025 695 1018C711 1011 714 1009 732 1009C750 1010 750 1014 766 1021C783 1027 788 1025 797 1036C807 1046 807 1049 805 1062Z" fill="#5460d4" filter="url(#jb2)"/><path d="M744 1028h0m-64 37h0m34 26h0" stroke="#9a50d0" stroke-width="11" stroke-linecap="round" fill="none" opacity="0.8"/><path d="M772 1041h0" stroke="#c040b0" stroke-width="17" stroke-linecap="round" fill="none" opacity="0.8"/><path d="M751 1082h0m-33 -8h0" stroke="#9a50d0" stroke-width="17" stroke-linecap="round" fill="none" opacity="0.8"/><path d="M710 1074h0" stroke="#c040b0" stroke-width="11" stroke-linecap="round" fill="none" opacity="0.8"/><path d="M694 1071h0" stroke="#9a50d0" stroke-width="23" stroke-linecap="round" fill="none" opacity="0.8"/><ellipse cx="722" cy="1068" rx="18" ry="14" fill="#d040a0" filter="url(#jb4)"/><path d="M591 1820C581 1852 566 1849 546 1879C527 1908 538 1910 513 1937C488 1964 486 1967 446 1985C405 2003 400 2002 351 2008C301 2014 296 2016 249 2008C203 1999 212 1988 164 1974C117 1960 96 1974 61 1952C26 1929 36 1919 25 1886C13 1853 18 1854 15 1820C13 1786 -3 1782 14 1752C31 1722 44 1721 83 1701C122 1681 128 1690 169 1672C211 1654 202 1642 249 1629C295 1616 303 1615 354 1618C406 1622 418 1621 455 1644C493 1666 472 1680 505 1707C537 1735 564 1724 585 1752C607 1780 601 1788 591 1820Z" fill="#4e6a1c" filter="url(#jb8)"/><path d="M464 1700C463 1720 457 1724 446 1740C435 1755 434 1759 420 1760C406 1762 398 1762 389 1747C379 1731 381 1721 382 1700C383 1679 384 1676 394 1661C403 1646 407 1641 420 1641C433 1640 437 1644 448 1658C459 1673 464 1680 464 1700Z" fill="#3a5a1c" filter="url(#jb4)"/><path d="M334 1819h0m-116 -45h0m130 -97h0m43 67h0m-74 -46h0m-122 59h0m-70 -87h0m-10 135h0m125 -169h0m-92 54h0m80 1h0m-32 229h0m-60 -227h0m303 214h0m-126 -17h0m166 -88h0m-302 154h0m227 -6h0m-119 -66h0m11 -230h0m-5 243h0m2 -208h0" stroke="#8aa028" stroke-width="14" stroke-linecap="round" fill="none" opacity="0.6"/><path d="M288 1905h0m-220 -159h0m-27 59h0m387 44h0m-179 12h0m111 -32h0m-121 133h0m-153 -226h0m2 62h0m-48 69h0m290 73h0m7 -47h0m-303 -89h0m88 2h0m5 87h0m124 65h0m269 -218h0m-408 141h0m253 -159h0m-164 -79h0m296 190h0" stroke="#b85a20" stroke-width="19" stroke-linecap="round" fill="none" opacity="0.6"/><path d="M177 1876h0m71 -184h0m-77 163h0m-40 23h0m343 -61h0m1 -74h0m-1 38h0m-259 109h0m107 -38h0m-5 -164h0m8 134h0m-146 -81h0m-18 0h0m-37 -47h0m193 232h0m-198 -179h0m114 134h0m264 -66h0m-299 -87h0" stroke="#b85a20" stroke-width="9" stroke-linecap="round" fill="none" opacity="0.6"/><path d="M75 1889h0m157 -146h0m-76 91h0m390 -48h0m-237 -16h0m-221 54h0m260 117h0m-172 -257h0m63 118h0m232 96h0m-40 -27h0m-173 -236h0m58 39h0m34 191h0m-22 3h0m121 3h0m-259 -31h0m304 -46h0m-75 -111h0" stroke="#6ac030" stroke-width="9" stroke-linecap="round" fill="none" opacity="0.6"/><path d="M335 1827h0m-199 100h0m260 -186h0m103 79h0m-146 93h0m-42 -139h0m150 127h0m-282 -43h0m157 -209h0m86 189h0m-89 -111h0m-303 130h0m22 -19h0m368 -113h0m-262 -9h0m350 30h0m15 123h0m-16 -56h0m-363 45h0m60 -29h0m-160 15h0m141 64h0m262 -215h0m-27 58h0m-174 118h0m33 -212h0" stroke="#a08020" stroke-width="19" stroke-linecap="round" fill="none" opacity="0.6"/><path d="M103 1842h0m380 -74h0m-381 125h0m208 73h0m137 -283h0m-126 11h0m-210 -22h0m130 156h0m45 2h0m127 77h0m44 -129h0m-335 70h0m60 -142h0m-51 -46h0m127 104h0m260 72h0m-79 -112h0m-124 132h0m210 -18h0m-303 -135h0m228 170h0m23 -169h0m-411 127h0m292 -191h0m2 299h0m-104 21h0m129 -9h0m-323 -165h0m377 38h0m-234 15h0m234 -114h0" stroke="#8aa028" stroke-width="19" stroke-linecap="round" fill="none" opacity="0.6"/><path d="M352 1923h0m-231 -101h0m8 66h0m275 -196h0m-293 14h0m181 2h0m1 -3h0m237 85h0m-215 -156h0m-216 265h0m271 -142h0m-246 147h0m115 49h0m74 -117h0m-157 -81h0m170 114h0m86 -186h0m81 93h0m-118 58h0m-81 -95h0m-41 155h0m-138 -83h0m351 -89h0m-214 44h0m-125 -71h0m385 130h0m-71 58h0m-359 -2h0" stroke="#a08020" stroke-width="9" stroke-linecap="round" fill="none" opacity="0.6"/><path d="M494 1703h0m-291 171h0m244 -188h0m-211 100h0m-109 -87h0m-112 74h0m407 31h0m-285 91h0m180 -138h0m192 1h0m-323 -41h0m-124 170h0m352 -45h0m-266 -5h0m152 -34h0m-215 112h0m260 -213h0m-73 251h0m158 -129h0m-42 -122h0m-315 148h0m184 -159h0m-230 152h0m318 -198h0m-155 161h0" stroke="#8aa028" stroke-width="9" stroke-linecap="round" fill="none" opacity="0.6"/><path d="M247 1941h0m-77 -14h0m152 -249h0m-252 225h0m-45 -110h0m207 65h0m213 58h0m34 -217h0m-255 100h0m197 -139h0m-232 125h0m82 -103h0m128 96h0m115 -3h0m-343 10h0m258 -69h0m-226 -66h0m97 97h0m-189 95h0m40 -19h0m67 -8h0m-87 66h0m118 -9h0m223 -12h0m-430 -39h0" stroke="#6ac030" stroke-width="14" stroke-linecap="round" fill="none" opacity="0.6"/><path d="M180 1948h0m210 -132h0m71 62h0m-269 -158h0m152 -23h0m-171 220h0m299 -116h0m-451 -36h0m247 141h0m152 -128h0m-300 -50h0m160 47h0m28 78h0m-55 -109h0m102 74h0m-128 -143h0m241 26h0m-285 29h0" stroke="#5a9a28" stroke-width="14" stroke-linecap="round" fill="none" opacity="0.6"/><path d="M110 1695h0m247 103h0m-253 -81h0m238 181h0m-30 -247h0m-203 202h0m204 -82h0m-265 -13h0m254 149h0m38 -250h0m-300 104h0m73 -78h0" stroke="#b85a20" stroke-width="14" stroke-linecap="round" fill="none" opacity="0.6"/><path d="M532 1774h0m-89 135h0m24 -191h0m-31 103h0m-124 108h0m-64 -227h0m275 71h0m-373 116h0m1 -2h0m277 -161h0m-154 125h0m238 20h0m-98 -90h0m49 -8h0m-35 12h0m105 10h0m-88 -38h0m-222 195h0m-83 -144h0m111 -160h0m-19 31h0m-42 198h0" stroke="#a08020" stroke-width="14" stroke-linecap="round" fill="none" opacity="0.6"/><path d="M328 1781h0m-257 -27h0m354 128h0m49 -27h0m-420 -142h0m412 0h0m-386 55h0m389 105h0m-207 14h0m280 -128h0m-360 138h0m289 -180h0m-316 173h0m255 58h0m-5 -77h0m-149 -196h0m229 161h0m-140 -14h0m-233 -38h0m293 104h0m-9 60h0" stroke="#5a9a28" stroke-width="9" stroke-linecap="round" fill="none" opacity="0.6"/><path d="M397 1801h0m103 -61h0m-7 104h0m-373 -80h0m94 137h0m67 -29h0m66 8h0m-168 -68h0m154 -142h0m-114 151h0m-29 -135h0m-22 85h0m-94 -30h0m289 -4h0m-279 38h0m228 142h0m9 -170h0m101 -77h0m-310 92h0m236 -23h0" stroke="#5a9a28" stroke-width="19" stroke-linecap="round" fill="none" opacity="0.6"/><path d="M32 1850h0m163 -78h0m177 162h0m15 -163h0m-355 -10h0m517 51h0m-422 -19h0m328 -36h0m-352 4h0m250 27h0m-274 64h0m104 17h0m235 68h0m-202 -197h0m-51 -82h0m334 98h0m-144 34h0m-193 -86h0m106 60h0m91 150h0m-195 -202h0" stroke="#6ac030" stroke-width="19" stroke-linecap="round" fill="none" opacity="0.6"/><path d="M239 1711h0m-87 -13h0m56 51h0m-67 -16h0m99 -2h0" stroke="#c0e050" stroke-width="13" stroke-linecap="round" fill="none" opacity="0.8"/><path d="M157 1744h0m53 -53h0m38 15h0m-4 24h0m-29 8h0m4 -37h0m-9 -3h0m-68 25h0m12 -31h0m23 7h0" stroke="#a0e040" stroke-width="17" stroke-linecap="round" fill="none" opacity="0.8"/><path d="M226 1750h0m18 -57h0m-5 26h0m23 25h0" stroke="#a0e040" stroke-width="13" stroke-linecap="round" fill="none" opacity="0.8"/><path d="M180 1746h0m36 -1h0m48 -46h0m-103 27h0" stroke="#c0e050" stroke-width="17" stroke-linecap="round" fill="none" opacity="0.8"/><path d="M259 1735h0m-90 -30h0m44 13h0m-3 33h0m14 -23h0m-43 -13h0" stroke="#c0e050" stroke-width="9" stroke-linecap="round" fill="none" opacity="0.8"/><path d="M205 1698h0" stroke="#a0e040" stroke-width="9" stroke-linecap="round" fill="none" opacity="0.8"/><path d="M373 1875C374 1904 380 1908 365 1932C350 1956 342 1956 314 1970C285 1983 282 1987 250 1986C218 1986 216 1983 187 1969C158 1955 151 1956 135 1932C120 1908 122 1902 125 1875C127 1848 129 1846 144 1822C159 1798 159 1794 186 1780C213 1765 218 1765 250 1765C282 1765 285 1767 314 1780C342 1794 349 1795 364 1818C379 1842 373 1846 373 1875Z" fill="#7460c8" filter="url(#jb2)"/><path d="M244 1917h0m-83 -20h0m32 -39h0m6 -51h0m50 60h0" stroke="#c040b0" stroke-width="11" stroke-linecap="round" fill="none" opacity="0.8"/><path d="M339 1856h0m-67 99h0m-85 -102h0m-11 -21h0m158 7h0" stroke="#9a50d0" stroke-width="17" stroke-linecap="round" fill="none" opacity="0.8"/><path d="M268 1832h0m4 -7h0m-15 65h0m63 34h0" stroke="#9a50d0" stroke-width="23" stroke-linecap="round" fill="none" opacity="0.8"/><path d="M307 1839h0m6 96h0m-134 -60h0" stroke="#c040b0" stroke-width="23" stroke-linecap="round" fill="none" opacity="0.8"/><path d="M215 1921h0m-7 -69h0m27 -23h0m16 35h0m-85 19h0" stroke="#c040b0" stroke-width="17" stroke-linecap="round" fill="none" opacity="0.8"/><path d="M297 1868h0m-126 -37h0m163 40h0m-111 68h0m-27 -123h0m35 51h0" stroke="#e04890" stroke-width="23" stroke-linecap="round" fill="none" opacity="0.8"/><path d="M310 1903h0m-142 -48h0m42 33h0m-22 33h0m154 -46h0" stroke="#e04890" stroke-width="11" stroke-linecap="round" fill="none" opacity="0.8"/><path d="M323 1832h0m-2 85h0m-24 -103h0m-27 58h0" stroke="#e04890" stroke-width="17" stroke-linecap="round" fill="none" opacity="0.8"/><path d="M327 1920h0m-122 -24h0m75 18h0" stroke="#9a50d0" stroke-width="11" stroke-linecap="round" fill="none" opacity="0.8"/><path d="M1477 1766h0m3 -8h0m-97 42h0m51 80h0m72 -22h0m10 -29h0m-102 32h0m11 -91h0m40 113h0m61 -56h0m-132 -52h0m-7 49h0m133 14h0m32 2h0" stroke="#8a2010" stroke-width="10" stroke-linecap="round" fill="none" opacity="0.8"/><path d="M1480 1854h0m-13 35h0m-73 -85h0m42 48h0m21 3h0m-38 -97h0m101 108h0" stroke="#a05020" stroke-width="16" stroke-linecap="round" fill="none" opacity="0.8"/><path d="M1486 1751h0m-63 -6h0m56 129h0m-81 -79h0m74 -40h0m-70 101h0m52 -119h0m7 22h0m-48 -15h0m-1 8h0m89 105h0" stroke="#a05020" stroke-width="10" stroke-linecap="round" fill="none" opacity="0.8"/><path d="M1490 1848h0m-47 -89h0m-49 86h0m126 8h0m-129 -46h0m-7 11h0m11 -27h0m46 65h0m-33 0h0m110 -25h0" stroke="#50c030" stroke-width="10" stroke-linecap="round" fill="none" opacity="0.8"/><path d="M1488 1746h0m-27 14h0m59 109h0m-97 -96h0m-51 31h0m28 52h0m64 3h0m-88 -41h0m157 14h0" stroke="#8a2010" stroke-width="16" stroke-linecap="round" fill="none" opacity="0.8"/><path d="M1412 1775h0m-18 24h0m93 -39h0m-43 112h0m-15 -107h0m69 83h0m-12 18h0m-23 -114h0m72 81h0m-111 24h0m78 9h0m-20 -112h0" stroke="#50c030" stroke-width="16" stroke-linecap="round" fill="none" opacity="0.8"/><path d="M1441 1880h0m-32 -119h0m113 85h0m-157 -46h0m95 86h0" stroke="#70d040" stroke-width="16" stroke-linecap="round" fill="none" opacity="0.8"/><path d="M1376 1774h0m49 97h0m-24 -117h0m139 58h0m-86 -59h0m85 47h0m9 -25h0m-100 93h0m9 9h0m-91 -93h0m47 -30h0m-8 104h0m118 -39h0" stroke="#70d040" stroke-width="10" stroke-linecap="round" fill="none" opacity="0.8"/><path d="M1518 1805h0m-38 74h0m-2 -113h0m43 79h0m-123 -42h0m-24 13h0m62 46h0m66 -10h0m-115 -24h0m134 16h0" stroke="#c03018" stroke-width="10" stroke-linecap="round" fill="none" opacity="0.8"/><path d="M1424 1846h0m-39 12h0m-8 -76h0m85 76h0m31 3h0m-6 -95h0m-85 92h0m155 -52h0m-171 34h0m83 37h0" stroke="#c03018" stroke-width="16" stroke-linecap="round" fill="none" opacity="0.8"/><path d="M1549 1541h0m13 -40h0m-47 -34h0m-28 -53h0m9 94h0m-21 -66h0m24 61h0" stroke="#4a1006" stroke-width="11" stroke-linecap="round" fill="none" opacity="0.6"/><path d="M1487 1312h0m45 202h0m-11 19h0m-45 -172h0m20 0h0m-34 38h0m18 16h0m29 6h0" stroke="#6a1808" stroke-width="9" stroke-linecap="round" fill="none" opacity="0.6"/><path d="M1492 1415h0m-10 65h0m0 -29h0m31 -78h0m-20 -69h0" stroke="#6a1808" stroke-width="7" stroke-linecap="round" fill="none" opacity="0.6"/><path d="M1471 1355h0m57 162h0m-54 -55h0m78 53h0m11 -163h0m-99 44h0" stroke="#6a1808" stroke-width="11" stroke-linecap="round" fill="none" opacity="0.6"/><path d="M1536 1505h0m-19 24h0" stroke="#4a1006" stroke-width="7" stroke-linecap="round" fill="none" opacity="0.6"/><path d="M1515 1487h0m28 -133h0" stroke="#4a1006" stroke-width="9" stroke-linecap="round" fill="none" opacity="0.6"/></g><g transform="translate(680 1800) scale(0.17857)"><rect x="128" y="1861" width="100" height="13" fill="#fff"/></g></g>
<text transform="translate(515.87 1862.9) scale(0.8421 1)" font-size="40.56" stroke="#000" stroke-width="0.45">NSD</text>
<text transform="translate(787.05 1859.8) scale(0.8364 1)" font-size="41.08" stroke="#000" stroke-width="0.45">HSD</text>
<text transform="translate(396.8 2143) rotate(-90) scale(0.7781 1)" font-size="32.24" fill="#d6224e" stroke="#d6224e" stroke-width="0.45">cell mask</text>
<text transform="translate(396.8 2031.6) rotate(-90) scale(0.8130 1)" font-size="32.24" fill="#2ca84e" stroke="#2ca84e" stroke-width="0.45">LC-3</text>
<text transform="translate(396.8 1967.24) rotate(-90) scale(0.7893 1)" font-size="32.24" fill="#3b6fc4" stroke="#3b6fc4" stroke-width="0.45">Hoechst</text>
<text transform="translate(383.62 1843.4) scale(0.8969 1)" font-size="50.23" font-weight="700" fill="#1a1a1a">J</text>
</g>
</svg>
</body></html>
